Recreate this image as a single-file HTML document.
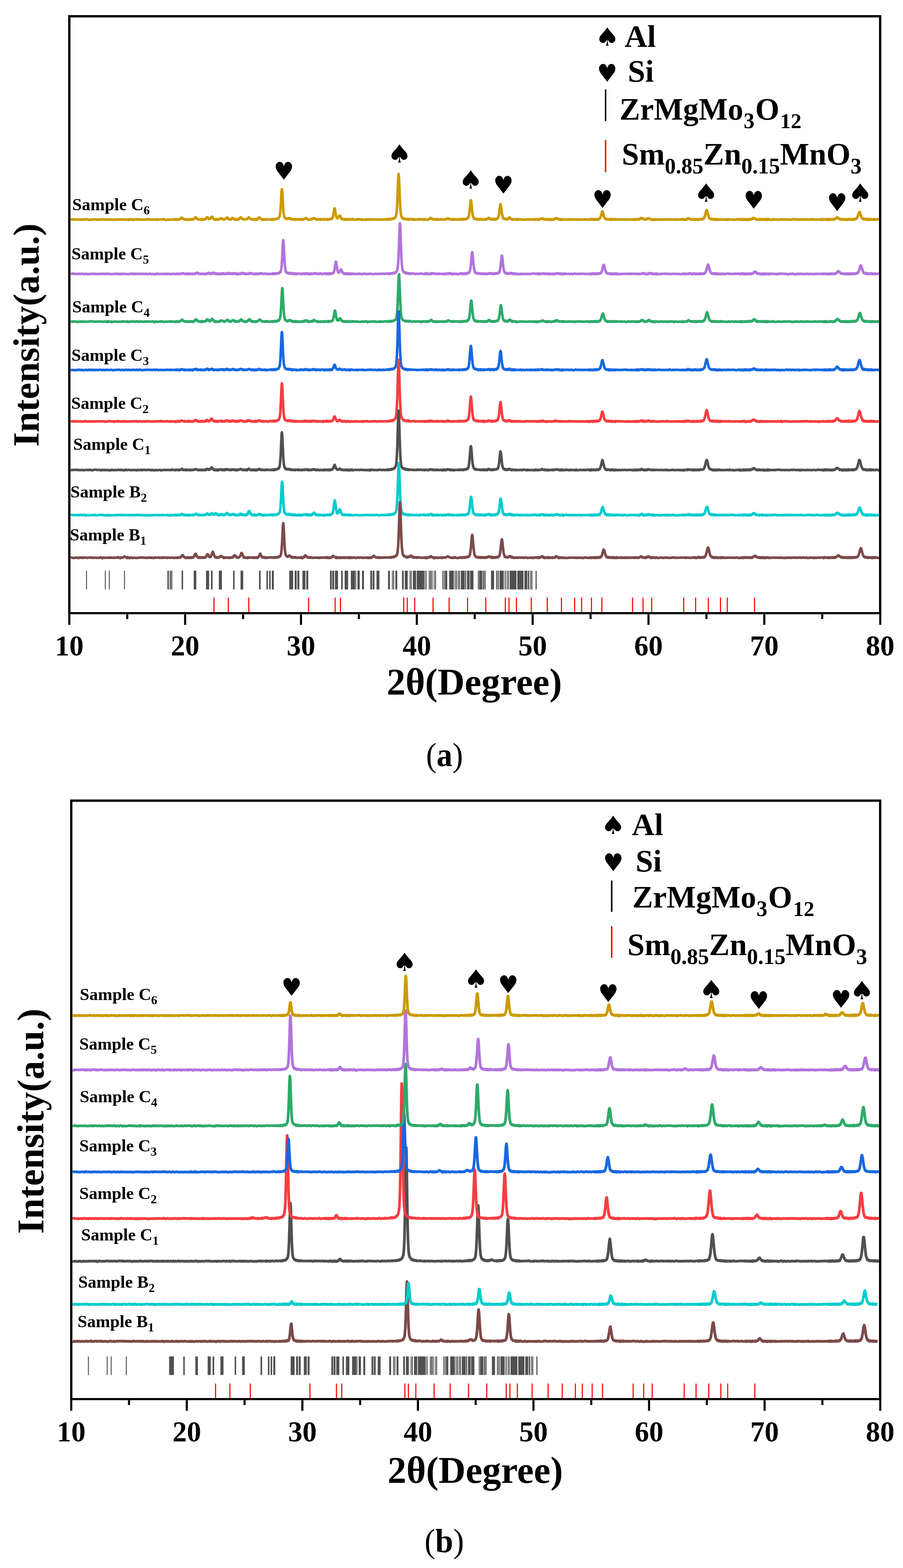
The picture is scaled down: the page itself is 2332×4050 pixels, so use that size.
<!DOCTYPE html>
<html><head><meta charset="utf-8"><title>XRD patterns</title>
<style>
html,body{margin:0;padding:0;background:#fff;}
svg{display:block;}
.t{font-family:"Liberation Serif","Times New Roman",serif;font-weight:bold;fill:#000;}
.n{font-family:"Liberation Serif","Times New Roman",serif;font-weight:normal;fill:#000;}
.sym{font-family:"DejaVu Sans",sans-serif;fill:#000;}
</style></head><body>
<svg width="2332" height="4050" viewBox="0 0 2332 4050">
<rect width="2332" height="4050" fill="#fff"/>
<g fill="none" stroke-width="6.6" stroke-linejoin="round" stroke-linecap="butt">
<path stroke="#CC9A04" d="M182.5 567.6l 2-.3 2-1 2 .7 2 .3 2-.6 2 .4 2-.1 2 0 2-.1 2 .3 2 .3 2-.9 2 .9 2-.4 2 .1 2-.7 2 .6 2 .6 2-1.2 2-.4 2 .1 2 .9 2 1 2-.6 2 .2 2-.7 2 .6 2-.7 2 .4 2-.4 2-.2 2 .4 2-.3 2 .8 2-.5 2 .1 2-.4 2 .8 2-.9 2 .6 2-.5 2-.2 2 .2 2-.2 2 .3 2-.1 2 .3 2 .1 2-.3 2 .1 2 .1 2-.3 2 .5 2 .1 2-.3 2 1 2-.7 2-.5 2-.1 2 .1 2-.1 2 .7 2-.8 2 .3 2-.2 2 .7 2-1.1 2 .4 2 .1 2 .2 2 .1 2-.3 2 .5 2-.3 2 1 2-1.8 2 1 2-.8 2 .1 2 1.3 2-.1 2-1.6 2 .7 2 .1 2-1 2 1 2 .2 2-.1 2-1 2 1.4 2-.4 2-.1 2-.3 2 .6 2 .1 2-.6 2 .2 2 .4 2-1.3 2 .9 2-.9 2 .5 2 .6 2-.3 2-.1 2 .1 2 .5 2-.1 2-.7 2 .5 2-.3 2 1.3 2-1.4 2 .1 2 0 2 0 2 .2 2 .1 2-.8 2 .4 2-.3 2 1.1 2 .6 2-.5 2-.5 2 .3 2-.4 2 .7 2-.4 2-.4 2-.4 2 .2 2 .4 2-.7 .7 .4 1 .7 .3-.5 .7 .8 1-.2 .3-.8 .7-.5 1 .6 .3-.2 .7 .4 1 .5 .3-1.2 .7 .3 1 .3 .3 .3 .7-.3 1-.1 .3 .4 .7-.5 1-.7 .3 0 .7-.8 1-.2 .3-.1 .7-2.4 1 1.1 .3-.8 .7 .1 1 .4 .3-1.1 .7 1.1 1 1.3 .3 .1 .7 1 1 .2 .3-.4 .7 1.2 1 .4 .3-.2 .7-.5 1 .2 .3 .4 .7 0 1 .2 .3-.6 .7-.5 1 .4 .3 .5 .7 .1 1 .7 .3-1 .7 .1 1-.2 .3-.1 .6 .5 .1-.1 .9-.3 .4-.4 .6 .4 1-.1 .4 .7 .6-.1 1-.9 .4 1 .6-.8 1 .3 .4 .5 .6-1 1 .4 .4-.6 .6-.4 1 1.2 .4-.5 .6-.5 1-.8 .4 .3 .6 .3 1-1.5 .4-.9 .6-.8 1-.7 .4-1.1 .6 1.2 1 0 .4 .8 .6-.2 1 1.9 .4 .4 .6-.4 1 1.5 .4 .3 .6-.2 1 .3 .4 .4 .6-.1 1-.4 .4 .7 .6-.1 1 0 .4-.1 .5 .2 .1-.3 .9-.3 .1 .1 .4 .8 .5-1.4 .1 1.2 .9-.9 .1-.1 .4 .3 .5 .3 .1 .4 .9-1.1 .1 1.6 .4-.3 .5-.6 .1 0 .9-.3 .5 .6 .5-.2 1 .6 .5-1 .5 .5 1-.4 .5-.4 .4 1.1 .1-.8 .9-.2 .1-.8 .5-.2 .4 0 .1-.3 .9-.5 .1-.1 .5-1.2 .4-.2 .1-.1 .9-1.1 .1-.5 .5-.2 .4 .3 .1 .4 .9-.5 .1 1 .5 .1 .4-.2 .1 .8 .9 1.4 .1-.2 .5 1.4 .4-.5 .1 .3 .9 .2 .1 .4 .5-1.4 .4 .7 .1 .3 .9 .1 .1-.2 .5 0 .4-.7 .1-.1 .9-1.4 .1 .1 .5-.5 .4-.7 .1 0 .9-1.8 .1-.2 .5-.4 .4 .3 .1 .6 .9-.1 .1 .2 .5-.3 .4 2.6 .1-1.6 .9 2.8 .1-1 .5 1.4 .4 .5 .1-.3 .9 .7 .1-.3 .5 .7 .4 .7 0-.3 .1-.5 .9 1.2 0-1.1 .6 .7 .4-.4 0 0 1 1 0-.7 .6-.5 .4 .5 0 .6 1-.7 0 .9 .6-.1 .4-.4 0 .5 1 .3 0-1.7 .6 1.4 .4-.3 0-.4 1 .5 0-.2 .6-.4 .4 .9 0-.6 1 .4 0-.6 .6-.7 .4 .8 0-.2 1-.7 .6-.4 .4 .9 .9-.2 .1 0 .6-.8 .3-.4 .1 0 .9-.6 .1 .4 .6-.8 .3-.4 .1 .5 .9 .4 .1-.2 .6 .4 .3 1.2 .1-.6 .9-.4 .1 .9 .6-.9 .3 1.4 .1 0 .9 .1 .1-.4 .6 .1 .3 .7 .1-.5 .9 .7 .1-.6 .6 .1 .3 .5 .1-.4 .9-.2 .1 .2 .6-.1 .3-.4 .1 .2 .9-.7 .1 .2 .6-.5 .3-.2 0 .1 .1-.8 .9-1 0 .4 .1 0 .6-.2 .3-1 0 .6 .1 .1 .9-1.3 0 1 .1 .4 .6-.4 .3-.3 0 .1 .1 .3 .9 .6 0-1.2 .1 2.1 .6-.3 .3 .4 0 .6 .1-.3 .9 .4 0 .2 .7 .7 .3 .1 0-.3 1 .7 0 0 .7-.4 .3-.2 0 .6 1 .1 0-.5 .7 0 .3 .4 0-.2 1 .3 0-.4 .7 .6 .3-1 0-.7 1-.3 0 0 .7-1.2 .3 .8 0-.3 1-.7 0-.2 .7-.5 .3 .4 0-.3 1 .7 0-.4 .7 .2 .3 .9 0 .1 .9 .8 .1-.2 0 .7 .7-.5 .2 .9 .1-.9 .9 .6 .1 .1 .7 .3 .2 .9 .1-1 .9-.1 .1 .9 .7-.3 .2-.7 .1 .8 .9 .3 .1-.6 .7 .9 .2 0 .1-1 .9 .7 .1-1.3 .7 1 .2-.5 .1 .8 .9-.9 .1 .9 .7-.9 .2 .1 .1-.1 .9 .2 .1-.7 .7 .6 .2-.7 .1 1.2 .9-1.8 .1-.3 .7-.1 .2-.9 .1 .6 .9-1.7 .8-.4 .2-.4 1-.3 .8-.2 .2 .2 1 2 .8 .9 .2 0 0-.6 1 1.9 0-.7 .8 .7 .2 .6 0-.5 1 .4 0-.1 .8 .1 .2 0 0 .1 1 .4 0-.2 .8-.4 .2 .5 0 0 1 .1 0 .2 .8-.1 .2-.5 0 0 1 .1 0-.1 .8-.4 .2 .5 0-.4 1-.1 0 0 .8 0 .2-.1 0 .1 1-.2 0 .5 .8-1.5 .2 .9 0-.3 1-1 0-.4 .8-.8 .2 0 1-1.1 .8-.9 .2 .5 1 .7 .8 .8 .2 .1 1 .6 .8 1.2 .2 .2 1 .5 .8 .6 .2 .1 1 .1 .8 .1 .2 0 .9 .1 .1-.2 .8 0 .1 .2 .1-.5 .9-.3 .1 .8 .8-.5 .1 1.3 .1-.4 .9 .2 .1-.2 .8-.5 .1 .4 .1 0 .9-.9 .1 1 .8-.7 .1-.2 .1 .9 .9-.6 .1-.2 .8 .9 .1-1.3 .1 .5 .9 .8 .9 .6 .1-1.2 1 .2 .9-1.2 .1 1.3 1-1.8 .9-1.8 .1 1.2 1-1.1 .9-1.3 .1 .4 1 .1 .9-.9 .1 .9 1 .3 .9 2.1 .1-.3 1 .4 .9 1 .1-.3 1 .8 .9-.1 .1 .6 1 .8 .9-1 .1 .2 1-.2 .9-.4 .1 .5 1 .2 .9-.1 .1-.3 1-.1 .9 .9 .1-.4 1 .2 .9-.9 .1 .9 1-1.3 .9 .9 2-.2 2 0 2-.3 2 .6 2-.2 2-.2 .5 .8 .5-.4 .5-.5 .5-.1 .5-.9 .5 .6 .5 .1 .5-.2 .5 .3 .5 .9 .5-.7 .5-.3 .5-.4 .5 .9 .5-.6 .5 .9 .5-.8 .5 .5 .5-.4 .5-.3 .5 0 .5 .2 .5-.4 .5-.7 .5-.2 .5 .4 .5-.1 .5 .3 .5-.2 .5 .1 .5-.4 .5 .2 .5-.3 .5 .2 .5-1.1 .5-.7 .5 .2 .5 .3 .5-1.1 .5-.5 .5-1.2 .5-.9 .5-1.1 .5-2.7 .5-2.1 .5-3.8 .5-5 .5-6.2 .5-7.9 .5-7.8 .5-9.6 .5-10.1 .5-7.9 .5-6.1 .5-1.3 .5 1.5 .5 5.4 .4 6.8 .1 2.3 .5 9 .4 6.8 .1 2.4 .5 8.9 .4 5.3 .1 3.1 .5 5.4 .4 4.8 .1 0 .5 3.9 .4 2.1 .1 1.2 .5 2.1 .4 .8 .1 .7 .5 1.1 .4 .5 .1-.4 .5 .2 .4 .2 .1 .1 .5 .9 .4-.2 .1 .6 .5 1 .4-.6 .1-.8 .5 1.5 .4-.4 .1-.1 .5 .2 .4-.4 .1 .7 .5 .4 .4-.8 .1 .7 .5 0 .4-.5 .1 .6 .5-1 .4 .6 .1-.3 .5-.2 .4 .1 .1-.2 .5-1.2 .4 .1 .1 0 .5 .2 .4 .3 .1 .1 .5-.3 .4-.3 .1-.5 .5 1.1 .4-.3 .1-.5 .5 .5 .4 1.1 .1 .2 .5-.7 .4 1.6 .1-.5 .5 .2 .4-.6 .1 1.5 .5-.7 .4-.2 .1 .2 .5 .2 .4-.3 .1 .8 .5-.3 .4-.7 .1 .4 .5 0 .4 .1 .1 .2 .9 .3 .1-.2 .9 .1 1-.2 .1 .6 .9-.4 1 1.1 .1-1.3 .9 .4 1 .6 .1-1.1 .9 .1 1-.1 .1 .5 .9-.1 1.1 .2 2 .5 2-1 .7 .3 1 .4 .3-1.3 .7 .9 1 0 .3-.1 .7 .4 1 .4 .3-.7 .7 1.2 1-1.3 .3 .3 .7 .1 1-.8 .3 .9 .7-.3 1 .1 .3 .3 .7-.5 1 .2 .3-1.1 .7 .2 1 .1 .3-.7 .7-1 1-.5 .3 .1 .7-.4 1 1 .3-1.4 .7 1.4 1 .3 0 0 .3 .6 .7 0 0 .8 1-.2 0 .1 .3 .7 .7-.1 0-.1 1 .1 0-.5 .3 .6 .7 .9 0-1.1 1-.3 0-.2 .3-.2 .7 .7 0-.1 1 .7 0-.5 .3 .3 .7 0 0 .3 1-.7 0 .5 .3-.2 .7-.7 0 0 1 .5 0-.4 .3-.9 .7 .9 0 0 1-.4 0 .5 .3-1 .7-1 0 1 1-1 .3 0 .7-.4 1-.6 .3-.2 .7 .4 1 .7 .3 .1 .7 .8 1 .5 .3 .3 .7-.2 1 .6 .3-.3 .7 .1 1 1.2 .3-1.1 .7 .7 1-1 .3 .7 .7 .6 1-.1 .3-.7 .7 .7 1-.5 .3-.3 .7-.1 1-.4 .3 1.1 .7 .2 1 .4 .3-.9 2 0 2-.1 2 .3 .5 0 .5-.8 .5 .9 .5 0 .5-.1 .5-.2 .5-.8 .5 .9 .5-.1 .5-.2 .5 .3 .5-.2 .5 .1 .5 0 .5-.2 .5-.3 .5-.1 .5 .7 .5-.2 .5 .2 .5 0 .5-.3 .5 .9 .5-1.1 .5 .3 .5-.3 .5 0 .5-.3 .5 .7 .5-.5 .5 .5 .5 .1 .5-.5 .5-.3 .5 .3 .5 .1 .5-.1 .5-.9 .5 1.2 .5-1.2 .5-.4 .5 .8 .5-.7 .5 0 .5-.3 .5 .2 .5-1.4 .5-.7 .5-1.5 .5-1.7 .5-1.2 .5-2.5 .5-2.3 .5-4.2 .5-2.8 .5-3 .5-3.9 .5-1.8 .5 .1 .5 .5 .5 1.6 .5 3.4 .5 2.4 .5 3 .5 3.8 .5 2.8 .5 2.6 .5 1.6 .5 1.7 .5 .3 .5 1.5 .5-.3 .5 1.1 .5-.5 .5 0 .5-.5 .5-.4 .5-.7 .5-1.4 .5-.6 .5-1 .5-.6 .5-.7 .5-1 .5 .1 .5 .3 .5 .4 .5 0 .5 2.2 .5 1.8 .5 .2 .5 1.5 .5 .1 .5 .7 .5 1.8 .5-.6 .5-.1 .5 1.2 .5-.2 .5 .2 .5-1 .5 .8 .5 .3 .5-.1 .5-.3 .5 .3 .5 .8 .5-.8 .5 .5 .5 .5 .5-.8 .5 0 .5 .7 .5 0 .5-.2 .5-.9 .5 .8 .5-.1 .5 0 .5 .7 .5-1.2 .5 1.3 .5-1.6 .5 .3 .5 .5 .5-.2 .5 .4 .5 .1 .5-.8 .5 .4 .5 .2 .5-.7 .5 .5 .5 .1 .5 .2 .5-.4 .5 .7 .5-.5 .5-.1 .5-.6 .5 .3 .5 .2 .5-.4 .5 .4 2-.1 2-1.1 2 1.9 2 .1 2-.3 2-.2 2 0 2-1.1 2 1.1 2-.7 2 .3 2-.2 2 .6 2 1.2 2-1.4 2 .8 2-.4 2 .5 2-.2 2-1.3 2 1.3 2-.3 2-.7 2 .7 2-.9 2 .8 2 .4 2-.4 2-.7 2 .4 2 .3 2 .2 2-.3 2-.2 2-.1 2 .4 2 .5 2-.4 2-.6 2 .8 2-.6 2 .7 2-.8 2 .5 2-.7 2 0 1.9 .7 .1-1.2 .4 .6 .5-.3 .5 .3 .5-.1 .1 1 .4-.9 .5-.7 .5 .3 .5 .5 .1-.5 .4 .5 .5 .2 .5-.2 .5-1 .1 .3 .4 .2 .5-.8 .5 1.1 .5-.5 .1 0 .4 .2 .5-.5 .5 .9 .5-.4 .1-.9 .4 .5 .5-.3 .5 .5 .5-.1 .1 .3 .4-.9 .5 0 .5 .1 .5-.1 .1-.5 .4 .6 .5-.5 .5-1.3 .5-.1 .1 .6 .4 .9 .5-.4 .5-.6 .5-.6 .1 .1 .4 .1 .5-.8 .5 .3 .5-.4 .1-.3 .4-1.3 .5-.6 .5-1 .5-1.2 .1-1.1 .4-.4 .5-3.5 .5-3.1 .5-4.8 .1-1.2 .4-4.5 .5-8.2 .5-9.4 .5-11.3 .1-3.1 .4-9.4 .5-13.5 .5-14.1 .5-11.1 .1-2 .4-5.7 .5-2.8 .5 3.7 .5 6.5 .1 2.3 .4 10.1 .5 13.1 .5 12.6 .5 13.4 .1 1.8 .4 9.4 .5 9.7 .5 8.3 .5 4.7 .1 1.4 .4 4.3 .5 2.8 .5 2.8 .5 2.6 .1-.5 .4 1.2 .5 1.3 .5 .1 .5 2.3 .1-1.4 .4 0 .5 1.3 .5 .2 .5 .9 .1 .1 .4-.9 .5 .5 .5 .2 .5 1.7 .1-1.1 .4 .9 .5-.5 .5 .1 .5-.5 .1 .7 .4 .5 .5-.3 .5 .3 .5 0 .1 1 .4-1.4 .5 .8 .5 0 .5 .1 .1 .5 .4-1 .5 0 .5 .4 .5 .3 .1-.9 .4 .6 .5-.2 .5 1 .5 .1 .1-.7 .4 .4 .5-1.3 .5 .7 .5-.3 .1 .5 .4 .5 .5-.6 .5 .2 .5 1 .1-.7 .4 1 .5-1.2 .5-.8 .5 1.1 .1-.4 2-.4 2 .3 2-.4 2 1.8 2-1.6 2 1.6 2-1 2 .2 2 .1 2 .3 2-1.2 2 .9 2-1 2 1.1 2-.4 2 .1 2 .7 1.8-1.4 .2 .8 .8 .3 1-.2 .2 .8 .8-.6 1-.8 .2 .3 .8 .1 1 .6 .2-.1 .8-.2 1 0 .2-.1 .8 .1 1-.1 .2 .7 .8-.5 1-.2 .2-.1 .8-.2 1-1.4 .2 .7 .8-1.1 1 .4 .2-.9 .8-.5 1 .3 .2-1.1 .8 .1 1 1.5 .2 .1 .8 .7 1 .3 .2 .4 .8-.1 1-.1 .2 1 .8-.2 1-.5 .2-.1 .8 .2 1 .7 .2-.6 .8 .6 1-.8 .2 .5 .8 .3 1-.5 .2 0 .8-.2 1 1 .2-.7 .8 .3 1-.8 .2 .5 2 .3 2 .3 2-.3 2-.8 .7 .8 1 0 .3 .2 .7 0 1-.6 .3 .3 .7 .3 1 .1 .3-.8 .7 .1 1 .5 .3-.3 .7 0 1 .5 .3-.3 .7 .1 1 0 .3-.8 .7 .7 1-.5 .3-.8 .7 .5 1-.5 .3-.1 .7-.9 1 .2 .3-.9 .7 0 1 .9 .3-.1 .7 .3 1 1.3 .3-.7 .7-.4 1 1.3 .3-.2 .7 .1 1-.1 .3 0 .7 .2 1 .5 .3-.7 .7 .7 1-.4 .3 .3 .7 .6 1-.9 .3 .3 .7-.1 1 .5 .3-1.2 .7 .9 1-.4 .3-.4 .7 .2 1.3 .2 2 .3 2 0 2 .2 2-.8 .5 .4 .5 .1 .5 .2 .5-.7 .5 .3 .5-.6 .5 .5 .5-.3 .5 .1 .5 .5 .5-.2 .5-.3 .5 .9 .5-.2 .5-.4 .5-.3 .5 .5 .5-.5 .5 .1 .5 .3 .5-.3 .5-1 .5 1.1 .5 .4 .5-.4 .5-.4 .5 .9 .5-1.3 .5 1.2 .5-.9 .5-.5 .5 .9 .5 0 .5-.3 .5 .1 .5 .1 .5-.4 .5 .3 .5-.4 .5 0 .5-.7 .5-.2 .5-.4 .5 .6 .5-.9 .5-.2 .5-.4 .5-.5 .5-1.7 .5-.4 .5-.6 .5-2.7 .5-.9 .5-3.2 .5-3.9 .5-3.9 .5-4.7 .5-4.8 .5-5.5 .5-4.7 .5-4.1 .5-3.2 .5-1.7 .5 1.4 .5 2.8 .5 4.6 .5 3.6 .5 5.8 .5 6.9 .5 3.8 .5 4.6 .5 3.3 .5 2.1 .5 2.2 .5 2.1 .5 1.2 .5 .5 .5 .4 .5 1.6 .5 .6 .5-.8 .5 .9 .5 1.2 .5-1.1 .5 .5 .5 .2 .5 .7 .5-.8 .5-.1 .5 1.3 .5-.5 .5-.7 .5 .4 .5-.1 .5 .8 .5-.9 .5 1 .5 .2 .5-.3 .5-.6 .5 .4 .5 .8 .5-1 .5 .4 .5 .6 .5-.9 .5 .7 .5 .7 .5-.6 .5-.4 .5 0 .5-.4 .5 .7 .5-.4 .5-.7 .5 1 .5-.7 .5 .7 .4 .8 .1-1.4 .5 .5 .4 .1 .1-.4 .5 .7 .4-.1 .1-.5 .5-.1 .4-.2 .1 1.1 .9-.7 .6 .4 .4-.5 1-.1 .6-.3 .4 .4 1 .6 .6-.6 .4 .4 1 .6 .6-.5 .4-.6 1 1.1 .6-1.5 .4-.3 1-.4 .6 .3 .4-1 1-.2 .6 .3 .4-1 .7-.7 .3 .1 .2-.5 .4 1.2 .1 .4 .3-.1 .2-.8 .5 .6 .3-.3 .2 1.1 .4-.5 .1 .7 .3 .1 .2 .3 .5-.1 .3 .4 .2-.1 .4-.4 .1 .3 .3 .5 .2 .8 .5 .5 .3-.7 .2 .2 .4-.5 .1-.3 .3 .7 .2-.6 .5 .3 .3 .6 .2-.3 .4-.1 .1 0 .3-.6 .2 .6 .5 .1 .3-.4 .2 .2 .4-.1 .1 .3 .3 .3 .2-.1 .5-.4 .3-1.4 .2 1.3 .4 .7 .1-.4 .3-.8 .2 .6 .5 .6 .3-1.2 .2 .2 .4 .8 .1-.7 .3 0 .2 .6 .5-.2 .3 .5 .2-.9 .4 .8 .1-.9 .3-.4 .2 0 .5-.4 .3 .2 .2-.1 .4 .7 .1-.4 .5 1 .5-1.5 .5 .2 .4 .5 .1-.3 .5 .2 .5-1 .5 .4 .4-1.1 .1 1 .5-1.5 .5-.9 .5 .2 .4-.9 .1-.8 .5-1 .5-2.2 .5-1 .4-2.4 .1-.8 .5-2.8 .5-4.5 .5-4.2 .4-3.5 .1-.4 .5-3.8 .5-4.3 .5-.8 .4-1.8 .1-.1 .5 1.3 .5 2.3 .5 4 .4 2.9 .1 1.1 .5 3.2 .5 4.9 .5 3.3 .4 2.6 .1 .7 .5 1.7 .5 3.2 .1-.3 .4 2.1 .4 1.2 .1 0 .1 .5 .4 .8 .5 1.3 .1-.8 .4 .1 .4 .6 .1-.2 .1 .1 .4 1.4 .5-.6 .1 .5 .4-.6 .4 .1 .1 .1 .1 .2 .4 .7 .5-.1 .1-.4 .4 .5 .4-.8 .1 .5 .1 .2 .4-.3 .5 .2 .1 .3 .4-.2 .4 .3 .1 .3 .1-.7 .4-.1 .5 .4 .1-.4 .4 0 .4 0 .1-.6 .1 1.4 .4-.6 .5 .9 .1-.1 .4-.8 .4 .9 .1-.5 .1-1.4 .4 .9 .5-.7 .1 .6 .4-.5 .4-.6 .1 .3 .1-.1 .4-.7 .5-1.4 .1 .8 .4-.6 .4 .6 .1-1.4 .1-.1 .4 .5 .5 .1 .1 .3 .4-.6 .4-.5 .1 1.4 .1-.6 .4 .5 .5 1.1 .1-.5 .4-.3 .4 1.6 .1-1.2 .1 .9 .4 .7 .5 .8 .1-.6 .4-.1 .4 .5 .1-.2 .1 .6 .4-.3 .5 .6 .1-.6 .4 .4 .4 .5 .1 0 .1 0 .4 .3 .5-1 .1 .5 .8 .5 .2-.5 1-.2 .8 .2 .2 .1 1-.3 .8-.1 .2 .2 1 .4 .8-.6 .2 .1 1 .4 .8-.4 .2-.1 1-.3 .8 .9 2 .8 2-1.7 2 .9 2-1 2 1.1 2 0 2-.1 2-.1 2 .7 2-.3 2 .2 2-.5 2-.2 2-.5 2 .5 2 .2 2 .4 2-.8 2 .6 2-.7 2 .1 2 .6 2-.6 1-.1 1 .8 0 .4 1-1.4 1 .6 0-.1 1 0 1-.6 0 .7 1-.5 1 1 0-1.3 1 .5 1-.1 0 .6 1 .8 1-1.3 0 .9 1-1.3 1 .1 0 .3 1-.7 1-1.3 0 .8 1 0 1-1.5 0 1.3 1-.9 1-.2 0 .3 1 .7 1-.1 0 .5 1 .6 1 .8 0-1.5 1 1 1 .1 0 .5 1 .2 1-.5 0 .3 1-.1 1-.2 0-.6 1 .5 1 .6 0-.1 1-.3 1-.9 0 1.6 1-.5 1-.5 0 .1 1 .1 1 .4 .4-.9 1 .9 .6-.1 .4 .1 1 .2 .6-1.2 .4 1.9 1-1.3 .6-.3 .4 1 1-.5 .6-.1 .4 .4 1 .4 .6-.9 .4-.7 1 1.2 .6-1.3 .4 .3 1 .3 .6-1.3 .4 .8 1-1.6 .6 .8 .4-1 1-.5 .6-.5 .4 .3 1 .2 .6 .3 .4-.3 1 1.6 .6-.6 .4 .8 1 .6 .6-.7 .4 1.5 1-.2 .6-.5 .4 1 1-.5 .6-.3 .4 .2 1 1 .6-.3 .4 .4 1-1.6 .6 0 .4 1 1 .2 .6-.3 .4 0 1 .3 .6-.4 .4-.6 1.6 .7 2-.2 2-.1 2 .9 2-.8 2 .3 2-.8 2 .9 2-.4 2-.7 2 1.4 2-.3 2-.7 2 .3 2-.3 2 .8 2-1 2 1.1 2-.1 2-.4 2 .9 2-1.2 2 .7 2-.6 2 .3 2 .1 2-.2 2-.1 2 .2 2-.5 2 .8 2-.1 2 .3 .2-.4 .5-.1 .5 .1 .5-.8 .3 .3 .2-.1 .5-.6 .5 .8 .5 .4 .3-.2 .2-.2 .5-.6 .5 .9 .5-.3 .3 .3 .2-1.1 .5 1.4 .5-.1 .5-.5 .3-.1 .2 .8 .5-.5 .5 0 .5-.6 .3 1.2 .2 .1 .5-.8 .5 .6 .5-1.1 .3 .5 .2 .3 .5-.6 .5 .2 .5 .3 .3-.2 .2 .2 .5-.3 .5-.3 .5-.7 .3 1.1 .2-.3 .5 .8 .5-.5 .5 .3 .3-.8 .2 .4 .5-.2 .5 .6 .5-.2 .3 .2 .2 0 .5-.5 .5-.3 .5-.3 .3 .2 .2 .2 .5-.2 .5 1.1 .5-1.1 .3-.1 .2 .1 .5-.1 .5 .2 .5 0 .3-.2 .2-.5 .5-.4 .5 0 .5 .1 .3-1.2 .2 .6 .5-1.1 .5-.4 .5-.9 .3-.6 .2-.1 .5-.9 .5-2.3 .5-1.5 .3-.6 .2-1.6 .5-1.4 .5-1.4 .5-2.6 .3-1.3 .2-.7 .5-.2 .5-1.3 .5 1.1 .3 .4 .2 1 .5 1.4 .5 .9 .5 2 .3 1.9 .2 .9 .5 2 .5 1.3 .5 1.6 .3 1.3 .2-.9 .5 2 .5 .5 .5 .5 .3 .4 .2 .9 .5-.8 .5 1.3 .5 .4 .3 .5 .2-.7 .5-.1 .5-.3 .5 .8 .3-.4 .2 .5 .5-.1 .5 .4 .5-.3 .3 .1 .2 .6 .5-.5 .5 .6 .5-.9 .3 .6 .2 0 .5-.4 .5-.2 .5 .1 .3 .6 .2 .3 .5-.4 .5 .6 .5-.5 .3-.2 .2 .1 .5 .4 .5 .2 .5-1.4 .3 1 .2-.1 .5 .4 .5-.3 .5-.4 .3-.5 .2 .2 .5-.4 .5 1.9 .5-.9 .3-.1 .2 0 .5 .2 .5 0 .5-.5 .3 .6 .2-.4 .5 .5 .5-.3 .5 .4 .3-.2 .2-.9 .5 .5 .5 .6 .5-.3 .3 .2 .2-.4 .5 .5 .5-.6 .5 .8 .3-.5 .2-.4 .5 .6 .5-.1 .5-.4 .3-.6 .2 1.2 1.8 0 2-.2 2-.6 2 .3 2 .5 2-.7 2 .1 2 0 2 .8 2-.8 2-.3 2 .7 2 .5 2-1.1 2 .8 2 .1 2-.6 2 .2 2 .1 2-.1 2-.4 2 1.1 2-1.5 2 .5 .3 .2 1 .7 .7-1 .3 .9 1-.7 .7-.2 .3-.3 1 1.1 .7-.9 .3 .5 1-.1 .7 .3 .3-.7 1 .8 .7-.3 .3 0 1-.8 .7 1 .3-.4 1-.4 .7-.2 .3-1.5 1 .5 .7 .1 .3-1.9 1 0 .7 .2 .2-.8 .1 0 .9 .5 .1-.3 .7 1.5 .2-.2 .1-.5 .9 1.4 .1-.8 .7 1 .2-.2 .1 .8 .9 .4 .1-.4 .7 .5 .2-.5 .1 .5 .9-.6 .1 .5 .7 .3 .2-.5 .1 .4 .9 .2 .1-.4 .7 1.2 .2-1.2 .1 .2 .9-.7 .1 1.6 .7-.4 .2-1.4 .1 1.1 .9-.5 .1 .4 .7-1.6 .2 .3 .1 .1 .9 .1 .1-.2 .7-1.2 .2-.1 .1 .2 .9-.4 .1 .7 .7-1 .2 0 .1 .1 .9 .1 .8 1.3 .2-.3 1 .4 .8 .7 .2 0 1 1.2 .8-1.4 .2 1.4 1-.1 .8-.3 .2-.2 1 .3 .8-.2 .2 .7 1-.7 .8 2 .2-1.7 1-.3 .8 .1 .2 .1 1 .5 .8 .1 .2-.2 1-.5 .8 .3 .2 .3 1.8 .5 2-1.1 2 .7 2-.3 2-.4 2 .1 2 1.1 2-.6 2-.6 2 .2 2 .2 2-.1 2-.4 2 0 2 .7 2-.4 2-.3 2 .9 2-1 2 .6 2-.2 2 .3 2 0 2-.9 2 1.2 2-.5 2 0 2 1.1 2-1.3 2 .2 2 .2 2-.1 2-.4 1.4 .6 .6-.2 .4-.9 1 1.2 .6-.6 .4 .6 1-.3 .6 .4 .4-1.4 1 .7 .6-.3 .4 .3 1 .8 .6-.8 .4 1.2 1-1.5 .6 .5 .4 .2 1-.8 .6 .3 .4 .3 1-.2 .6-.3 .4-.3 1-1.8 .6 .7 .4-.8 1-.4 .6 .1 .4 .2 1 .6 .6-.4 .4 1.5 1 .8 .6 .2 .4-.1 1 .2 .6-.2 .4 .7 1-.4 .6 .1 .4-.6 .6 .1 .4-.3 .1 .5 .5 .3 .4-.6 .1 1.1 .5-.6 .4-.7 .1 1 .5-.8 .4 .5 .1-.2 .5-.5 .4 .5 .1 0 .5-.1 .4 .7 .1-.5 .5 .8 .4-1.2 .1 .1 .5 .2 .4 .2 .1 0 .5 .5 .4-.2 .1-1.1 .5 .3 .5 .7 .5-.6 .5 .2 .5-.1 .5-.1 .5 0 .5 .3 .5-.1 .5-.6 .5 1.3 .5-.4 .5 .5 .5-1.3 .5 1 .5-1.2 .5 .4 .5 .1 .5-.5 .5 1.2 .5-.1 .5-.9 .5 .1 .5 .1 .5 .4 .5-.9 .5 .5 .5-.4 .5 .3 .5-.6 .5 .3 .5 .1 .5-.3 .5-.2 .5 .3 .5-.6 .5 .9 .5-1 .5-.4 .5 .4 .5-.1 .5-1.3 .5 .6 .5-1.4 .5-1.4 .5 0 .5-.5 .5-2.1 .5-1 .5-2.3 .5-1.9 .5-1.2 .5-3.3 .5-1.6 .5-2.1 .5-.6 .5-2.5 .5 1.6 .5-.4 .5 .7 .5 1.4 .5 2.3 .5 1.7 .5 1.9 .5 1.8 .5 1.8 .5 2.8 .5 .8 .5 1.5 .5 1 .5 1.7 .5 .6 .5 0 .5 .5 .5 .7 .5-.4 .5 .9 .5-.1 .5 .4 .5 0 .5-.3 .5 1.2 .5-.9 .5 .7 .5-.3 .5-.5 .5 1 .5-.1 .5-.4 .5 .4 .5 .4 .5-.5 .5 .7 .5-.2 .5-.4 .5-.8 .5-.2 .5 1 .5-.1 .5 .4 .5-.7 .5 1.8 .5-1.8 .5 .6 .5 0 .5-.2 .5 .4 .5-.6 .5 0 .5 .5 .5 .7 .5-.2 .5 0 .5 .4 .5-.9 .5-.9 .5 1.4 .5 0 .5-.2 .5-.1 .5-.1 .5 .2 .5-.6 .5 .3 .5-.1 .5 .6 .5 0 .5 .1 .5-.7 .5-.2 .5 .5 .5-.7 .5 .3 2 .2 2 .1 2-.1 2-.3 2 1.1 2-.8 2 .8 2-1.4 2 1.4 2-1.3 2 .5 2 .4 2-.3 2 0 2 .5 2-.5 2 .9 2-.5 2-.5 2-.5 2 .7 2-.3 2-.3 .5 .5 .5-1.2 .5 1.1 .5 0 .5-.5 .5-.2 .5 1 .5-.7 .5 .7 .5 .2 .5-1 .5-.1 .5 .4 .5-.1 .5 .1 .5 .7 .5 .5 .5-.4 .5-.6 .5-.2 .5 .3 .5-.7 .5 .6 .5-1.2 .5 .9 .5 .3 .5-.3 .5 .9 .5 .4 .5-.8 .5 .3 .5 .1 .5-.6 .5-.8 .5 1.5 .5-1 .5 .4 .5-.4 .5 .7 .5 .5 .5-.5 .5-.2 .5 .3 .5-1 .5 .7 .5-.9 .5 .5 .5 1.2 .5-1.9 .5 .7 .5 1 .5-.8 .5 .1 .5-.7 .5 .9 .5-.7 .5 .1 .5-.8 .5 .1 .5 .2 .5-.7 .5 1.5 .5-.2 .5-.4 .5-.4 .5 .6 .5-1.4 .5 .5 .5-.5 .5-.4 .5-1.6 .5 .5 .5-.2 .5 .7 .5-.2 .5-.6 .5-.4 .5 1.1 .5 0 .5 .3 .5-.1 .5 1.3 .5-.8 .5 .4 .5 .2 .5 .2 .5 .5 .5 .6 .5-.9 .5 .8 .5 .7 .5-1.2 .5 .2 .5-.2 .5 .4 .5 .6 .5 0 .5-.2 .5 .1 .5-.1 .5 .6 .5-.6 .5 .5 .5-.6 .5 .2 .5 .2 .5-1.4 .5 1.7 .5-.7 .5 .3 .5-.8 .5 .8 .5 .1 .5-.4 .5 .4 .5-1 .5 .7 .5 0 .5 .2 .5 .9 .5-1.1 .5 .8 .5-1.2 .5 .9 .5-.4 .5 0 .5 .4 .5-.3 .5-.4 .5-.7 .5 1.2 .5 .2 .5-.6 .5-.1 .5 1 .5-1.1 .5 .6 .5-.8 .5 .6 .5-.5 .5 .6 .5-.9 .5-.4 .5 1.5 .5 .2 .5-.3 .5-.4 .5 .5 .5-.3 .5 1.1 .5-1 .5-1.3 2 1.1 2 .2 2 .8 2-.7 2 .4 2-1.5 2 1.3 2-.5 2 .5 2-.8 2 .6 2 0 2 .6 2-.7 2 .2 2-1 2 .7 2 .2 2-.5 2 .4 2-.7 2 1.1 2-.7 2 .7 2-.1 2-.4 2 .3 2 .1 2-.1 2 .2 2-1.1 2-.5 2 .3 2 .8 2-.2 2 0 2 0 2 1 2-1 2 .4 2-.1 2 .3 2-.9 2 .2 2 .3 2-.1 2-.5 2 .9 2-.7 2-.1 2 1 2-.4 2-.4 2 0 2 1 2-1.2 2-.1 2 .3 2 .1 2 .4 2-.1 2 0 2-.3 2 .3 2-.2 2 .2 2 .1 2-.1 1.5-1.3 .5 1.8 .5 .5 .5-.8 .5-.5 .5 0 .5 .7 .5-.2 .5-.5 .5 .5 .5-.2 .5-.2 .5 0 .5-.5 .5 .2 .5 .4 .5-.1 .5 .1 .5 .3 .5 .2 .5-.2 .5-.2 .5-.8 .5 .9 .5 0 .5-.1 .5-.1 .5 .7 .5-.2 .5-1 .5 1 .5-1.4 .5 1.3 .5 .4 .5-1.5 .5 .3 .5 .4 .5-.1 .5 .3 .5 .5 .5 .3 .5-.9 .5-.2 .5 .4 .5-1.1 .5 .9 .5-.2 .5 .3 .5-.5 .5 .4 .5 .2 .5 .1 .5 .2 .5-.6 .5 .3 .5-1.4 .5 1.6 .5-.5 .5-.7 .5 .7 .5-.3 .5 .1 .5-.3 .5 .1 .5 0 .5-.8 .5 .3 .5 .7 .5-1.6 .5 .1 .5-.3 .5 .1 .5-.6 .5-.3 .5-.5 .5-.3 .5 0 .5-1.1 .5 .1 .5-.2 .5-.5 .5 .7 .5-.6 .5 .7 .5 .5 .5 .8 .5-.8 .5 1.4 .5-.2 .5 1.3 .5-.5 .5 .4 .5 .3 .5 .1 .5 .7 .5 .2 .5-.3 .5-.4 .5 .4 .5 .3 .5 .3 .5 .3 .5-.9 .5-.6 .5 1.1 .5 .2 .5-.3 .5-.3 .5 .6 .5-.7 .5 .4 .5 .3 .5 .1 .5-.4 .5-.2 .5 .6 .1-1.1 .4 1.4 .1-.1 .4-.4 .1-.4 .4 .7 .1-.1 .4 .1 .1 .5 .4-1.4 .1 .7 .4 0 .1-.6 .4 .8 .1 .1 .4-.1 .1-.5 .4 .7 .1-.6 .4 .4 .1-.2 .4-.3 .1 0 .4 .1 .1 0 .4 1.1 .1-1.1 .4-.2 .1 .5 .4 .1 .1-.8 .4-.2 .1 0 .4 .2 .1-.1 .4 .8 .1-.8 .4 1 .1-1.2 .4 .6 .1 .9 .4-.5 .1-.9 .4 .7 .1-.3 .4-.3 .1 .8 .4-.5 .1 .2 .4 .5 .1-.3 .4-.4 .1-.6 .4 0 .1 .4 .4 .5 .1-.2 .4-1.1 .1 1.2 .4-.1 .1-.2 .4 0 .1 .4 .4-.3 .1 .4 .4-.5 .1-.2 .4 .5 .1 .3 .4-.3 .1 .5 .4-.3 .1-1 .4 1.2 .1-.4 .4-.8 .1 .7 .4 .5 .1-1 .4 .9 .1-.1 .4-.6 .1 .2 .4 .1 .1 .4 .4-.3 .1-.7 .4 .1 .1 1.5 .4-.6 .1-.2 .4 .2 .1-.5 .5 .2 .5-.8 .5 .6 .4 .5 .1-1.6 .5 1.3 .5-.8 .5-.1 .4 .4 .1 0 .5-.1 .5 .4 .5-.8 .4 .1 .1-.2 .5 .8 .5-.5 .5-1.3 .4 1.2 .1-.8 .5 .2 .5 0 .5-1.3 .4-.3 .1 .3 .5-.8 .5-1.2 .5-.4 .4-.8 .1-1.3 .5-.6 .5-1.1 .5-2.1 .4-.7 .1-.2 .5-1.2 .5-2.8 .5-.9 .4-.9 .1 .8 .5-1.3 .5-.5 .5-.7 .4 1.6 .1 .2 .5 1.2 .5 1.5 .5 1.2 .4 .8 .1 .4 .5 .9 .5 1.9 .5 2.3 .4 1 .1-.3 .5 1 .5 1.1 .5 1.2 .4-.5 .1 .8 .5 0 .5 .8 .5 .9 .4 .4 .1-1.1 .5 1.5 .5 .1 .5-.6 .4-.2 .1 1.3 .5-1.2 .5 .5 .5-.5 .4 1 .1 .1 .5-.4 .5 0 .5 .7 .4-1.1 .1 .7 .5-.6 .5 .5 .5 .3 .4-.6 .1 1.2 .5-.6 .5-.9 .5 .7 .4-.4 .1 .5 .5 1.1 .5-1.6 .5-.3 .4 1.1 .1-.7 .5 .7 .5 .8 .5-1.3 .4 .1 .1 1.1 .5-.7 .5-1.1 .5 1.9 .4-1.3 .1-.2 .5 .3 .5-.1 .5 .7 .4 .4 .1-.6 .5 .3 .5 .2 .5-.5 .4-.9 .1 1 .5 .2 .5-.6 .5-1 .4 1.4 .1 .1 .5 0 .5-.1 .5 .1 .4-.2 .1 .1 .5 .4 .5-.7 .5-.2 .4 1.2 .1-.3 .5 .1 .5-1 .5 .5 .4-.6 .1 .3 .5 .5 .5-1.2 .5 1.7 .4-.8 .1-.9 .5 .7 .5 .6 .9-.7 2 .9 2-1 2 .1 2 .2 1.5-.1"/>
<path stroke="#B274DC" d="M182.5 708.3l 2-.9 2-.1 2-1 2 1.2 2-.1 2-.1 2 .3 2 .1 2-.7 2 .1 2 .2 2 .5 2-.1 2-.8 2 .1 2 .8 2 .4 2-.7 2-.3 2 .8 2-.6 2 .4 2 .4 2-.4 2-.3 2 .3 2-.6 2 .2 2-.2 2 .2 2-.1 2 .1 2-.1 2 .2 2 0 2 .1 2 .5 2-1.3 2 1.3 2-.7 2-.5 2 .5 2 .1 2 .5 2-1 2 .6 2-.1 2-.8 2 .3 2 .8 2 0 2 .2 2-.3 2 0 2-.1 2 .4 2-.9 2 .3 2 .3 2-.9 2 1.3 2-1 2 .4 2 1 2-1.4 2 .2 2 .9 2-1.2 2 .3 2 .4 2 0 2 .1 2-.1 2 .4 2-.1 2-.2 2-.6 2 0 2-.6 2 1.2 2-1.1 2 1.2 2 .4 2-1.3 2 .2 2 .1 2 .6 2-.8 2 .3 2-.1 2 .1 2 .7 2-1 2 .4 2 .1 2 .3 2-1 2 1.1 2-.3 2 .2 2-.4 2-.7 2 .4 2 .7 2-.4 2 0 2 .8 2 .2 2-1 2 .9 2-1.8 2 0 2 1.3 2-.5 2 .4 2-.1 2-.2 2 .3 2-.2 2-.8 2 .8 2 0 2 .7 2-1.3 2 .5 2-.2 2 .1 2 .8 2-.5 2-.4 2 .3 2 .2 2-.8 2 .4 2 .8 2-.3 .2-.4 1-.2 .8 .1 .2-.6 1 1.1 .8-.3 .2-.1 1-.6 .8 .2 .2 .6 1-.1 .8-.4 .2 .5 1 .2 .8-.8 .2 .1 1-.2 .8-.2 .2 .9 1-.3 .8-.2 .2-.7 1-.2 .8 .1 .2-.2 1 0 .8-.5 .2 .6 1 .6 .8 .1 .2 .1 1-.3 .8 .6 .2-.6 1 .8 .8-.5 .2 0 1 0 .8 .6 .2-.2 1 0 .8-.6 .2 .6 1-.7 .8 1.3 .2-.7 1 .1 .8-.1 .2-.7 1 .1 .8 .6 .2 .7 1-1.1 .8 .1 .1 .3 .1-.7 .9 0 .9 .6 .1 .1 1-.1 .9 .8 .1-.7 1 .2 .9 .6 .1 0 1-1.5 .9 .6 .1 .6 1-1.1 .9 .2 .1-.2 1-.1 .9 .1 .1 .5 1 .4 .9-.1 .1-.7 1-1.3 .9 .4 .1-.1 1-.1 .9-.4 .1-.7 1 1.1 .9-.7 .1 .6 1 .9 .9 .4 .1 .6 1-1.6 .9 1.4 .1 .2 1-.4 .9 .5 .1-.8 1 .8 .9 0 .1-.7 1 .1 .9 .2 0-.2 .1 .8 .9-.4 .1 .5 .9 0 0-.5 .1-.2 .9-.3 .1 .1 .9 0 0 .5 .1-.6 .9 .5 .1 0 .9-.3 0 .1 .1 .8 .9 0 1-1 0 .2 1-.1 1 0 0 .9 1-.5 .9 .2 .1 .2 0-1 .9 0 .1 .1 .9 .2 .1-.5 0 .3 .9-.1 .1 0 .9-.8 .1-.6 0-.3 .9 .8 .1-.3 .9-.8 .1 .2 0 0 .9-.4 .1 .9 .9-.1 .1 .2 0 .5 .9 0 .1 .3 .9 .3 .1-.1 0 0 .9 1 .1-.9 .9 .8 .1-1.1 0 .7 .9-.3 .1-.4 .9-1.2 .1 1.9 0-1.2 .9-.4 .1 .5 .9-.6 .1 .1 0-.2 .9-1 .1 1 .9-1 .1 .5 0 .2 .9 .5 .1-.6 .9 .4 .1 .1 0-.8 .9 1.1 .1-.1 .9 .3 .1 .7 0-.2 .9 1.1 .1 0 .9-1.4 0 .9 .1-.5 0 .7 .9 0 0 .3 1-.2 0 .2 .1-.5 .9-1 0 .6 1 .2 0 .2 .1-.3 .9 1.2 0-.8 1 .7 0-.8 .1 .9 .9-1.2 0 .8 1-.9 0 .8 .1 .5 .9-1.4 0 .3 1 .5 0-.2 .1-.5 .9 1.1 0-.5 1 .5 0-.4 .1-.7 .9 .2 1 .8 .1-1.3 .8 .2 .1 .5 .9 0 .1-.1 .1-1.1 .8 1.5 .1-1.1 .9 0 .1 0 .1-.1 .8-.2 .1 .3 .9 .9 .1-1.2 .1-.5 .8 1.6 .1-.1 .9 .3 .1 .5 .1-1.1 .8 .5 .1 .2 .9 .4 .1-.1 .1-.9 .8-.2 .1 .5 .9-.6 .1 1.2 .1-.7 .8 0 .1-.2 .9 .9 .1-.5 .1-.4 .8 .3 .1-.3 .9 .1 0 .3 .1-.7 .1 .3 .8-.3 0 .3 .1-.3 .9-.5 0-.3 .1 .4 .1-.6 .8 .6 0-.2 .1 .2 .9-.4 0-.1 .1 0 .1 .9 .8-.4 0 0 .1-.6 .9 1 0-1.5 .1 2.2 .1-.7 .8 .4 0-.7 1 .4 0 .7 .2-.3 .8 .4 0 .3 1-.2 0-1.1 .2 .4 .8-.1 0 .1 1-.6 0 .1 .2 .5 .8 0 0 .5 1-.5 0 .8 .2-1.5 .8 0 0 .7 1-.5 0-.3 .2 .7 .8 0 0 .1 1-.9 0 .2 .2 .1 .8 0 0 .5 1-.5 0 .4 .2-1.1 .7 1.5 .1 .4 0-.7 .9 .7 .1-1.2 .2 .6 .7-.4 .1 .8 .9 .2 .1-.8 .2 .2 .7 .2 .1 1.3 .9-1.1 .1 .1 .2 .1 .7 0 .1-.2 .9-.5 .1 .3 .2 1 .7-.6 .1-.3 .9-.4 .1 .5 .2 .1 .7-.3 .1 .6 .9-.7 .1 .2 .2 .5 .7-.4 .1 .4 .9-.7 .1-.1 .2 .3 .7-.3 .1 .4 .9-.7 .1-.2 .2 .1 .7-.2 1-1.2 .3 .4 .7-.2 1 .8 .3-.6 .7 1 1-.7 0 .6 .3 .6 .7-.3 0 .6 1-1.2 0 1 .3 .1 .7 0 0-.7 1 1.1 0-1.4 .3 1.5 .7-.2 0 .3 1-.6 0-.3 .3 .2 .7 0 0 .5 1-.4 0 .3 .3 .1 .7 .4 0-1.5 1 .7 0 .4 .3 0 .7-.6 0 .2 1 0 0 .1 .3-.4 .7-.1 0-.2 1 0 0 .8 .3-1.1 .7 .6 0 .4 1-1.2 .3 .8 .7-1.4 1 .7 .3-.8 .7-.3 1 1.1 .3 .8 .7-.8 1 .8 .3-.5 .7 .2 1 .7 .3-.2 .7 .4 1 .3 .3-1.1 .6 .3 .1 .3 .9 1 .1-1.2 .3 0 .6 .4 .1 .7 .9-1.2 .1 .2 .3 .1 .6 .3 .1 .7 .9-1.6 .1-.1 .3 .8 .6 .1 .1-1.2 .9 .7 .1 .7 .3-.6 .6 .4 .1-.1 .9 .2 .1-.1 .3-.1 .6 .4 1-.8 .4 .3 .6 .4 1-.9 .4 0 .6-.3 1-.5 .4 1.2 .6-.9 1 .3 .4-.6 .6-.4 1 0 .4 .4 .6 0 1 .9 .4-.7 .6 .7 1 .3 .4-.2 .6 0 1 .5 .4 0 .6-.3 1 0 .4-.2 .6 .5 1-.3 .4-.6 .6 .5 1 .4 .4-.1 .6-.5 1 .7 .4-.1 .6 0 1 .4 .4-.8 .6 .4 1.4-.4 2 .5 2 .1 2-.3 2 0 2-.7 1.5 .6 .5-.8 .5 1.5 .5-.5 .5-1.2 .5-.6 .5 1.8 .5-1 .5 .6 .5-.8 .5 .5 .5-.3 .5 .5 .5-.4 .5 .8 .5-1.1 .5 .9 .5-.6 .5 .2 .5-1 .5-.1 .5 1.2 .5-1.1 .5 .3 .5-.1 .5-.3 .5 .4 .5-.8 .5 0 .5 .8 .5-.9 .5 .6 .5-.2 .5 .2 .5-.7 .5-1.3 .5 .2 .5-.2 .5 .3 .5-.8 .5-1.1 .5-.4 .5-1.5 .5-1.3 .5-2.4 .5-2.7 .5-4.5 .5-5.2 .5-7.4 .5-8 .5-10 .5-10 .5-10.6 .5-9.3 .5-6.6 .5-2.3 .5 2.7 .5 5.2 .4 8.2 .1 .9 .5 11.4 .4 7.6 .1 3.2 .5 9.3 .4 6.2 .1 2.1 .5 7.3 .4 4.9 .1 .4 .5 3.1 .4 3.1 .1 1.1 .5 3.6 .4-.6 .1 .5 .5 1.6 .4 .6 .1-.6 .5 1.7 .4-.6 .1 .6 .5 1.1 .4-1 .1 .6 .5 1.1 .4-.7 .1-.2 .5 .4 .4 .7 .1-1 .5 .6 .4-.3 .1 .2 .5 1.2 .4-.6 .1-.1 .5 .5 .4-.5 .1-.2 .5 1.1 .4-.2 .1-.7 .5 .6 .4 .4 .1-.5 .5 0 .4-.9 .1 .5 .5-.8 .4 1.3 .1-.6 .5 .7 .4-.9 .1 .7 .5-1 .4 .6 .1 .4 .5 .1 .4-.1 .1-.7 .5 1.5 .4-.2 .1 .2 .5 .2 .4-.6 .1 .3 .5 1.1 .4-1.5 .1 .6 .5-.4 .4 1.1 .1-.7 .5-.5 .4 .2 .1-.3 .5-.4 .4-.2 .1 .9 .9-.1 .6 .6 .4-.5 1 .5 .6 .8 .4-1.4 1 0 .6 1 .4 .7 1-1.5 .6-.4 .4 .7 1-.1 .6 .6 .4-.8 1.6 .3 2 0 2-.5 .3 0 1 .9 .7 .1 .3-.7 1 1.1 .7-.3 .3-.2 1 .1 .7-.1 .3 .2 1 0 .7-.3 .3-1 1 .8 .7-.3 .3-.1 1 .8 .7-1.1 .3 1.1 1-.7 .7-.4 .3 .2 1 1.2 .7-.5 .3-.9 1 .4 .7 .3 .3-1.2 1 .3 .7 .7 .3-.2 .9-.1 .1 .9 .7-.3 .2 .1 .1 .8 .9-.8 .1 1 .7-1 .2-.2 .1 .1 .9 .4 .1-.1 .7-.1 .2-.9 .1 .2 .9 .4 .1 .5 .7 .3 .2-1.8 .1 1.1 .9-.2 .1 .2 .7 .1 .2-.5 .1-.2 .9 1.1 .1-.1 .7-.6 .2 .1 .1-.2 .9-.4 .1 .9 .7-.6 .2-.3 .1 .3 .9 .8 .1-.5 .7-.3 .2-.1 .1 .3 .9-.3 .8-1.1 .2 .4 1-.3 .8 .5 .2-.1 1-.6 .8 1.6 .2-.3 1-.7 .8 1.4 .2-.4 1 .3 .8-.2 .2 .1 1-.3 .8-.5 .2 .4 1 .4 .8-.1 .2 .3 1-.3 .8-1 .2 1.4 1-.8 .8-.2 .2 .5 1-.5 .8 .8 .2-.6 1 1.3 .8-1 2-.2 2 0 2-.7 .5 .6 .5 0 .5 .2 .5-.9 .5 1 .5 .6 .5-.8 .5 .2 .5 .2 .5-.6 .5 .2 .5 .6 .5-.3 .5-.7 .5-.3 .5 1.9 .5-.9 .5-.9 .5 .8 .5 .2 .5-.3 .5-.9 .5 1.7 .5-.6 .5-.4 .5 .4 .5-.5 .5-.1 .5 .6 .5-1.4 .5 1.3 .5-.3 .5 .1 .5 0 .5 .3 .5-.2 .5-.3 .5-.7 .5 .4 .5-.7 .5-.4 .5 .5 .5-.4 .5 .1 .5-2.1 .5 .6 .5-.9 .5-1.5 .5-1 .5-3.2 .5-2 .5-3.3 .5-3.2 .5-4 .5-3.1 .5-2.7 .5-2.3 .5-.7 .5 .2 .5 3.2 .5 1.9 .5 3.8 .5 3.8 .5 3 .5 3.3 .5 2.3 .5 2.7 .5 1 .5 1.1 .5 .3 .5 1.1 .5 .5 .5-.3 .5-.7 .5-.2 .5-.4 .5-.6 .5-1.6 .5 .5 .5-2.1 .5-1 .5-1.2 .5-.5 .5 .7 .5-1 .5 .9 .5 .9 .5 1.4 .5 2.2 .5 .2 .5 1.1 .5 .3 .5 1.4 .5 .9 .5 .1 .5 .4 .5 .7 .5 .1 .5-.1 .5-.2 .5-.3 .5 1.5 .5-1.4 .5 1.1 .5-.4 .5-.2 .5 .8 .5-.7 .5 .9 .5-1 .5 .7 .5 .4 .5-1 .5 1.4 .5-.6 .5-1.3 .5 1.6 .5 .3 .5-1 .5 0 .5 .3 .5-1 .5 .9 .5 .4 .5-.7 .5 .8 .5 .5 .5-1.9 .5 .1 .5 .5 .5 .6 .5-.1 .5-.6 .5-.1 .5 .2 .5 1.1 .5-1.2 .5 .2 .5 .7 .5-.6 .5-.3 .5 1.1 1-.5 2-.4 2 .1 2 .6 2-.6 2 .3 2 .3 2 .1 2-1.3 2 .6 2 .1 2 .2 2 .3 2 .1 2-.7 2-.3 2 .6 2-.4 2 1.1 2-.6 2-.2 2 .5 2-.8 2 .2 2 0 2 .4 2 .3 2-.3 2 0 2-.4 2 .2 2-.2 2 .6 2-.8 2 .2 2 .1 2 .3 2-.7 2 .2 2-.3 2-.3 2 1.1 2-.3 2-.9 2 .1 2 .7 2-.6 1.4-.3 .5 1.1 .1-.8 .4 0 .5 .4 .5-.6 .5 .3 .1 .1 .4 .2 .5-.7 .5 .8 .5-.4 .1 .7 .4-.7 .5-.4 .5-.1 .5-.3 .1 .5 .4 0 .5 .4 .5-.5 .5-.4 .1 .8 .4-.7 .5 .2 .5 .5 .5-.1 .1-1 .4 .3 .5 .5 .5-.2 .5-.3 .1 .1 .4-1.5 .5 .8 .5-.7 .5 .2 .1 .1 .4 .3 .5 .1 .5-.3 .5-.5 .1-.3 .4 .5 .5-.7 .5-1.2 .5 .4 .1 .2 .4-1 .5 0 .5 .1 .5-1.5 .1-.1 .4-.7 .5-1.6 .5-1.3 .5-2.3 .1-.2 .4-2.6 .5-3.1 .5-5.6 .5-6.4 .1-2.5 .4-6.5 .5-10.4 .5-12.4 .5-14.5 .1-2.7 .4-11.8 .5-14.7 .5-12.6 .5-8.3 .1-1.9 .4-2.3 .5 3.8 .5 9 .5 11.5 .1 4.4 .4 11.1 .5 15 .5 13.4 .5 12.8 .1 3.1 .4 8.3 .5 8.1 .5 6.4 .5 5.3 .1 1.5 .4 2.1 .5 2.7 .5 2.5 .5 2 .1-.7 .4 1.5 .5 .9 .5 .6 .5 .4 .1 .6 .4 .2 .5-.5 .5 1.8 .5-.3 .1 0 .4-.1 .5 .3 .5-.8 .5 1.2 .1 .5 .4 .1 .5-.4 .5-.7 .5 .7 .1 .4 .4 .8 .5-1.2 .5 .9 .5 .3 .1 .1 .4-.3 .5-1.1 .5 1.6 .5-.2 .1 .2 .4-.6 .5 .3 .5 .9 .5-.7 .1 .1 .4-.3 .5 1 .5-1.3 .5 .5 .1 .5 .4-.2 .5 .4 .5-.1 .5 .5 .1-.8 .4 .1 .5 .2 .5-.9 .5 1.4 .1-1 .4 .9 .5 .2 .5-.2 .6-.3 2-.3 2-.6 2 1.2 2-.3 2 .9 2-.9 2 .5 2-.5 2 .4 2-.3 2 .1 2-.8 2 .6 2 .2 2 .7 2-.5 2-.6 1.3 1.3 .7-.6 .3 .3 1-.9 .7-1.1 .3 1.2 1-.1 .7 .6 .3-.9 1 .3 .7-.2 .3 .7 1-.5 .7 1.1 .3-.3 1 0 .7-.5 .3 .2 1 .2 .7-.8 .3 .9 1-.7 .7 .4 .3 .4 1-.6 .7-1.4 .3 1 1-.8 .7 0 .3 .1 1-.1 .7 .8 .3-.4 1 1.1 .7-.2 .3-1.3 1 .8 .7 0 .3 .2 1 0 .7 .4 .3-.1 1-.4 .7 .7 .3 .2 1-.4 .7 .5 .3-.3 1-.5 .7 .1 .3 .2 1 .2 .7-.1 .3 .3 1 .1 .7-1 2 0 2 .4 2 .3 2 .2 .2-.1 1 0 .8-.7 .2 .6 1-.5 .8 .5 .2 .2 1-.7 .8 .2 .2 1.2 1-1.5 .8 .1 .2-.2 1-.2 .8 1.1 .2-.8 1 0 .8-.1 .2-.9 1 1.5 .8-.7 .2 .2 1 .5 .8-.9 .2 .1 1-.2 .8 .5 .2-1.2 1 .4 .8-.6 .2 1.1 1 .5 .8-.4 .2 1.2 1-.4 .8 .5 .2-.8 1 .8 .8-1 .2 .4 1-.1 .8-.3 .2 1 1-.2 .8-.9 .2 .7 1-.3 .8 0 .2 .2 1-.5 .8 .3 .2 .1 1-.4 .8 0 .2 .6 1.8-.4 2 1.1 2-.1 2-1.4 2 .5 .5-1.1 .5 .6 .5-.1 .5 0 .5-.6 .5 1.1 .5-.1 .5-.4 .5 .3 .5 .4 .5 .3 .5-1.3 .5 1.3 .5-1.5 .5 .3 .5 .2 .5 .9 .5-.5 .5 0 .5 .4 .5-.6 .5-.3 .5 .8 .5-.8 .5-.5 .5-.3 .5 .8 .5 .8 .5-.6 .5-.3 .5 .4 .5-1.3 .5 .8 .5-.5 .5 .8 .5-1.1 .5 .6 .5-.3 .5-.3 .5 .2 .5-.6 .5 .6 .5-1 .5-1.2 .5 1.3 .5-.6 .5-1 .5-.4 .5-1.4 .5-2.2 .5-2.5 .5-2.1 .5-2.9 .5-3.5 .5-5.6 .5-5.1 .5-4.7 .5-7 .5-5.8 .5-5 .5-2.2 .5-1.6 .5 1.2 .5 3.7 .5 4.6 .5 6 .5 5.6 .5 6 .5 5.2 .5 4.7 .5 3.1 .5 3.7 .5 2.5 .5 1.8 .5 1.7 .5 2 .5 .4 .5 .3 .5 .5 .5 .9 .5-.9 .5 1 .5 .7 .5 .3 .5-.3 .5 0 .5-1 .5 .6 .5 .4 .5 .3 .5 .1 .5-1.2 .5 .9 .5 .4 .5-.4 .5 .3 .5 .4 .5-.1 .5 0 .5 .3 .5 .2 .5-.6 .5-.3 .5 .1 .5 .2 .5 .2 .5-.7 .5 .4 .5 .2 .5 .8 .5-.4 .5-.3 .5 .5 .5-.3 .5 0 .5 .4 .5-.3 .4-.1 .1 .3 .5-.6 .4 .3 .1-1 .5 .8 .4 .9 .1-.9 .5 .2 .4-.2 .1-.2 .9 .6 1-.2 .1 .5 .9-.9 1 .5 .1-.2 .9-.1 1 .7 .1-.8 .9 0 1 1.4 .1-1.1 .9-.1 1 .2 .1-.7 .9 .4 1-.9 .1 .3 .9-.3 1 .6 .1-.3 .6 .5 .3-.1 .2-1.1 .5 .6 .3-.4 .1-.1 .1 .9 .5 .2 .3-.5 .2 .1 .5 .2 .3 0 .1 .1 .1-.6 .5 .8 .3-.5 .2-.2 .5 .6 .3 .2 .1 .3 .1-.2 .5 0 .3-.5 .2 .5 .5 0 .3 0 .1-.5 .1 1.1 .5-.4 .3 0 .2-.3 .5-.2 .3 .6 .1-1.1 .1 .4 .5 .1 .3 .4 .2-.4 .5 .7 .3-1.4 .1 1.5 .1-.6 .5 .3 .3-.7 .2 .7 .5-.7 .3 .3 .1-.8 .1 .9 .5-.2 .3-1 .2 .8 .5-.1 .3 .5 .1-.7 .1 .4 .5 .4 .3-1 .2 1.2 .5-.8 .3-.2 .1-.5 .1-.2 .5 1.1 .3-.7 .2-.1 .5 .7 .4-.3 .1-.3 .5-.8 .5-.4 .5 1.2 .4-.6 .1-.2 .5 .8 .5-1.4 .5 0 .4 .4 .1-.8 .5-1.2 .5-1.1 .5-.3 .4-2.4 .1 .6 .5-1.7 .5-3.5 .5-2.8 .4-3.4 .1-.2 .5-5 .5-5.2 .5-4.6 .4-3.9 .1-1.3 .5-3.9 .5-3.2 .5-.8 .4 1.3 .1-.8 .5 3.7 .5 4 .5 4.5 .4 4.9 .1 .7 .5 4.2 .5 4.8 .5 4.2 .4 1.6 .1 1.4 .5 2.4 .1 .9 .4 2.3 .5 .4 .1 .5 .3 .3 .1 .8 .5 1.1 .1-1.2 .4 2.3 .5 .6 .1-1.9 .3 .8 .1 .9 .5 .2 .1 .5 .4-.5 .5 1 .1-1.2 .3 .9 .1-.4 .5 .2 .1-.6 .4 .7 .5 .9 .1-.8 .3 .2 .1 .2 .5-.4 .1 .5 .4 .2 .5-.3 .1-.7 .3 1.6 .1-.7 .5 0 .1 0 .4-.2 .5-.4 .1 .7 .3 .1 .1 .4 .5 .3 .1-1.1 .4 1.1 .5-.7 .1 .2 .3-.8 .1 .6 .5-.6 .1 .7 .4-1 .5 .5 .1-.2 .3 .2 .1 0 .5-.2 .1-.4 .4 .5 .5-.2 .1-.6 .3 .6 .1-.6 .5 .3 .1-.1 .4 0 .5 .5 .1-1.1 .3 1.4 .1-1.3 .5 1.5 .1-.2 .4-.8 .5 1 .1-.3 .3-.3 .1 1.1 .5 .1 .1-.3 .4 .7 .5-.6 .1-.1 .3 .7 .1-.9 .5 .8 .1 .1 .4-.3 .5-.1 .1 .2 .3-.1 .1-.4 .5-1.3 .1 1.4 1-.4 .3 1.1 .7-.6 1 .3 .3 .3 .7 .1 1-.9 .3 1.4 .7-.5 1-.1 .3-.7 .7 1.3 1-.6 .3 .2 .7-.6 1.3 1 2-.2 2-.7 2 .9 2-1.3 2 .9 2-.1 2 0 2-.7 2 .2 2 .6 2 .1 2-.6 2 0 2-.2 2 .9 2-.7 2-.2 2-.6 2 .1 2 .3 2-.5 2 .8 2 0 .5-.3 1 .3 .5 .1 .5-.8 1 1.2 .5-1.6 .5 2.1 1-1.5 .5 .7 .5-.2 1 .3 .5-.5 .5 .6 1-1 .5 1.1 .5-.5 1 .3 .5 .2 .5-1 1 .2 .5-.1 .5 .2 1-.1 .5 .2 .5-.4 1-.3 .5 .2 .5 .2 1 .1 .5 .6 .5-1.2 1 .7 .5-.6 .5 .3 1 .8 .5 .3 .5-.8 1 .5 .5-.2 .5 .3 1-.2 .5-.3 .5-.8 1 .4 .5 .8 .5-.2 1 1 .5-.9 .5 .4 1-1 .5-.1 .5 .7 1 .7 .5-.6 .5-.3 1.4 .3 .1 .1 .9 0 1-.2 .1-.5 .9-.1 1 .3 .1 .2 .9-.5 1 1.3 .1-.5 .9-.5 1 .6 .1 .7 .9-1 1 0 .1 .4 .9-1.1 1 .3 .1-.1 .9 .6 1-1.3 .1 .9 .9-.6 1-.2 .1-.1 .9 .7 1-1.2 .1-.1 .9 .8 1-.2 .1 .5 .9 0 1 .3 .1 0 .9-.6 1-.1 .1 1.9 .9-1.4 1 .8 .1-.8 .9 .5 1-.1 .1 .8 .9-.8 1-.5 .1 0 .9 .8 1 .2 .1 .6 .9 0 1-1.6 .1 .6 .9-.5 1 .7 .1 .2 2-1.2 2 1.2 2 0 2-.5 2-.1 2 1 2-.8 2-.4 2 .5 2 .4 2-.1 2-1.2 2 .2 2 .5 2 .2 2 0 2-.6 2 1 2-.2 2-1 2 .3 2 .4 2-.6 2 .6 2 .1 2-.3 2 .5 2 .5 2-1.1 2 .5 2-.4 2 .9 1.7-.2 .3-.5 .2-.3 .5 .6 .5-.4 .5-.5 .3 .1 .2 .4 .5 1 .5-.4 .5 .1 .3-.2 .2 .2 .5 0 .5-1.2 .5 .8 .3 0 .2 0 .5-.1 .5-1.3 .5 1.2 .3-.7 .2 1 .5-.6 .5 .1 .5 .1 .3-.9 .2 .8 .5-.5 .5 1 .5-.7 .3-.3 .2 1.1 .5-.7 .5-.3 .5 .3 .3 0 .2 .2 .5-.6 .5 .9 .5-.3 .3 .6 .2-.5 .5-.7 .5 .9 .5-.7 .3 .2 .2-1.2 .5 .5 .5 1.2 .5-.2 .3-1.3 .2 .9 .5 0 .5 .4 .5-1.1 .3-.4 .2 .9 .5-.5 .5 0 .5-.2 .3 .9 .2-1 .5 .7 .5-.3 .5-.7 .3 .6 .2 0 .5-.7 .5-.7 .5 0 .3-1.1 .2 .3 .5-.3 .5-2.4 .5-1.4 .3 .3 .2-1.4 .5-1.5 .5-1.7 .5-2.5 .3-1 .2-1.4 .5-2.1 .5-1.8 .5-1.4 .3-1.2 .2-.1 .5-.2 .5 .3 .5 .9 .3 1.6 .2-.2 .5 2.9 .5 2.2 .5 2.2 .3 .6 .2 1.5 .5 1.8 .5 1 .5 1.9 .3 .3 .2 1.2 .5 1.5 .5 .6 .5-.2 .3 .3 .2 .6 .5 .4 .5 .7 .5-.3 .3 .8 .2-.7 .5 .9 .5-1 .5 .5 .3 .3 .2 .4 .5-.1 .5-.6 .5-.1 .3 .6 .2 0 .5-.1 .5 .2 .5-.5 .3 .8 .2 .2 .5-.8 .5 .1 .5 .9 .3 0 .2-.9 .5 .1 .5-.5 .5 1.1 .3-.1 .2-.1 .5 1 .5-1.1 .5 .1 .3 .1 .2-.2 .5 .6 .5-.5 .5 .1 .3 1 .2-1.3 .5-.3 .5 .7 .5-.4 .3 0 .2 .4 .5 .3 .5-1.1 .5 .6 .3-.8 .2 1.3 .5-.8 .5 .7 .5 .6 .3-.2 .2-.5 .5-1 .5 1.7 .5-1 .3 .5 .2-.6 .5 .2 .5 .8 .5-1.5 .3 .2 .2 .4 .5 .7 .5-1.6 .5 1.7 .3-.8 2 .5 2 .9 2-1 2 .3 2 .1 2-.7 2 .2 2-.1 2 .1 2-.2 2-.1 2 0 2 .6 2-.9 2 .6 2 .6 2-1.3 2-.1 2 1.1 2-.7 2 0 2 .6 2-.1 1.7-.4 .3 .1 .7-.5 1 .4 .3 .2 .7 .3 1 0 .3 .5 .7-.8 1 .5 .3-.3 .7-.6 1 .6 .3 0 .7 .1 1-.1 .3-.1 .7-.5 1 .2 .3 .2 .7 .1 1-.1 .3-.3 .7-.1 1 0 .3-.6 .7-.6 1-.5 0 .7 .3 .3 .7-.4 0 .9 1-.8 0 .2 .3 .2 .7-.3 0 1.1 1-.6 0-.1 .3-.3 .7 1.4 0 .2 1-1 0-.2 .3 .5 .7 .2 0-.2 1 .5 0-.7 .3 1.4 .7-.8 0 .3 1-.6 0 .6 .3 .3 .7-1.1 0 .4 1 .4 0-.3 .3-.6 .7 .1 0 .5 1-.3 0-.4 .3 .4 .7-1.4 0 1.1 1 .1 0 0 .3-.7 .7 .1 0 0 1-.2 0-.4 .3-.2 .7 .4 1 0 .3-.3 .7 1.6 1-.9 .3 .4 .7 .1 1-.4 .3 .9 .7-.9 1 1.6 .3-1.4 .7 .3 1 .2 .3 .1 .7 0 1 .5 .3 .2 .7 .4 1-1.5 .3 1 .7-.1 1-.5 .3-.4 .7 1.7 1-.6 .3-1.3 2 1.5 2-.5 2-.1 2 .3 2-.7 2 .2 2 .5 2-.9 2-.1 2-.2 2 1.1 2-.8 2 .3 2 0 2 .5 2-.1 2-.6 2 1 2-.4 2-.1 2-.3 2 0 2 .1 2 .1 2 .2 2 0 2-.3 2 0 2 .4 2 .2 2 0 2-.5 2-.6 .9 .6 1 0 .1 0 .9 .2 1-.5 .1 .3 .9-1.1 1 1.9 .1-.8 .9-.2 1 .4 .1-.4 .9-.2 1 .7 .1-.4 .9-.3 1 .6 .1-.1 .9-.1 1-.4 .1 .6 .9-1 1 .6 .1 .3 .9-1.3 1 .3 .1-.9 .9 .7 1-.7 .1 .2 .9 .9 1 .6 .1-.2 .9-.2 1-.1 .1 .3 .9 1.2 1-.4 .1-1.3 .9 .3 1-.3 .1 .9 .5-.4 .4-.5 .1 .6 .5-.2 .4-.2 .1 .3 .5 .5 .4-.8 .1 .3 .5-.5 .4 .5 .1 .8 .5-.4 .4-.6 .1 .1 .5 .8 .4-.6 .1-.2 .5 .8 .4-.7 .1-.2 .5 .5 .4-.8 .1 .4 .5-.1 .4 .4 .1-.1 .5 .9 .5-.6 .5-.3 .5 .3 .5-.4 .5 .2 .5 .2 .5-.1 .5 .4 .5-.4 .5-.6 .5 .5 .5-.7 .5 1.4 .5-1.7 .5 .7 .5 .3 .5-.7 .5 .2 .5 .7 .5-1.1 .5 1 .5-.6 .5 0 .5 1 .5-.6 .5-.2 .5-.3 .5 .1 .5-.2 .5 .9 .5-.8 .5-.5 .5 0 .5 .4 .5-.8 .5 0 .5-.5 .5-.5 .5 1.8 .5-1.4 .5 .5 .5-1 .5-.7 .5-1.4 .5-.4 .5-1 .5-1.9 .5-.8 .5-1.5 .5-2.2 .5-2.2 .5-3 .5 0 .5-2.8 .5-2.4 .5-.9 .5-.2 .5 .2 .5 1.5 .5 1.1 .5 2.3 .5 1.8 .5 2.2 .5 1.6 .5 2.6 .5 1.7 .5 1.1 .5 .9 .5 1.9 .5 .1 .5 1.2 .5 1.2 .5 .8 .5-.3 .5 .5 .5 .7 .5-.9 .5 .5 .5 .4 .5 .6 .5-1.1 .5 .1 .5 1 .5 .2 .5-.8 .5 .4 .5 .4 .5-.5 .5-.7 .5 1 .5 .3 .5-.9 .5 1.1 .5-.7 .5-.6 .5 .9 .5-.8 .5 1.4 .5-.4 .5 .6 .5-1.6 .5 .9 .5 .6 .5-.1 .5-.3 .5-.1 .5 .2 .5 .1 .5 .4 .5-1.6 .5 .3 .5 .2 .5 .4 .5 .1 .5-.3 .5 .1 .5 .4 .5 .2 .5-.9 .5 .2 .5 .2 .5 1.1 .5-1.4 .5 .4 .5-.1 .5-.2 .5 .6 .5-.5 .5-.1 .5 .2 .5 .1 .5-.4 .5-.1 2 .9 2-.8 2 .7 2-.5 2-.3 2-.1 2-.3 2 1.1 2 0 2-.5 2-.3 2 .3 2 .3 2 .5 2-.9 2-.5 2 .9 2-.3 2-.2 2-.4 2 1.1 2 .3 2-1.1 .5-.2 .5 .4 .5 .2 .5 .3 .5-.2 .5-.8 .5 .9 .5 0 .5-.4 .5 .4 .5-.7 .5 .4 .5-.5 .5 .7 .5 .3 .5-1.2 .5 .9 .5 .3 .5-.2 .5 .6 .5-.8 .5 1 .5-.9 .5-.6 .5 .5 .5-.2 .5 .8 .5 .2 .5 0 .5-.4 .5-.4 .5-.2 .5-.3 .5 .9 .5-.9 .5 .4 .5 .3 .5 0 .5-.8 .5 .1 .5 0 .5 .9 .5-.9 .5 .1 .5 .7 .5 .1 .5 .4 .5-.8 .5 .4 .5-1.3 .5 1.1 .5 .1 .5 .1 .5-.7 .5 .8 .5 .1 .5-.8 .5-.1 .5-.2 .5-.1 .5 0 .5-.7 .5-.3 .5 .3 .5-.4 .5 .3 .5-.9 .5-.8 .5-.8 .5 .2 .5-.8 .5-.7 .5 1.3 .5-1.9 .5 1.5 .5 .8 .5-1.2 .5 .1 .5 .9 .5-.2 .5 .9 .5 .7 .5-.5 .5 1.7 .5-.4 .5 .4 .5 .8 .5-1.1 .5 .2 .5 .9 .5 .1 .5-.2 .5 .1 .5 0 .5-.3 .5-.1 .5 .3 .5 .4 .5 .2 .5-.8 .5 1.4 .5 .3 .5-1 .5-.4 .5 .3 .5 .4 .5-.4 .5 .9 .5-1 .5 .6 .5-.2 .5 .8 .5-.8 .5 0 .5-.6 .5 .3 .5-.5 .5 2.1 .5-1.5 .5-.1 .5 .1 .5 .2 .5 .1 .5-1.1 .5 1.4 .5-.5 .5-.1 .5 .9 .5-.7 .5-.5 .5 0 .5 .7 .5-.3 .5 0 .5-.6 .5 .6 .5-.3 .5-.1 .5 .9 .5-.4 .5-.3 .5 .6 .5 .4 .5-1.5 .5 1.1 .5-.3 .5-.2 .5 .7 .5-.2 .5-.6 1 .7 2-.6 2 .1 2-.6 2 .6 2 .3 2-.5 2 .2 2 .6 2-.7 2-.2 2 1.1 2-1.1 2-.8 2 .5 2 .5 2-.5 2 .1 2 .3 2 .1 2 0 2 .1 2 .5 2 1 2-1 2-.2 2-.6 2 .3 2-.5 2 .5 2-.5 2 1 2 .5 2-.6 2 .8 2-1.7 2 .9 2-.5 2 .2 2-.6 2 .5 2-.1 2-.2 2 .8 2-.2 2 .2 2-.8 2 0 2-.2 2 .9 2 0 2-.4 2-.3 2 .3 2 .2 2 0 2-.3 2 .6 2 .1 2-1 2 .5 2-.1 2-.6 2 .3 2 .4 2 .4 2-.9 2 .2 2 .1 1-.1 .5-.5 .5 1 .5-.4 .5 .3 .5 .1 .5-.5 .5-.3 .5 .1 .5 .1 .5-.1 .5 .2 .5-.5 .5 .4 .5 0 .5 .4 .5 .1 .5 .6 .5-.3 .5-.2 .5-.4 .5 .1 .5 .1 .5-.3 .5 .2 .5-.4 .5 .5 .5-.6 .5 .2 .5 0 .5 1.4 .5-1.1 .5 .4 .5-1 .5 .8 .5-.4 .5 .5 .5-.6 .5-.3 .5 .8 .5-.3 .5-.6 .5 .5 .5-.4 .5 .8 .5-.3 .5 .1 .5-.6 .5 1 .5-.8 .5 .3 .5-.2 .5 .1 .5-.6 .5 .6 .5 .1 .5-.8 .5 1 .5-.9 .5 .1 .5 0 .5 .7 .5-.8 .5-.1 .5 .2 .5-.2 .5 .3 .5-1 .5-.3 .5-.4 .5-.4 .5 .3 .5-.6 .5-.9 .5-.4 .5-1.5 .5 .9 .5-.6 .5-1.6 .5 .5 .5 .1 .5 .8 .5-.3 .5 .8 .5 .6 .5 .2 .5-.3 .5 .4 .5 .9 .5 1 .5 .3 .5-.5 .5 1.3 .5-.5 .5 .5 .5 .8 .5-.3 .5-.1 .5-.1 .5 .5 .5 .1 .5-.1 .5-.2 .5 .5 .5 .2 .5-.8 .5 .8 .5-.6 .5 .2 .5 .6 .5-1 .5 .5 .5 .8 .5-.1 .5-.9 .5-.2 .1 1.1 .4-.5 .1 0 .4-.8 .1 .8 .4-.8 .1 .6 .4 .9 .1-.2 .4 .1 .1-.7 .4 .2 .1-.4 .4 1.1 .1-1.1 .4-.4 .1 .4 .4 .7 .1-.7 .4 .3 .1-.7 .4 .3 .1-.3 .4 .1 .1 .4 .4 .4 .1 .6 .4-.6 .1-.8 .4 0 .1-.2 .4 .6 .1-.3 .4 .3 .1-.4 .4 1.2 .1-.9 .4 .5 .1-.4 .4 1.1 .1-1.7 .4 .9 .1 .4 .4-.6 .1 .4 .4-.4 .1 .5 .4-.5 .1 .8 .4-1.5 .1 1.1 .4-.6 .1 0 .4 .5 .1-.6 .4 0 .1 .6 .4-.8 .1 .4 .4 .6 .1-.9 .4 .9 .1-1 .4 .6 .1-.1 .4-.7 .1 1 .4-1 .1 1.3 .4 0 .1-1 .4 .3 .1-.1 .4-.6 .1 .3 .4 .3 .1 .1 .4 .5 .1-.8 .4 0 .1 .5 .4 .1 .1-.5 .4 .2 .1-.4 .4 .2 .1-.9 .4 .1 .1 1.2 .4-.7 .1-.2 .5 .7 .4 .7 .1-.5 .5-.3 .5-.2 .5 .8 .4-.1 .1-.6 .5-.4 .5 .2 .5 .1 .4-.3 .1-.2 .5-.1 .5-.5 .5 .4 .4 .2 .1-.8 .5 0 .5 .7 .5-1.1 .4 .3 .1-.8 .5-.8 .5 .6 .5-.5 .4-.8 .1-.3 .5-.2 .5-1.9 .5-1.5 .4-.6 .1 0 .5-1.9 .5-1.3 .5-1.6 .4-2.5 .1 0 .5-1.8 .5-1.1 .5-2.3 .4 .5 .1-1.2 .5 .6 .5-.1 .5 .8 .4 1.4 .1-.6 .5 2.4 .5 1.3 .5 1.3 .4 2.5 .1-.7 .5 2.6 .5 1.1 .5 1.4 .4 1.8 .1-.3 .5 .9 .5 1.4 .5 .2 .4 1.4 .1-.9 .5 1 .5-.1 .5 .9 .4-.5 .1 .4 .5 .6 .5-.7 .5 .6 .4 .3 .1-.3 .5 .1 .5 .6 .5 .1 .4-1 .1 .3 .5-.8 .5 1.2 .5 .4 .4-.7 .1-.1 .5 .8 .5-.4 .5 1.2 .4-.3 .1-1.5 .5 1.2 .5 0 .5 .1 .4-.4 .1-.6 .5 .7 .5-.3 .5 1.1 .4-.5 .1 .3 .5-1 .5 .4 .5 0 .4-.3 .1 .2 .5-.5 .5 .7 .5-.4 .4 .4 .1 .2 .5-.3 .5-.2 .5 .7 .4 0 .1-.6 .5 .7 .5-1.7 .5 1.3 .4 .1 .1-.2 .5-.7 .5 .7 .5 .5 .4-.3 .1-.7 .5 .6 .5 .8 .5-.2 .4 .1 .1-.7 .5 .4 .5-.4 .5 0 .4-.4 .1 .4 .5 .5 .5-.4 .5-.9 .4 1.1 .1-.7 .5 .7 .5-.6 .5 1.1 .4-.8 .1 .5 .5-1.1 1.4 .6 2 .1 2-.6 1.5 .3"/>
<path stroke="#2EAA6A" d="M182.5 831.0l 2-.5 2 .4 2-.9 2 1.1 2-1 2 .7 2-.1 2-.3 2 1.7 2-1.6 2 .5 2 .3 2-1.1 2 1.2 2-.7 2 .6 2-.9 2-.1 2 1 2-.3 2-.1 2 .2 2-.1 2-.7 2-.5 2 .2 2 0 2-.2 2 .7 2 .1 2 .2 2 .1 2-.3 2 .1 2 .1 2-.5 2 .2 2 .3 2-.3 2 0 2 .2 2 .7 2-.5 2-.3 2-.1 2 .2 2 1.1 2-2.4 2 1.6 2-.1 2 .3 2-.9 2 1.4 2-.5 2-.4 2 .1 2-.4 2 .3 2-.1 2 .5 2-.2 2-.2 2 .3 2-.1 2-.1 2-.8 2 1.2 2-1 2 0 2 .4 2 .3 2 .4 2-1.4 2 1.5 2 0 2-.9 2 .1 2-.2 2 0 2-.3 2-.2 2 .7 2 .2 2 .7 2-1.3 2-.4 2 1 2-.3 2 .4 2-.4 2-.4 2 .3 2 .7 2-.3 2-.5 2 .8 2-1.1 2 .4 2 .4 2-.7 2 .1 2 .5 2 0 2-.1 2-.2 2-.2 2 .1 2 1.8 2-1.7 2 1 2-1 2 .9 2-.1 2-.3 2-.5 2-.3 2 1 2-1 2 0 2 1.3 2-.1 2-.6 2-.1 2-.2 2 .4 2-.3 2-.5 2 .3 2 .5 2-.8 2 .2 2 .5 2 .7 2-.7 1.7 0 .3 .8 .7-1.3 1 .1 .3 .7 .7 .1 1-.3 .3-1.4 .7 1.5 1 0 .3-.3 .7 .3 1 .3 .3-.6 .7-.5 1-.4 .3 .8 .7-.4 1-.1 .3-.4 .7 .4 1-.3 .3-.4 .7-1.2 1-.1 .3-.5 .7-1.8 1 1 .3-1.1 .7 .7 1 1.8 .3 .1 .7 .1 1 .7 .3 .7 .7-.6 1 1.3 .3-.2 .7 .5 1-.3 .3-.4 .7 .6 1-.2 .3-.5 .7 .1 1 .1 .3 .5 .7 .3 1-.3 .3-.6 .7 .4 1 .5 .3 .2 .7-.9 .9 .5 .1-.3 .3-.8 .6 .4 1 .3 .4 .1 .6 0 1-.1 .4 .4 .6-.6 1-.3 .4 1 .6-.5 1 .6 .4-.8 .6 1 1-1.2 .4-.1 .6 .8 1 .3 .4-1.3 .6 .7 1-.7 .4-.8 .6-1 1-2.2 .4-.2 .6-.3 1 .2 .4-.2 .6 .1 1 1.4 .4-.2 .6 1.6 1 .5 .4 1.3 .6-.1 1 0 .4 .2 .6-.3 1 .9 .4-.5 .6 .4 1 .6 .4-.4 .6 .1 .9 1 .1-.9 .4 .2 .5-.6 .1-.4 .9 .6 .1-.6 .4-.8 .5 1.6 .1-.1 .9-.7 .1 1.1 .4-.6 .5-.2 .1-.2 .9 .9 .1-.7 .4 0 .5 0 1-.2 .5-.4 .5 .4 1-.1 .5 .6 .5-1 .9 .7 .1-.5 .5-.4 .4 .1 .1 .1 .9-.7 .1 .2 .5-.7 .4-1.3 .1 .4 .9-.2 .1-.8 .5-1.7 .4 .7 .1 .7 .9-.7 .1-.5 .5 .1 .4 .5 .1-.3 .9 .9 .1 1 .5-.3 .4 1.1 .1-1.1 .9 1.3 .1-.1 .5 1.1 .4-.3 .1 0 .9 0 .1 .5 .5 .3 .4-.9 .1 .5 .9-1.1 .1-.3 .5-.2 .4-.1 .1-1.9 .9 .1 .1 .4 .5-1.6 .4-.2 .1 .1 .9-.7 .1-.1 .5 .6 .4 .3 .1-.3 .9 1.5 .1-.6 .5 1.1 .4 .8 .1 0 .9 1 .1 .9 .5 .1 .4 .5 .1-.8 .9 .8 0-.1 .1 .3 .5 1 .4 .5 0-1.1 1 .3 0-.3 .6-.1 .4 .7 0-.6 1-.3 0 .8 .6-.3 .4 .2 0 0 1 .3 0-.2 .6 .2 .4-.5 0 0 1 .2 0 0 .6 .1 .4-.1 0 .8 1-1 0 .3 .6-.2 .4 .5 0-1 1-.3 0 1.1 .6-.3 .4-.3 1-.8 .6 .6 .3-.6 .1-.5 .9-.5 .1-.1 .6 .5 .3-.9 .1-.4 .9 0 .1 .8 .6-.2 .3-.4 .1-.2 .9 .7 .1 .5 .6 0 .3 .2 .1 .3 .9 .2 .1-.2 .6 .1 .3 .3 .1 .1 .9 .6 .1-.1 .6-.3 .3 .9 .1-1.1 .9 1 .1-1 .6 .3 .3 .5 .1 0 .9-1.1 .1 .4 .6-.9 .3 .3 .1 .2 .9-1.2 0 .9 .1-.5 .6-.4 .3-.9 0 .2 .1 .1 .9-.5 0-.1 .1-.5 .6-.5 .3-.2 0 1.5 .1-.4 .9 .4 0-.7 .1 1 .6-.1 .3 .1 0-.3 .1-.4 .9 1.8 0-.2 .1 0 .6-.1 .3-.1 0 .4 1 1.5 0 .4 .7-.9 .3 .2 0-.5 1 .3 0 .7 .7-.5 .3 .4 0 .5 1-.8 0-.4 .7 1.1 .3-.6 0-.1 1-.4 0-.3 .7 0 .3-1.1 0 .6 1-1.3 0 .5 .7-.2 .3-.5 0 .8 1-1.1 0-.2 .7 .6 .3 .1 0 0 1 .6 0-.1 .7 1 .2-1 .1 1.2 0-.6 .9 .8 .1-.3 .7 1.3 .2-1.4 .1 .4 .9 .6 .1 .5 .7-.8 .2 .9 .1 .2 .9-.8 .1-.8 .7 1.5 .2-.4 .1 .1 .9 .5 .1-.1 .7-.6 .2 .3 .1-.5 .9 .6 .1-.3 .7 .3 .2-.6 .1 .4 .9 0 .1 .1 .7-.4 .2-1 .1 1.1 .9-1.2 .1 1 .7-1 .2-.2 .1-.3 .9 .1 .1-1.2 .7 .1 .2-.2 1-.4 .8-1.3 .2-.6 1 0 .8 .9 .2 0 1 2.4 0-.3 .8 .1 .2 1 0-.2 1 1.1 0-.3 .8-.3 .2 .7 0 .3 1-.1 0 0 .8-.5 .2 .2 0 .4 1 .3 0-.6 .8 .1 .2 1.2 0-1.4 1 .3 0-.3 .8 .4 .2 .3 0 0 1-.2 0 .4 .8-.7 .2 .3 0-.7 1 .7 0-.8 .8 .5 .2-1.1 0 .6 1-.7 0-.1 .8-1 .2 .6 0-.6 1-1.9 .8-.6 .2 .6 1-1.4 .8 1.5 .2-.8 1 .4 .8 2.3 .2-.6 1-.2 .8 2.3 .2-.5 1 1.1 .8 .4 .2 .1 1-.4 .8-.5 .1 1.3 .1-.6 .9 0 .1-.7 .8 .4 .1 .4 .1-.2 .9 .2 .1-.5 .8-.3 .1 .9 .1-.2 .9 .5 .1 .2 .8-.7 .1-.1 .1 .7 .9-.1 .1-.9 .8 1.3 .1-.7 .1-.2 .9-.6 .1 .4 .8 .4 .1-.1 1 .4 .9-.4 .1-.9 1 0 .9-.7 .1-.2 1-.9 .9-1.1 .1-.1 1-.6 .9-.2 .1 .4 1-.5 .9 1 .1-1.1 1 2.4 .9 1 .1-.2 1 .9 .9-.1 .1 .1 1-.1 .9 .2 .1-.3 1 1.4 .9-.1 .1-.4 1 0 .9 .7 .1-.4 1-.6 .9 .4 .1 .1 1 0 .9 0 .1-.9 1 .4 .9-.6 .1 1.1 1.9-.3 2-.5 2 1.6 2-.4 2-.9 2 .6 1-.7 .5 .7 .5-.1 .5-.6 .5 .5 .5 .5 .5-.4 .5-1 .5 .7 .5 .2 .5-.3 .5 .4 .5-.8 .5-.8 .5 1.7 .5-1.2 .5 .4 .5-.7 .5 1 .5-.9 .5 .5 .5-.1 .5 .6 .5 .2 .5-.6 .5 0 .5-.4 .5-.1 .5-.6 .5 .5 .5-1.3 .5 1.1 .5-.5 .5-.2 .5 .3 .5-1.6 .5 .1 .5 .4 .5-.8 .5-.1 .5-1 .5-1.3 .5-.4 .5-1.7 .5-2.1 .5-3.1 .5-3.5 .5-6.8 .5-6.7 .5-7.4 .5-10.6 .5-9.8 .5-9.8 .5-9.4 .5-6.4 .5-2.6 .5 1.6 .5 7.5 .4 6.6 .1 2.4 .5 9.8 .4 8 .1 2.8 .5 9.1 .4 6.2 .1 1.7 .5 7.6 .4 3.4 .1 1.6 .5 5 .4 .9 .1 1.2 .5 3 .4 .7 .1 1.1 .5 .1 .4 .7 .1 1.2 .5-.4 .4 .9 .1-.1 .5 1.2 .4-.9 .1 .6 .5 .7 .4 .3 .1-.4 .5 .5 .4-.6 .1 1.2 .5-.5 .4 .3 .1 .5 .5-.7 .4 0 .1 .3 .5 .3 .4-1.3 .1-.2 .5 1 .4-.5 .1 .1 .5 .7 .4-1.1 .1-.1 .5 .4 .4-1.1 .1 .3 .5-.4 .4 0 .1 0 .5-.7 .4 .3 .1 0 .5-.3 .4 1 .1-.4 .5 0 .4 .1 .1 .6 .5 0 .4 1 .1 .3 .5-.4 .4 .1 .1 .2 .5 .7 .4-.5 .1 .7 .5-.5 .4-.7 .1 1.9 .5-.3 .4-.4 .1 .1 .5 .1 .4 .7 .1-.9 .9 .3 1-.2 .1-.1 .9 .5 1 0 .1-.4 .9 1.3 1-2.3 .1 1.9 .9-1.1 1 .2 .1 .6 .9 .2 1 .2 .1-1.3 2 1.6 2-1.4 1.7 .7 .3 .4 .7-.6 1 0 .3 .4 .7-.4 1-.5 .3 1 .7 .1 1-.3 .3-.1 .7 .4 1-.1 .3 .1 .7-.4 1-1.1 .3 1.2 .7 0 1 0 .3 .2 .7-1.5 1-1.1 .3 1.7 .7-.5 1-1 .3-.7 .7 1 1-1.2 .3 1.1 .7-.6 1 .9 .3-1.5 .7 1.9 0-.6 1 .2 0 .5 .3 1.5 .7-1.3 0-.5 1 1.5 0-.9 .3 .4 .7 .9 0-.3 1-.1 0 .2 .3-.6 .7-.5 0 .5 1-.1 0 .2 .3-.1 .7 .3 0 .2 1-.7 0 .1 .3 .3 .7 .4 0-.7 1-.8 0 1.3 .3-1.1 .7 .3 0 0 1 .2 0-1.1 .3 1.3 .7-1.1 0 .7 1-1.3 0 1.4 .3-1.4 .7-.8 1-.8 .3-1 .7 1.8 1-1.1 .3 .9 .7 .8 1 .7 .3-.1 .7 .1 1 1.1 .3-.2 .7-.6 1 .5 .3 .7 .7 .2 1-1.5 .3 1.3 .7-.3 1 .6 .3-.4 .7-.2 1 .6 .3 .1 .7 0 1-.5 .3 .2 .7 .6 1-.9 .3-.3 .7 .6 1.3-.7 2 .9 2-.8 1.5 .2 .5 .7 .5-1 .5 .3 .5 .3 .5 0 .5-.8 .5 1.1 .5-.6 .5 .2 .5 .2 .5 .1 .5-.3 .5 .3 .5-.3 .5-.7 .5-.1 .5 .2 .5-.1 .5 .3 .5-.9 .5 1.1 .5 .2 .5 0 .5-.3 .5-.6 .5 1.5 .5-1.3 .5 0 .5 .3 .5-.8 .5 0 .5 .6 .5 .5 .5-.8 .5 .4 .5-.1 .5-.2 .5-.6 .5 .8 .5-.7 .5-.5 .5-.3 .5 .7 .5-.7 .5-.8 .5 .1 .5-.9 .5-1.5 .5-2.1 .5-1.4 .5-2.1 .5-3.3 .5-1.5 .5-4.5 .5-3.6 .5-3 .5-.7 .5-1.2 .5 .7 .5 1.5 .5 3.4 .5 3 .5 2.6 .5 3.3 .5 2.3 .5 3.1 .5 1.7 .5 1.8 .5 .9 .5 .9 .5-.7 .5 .8 .5-.1 .5-.2 .5 0 .5 .5 .5-.6 .5-.3 .5-1.2 .5-.9 .5-1.2 .5-.7 .5-.5 .5-.3 .5 0 .5 1.2 .5 1.4 .5-.2 .5 .8 .5 1.9 .5 .3 .5-.1 .5 1.3 .5-.6 .5 1.5 .5 0 .5-.2 .5 .8 .5-.2 .5 .9 .5-.9 .5 .6 .5-.6 .5 .7 .5 .1 .5 .1 .5 .1 .5-1 .5 1.5 .5-.1 .5-.8 .5 .2 .5 .3 .5-1.2 .5 .7 .5 .3 .5 .1 .5 0 .5-.8 .5 1 .5 0 .5-.2 .5-.5 .5-.2 .5 .4 .5 .3 .5-.7 .5 .3 .5 .4 .5 0 .5-.6 .5-.5 .5 .8 .5-.7 .5 .1 .5 1 .5-.2 .5-.6 .5 .4 .5 .1 .5 .2 .5 .3 1.5-.3 2-1.2 2 1.2 2-.3 2 .1 2 0 2 0 2-.1 2 .6 2 .1 2 .1 2-.2 2 0 2-.2 2-.8 2 1.1 2-.6 2 0 2-.6 2 .5 2 1.6 2-1.6 2 .6 2 .1 2-.3 2-.5 2 .2 2 .3 2-.4 2-.4 2 .1 2 1.2 2-.4 2 0 2 .1 2-.4 2-.5 2 1.4 2-1.2 2 .3 2-.1 2 .5 2-.7 2-.6 2-.1 2 .2 2 .8 .9 .2 .5-.7 .5-.2 .1 .5 .4-.2 .5-.4 .5-.2 .5 .5 .1 .4 .4 0 .5-.2 .5-.6 .5 .8 .1-1.5 .4 1 .5 .2 .5-.8 .5-.3 .1 1.4 .4-.9 .5 0 .5 .7 .5-.5 .1-.7 .4 .5 .5-.2 .5 .5 .5 .1 .1-1.4 .4 .3 .5 1 .5-.8 .5-.1 .1-.3 .4 .4 .5-.6 .5 .1 .5-.1 .1-.4 .4-.4 .5-.3 .5 .2 .5-.2 .1 .4 .4-.4 .5-.2 .5-.9 .5-.1 .1-.2 .4-.6 .5-.6 .5 .8 .5-1.6 .1 .2 .4-1.3 .5-1.9 .5-.9 .5-3.1 .1-.9 .4-3.5 .5-4.3 .5-6.1 .5-7.9 .1-2.3 .4-8.3 .5-11.8 .5-12.7 .5-14.5 .1-2.4 .4-11.8 .5-10.2 .5-8.5 .5-3.4 .1-.1 .4 3.4 .5 7.8 .5 11.7 .5 13.6 .1 2.9 .4 10.7 .5 14.1 .5 10.4 .5 10.8 .1 1.7 .4 5.6 .5 7.5 .5 3.7 .5 4.2 .1 .6 .4 2.3 .5 1.9 .5 2.1 .5 .6 .1 .1 .4 .7 .5 .8 .5 .1 .5 1 .1-.1 .4 .4 .5 .1 .5 .3 .5 .3 .1-.3 .4 .6 .5 .5 .5-.4 .5 .4 .1 .3 .4-.3 .5 .1 .5 .4 .5 .1 .1 .6 .4-.5 .5 .4 .5-.3 .5 .5 .1 .1 .4 .1 .5-1.1 .5 .6 .5-.4 .1 .6 .4 0 .5-.5 .5 0 .5 .3 .1 .3 .4 .2 .5 .5 .5 .2 .5-1.2 .1 .5 .4-.1 .5 0 .5-.5 .5 .9 .1-.1 .4-.5 .5 .4 .5-.4 .5-.8 .1 .8 .4 .3 .5-.4 1.1 .6 2 .9 2-.8 2-.1 2-.4 2 .6 2 0 2 .6 2-.8 2-.1 2 .1 2 1 2-.1 2-.8 2 1.7 2-1.9 2 .1 2 .7 .8-.5 1-.3 .2-.1 .8 .5 1 0 .2 0 .8-.5 1 1 .2-.9 .8 .7 1 .5 .2-1.4 .8 .4 1 .2 .2 .2 .8-.3 1-.6 .2 .7 .8-.4 1 .4 .2-.9 .8-.6 1-.6 .2 .1 .8-.3 1-.5 .2-1 .8 .6 1-.5 .2 2.1 .8-.7 1 .7 .2-.1 .8 1.1 1 .8 .2-.8 .8 .4 1 .2 .2 .2 .8-.5 1 .5 .2-.2 .8 .9 1-1.3 .2 .5 .8 .2 1 .3 .2-.2 .8-.4 1 .2 .2 .4 .8-1.1 1 1.1 .2-.7 .8 .7 1.2 .4 2-1.1 2 .1 2 .2 1.7-.1 .3 .6 .7 0 1-1 .3-.1 .7 .5 1-.2 .3 .6 .7 .2 1-.7 .3-.4 .7 .2 1 .4 .3-.1 .7-.1 1-.1 .3 .5 .7-.4 1 .1 .3 .3 .7-1.4 1 .4 .3-.4 .7-.5 1-.2 .3-.7 .7-.4 1 1.4 .3-.4 .7-.1 1-.4 .3 .4 .7 .2 1 .8 .3 .4 .7 .4 1-.7 .3 1.1 .7-.3 1 .5 .3-.5 .7 .4 1-1 .3 .9 .7-.6 1 0 .3 .4 .7-.2 1-1 .3 1.8 .7-.9 1 .2 .3 0 .7-.2 1 .1 .3 .2 2-.2 2-.5 2 .3 2 .8 1.5-.5 .5-.2 .5 .7 .5-.8 .5 1 .5-.6 .5-.3 .5-.3 .5 0 .5 0 .5 .9 .5 .3 .5-.4 .5-.6 .5 .2 .5-1 .5 .4 .5 .3 .5 1 .5-.7 .5 .3 .5-.2 .5-.7 .5 .3 .5-.4 .5-.3 .5 .7 .5 0 .5 0 .5 0 .5-.7 .5-.1 .5 .3 .5-.1 .5 .6 .5-.6 .5-.5 .5 .5 .5-.2 .5-.6 .5 .8 .5-1.6 .5 .6 .5 .2 .5-.8 .5-.2 .5-1.4 .5 .3 .5-.7 .5-1.6 .5-1 .5-2.1 .5-2.4 .5-2.9 .5-4.1 .5-4.2 .5-5.6 .5-4.8 .5-6.4 .5-6.3 .5-4.6 .5-2.6 .5-.8 .5 .2 .5 3.6 .5 4.4 .5 6.7 .5 5.3 .5 5.4 .5 5.9 .5 2.8 .5 5.1 .5 2.4 .5 3.2 .5 1.5 .5 1.2 .5 1.5 .5 .7 .5 1.8 .5-.7 .5 1.4 .5-.2 .5-.3 .5-.4 .5 1.2 .5 0 .5-.7 .5 1.8 .5-.8 .5-.1 .5 .7 .5 0 .5-.2 .5-.1 .5 .2 .5-1 .5 .7 .5 .1 .5 1.5 .5-1 .5-.3 .5 .2 .5-.3 .5 .5 .5-.4 .5 .4 .5 0 .5-.2 .5-.1 .5-.2 .5-.3 .5 .6 .5-.1 .5 .1 .5 .1 .5 .1 .5-.1 .5 0 .4 .6 .1 .2 .5-1.1 .4 .5 .1 0 .5-.6 .4 .7 .1-.4 .5 .9 .4-1.1 .1 .6 .5-.7 .4-.1 1 .9 .6-.3 .4 .5 1-.1 .6-1.2 .4 1.3 1-1.1 .6 .4 .4-.3 1 .5 .6-.1 .4-.2 1 .7 .6-1.5 .4-.1 1-1 .6 .8 .4-1.5 1-.3 .6-.4 .1 .1 .3 .1 .2-.7 .5 .6 .3 .6 .2-.8 .4 1.2 .1-.5 .3 .9 .2-.3 .5 .1 .3 .1 .2 1.5 .4-.2 .1-.7 .3 1.7 .2-1.4 .5 .1 .3 1.1 .2-.6 .4 .8 .1-.8 .3 .7 .2-.2 .5 0 .3 .3 .2-.7 .4 .1 .1 .2 .3-.1 .2 .2 .5 .3 .3-.5 .2-.1 .4 .7 .1 .9 .3-1 .2 0 .5-.5 .3-.2 .2 .7 .4 .4 .1-.8 .3 .4 .2-.5 .5-.4 .3 .2 .2-.3 .4 .6 .1-.3 .3 1 .2-.2 .5-.7 .3 .2 .2-.3 .4 .7 .1 .5 .3-1 .2-.5 .5-.1 .3 .2 .2 .2 .4-.2 .1-.1 .3 .1 .2 .1 .5-.3 .5-.6 .4 .3 .1-.5 .5 .4 .5-.2 .5 .3 .4-.5 .1-.5 .5-.2 .5 .7 .5-1.6 .4 .2 .1-.4 .5-.8 .5-.8 .5-2 .4-1.1 .1-.7 .5-2.1 .5-3.3 .5-3.8 .4-2.8 .1-.9 .5-4.5 .5-5.1 .5-3.4 .4-4 .1-.1 .5-2.7 .5-.3 .5 .8 .4 2.2 .1-.8 .5 4.5 .5 3.8 .5 5.4 .4 4.4 .1-.5 .5 4.7 .5 2.1 .5 3.9 .4 2.6 .1-.3 .1 .7 .4 1.4 .5 1.9 .1-.1 .4 .7 .4 .6 .1 .6 .1 .3 .4 0 .5 .9 .1-.1 .4 .6 .4 .7 .1-.6 .1 0 .4-.1 .5-.1 .1-.1 .4 .6 .4-.1 .1 .6 .1-.4 .4 .7 .5-.3 .1-.4 .4 .1 .4-.8 .1 1.7 .1-.7 .4-.6 .5 .9 .1-.6 .4 .1 .4 .3 .1-.3 .1 .7 .4-.5 .5-.2 .1 .6 .4-.6 .4 .1 .1 .7 .1 .5 .4-1.9 .5 .1 .1 .2 .4 .6 .4-.9 .1 .5 .1-.8 .4 .3 .5-.9 .1-.5 .4 .1 .4 .3 .1-.4 .1 .2 .4-.6 .5-1 .1 .5 .4 0 .4 .4 .1-.2 .1-.3 .4-.3 .5 .9 .1-1 .4 .5 .4 .2 .1 .6 .1 .6 .4-.5 .5 1.9 .1-1.2 .4 1.5 .4-.8 .1 .6 .1-.6 .4 .7 .5 0 .1 .9 .4-.9 .4 1 .1 .5 .1-.9 .4 0 .5 .5 .1-1.4 .4 1.2 .4 .2 .1-.2 .1-.5 1 .7 .8 .3 .2 0 1-.5 .8 .1 .2-.1 1-.4 .8 .3 .2-.1 1 .4 .8 .1 .2 1.1 1-.7 .8-.2 .2-.5 1.8 1.1 2-.1 2-.7 2-.2 2 .2 2 0 2-.6 2 .6 2-.1 2 .6 2-.3 2-.2 2 .6 2-.2 2-.3 2-.3 2-.1 2 .7 2-.1 2-.3 2 .3 2-.8 2 1.1 2-.3 0 .4 1-1 1 .5 0-.4 1 .8 1 .6 0-1.1 1 .2 1 .4 0-1.1 1 .5 1-.2 0 .2 1-.6 1-.1 0 0 1 .7 1-.2 0 .3 1-.3 1-.2 0-.3 1-.6 1-.4 0-.4 1-.3 1-.3 0 1.5 1-1.9 1 1.6 0-.1 1 .4 1 .4 0-.2 1-.1 1 .8 0 0 1-.3 1 .8 0-.9 1 1.1 1 .5 0-1.1 1 .2 1 .9 0-1.8 1 .6 1-.3 0 .3 1 .8 1 0 0-.7 1 .7 1-1.2 0 .4 1.4 .9 .6 .4 .4-.4 1-.2 .6-.4 .4 .6 1-.7 .6 .8 .4-.6 1 .2 .6-1 .4 .6 1 .3 .6-.9 .4 .8 1 0 .6-.4 .4-.2 1 0 .6-.9 .4 .4 1 .8 .6-1.8 .4 .2 1-1.4 .6 1.2 .4-1.4 1-.1 .6 .4 .4-.2 1 2.1 .6-.5 .4 0 1-.2 .6 1.3 .4-.3 1 1 .6-.4 .4-.3 1 .9 .6-.3 .4-.2 1-.1 .6 .1 .4-.2 1 .7 .6-1 .4 .7 1-.4 .6 .8 .4-.4 1 .5 .6-1 .4-.4 1 1.2 .6-.4 2-.6 2 .9 2 .3 2-.7 2 .2 2-.5 2 .2 2 .4 2-.1 2-.1 2-.2 2 .7 2-.2 2 .9 2-1.3 2-.1 2 .3 2-.4 2-.1 2 .1 2 .2 2 .1 2-.2 2 .6 2 .1 2-.1 2-.2 2-.4 2 .1 2-.5 2 1.1 2 .1 1.2 .1 .5-1.1 .3 1.3 .2-.7 .5 0 .5 .5 .5-.5 .3-.4 .2 .4 .5-.4 .5 .1 .5 .6 .3-1.1 .2-.1 .5 1 .5-.2 .5-.1 .3 .3 .2-.6 .5 .7 .5-.7 .5 0 .3 .8 .2-.5 .5 0 .5-.4 .5 .9 .3-.1 .2-.8 .5 .5 .5 0 .5-.2 .3-.7 .2 1.2 .5-.2 .5-1 .5 .3 .3 1.2 .2-.5 .5-1 .5 .4 .5 .2 .3-.2 .2 0 .5-.1 .5 .1 .5 .5 .3-.9 .2 1.1 .5-.4 .5-.3 .5 .7 .3-.2 .2-.3 .5 .1 .5-.4 .5 .2 .3 .3 .2-.1 .5-.9 .5 .1 .5 .2 .3-.4 .2-.1 .5 1 .5-1.3 .5 .2 .3-.6 .2 .4 .5-.1 .5-1 .5-.5 .3-.2 .2-.5 .5-1 .5-.8 .5-1.3 .3-1.3 .2 0 .5-2.7 .5-1.8 .5-1.1 .3-1 .2-1.5 .5-2.4 .5-1.1 .5-.5 .3-.1 .2-.2 .5 .4 .5 .1 .5 1.8 .3 1.1 .2 .9 .5 2.8 .5 1.6 .5 1.2 .3 1.3 .2-.3 .5 2.9 .5 .8 .5 1.5 .3 .5 .2-.5 .5 1.7 .5 .1 .5 .5 .3-.1 .2 .6 .5 .6 .5 .3 .5-.1 .3 0 .2 .6 .5-.6 .5 .3 .5 .9 .3-1.6 .2 .2 .5 .2 .5 .3 .5 0 .3 .3 .2 .7 .5-.2 .5-.8 .5 .7 .3-.2 .2-.3 .5 .6 .5 .3 .5-1.1 .3 .9 .2-.8 .5 .2 .5 .3 .5-.4 .3 .2 .2 .1 .5 .2 .5-.3 .5 0 .3-.2 .2 .5 .5 .1 .5-.7 .5 .6 .3 .5 .2-.4 .5 .2 .5-.2 .5-.3 .3-.2 .2 .1 .5 .1 .5-.6 .5 .2 .3 1 .2-1.2 .5 .1 .5-.1 .5 .7 .3-.2 .2 .3 .5-.7 .5 1.1 .5-.7 .3-.3 .2 .9 .5 0 .5 .1 .5-1.3 .3 .7 .2 .1 .5-.2 .5-.7 .8 1.1 2-.1 2-.1 2-.4 2 0 2 .7 2-.5 2 .2 2 .1 2-.1 2 .4 2-.4 2 .5 2 .4 2-.7 2-.7 2 .4 2 .5 2 .1 2-.8 2 .3 2 0 2-.4 2 .6 1.3-.2 .7 .7 .3-1 1 .7 .7-.3 .3 .2 1-.4 .7-.1 .3 .7 1 .1 .7-.7 .3 .5 1-.5 .7 .2 .3 .8 1-.5 .7-.3 .3 .1 1-.6 .7-.1 .3 .2 1-1.2 .7-.3 .3 .6 1-1.8 .7-.5 .3 .4 .9-.2 .1-.8 .7 .7 .2-.8 .1 0 .9 1.2 .1 .8 .7-.2 .2 .5 .1 .2 .9-.2 .1 .5 .7 1.1 .2 0 .1-.3 .9-.7 .1 1.1 .7 .4 .2-1 .1 .8 .9-.3 .1-.4 .7 1.1 .2 .3 .1-1 .9 .6 .1-.4 .7-.1 .2-.2 .1 .1 .9-.2 .1 .5 .7-.7 .2 .6 .1-.5 .9-.7 .1 .4 .7 .2 .2-.6 .1 .3 .9-2.2 .1 .4 .7-.6 .2 .3 .1 0 .9-1 .1 .5 .7 .5 .2 .4 1-.6 .8 2.3 .2-.8 1 1.2 .8-.5 .2 .7 1 .7 .8 .2 .2-.6 1-.6 .8 1.2 .2-.6 1 .2 .8 .6 .2-1.3 1 1.8 .8-1.7 .2 1.1 1 .4 .8-.8 .2 .8 1-1.3 .8 .9 .2-.3 1-.4 .8 .6 2-.8 2-.1 2 1.3 2-.2 2-.9 2-.3 2 .5 2-.1 2 .9 2-.8 2 .6 2-.6 2-.5 2 1.6 2-.8 2-.7 2 .6 2 .5 2-1 2-.1 2 .1 2 1 2 .6 2-1.5 2 .2 2 .1 2 .1 2 .7 2-.5 2-.3 2 .5 2-.3 2-.7 .4 .5 1 1.1 .6-.9 .4-.3 1 .4 .6-.5 .4 .2 1-.2 .6 .1 .4 .6 1-.5 .6 0 .4 .1 1-.2 .6 .2 .4 .2 1-.5 .6-.5 .4 .7 1-1.2 .6 .9 .4-.4 1-1.1 .6-.2 .4-.1 1-1.4 .6 1.2 .4 .2 1-.5 .6 .5 .4 0 1 .9 .6 .8 .4 0 1-.5 .6 .4 .4 .5 1-.5 .6 0 .4 .2 1 .4 .6 .1 .4-1.2 .1 .7 .5 .7 .4-.8 .1 .3 .5 .1 .4 0 .1 0 .5-.6 .4 1.1 .1-.3 .5-.3 .4 .5 .1-.6 .5-.2 .4 0 .1 .5 .5 .5 .4-.3 .1-.5 .5-.6 .4 .4 .1-.1 .5 .8 .4 .3 .1-2 .5 .9 .5 .5 .5 .7 .5-.7 .5 0 .5 .5 .5-.8 .5 0 .5-.4 .5 .6 .5-1.1 .5 .8 .5-.1 .5 .1 .5 .2 .5 .3 .5-.2 .5-.4 .5 .5 .5-.6 .5-.1 .5 .2 .5-.5 .5 1 .5-.3 .5-.2 .5 .5 .5 .2 .5-1.2 .5 .2 .5 .3 .5-.7 .5 .5 .5-.5 .5 .2 .5 .3 .5-.2 .5-1 .5 .5 .5 .6 .5-1.3 .5-.4 .5-.3 .5-.5 .5-1.6 .5 .2 .5-1.5 .5-1.4 .5-2.1 .5-1.4 .5-2.4 .5-1 .5-2.6 .5-3.2 .5-1.3 .5-1.3 .5-.8 .5-.8 .5 1 .5 .9 .5 1.7 .5 1.5 .5 2.9 .5 .9 .5 1.3 .5 3 .5 3 .5 1.6 .5-.1 .5 .9 .5 2 .5-.6 .5 2 .5-.3 .5 .5 .5 .2 .5 .4 .5 .4 .5 0 .5 .1 .5 .2 .5 0 .5 1.4 .5-.4 .5-1 .5 .5 .5 .7 .5-1.3 .5 .7 .5-.3 .5 0 .5 .8 .5-.2 .5-.9 .5 1 .5-1 .5 .8 .5 .5 .5-.7 .5 .9 .5-.9 .5-.3 .5 .4 .5 0 .5 .7 .5-.8 .5 .8 .5-.5 .5-.3 .5 .2 .5 .2 .5-.2 .5-.5 .5 .6 .5 .5 .5-.6 .5 .6 .5-1 .5 .6 .5 0 .5 .1 .5-.5 .5 .6 .5-.2 .5 0 .5-.3 .5-.5 .5 .5 .5-.9 .5 1.6 .5-.5 .5 .3 .5-.7 1 .8 2-.2 2 .2 2-.6 2 .8 2-.2 2 .6 2-.3 2-.9 2 .2 2 .9 2-.8 2-.4 2 .5 2 .1 2 .1 2 .1 2-.7 2 .2 2 .2 2 .5 2-.2 2-.5 1.5 .6 .5-1 .5 .4 .5-.1 .5 .7 .5-1.1 .5 1.7 .5-1.8 .5 1.3 .5-.7 .5-.1 .5 .4 .5-.3 .5 .5 .5 .3 .5-.2 .5-.9 .5 .6 .5 0 .5-.2 .5 .5 .5-.4 .5 .3 .5 .2 .5 0 .5-.9 .5 .1 .5 .8 .5-1.3 .5 0 .5-.1 .5 1.3 .5-.4 .5-.7 .5 .8 .5-.8 .5 .7 .5-.2 .5-.1 .5 .5 .5-.3 .5-.5 .5-.6 .5 .5 .5 .2 .5-.1 .5-.1 .5 .5 .5 0 .5-.6 .5 .6 .5-1.2 .5 .3 .5 .7 .5-.3 .5 0 .5 .1 .5-.2 .5 .1 .5 0 .5 .3 .5-.9 .5-.3 .5 .3 .5 .4 .5-.9 .5-1 .5 .9 .5-1.7 .5-.2 .5 .2 .5-1.2 .5-.2 .5-.4 .5-.6 .5 .4 .5 0 .5 0 .5-.5 .5 1.7 .5 .2 .5-.2 .5 .9 .5 .4 .5 1.4 .5-.3 .5 .5 .5 .7 .5 .7 .5-2 .5 1.5 .5 .8 .5-.5 .5-.4 .5 1 .5-.6 .5-.2 .5 .1 .5 .3 .5 .3 .5-.4 .5-.8 .5 .7 .5-.2 .5-.1 .5 .4 .5-.1 .5-.2 .5 .4 .5-.4 .5 .7 .5-.8 .5 .1 .5-.5 .5 .6 .5-.1 .5 .6 .5-.1 .5 .3 .5 0 .5-.7 .5-.1 .5 .2 .5 .7 .5-1.4 .5 1.2 .5-1.3 .5 1 .5-.7 .5 1 .5-.2 .5 .6 .5-.2 .5-.5 .5 .7 .5-1.5 .5 .4 .5-.2 .5 1.5 .5-1.2 .5-.2 .5-.4 .5 .8 .5 .5 .5 .4 .5-1.7 .5 .3 .5 1.2 .5-1 .5 .8 .5-.2 1.5-.3 2-.1 2 .1 2 .6 2-.1 2-1.6 2 1.7 2-.1 2 .3 2-.2 2-.3 2-.1 2-.4 2 .7 2-.8 2 .7 2 0 2-.2 2 .1 2-.9 2 .5 2-.1 2 .3 2-.1 2-.3 2 0 2 .3 2-.3 2 .6 2 .1 2 .6 2-.4 2-.1 2-.8 2 .4 2-.5 2 .8 2-.2 2 .3 2 .1 2-.7 2 .3 2-.7 2 .4 2 .7 2-.6 2 .6 2-.1 2-1.1 2 .9 2-.5 2 .3 2-.2 2 .2 2 .1 2 .5 2-.3 2-.4 2 .3 2-.7 2 .1 2 .7 2 .2 2-1 2 .9 2-.5 2-.2 2 .1 2 .2 .5 .2 .5 .3 .5-.6 .5 .4 .5-.6 .5 .4 .5 0 .5-.3 .5 .3 .5 .2 .5 .6 .5-.9 .5-.5 .5 .1 .5 .3 .5 .5 .5-.9 .5 1.7 .5-1.4 .5 .7 .5-1.5 .5 1.6 .5-.7 .5-.2 .5 .3 .5 .6 .5-.6 .5 .6 .5-.3 .5 .1 .5-.3 .5 .6 .5-.2 .5-.2 .5-.2 .5 .3 .5 0 .5-.6 .5 .7 .5-1.3 .5 .8 .5 .3 .5-.1 .5-.3 .5 0 .5 0 .5 .6 .5-.2 .5-.9 .5 1 .5-.2 .5-1 .5 .8 .5-.1 .5 .3 .5 .5 .5-.6 .5 .6 .5-1.2 .5 0 .5 .3 .5-.2 .5-.4 .5 .8 .5 .4 .5-1.7 .5 .3 .5 .1 .5-.6 .5-1 .5 .6 .5-1.1 .5-.4 .5-.3 .5 .1 .5-1.8 .5-.4 .5-.6 .5 .3 .5 .4 .5-.2 .5-.8 .5 .4 .5 .6 .5 .4 .5 .7 .5 .9 .5-.6 .5 .8 .5 .1 .5 1.4 .5 .1 .5 .1 .5 .8 .5-.4 .5 .6 .5-.2 .5 1.3 .5-.5 .5 .3 .5-.6 .5-.1 .5 .1 .5 .5 .5-.7 .5 .3 .5 .6 .5 .5 .5-.8 .5-.1 .5-.2 .5-.2 .5 .5 .5-.1 .5 0 .5-.5 .1 .8 .4 0 .1-.4 .4 .3 .1-.6 .4 1.2 .1-.6 .4-.4 .1-.2 .4 .8 .1-.7 .4 .8 .1-.6 .4-.3 .1 .2 .4 1.3 .1-.6 .4-.8 .1 .7 .4-.9 .1 .7 .4-.5 .1-.5 .4 .7 .1-.6 .4 .7 .1-.3 .4 .3 .1 0 .4 .9 .1-.9 .4 .9 .1-1 .4 0 .1 .2 .4 .5 .1-.4 .4 .3 .1-.2 .4-.7 .1 .8 .4-.9 .1 .8 .4-.5 .1 .8 .4-1 .1 .5 .4 .2 .1-.5 .4 1.2 .1-1.1 .4-.2 .1 .4 .4-.2 .1 .7 .4-1.2 .1 .6 .4-.2 .1-.1 .4 .5 .1-.6 .4-.3 .1 1.2 .4 0 .1-1 .4 .3 .1 .7 .4-1.6 .1 1.6 .4-.5 .1 .4 .4-.4 .1 .1 .4 .7 .1-.6 .4-.3 .1-.9 .4 .9 .1 .1 .4 .1 .1-.6 .4 .4 .1 0 .4-.3 .1 .2 .4-.2 .1 .3 .4-.4 .1-.2 .4 .4 .1 .4 .5 .2 .5-.9 .4 .8 .1 .2 .5-1.9 .5 .8 .5 .8 .4-1 .1 1 .5-.4 .5-.8 .5 .6 .4 .2 .1-.4 .5 0 .5 .3 .5-.8 .4 .4 .1-1.5 .5 0 .5 1.3 .5-1.2 .4-.7 .1 .8 .5-.7 .5-1 .5-.4 .4-.9 .1-1.2 .5-.1 .5-1.3 .5-1.5 .4-1.6 .1-.1 .5-1.6 .5-1.8 .5-3.2 .4-.2 .1-.8 .5-.5 .5-2.2 .5-.6 .4-.1 .1-.2 .5 .2 .5 .4 .5 2.1 .4 .7 .1 .7 .5 2.4 .5 1.6 .5 1.9 .4 .7 .1 .3 .5 2.2 .5 .7 .5 1.9 .4 .6 .1 .1 .5 1.1 .5 .5 .5 1.1 .4-.1 .1 .2 .5 .3 .5 1 .5-.6 .4 .7 .1 .3 .5-.2 .5 .5 .5 .2 .4-.6 .1 1 .5-.5 .5 .8 .5-.1 .4 0 .1-.4 .5-.5 .5 1.3 .5-.7 .4-1 .1 1.8 .5-.2 .5-.6 .5-.4 .4 .1 .1-.1 .5 .3 .5 .1 .5 .1 .4 0 .1 .2 .5-.4 .5 .1 .5 .6 .4-.2 .1-.4 .5 .1 .5-.3 .5 1.2 .4-.4 .1-.4 .5-.2 .5 .7 .5-.2 .4 0 .1 .3 .5-.5 .5-.1 .5-.3 .4 .3 .1-.6 .5 1.1 .5-.5 .5 .6 .4-1.2 .1 .7 .5 1.3 .5-1.3 .5 .2 .4 .3 .1 .5 .5-1.7 .5 .4 .5 .2 .4 0 .1 .1 .5 .7 .5-1.1 .5 .2 .4 .3 .1-.2 .5-.1 .5-.2 .5 .6 .4 .4 .1-.8 .5 .2 .5-.2 .5-.1 .4 .3 .1 .5 1.9-.7 2-.1 2 1.2 2-.9 1.5 .3"/>
<path stroke="#1868E0" d="M182.5 955.2l 2 .6 2-.3 2 .2 2 .4 2-.4 2 .4 2-.2 2 .3 2-1.2 2 .1 2-.2 2 .8 2-.3 2 .5 2-.3 2 0 2 .9 2-.7 2-.3 2-.4 2 .9 2-.1 2-.9 2 .4 2 .2 2-.8 2 .6 2 .7 2-1.3 2 .9 2 .6 2-1.1 2 .1 2 .3 2 .1 2 0 2-.9 2 .4 2 .3 2-.1 2 .6 2-.6 2-.1 2 1 2-.8 2-.4 2 .4 2-.1 2 .4 2-.1 2-.4 2 0 2 0 2 .8 2 .3 2-.9 2 .2 2 0 2-.4 2 0 2 0 2-.7 2 .6 2 .5 2 .2 2-.5 2-.1 2 .5 2 .6 2-1.3 2 0 2 .2 2 .4 2-.6 2 .6 2-.5 2 .5 2-.3 2-.1 2 .6 2-.9 2 .1 2 .7 2 0 2-.2 2-1.1 2 1.3 2-.1 2-.4 2-.7 2 1.3 2 .4 2-.6 2 .4 2-.9 2 .4 2-.4 2-.2 2 .3 2-.2 2 .1 2-.1 2 .2 2 .1 2 .1 2-.6 2 .7 2-.9 2 .8 2 0 2-1.1 2 .9 2 .7 2-.3 2-.4 2-.1 2 .4 2 0 2 .3 2-.3 2 .3 2-.2 2-.6 2-.1 2 .3 2 .4 2-.6 2 .8 2-1.1 2 .6 2-.3 2 .5 2-.1 2-.1 .7-.5 1 .2 .3 .1 .7 .7 1-.7 .3 .5 .7 .2 1-.8 .3 .1 .7-.7 1 .8 .3 .5 .7-.8 1 .6 .3 .2 .7-.2 1-.4 .3 .3 .7-.5 1 0 .3 1.2 .7-1.4 1-.4 .3 .3 .7-.2 1-.1 .3-.7 .7-.2 1 .2 .3 .8 .7 .4 1-.5 .3 .2 .7 .4 1-.2 .3 .2 .7 .7 1-.9 .3 .8 .7 .3 1-1 .3 1 .7-.5 1-.2 .3 .6 .7-.3 1-.2 .3-.1 .7-.1 1 .1 .3 .1 .7 .5 1-.5 .3 .3 .6-.3 .1 .4 .9-.3 .4 .6 .6-.4 1-.9 .4 .7 .6-.1 1 .6 .4-.4 .6 .3 1 0 .4-.7 .6 .2 1 .1 .4-.5 .6 2 1-1.3 .4-.9 .6-.1 1 .6 .4-.4 .6-.6 1-.5 .4 .6 .6-.5 1 0 .4-.3 .6 .5 1-1.2 .4 1.3 .6-.4 1 .3 .4 1.1 .6-1.1 1 1.1 .4-.1 .6 .8 1-1.1 .4 .8 .6 .1 1-.2 .4 .1 .6-.2 1-.5 .4 .4 .5-.6 .1 1.2 .9 .1 .1-1.1 .4 1.2 .5-.7 .1-.6 .9 .4 .1 .6 .4-.3 .5-.5 .1 .8 .9-.4 .1-.1 .4-.3 .5 .7 .1 .2 .9-.9 .5 .4 .5 0 1 .2 .5-.6 .5 1.4 1-.9 .5 .3 .4-.6 .1 1.1 .9-.9 .1-1 .5 1.1 .4-.6 .1-.5 .9 .1 .1-.4 .5 .5 .4-.2 .1-.9 .9 .5 .1 .2 .5-1.8 .4 1.7 .1-.3 .9 .2 .1 .3 .5-.5 .4-.1 .1 .5 .9 .2 .1 .3 .5-1.1 .4 1 .1 1.4 .9-.8 .1 .3 .5-.2 .4-.4 .1 .6 .9-.2 .1-.5 .5 0 .4 .2 .1-.7 .9-.4 .1 .9 .5-.3 .4-.9 .1 .8 .9-.8 .1-.2 .5-.6 .4 .6 .1-.6 .9 .4 .1-.2 .5 1 .4-.2 .1 0 .9 .8 .1 .8 .5-.4 .4-.9 .1 .7 .9 .3 .1-.2 .5-.1 .4 1.3 0-.5 .1 .1 .9-.1 0 .2 .6-.1 .4-.2 0-.1 1-.4 0 .2 .6 .3 .4-.4 0 .5 1-.5 0 .8 .6-1 .4 .7 0 .5 1-.2 0-.6 .6 .8 .4-.6 0 .2 1-.2 0-.8 .6 1.1 .4-.1 0 .1 1-.8 0 .8 .6-.6 .4-.3 0 .1 1 .5 .6-.4 .4 .8 .9-.5 .1 .2 .6-.8 .3-.5 .1-.2 .9 .4 .1 .7 .6-.1 .3-1.3 .1 .9 .9 .2 .1-.7 .6 .5 .3-.2 .1 .4 .9 .2 .1-.2 .6 .2 .3-.2 .1 .4 .9-1.4 .1 1.7 .6 .3 .3-1.1 .1 .5 .9 .4 .1-.6 .6 0 .3 .3 .1 .4 .9-1.1 .1 .8 .6 0 .3-.9 .1 .7 .9 .4 .1-.6 .6-.3 .3 .6 0-.9 .1 .2 .9 .4 0 .1 .1-1.2 .6 .2 .3 .2 0 .3 .1-.3 .9-.6 0 .6 .1-1.4 .6 1.2 .3 .3 0 .2 .1-.3 .9-.6 0 1.1 .1-.7 .6 .3 .3 .8 0-1.4 .1 1.9 .9-.3 0 0 .7-.4 .3 .5 0-.1 1 0 0-.8 .7 .9 .3-.1 0 .3 1-.2 0-.1 .7 0 .3-.8 0-.2 1 .7 0-.2 .7 .4 .3-.8 0 .3 1 .3 0-.3 .7-.6 .3 .6 0-.2 1-.8 0 .2 .7 .3 .3-.2 0 0 1-.1 0-.9 .7 1.6 .3 0 0-.2 .9-.5 .1 .6 0 .2 .7 .1 .2 .1 .1-1 .9 1.5 .1-.1 .7 .2 .2 .3 .1-.5 .9 .5 .1-1.1 .7 .8 .2-.4 .1 .8 .9-.9 .1 0 .7 0 .2 .5 .1-.6 .9 .7 .1 0 .7-.3 .2 0 .1-.3 .9 1.1 .1-.5 .7-.9 .2 .9 .1-.9 .9 .5 .1 .2 .7-.6 .2-.1 .1 .4 .9-.2 .1-.2 .7-.1 .2-.9 .1 .5 .9-.8 .8 .2 .2-.6 1-.1 .8 .1 .2 .2 1 .5 .8 .4 .2 .4 0-.7 1 1.5 0-.8 .8 0 .2 .5 0-.3 1 .1 0 .3 .8-.6 .2 1.1 0-1.1 1 .3 0 .8 .8 .1 .2-.4 0-.8 1 .5 0-.1 .8 0 .2 .1 0 .3 1 .2 0-.2 .8-.5 .2 .4 0 .1 1 .2 0-.7 .8 0 .2-.1 0-.2 1 .5 0-.4 .8 .5 .2-.1 0-.4 1-.2 0-.3 .8-.1 .2-.1 1 0 .8-.8 .2 .6 1 0 .8 .2 .2-.6 1 .5 .8 .8 .2 .1 1-.3 .8 1.4 .2-.7 1 0 .8 .3 .2-.5 .9-.6 .1 .9 .8-.3 .1 .3 .1 .1 .9-.8 .1 .4 .8 .7 .1 .3 .1-.7 .9 .1 .1 .1 .8 0 .1 1 .1-.4 .9-1 .1 .1 .8 .7 .1-.3 .1 .2 .9-.1 .1-.7 .8-.2 .1-.1 .1 .3 .9 .5 .9-.4 .1 1.1 1-1.7 .9 .5 .1 .6 1 .1 .9-1.6 .1 .6 1-.3 .9-1.5 .1 1.2 1-.4 .9-.1 .1 .6 1 0 .9-.1 .1 1 1-.6 .9 1.1 .1-1.6 1 1.6 .9-.5 .1 .3 1 0 .9 .4 .1-.9 1 .3 .9 0 .1 .3 1-.2 .9 .1 .1 .1 1-1 .9 .7 .1 .1 1 .1 .9 1 .1-.7 1 .2 .9-.8 2 .5 2 .4 2-1 2-.1 2-.5 2 .1 .5 1.3 .5-1.4 .5 .6 .5 .3 .5-.2 .5 0 .5-.2 .5 .5 .5-1.2 .5 .5 .5 .1 .5-.9 .5 .5 .5 .2 .5 .8 .5-1 .5 .7 .5-.9 .5 1 .5-1 .5 .6 .5 .8 .5-.9 .5 .1 .5-1.2 .5 .6 .5 0 .5-.5 .5 0 .5-.7 .5 .1 .5-.6 .5-.3 .5 .8 .5-1 .5 .2 .5 .3 .5-.8 .5-1.3 .5-.6 .5-1.1 .5-1 .5-1.1 .5-2.6 .5-4.5 .5-5.1 .5-5.1 .5-9.3 .5-8.1 .5-12.1 .5-10.5 .5-11.7 .5-10.6 .5-7.6 .5-1.9 .5 2.6 .5 7.1 .4 8.5 .1 1.7 .5 11.5 .4 9.6 .1 3.7 .5 9.2 .4 7.3 .1 2.1 .5 8.2 .4 4.9 .1 .8 .5 5 .4 2.3 .1 1.4 .5 2.3 .4 1.7 .1 .1 .5 1.5 .4 0 .1 .6 .5 .9 .4 .7 .1-.5 .5 .7 .4 1 .1-.2 .5-.1 .4 .4 .1 0 .5 .5 .4-.1 .1-.3 .5 .7 .4-.6 .1 1 .5 .2 .4 .1 .1-1 .5 .6 .4 .5 .1-.2 .5 0 .4 0 .1 .3 .5-.5 .4-.6 .1 .8 .5 .8 .4-.7 .1 0 .5 .5 .4-1.2 .1-.1 .5 .2 .4 .4 .1 .7 .5-.3 .4-.4 .1 .7 .5-.4 .4 .1 .1-.2 .5-.2 .4 .5 .1-.4 .5-.3 .4 .6 .1 1 .5-.6 .4-.5 .1 .8 .5 1 .4-1.1 .1 1.2 .5-.8 .4-1.2 .1 1.1 .5 .9 .4-.7 .1-.8 .9 .8 .1 .4 .9-1.3 1 .8 .1 .1 .9 .4 1-.7 .1-.2 .9 .7 1-.1 .1-.2 .9-.2 1 .6 .1-.6 .9 1.3 1.1-1.2 2 .8 2-.1 .7-.3 1-.2 .3 .5 .7-.4 1-.5 .3 .5 .7 .1 1-.9 .3 1.3 .7-1.4 1 1 .3-.2 .7-.7 1 .6 .3-.3 .7 .6 1-.5 .3 .4 .7 0 1 .3 .3-.9 .7 1 1-1.8 .3 .3 .7 .1 1-.7 .3-.1 .7 .9 1-.8 .3 .4 .7 .9 1 .4 0-.7 .3 .6 .7 .1 0-.1 1-.2 0-.3 .3-.2 .7 1.3 0-.4 1-.3 0 .1 .3 .4 .7 0 0-.4 1-.4 0 .8 .3-.5 .7-.5 0 1.3 1 .2 0-.7 .3-.2 .7 0 0-.1 1-.1 0-.1 .3-.1 .7 .1 0 .2 1 .1 0 .2 .3-.7 .7 .6 0-.7 1-.2 0 .7 .3-1.1 .7 .6 0-.9 1 .4 .3 .5 .7-.1 1-1 .3 .1 .7 1.2 1-.2 .3 .5 .7-1.1 1 1.6 .3-.5 .7-.6 1 .7 .3 .7 .7-.4 1-.8 .3-.2 .7 1.3 1-.7 .3-.2 .7 .1 1-.1 .3-.3 .7 .6 1 .2 .3-.8 .7 1.1 1-.8 .3 .5 .7 .2 1 .1 .3 .2 2-1.4 2-.1 2 .1 .5 .5 .5 .4 .5-.7 .5 .1 .5 .2 .5 0 .5 1.2 .5-1.4 .5 1.2 .5 .3 .5-1.1 .5-.1 .5 .1 .5-.3 .5 0 .5-.3 .5 .8 .5 .2 .5-.8 .5 .8 .5-.6 .5-.2 .5 .4 .5-.2 .5 .9 .5-.1 .5-.1 .5-.2 .5-1 .5 .3 .5 .2 .5 .9 .5-1.2 .5 .9 .5-1.5 .5 .7 .5 0 .5 .6 .5-.1 .5-.4 .5 .1 .5-.9 .5-.3 .5 1.2 .5 .6 .5-1 .5-1 .5 .1 .5-1.6 .5 0 .5-.9 .5-.3 .5-1.8 .5-1.1 .5-2.5 .5-1 .5-1.5 .5-.2 .5-.6 .5 .3 .5-.1 .5 3 .5 .5 .5 1.7 .5 2.5 .5 .8 .5 .5 .5 1.1 .5-.3 .5 .8 .5 1 .5-.3 .5 .3 .5-.5 .5 .4 .5 0 .5 0 .5 .9 .5-1 .5-.1 .5 .2 .5-.8 .5 .2 .5-1.2 .5 .6 .5 .5 .5-.4 .5 .8 .5-.2 .5 .7 .5 .5 .5-.4 .5-.2 .5 .2 .5 .6 .5 .1 .5-.7 .5 1.3 .5 .1 .5-.5 .5 .2 .5 0 .5-.6 .5 .5 .5 .1 .5-.2 .5-.5 .5-.1 .5 .4 .5 0 .5 0 .5-.7 .5 .9 .5-.1 .5 .1 .5-.5 .5 .9 .5-.3 .5 .4 .5-.7 .5 .7 .5-.2 .5-.4 .5 .3 .5-.4 .5 .3 .5 0 .5 0 .5 .2 .5 .2 .5-.8 .5 .6 .5-1.2 .5 .6 .5 1.4 .5-.6 .5-.3 .5 1.1 .5-1.6 .5 .4 .5-.5 .5 .7 .5-.5 .5-.5 2 .2 2 .3 2 .7 2-.1 2 .1 2-.2 2-.4 2 1.1 2-1.1 2 .5 2-.5 2 .1 2 0 2-.3 2 .8 2-.4 2 .5 2 .1 2-.2 2-.3 2 .2 2-.5 2 .4 2-1.1 2 .5 2 .8 2-1.1 2 .8 2 .2 2-.3 2-.4 2 .8 2 .5 2-.3 2-1.4 2 1.5 2-1.1 2 1 2-.7 2 .2 2 .4 2-1.2 2 1.1 2-.7 2 .3 2-.5 1.9-.1 .1-.5 .4 .4 .5 .5 .5-.8 .5 1 .1-.3 .4-1 .5 .6 .5 .2 .5-.3 .1 .2 .4 .3 .5-.7 .5 .3 .5-.3 .1-.4 .4 .7 .5-.5 .5 0 .5 .4 .1-1.3 .4 1.2 .5-.2 .5-.2 .5 .1 .1-.1 .4 0 .5-1 .5 .4 .5 .2 .1-.2 .4 .1 .5-.6 .5 1 .5-.9 .1 .3 .4-.1 .5-.8 .5-.2 .5-.4 .1 .6 .4 .2 .5-.6 .5-1.2 .5 .7 .1 0 .4-.7 .5-1.4 .5-.7 .5-.1 .1-.5 .4 .2 .5-.6 .5-1.3 .5-2 .1-.3 .4-2 .5-3.7 .5-5 .5-4.8 .1-1.5 .4-8.2 .5-8.6 .5-12.7 .5-14.9 .1-2.2 .4-14.2 .5-17 .5-16.7 .5-14.1 .1-3.3 .4-7.3 .5-4 .5 4 .5 10.7 .1 2.6 .4 11.4 .5 16.9 .5 16.6 .5 17.5 .1 2.5 .4 12 .5 11.9 .5 9.9 .5 7.9 .1 .6 .4 5.8 .5 4.5 .5 2.7 .5 2.9 .1 .3 .4 1 .5 1.3 .5 .7 .5 1 .1 1.1 .4 .4 .5 .2 .5 .9 .5 0 .1-.2 .4 .7 .5 0 .5 .2 .5 .6 .1-.6 .4 1.2 .5-.2 .5-.2 .5 .7 .1-.8 .4 0 .5 .6 .5 .4 .5-.3 .1-.2 .4 1.5 .5-.6 .5-.6 .5 .4 .1 .6 .4-.4 .5-.4 .5 1.7 .5-.3 .1-1.4 .4 1.1 .5 0 .5-.6 .5 .3 .1-.2 .4 .5 .5 .7 .5-.7 .5-.2 .1 .9 .4-.7 .5-.4 .5 .2 .5 .1 .1 .5 .4 .1 .5 .1 .5 0 .5-1.2 .1 1 2-.7 2 .7 2 .1 2-.4 2 .2 2 0 2 .4 2 0 2 .7 2-.7 2 .2 2-.1 2-.2 2 .5 2-.8 2 .5 2-.4 1.8 .2 .2-.7 .8 .2 1 1 .2-.3 .8 .2 1-.4 .2-.3 .8 .7 1 .2 .2-1 .8-.5 1 .7 .2 .2 .8-.7 1 .2 .2 .8 .8 .3 1 .1 .2-.9 .8 .3 1-.4 .2-.5 .8 0 1 .3 .2-.8 .8 0 1 .1 .2-.3 .8-.1 1 .6 .2 .8 .8-.2 1-.3 .2 .6 .8-.2 1 .5 .2-.2 .8-.5 1 .3 .2 .3 .8 .1 1-.3 .2 .3 .8-.6 1 .2 .2 .1 .8-.8 1 1.2 .2-.6 .8 .3 1-.4 .2 .8 .8-.4 1-.2 .2 .8 2-.8 2-.5 2 1.4 2-.8 .7-.3 1 .3 .3 .8 .7-.4 1-.6 .3 .4 .7 1.1 1-.7 .3 .1 .7-.7 1 .1 .3 1 .7-1.1 1 .4 .3 .2 .7-.1 1-.4 .3 .5 .7-.7 1-.4 .3 .7 .7-.3 1-.4 .3 .1 .7-.7 1 .5 .3 .3 .7-1.3 1 .4 .3 .2 .7-.1 1 .9 .3 .6 .7-.5 1 .7 .3-.5 .7 .2 1-.4 .3 .4 .7-.6 1 1 .3-1 .7 0 1 .5 .3-.4 .7 .6 1 0 .3-.2 .7-.9 1 .8 .3 .1 .7-.1 1-.1 .3-.2 .7 .1 1.3 .4 2-.1 2-.4 2 .5 2 .2 .5 0 .5-.6 .5 1.1 .5-1.7 .5 .9 .5-.2 .5-.1 .5 0 .5-.3 .5 .4 .5-.2 .5-.1 .5 0 .5-.1 .5 .5 .5 .3 .5-.7 .5 .2 .5 .5 .5-1.1 .5 .6 .5-.5 .5 .4 .5 .1 .5 .3 .5-1 .5 .6 .5-.5 .5 .6 .5-1.1 .5 1 .5 .2 .5 0 .5-.4 .5-.6 .5-.4 .5 .6 .5-.3 .5-1.1 .5 0 .5 .7 .5-.5 .5-.9 .5-.1 .5-.1 .5 .2 .5-.5 .5-.7 .5-1.2 .5-1.2 .5-1.7 .5-1.3 .5-4.2 .5-2.6 .5-4.3 .5-5.4 .5-7 .5-5.5 .5-6.7 .5-6.7 .5-5.3 .5-3.6 .5-.9 .5 .8 .5 4.2 .5 4.7 .5 7.7 .5 5.1 .5 7.1 .5 5.4 .5 5.1 .5 5 .5 4 .5 1.9 .5 2.6 .5 1.3 .5 1.8 .5-.6 .5 2.1 .5 .1 .5 .4 .5 .3 .5-.3 .5 1.3 .5 0 .5-.4 .5 .4 .5 .1 .5-.6 .5 1 .5 .4 .5-.2 .5 0 .5-.6 .5 .5 .5-.4 .5 .5 .5 .4 .5 1.3 .5-1.4 .5 .2 .5-.2 .5 .1 .5 .6 .5-.7 .5 .3 .5 .3 .5-.7 .5 1.5 .5-1.2 .5 .3 .5 .6 .5-.8 .5-1.1 .5 1.4 .5 .2 .5-.3 .5 .5 .4-.4 .1 .8 .5 0 .4-.7 .1 .5 .5-.8 .4 .5 .1 .1 .5-.9 .4 .7 .1-1.1 .9 .4 .6-.1 .4 1 1-.8 .6 1.1 .4-1.1 1 .2 .6-.4 .4 .7 1-.3 .6 .1 .4 .3 1-.3 .6-.4 .4-.2 1 .4 .6 .6 .4-.3 1-.8 .6-.5 .4 .6 .7-.4 .3-.4 .2 .1 .4-.1 .1-.1 .3 .4 .2-.1 .5 .4 .3-.2 .2-.4 .4 .9 .1 .7 .3-1.3 .2 .8 .5-.4 .3 .5 .2 1.1 .4-.6 .1-.7 .3-.1 .2 .1 .5 .6 .3-.4 .2-.3 .4 .6 .1-1.1 .3 .6 .2 1 .5-.8 .3 .1 .2-.4 .4 0 .1-.2 .3 .2 .2-.2 .5-.7 .3 1.2 .2-.4 .4 .9 .1-.2 .3 0 .2 .3 .5 0 .3-.8 .2 .8 .4 .3 .1-.7 .3-.8 .2 .4 .5 .1 .3-.3 .2-.2 .4 1.1 .1-.8 .3 0 .2 .4 .5-.8 .3 1.3 .2-.9 .4 .1 .1-.8 .3 .3 .2 .6 .5-.4 .3-.2 .2-.1 .4 .3 .1-1.1 .5 1.5 .5-.4 .5-.2 .4-1.4 .1 .9 .5 .4 .5-1.1 .5-.6 .4-.7 .1 .4 .5 0 .5-1.8 .5-.7 .4-.1 .1-1.1 .5-1.2 .5-2.2 .5-2.4 .4-3.4 .1-.4 .5-4.4 .5-3.6 .5-5.8 .4-3.2 .1-2.1 .5-4.7 .5-3.6 .5-3.4 .4-.8 .1-.5 .5 1.1 .5 2.7 .5 4.6 .4 4.3 .1 1.1 .5 5 .5 3.9 .5 5.9 .4 3.2 .1 .3 .5 3.4 .5 1.8 .1 1.2 .4 2.4 .4 1.7 .1-.4 .1 0 .4 1.2 .5 1.2 .1-.4 .4 1 .4 .6 .1 .4 .1-.6 .4 0 .5 .8 .1-.1 .4 .3 .4 0 .1 .3 .1-.3 .4 .7 .5-.2 .1-.2 .4 1.2 .4-.4 .1-.2 .1-.3 .4-.6 .5 1.3 .1 .1 .4-.6 .4 .5 .1-.4 .1 .4 .4 .1 .5-.4 .1 .1 .4 .5 .4-.5 .1-.4 .1-.2 .4 .8 .5 .9 .1-.7 .4 .2 .4 .1 .1-.4 .1 .6 .4-1.5 .5 .7 .1 .7 .4-.6 .4 .3 .1 0 .1-.5 .4-.9 .5 .2 .1 .5 .4 .7 .4-.9 .1-1.2 .1 .9 .4 0 .5 0 .1 .2 .4-1.7 .4 2.8 .1-.7 .1-.1 .4-.1 .5-.4 .1 .4 .4 1.1 .4-.4 .1 0 .1-.3 .4 .1 .5 .3 .1 .5 .4 .1 .4 0 .1-1 .1 .5 .4 .1 .5-.3 .1 .7 .4-.7 .4 1.6 .1-1 .1-.1 .4-.4 .5 .3 .1 .8 .8-1.4 .2 .5 1 .8 .8-1.8 .2 1.2 1-.4 .8 .9 .2-.9 1-.2 .8 .6 .2 .9 1-1 .8 .3 .2 0 1-.5 .8 .3 2 .1 2 .3 2-.2 2-.1 2-.7 2 1.7 2-1 2 0 2 .5 2 .4 2-.7 2 .1 2-.6 2 .5 2 .1 2-.4 2 .5 2-.8 2 1.3 2-1.4 2 1.1 2-.8 2 .6 1 .4 1-1.4 0 .7 1 .1 1-.6 0 .3 1 .8 1-1.1 0 .3 1-.4 1 .1 0 .7 1 .3 1-1.1 0 .9 1-.1 1-1.1 0 1.1 1-.8 1-.1 0 0 1 0 1 .2 0 .3 1 0 1-1.3 0 1.4 1-1.3 1-.3 0 1.1 1 .1 1 .5 0-.1 1 .3 1-.7 0 .2 1 0 1 .4 0-.4 1 .9 1-.4 0 .1 1-.5 1 0 0 .1 1 .1 1-1 0 .6 1 .7 1-.2 0 .2 1-.3 1-.3 0 .4 1-.3 1 .5 .4-.3 1 .1 .6 .2 .4-.6 1 0 .6 .1 .4 .1 1 .7 .6-.7 .4-.1 1 .6 .6 .2 .4-.4 1 .3 .6-.5 .4 .1 1-.1 .6 .3 .4-.3 1-.1 .6-.6 .4-.1 1 .2 .6-.3 .4 .5 1-.8 .6 .3 .4-.4 1-.3 .6 .1 .4 .5 1 .5 .6-.5 .4 1.1 1 0 .6 .2 .4-.3 1 .3 .6-.1 .4-1 1 .5 .6 1.1 .4-1.1 1 .6 .6 0 .4-.2 1 .2 .6 .8 .4-1.8 1 .2 .6 1.3 .4-.3 1-.7 .6 1 .4-1.1 1.6 0 2 .4 2-.3 2 .3 2-.4 2-.1 2 .3 2 .5 2-.8 2 0 2 .7 2-.4 2 1.1 2-.1 2-1.2 2-.6 2 .4 2 .7 2-.5 2 .8 2-1 2 .3 2 .3 2 .6 2-1.1 2 .6 2-.2 2 .1 2-.3 2 0 2 .2 2 0 2-.6 .2 .5 .5 .1 .5 .4 .5-.6 .3 .9 .2-1.6 .5 .1 .5 .4 .5 .3 .3 .6 .2-.4 .5 0 .5-.1 .5-.5 .3 1.2 .2-.4 .5-.7 .5 .3 .5 0 .3 .4 .2 0 .5 0 .5-.5 .5 .4 .3-.2 .2-.4 .5 .4 .5-.2 .5 0 .3 .3 .2-.6 .5 1.3 .5-.7 .5-.1 .3 .3 .2-.5 .5 .6 .5-1.8 .5 1.2 .3-.3 .2-.5 .5 1.2 .5 0 .5-.7 .3 .8 .2 .3 .5-1.2 .5 .4 .5-.1 .3-.6 .2 0 .5 .7 .5-1.2 .5 .5 .3 .3 .2 .1 .5-.6 .5 .3 .5 .3 .3-.2 .2 .2 .5-.2 .5-.2 .5-.9 .3 .2 .2 0 .5 .2 .5-.9 .5-.7 .3 .1 .2-.8 .5-.1 .5 .1 .5-2.7 .3 .7 .2-1.8 .5-1.3 .5-1.5 .5-2.1 .3-1.3 .2-.6 .5-2.1 .5-2.1 .5-3.1 .3-1.4 .2-1 .5-.4 .5-.8 .5 .8 .3-.3 .2 2 .5 1.8 .5 1.8 .5 2.5 .3 .5 .2 1.7 .5 2.2 .5 1.5 .5 2.8 .3 0 .2 .8 .5 1.9 .5 .5 .5 1.4 .3 0 .2-.2 .5 .8 .5 .1 .5 .6 .3 .3 .2 .4 .5 .4 .5-.9 .5 .6 .3 .2 .2 .5 .5-.1 .5-.1 .5-.4 .3 .4 .2-.5 .5 0 .5 .9 .5-.5 .3-.1 .2 .8 .5-.3 .5 1.2 .5-.4 .3-.3 .2-.5 .5-.2 .5 1.3 .5-1.1 .3-.8 .2 .9 .5 .1 .5 .2 .5-1.1 .3 1.9 .2-.9 .5 .2 .5 .1 .5-.2 .3 .4 .2-.4 .5 .6 .5-.9 .5-.2 .3 .1 .2 .7 .5 0 .5-.7 .5 0 .3 .3 .2 .1 .5-.2 .5 .9 .5-1 .3 .2 .2-.2 .5 .3 .5 .1 .5-.2 .3 .1 .2-.5 .5 .8 .5-.4 .5 0 .3-.1 .2 .6 .5 .1 .5-.3 .5-.5 .3 .6 .2-.6 1.8 .2 2-.3 2 .2 2 .8 2-.6 2-.2 2 .8 2-.6 2 .3 2-.9 2 0 2-.1 2 .8 2-.9 2 1.1 2 .3 2-.5 2-.1 2 .3 2-.6 2 1 2-.5 2 .2 2-.4 .3 .7 1-.1 .7-.6 .3 .5 1-.3 .7-.2 .3-.4 1 .4 .7-.6 .3 1.3 1-1 .7 1.3 .3-1.7 1-.1 .7 0 .3 1.3 1-1.1 .7 1 .3-.5 1-.4 .7 .2 .3 .2 1-.1 .7-.1 .3-1 1 .5 .7-.5 .2 .1 .1 .4 .9-.4 .1 .2 .7 .6 .2-1.3 .1 .4 .9 0 .1-.3 .7 1.1 .2 .6 .1-.3 .9-.2 .1 .8 .7 0 .2 .3 .1 .1 .9-.7 .1-.3 .7 .2 .2 .4 .1-1.4 .9 .8 .1 .6 .7-.6 .2 0 .1 .1 .9-.2 .1-.3 .7 .4 .2 .3 .1 .4 .9 .1 .1-.7 .7-.4 .2-.7 .1 1.5 .9-.8 .1 .2 .7-.1 .2-.3 .1-.2 .9-.2 .1 .4 .7-1.2 .2 .8 .1 .1 .9 .9 .8-1 .2 0 1 .6 .8 .5 .2-.8 1 1.1 .8-.1 .2-1 1 0 .8 1.4 .2-.5 1 .7 .8-.9 .2-.7 1 .7 .8-.2 .2 .6 1-.4 .8-.7 .2 .1 1 .7 .8 .8 .2-.7 1 .4 .8-1.4 .2 1.1 1.8-.1 2 .3 2-.4 2-1.1 2 .9 2 .2 2 .4 2-.3 2 .2 2-.5 2 .5 2-.1 2 0 2-.3 2 .2 2 .2 2-.1 2-1.6 2 1.4 2 .4 2 0 2-.7 2 .6 2-.5 2 .5 2-.6 2 .5 2-.6 2 .4 2 .1 2 .1 2 0 2 .6 1.4-.9 .6 .4 .4-.4 1 .5 .6-.1 .4-.6 1 .6 .6-.1 .4-.3 1 0 .6 .7 .4-.5 1-.1 .6 .3 .4-.1 1 .1 .6 0 .4-1 1 .7 .6 .4 .4-.3 1 0 .6-.1 .4 .3 1-1 .6-.1 .4-1.4 1 1.6 .6 .3 .4-.7 1 .2 .6 .7 .4-.9 1 .4 .6-.2 .4 1.4 1-.5 .6-.6 .4 .8 1-.3 .6 .1 .4 .8 .6-1.2 .4 1.2 .1-1.5 .5 .4 .4 .2 .1-.4 .5 .1 .4 .8 .1-.7 .5 .3 .4-.2 .1 .2 .5-.1 .4-.4 .1 .5 .5 .2 .4-.2 .1 .5 .5-.1 .4-1.3 .1 .1 .5-.6 .4 .6 .1 .6 .5-.6 .4-.2 .1 .4 .5 .8 .5-.8 .5 .3 .5 .5 .5-.8 .5-.1 .5-.1 .5 1 .5-.2 .5-.1 .5-.4 .5 .4 .5-.1 .5-.5 .5 1.6 .5-1.1 .5 0 .5 .2 .5-.2 .5 .3 .5-.8 .5 .5 .5-.9 .5 .6 .5 .8 .5-.5 .5 .5 .5-1.3 .5-.1 .5 .5 .5-.9 .5 .7 .5 .1 .5-.5 .5 .2 .5-.6 .5 .3 .5-.2 .5-.1 .5-1.1 .5-.5 .5-.3 .5 0 .5-.7 .5-.3 .5-1.6 .5-1.4 .5-.5 .5-3.1 .5-1.7 .5-1.9 .5-2.2 .5-2.3 .5-2.6 .5-2.4 .5-2 .5-.1 .5-1.2 .5 1 .5 .1 .5 1.9 .5 2.5 .5 3.4 .5 2 .5 2.2 .5 1 .5 3.3 .5 1.3 .5 1.7 .5 1.5 .5 .2 .5 1.3 .5 .5 .5 .3 .5 .8 .5 .5 .5-.4 .5 .5 .5 .8 .5-.3 .5 .5 .5 0 .5 0 .5 .1 .5 0 .5-.1 .5 .5 .5-.3 .5-.5 .5 .3 .5-.5 .5 .7 .5-.2 .5 .5 .5-.8 .5 1.2 .5-.6 .5-.7 .5 1.6 .5-.8 .5-.2 .5 .3 .5-1 .5 .8 .5-.1 .5 .1 .5 .9 .5 .1 .5 .4 .5-1.3 .5 .1 .5-.1 .5 .3 .5 .2 .5-.5 .5 1.3 .5-1 .5 .2 .5-.8 .5 .8 .5 0 .5-.5 .5 1 .5-.7 .5-.6 .5 0 .5 .7 .5 .1 .5-.2 .5 .6 .5-.1 .5 .3 .5-1.1 2 .2 2 1.2 2-.9 2-.5 2 .4 2 .6 2-.9 2 .6 2-1 2 .7 2-.3 2 .2 2-.1 2 .3 2-.6 2 .5 2-.1 2 .3 2 .4 2 .5 2-1.4 2 .2 2-.5 .5 .6 .5-.1 .5-.4 .5 .8 .5 0 .5-.8 .5 .8 .5 .5 .5-.8 .5-.6 .5 .1 .5 .8 .5 .2 .5-.3 .5 0 .5 0 .5 0 .5-.5 .5 1 .5 .7 .5-1 .5-.5 .5 .4 .5-.6 .5 .3 .5 .5 .5-.3 .5 .1 .5-1.2 .5 .3 .5 1.1 .5-.4 .5-1.3 .5 2 .5-.8 .5-.2 .5 .9 .5-.1 .5-1 .5-.2 .5 1.2 .5-.3 .5 .1 .5-.4 .5-.3 .5-.3 .5 .2 .5 .9 .5 .1 .5-.7 .5-.4 .5-.1 .5 1.6 .5-1 .5-.8 .5 .8 .5 .4 .5-.9 .5-.2 .5 .4 .5 .6 .5-.6 .5-.9 .5 .6 .5-.5 .5 .1 .5-.2 .5 .2 .5-.3 .5 .4 .5-1.4 .5-.3 .5-.2 .5-.4 .5 .9 .5-.5 .5-1 .5 .9 .5-.2 .5 1.1 .5-.2 .5-.6 .5 1.3 .5 1.2 .5-1 .5-.6 .5 1.8 .5-.9 .5 1 .5-.4 .5-.3 .5 .3 .5-.3 .5 .4 .5 .4 .5-.7 .5 1.1 .5 .2 .5-1.3 .5 1.1 .5-.6 .5-.5 .5 .5 .5 .2 .5-.5 .5 .2 .5 .1 .5 .6 .5-.6 .5 .2 .5 .2 .5 0 .5-.5 .5-.4 .5 .7 .5-.4 .5 .5 .5-.8 .5 .6 .5-.1 .5 .5 .5-.2 .5-.1 .5 .4 .5-.6 .5 0 .5 .2 .5 .4 .5 0 .5-.2 .5-.3 .5 .7 .5-1.2 .5 0 .5 .5 .5 .8 .5 0 .5-.7 .5-.9 .5 .7 .5 .4 .5-.9 .5 .3 .5 1.1 .5-1 .5 .7 .5-.9 .5 .1 .5 .2 .5 .5 .5-.4 .5 0 2-.3 2 .8 2-1 2 .7 2-.8 2 1.2 2-1.1 2 .4 2-.4 2 .8 2 .5 2-.9 2 .8 2-.8 2 1.4 2-1 2-.1 2-.1 2 .2 2 .5 2-.3 2-.7 2-.2 2-.4 2 1.2 2-.7 2-.5 2 .7 2 .8 2-1.1 2 .4 2-.5 2 1 2-.5 2 .3 2-.6 2 .1 2 .3 2-.8 2 1.8 2-.2 2-.6 2-.4 2 .5 2 .1 2-.8 2 0 2 .3 2 0 2-.3 2 .5 2 .3 2 .1 2-.3 2 .3 2-.8 2 0 2 .3 2-.5 2-.4 2 1.5 2-1.1 2-.6 2 .9 2 .1 2-.1 2-.2 2 .2 1.5 .1 .5 .2 .5-.1 .5-.2 .5 .2 .5-.3 .5-.2 .5 .6 .5-.7 .5 .4 .5-.4 .5 .4 .5 1 .5-1.1 .5 .3 .5 .4 .5-.7 .5 .7 .5-.7 .5 .3 .5-1.1 .5 1.1 .5-.1 .5 .3 .5-.7 .5-.1 .5 .7 .5 .6 .5-1.3 .5 .3 .5 .9 .5-.8 .5 .1 .5 .3 .5-.2 .5 0 .5-.8 .5 .8 .5-.1 .5-.6 .5-.7 .5 2.1 .5-.5 .5-1.2 .5 .7 .5 .1 .5-.4 .5 .1 .5 .7 .5-.5 .5-.5 .5 0 .5 .4 .5 .5 .5-.3 .5-.1 .5-.5 .5 .2 .5 .6 .5-.4 .5 .4 .5-.3 .5-.4 .5-.1 .5 .8 .5-1.6 .5 .9 .5-1.1 .5-.1 .5-.5 .5-.1 .5-.9 .5 .5 .5-1.7 .5-.7 .5-.6 .5-.8 .5-.4 .5-.1 .5-.4 .5-1 .5 .9 .5 .5 .5-.4 .5 1 .5 .5 .5 .1 .5 .6 .5 2 .5 .4 .5 .8 .5-.8 .5 1 .5 .2 .5-.1 .5 .3 .5 1.1 .5-.9 .5 .4 .5 .2 .5-.1 .5 .8 .5-.4 .5-1 .5 1.6 .5-.7 .5-.6 .5 .4 .5 1.8 .5-1.4 .5-.8 .5 2.5 .5-1.9 .5-.4 .5 .2 .5 .4 .1 .6 .4-.4 .1-.6 .4-.2 .1-.2 .4 .8 .1 .7 .4-.4 .1 .4 .4-.6 .1-.7 .4 .5 .1 .1 .4-.2 .1 .4 .4 0 .1-.1 .4-.4 .1 .4 .4 .8 .1-.9 .4-.1 .1 .8 .4-1 .1 .5 .4-.2 .1 .3 .4-.3 .1-.1 .4 .2 .1-.7 .4 1.3 .1-.6 .4 .6 .1-.8 .4 .1 .1 .6 .4-.1 .1-.1 .4 .6 .1-.9 .4 .3 .1-.3 .4-.4 .1 .9 .4-.6 .1 .4 .4-.3 .1 .3 .4-.3 .1 .2 .4-.2 .1 0 .4 .3 .1-.5 .4 .4 .1-.5 .4 .2 .1-.6 .4 .4 .1-.1 .4 .4 .1 .5 .4-.1 .1-.1 .4-.2 .1 .8 .4-1 .1-.2 .4 .4 .1-.4 .4 .5 .1-.7 .4-.3 .1 1.2 .4-1.1 .1 0 .4 1 .1-.5 .4 .9 .1-.8 .4-.3 .1 0 .4-.1 .1 1 .4-.6 .1-.1 .4 .1 .1-.6 .4 .3 .1 .5 .4 .2 .1-.4 .5 .1 .5 .3 .5-1 .4-.1 .1 0 .5 0 .5 1.2 .5-1 .4-.6 .1 .3 .5 .9 .5-1.2 .5 .3 .4-.2 .1-.2 .5 .3 .5-.1 .5-.4 .4-.4 .1-.7 .5 0 .5-.2 .5-.9 .4-.5 .1-.1 .5-1.2 .5-.4 .5-.8 .4-1.2 .1-.8 .5-1.5 .5-2.3 .5-2.8 .4-.5 .1-.3 .5-1.7 .5-2.8 .5-1.5 .4-1.1 .1-.5 .5-1.2 .5 .2 .5-.4 .4 1 .1 .3 .5 1.1 .5 1.5 .5 2.3 .4 1.5 .1 1.3 .5 2.2 .5 1.8 .5 1.6 .4 .6 .1 .4 .5 2.1 .5 1 .5 .2 .4 2 .1-.7 .5 .7 .5 .3 .5 2.8 .4-1.4 .1 .8 .5-.7 .5 2 .5-.6 .4 .2 .1-.1 .5-.1 .5-.1 .5-1.3 .4 1.8 .1 .7 .5-1 .5-.4 .5 .4 .4 .4 .1-.1 .5-.3 .5 .4 .5 .5 .4-1.1 .1 .7 .5-.4 .5 .4 .5 .4 .4 .2 .1-1.2 .5 1 .5-.4 .5 .3 .4 .7 .1-1.6 .5-.1 .5 1.2 .5-.5 .4 .2 .1 .4 .5-.4 .5-.2 .5 1.4 .4-1.3 .1 0 .5 .3 .5-.1 .5-.3 .4 .9 .1-.1 .5-.2 .5-.7 .5 .5 .4-.2 .1-.5 .5 .5 .5 .8 .5-.5 .4-.6 .1-.1 .5 1.1 .5-.9 .5 .5 .4-.2 .1 .7 .5-.1 .5-.2 .5 0 .4-.3 .1 .2 .5 .1 .5-.1 .5 .4 .4-.2 .1-.3 .5 .1 .5 .4 .5 .4 .4-.9 .1 .4 .5-.5 .5 0 .9 .2 2-.2 2-.2 2 .4 2 .2 1.5 0"/>
<path stroke="#F53E42" d="M182.5 1089.2l 2-.7 2 .1 2-.1 2-.9 2 1 2-.8 2 .8 2-.4 2 .8 2-.6 2 .1 2-.5 2 .8 2-.4 2 .4 2 .1 2-.1 2-.4 2-.8 2 .4 2 .9 2 .1 2 .1 2-.9 2-.1 2 .8 2 0 2-.4 2 0 2-.6 2 .5 2 .7 2-1 2 .2 2 .1 2-.1 2-.6 2 .6 2-.1 2 .2 2-.1 2 .2 2-.5 2 1.3 2-.9 2 .8 2 0 2-.6 2-.6 2-.5 2 .3 2 .6 2 .2 2-.5 2 .2 2 1.4 2-1.1 2-.7 2 .9 2-.7 2-.7 2 1.2 2-.5 2 .4 2 .8 2-.8 2-.4 2 1.1 2-1.7 2 .4 2 1.2 2 .1 2-.9 2-.2 2 .5 2 0 2-.1 2-.3 2-.3 2 .2 2 .2 2 0 2-.2 2 .3 2-.8 2 1.3 2 .2 2-.9 2-.4 2 .8 2 .1 2-.3 2 .5 2-.7 2-.2 2 1.2 2-.9 2 0 2-.9 2 .9 2-.1 2 .3 2 .3 2-.2 2-.6 2 1 2-.3 2 0 2-.2 2 0 2-.6 2-.1 2 .4 2 0 2 .4 2-1.6 2 1.2 2-.1 2 .9 2-.8 2 0 2 .3 2 .1 2-1 2 .3 2 .8 2-.1 2-.2 2 .7 2-1.4 2 .8 2-.3 2 .3 2-.4 .7 .4 1 1.1 .3-.9 .7-.2 1 .7 .3-.5 .7 .7 1-1.3 .3-.1 .7-.5 1 .5 .3-.4 .7 1.5 1-.6 .3 .2 .7-.2 1-.1 .3-.2 .7-.6 1 1.2 .3-.9 .7 .8 1-.8 .3-1.1 .7 .2 1-.4 .3-.1 .7-.1 1 .4 .3-.2 .7 .2 1 .8 .3 .1 .7-.1 1 .7 .3-.4 .7 .5 1-.1 .3 .5 .7-1.3 1 1.6 .3-.9 .7 .7 1-.8 .3 .2 .7 .3 1-.4 .3-.1 .7 .2 1 .7 .3-1.4 .7 .7 1 .7 .3-.8 .6 .9 .1-1.8 .9 .4 .4 .4 .6-.2 1 .1 .4 .6 .6-.8 1 .7 .4-.1 .6-.2 1 1.1 .4-1.2 .6 1.2 1-1.3 .4 .5 .6-.1 1-.5 .4 .6 .6 .2 1-.4 .4-.4 .6 .4 1-.8 .4-.4 .6-1.8 1 .8 .4 .3 .6-1 1-.6 .4 1.1 .6 .6 1-.1 .4 .7 .6 .6 1-.3 .4 .3 .6 1 1-.6 .4-.4 .6 .7 1 .1 .4-.2 .6-.1 1-.3 .4 1.7 .5-1.7 .1 .5 .9 .2 .1 .2 .4-.6 .5 .3 .1-.4 .9 .4 .1-1 .4 1.4 .5-.4 .1 .2 .9-.4 .1-.9 .4 .5 .5 .3 .1 .8 .9-.7 .5 .5 .5-.5 1-.4 .5 .2 .5 .4 1 0 0-.7 .5 .4 .4 0 .1 .3 0 .2 .9-1.4 .1 .2 0-.4 .5 1.5 .4-.9 .1-.8 0 1.7 .9-1.5 .1 .1 0 .1 .5-.1 .4-1.5 .1 .8 0 .4 .9-.6 .1-.2 0-.3 .5-.5 .4-.8 .1 .6 0 1 .9 .1 .1-.4 0 .4 .5 1 .4-.7 .1-.2 0 1.6 .9-.8 .1-.3 0 .9 .5-.8 .4 .5 .1 .1 0 .6 .9-.9 .1 .7 0-1.1 .5 .6 .4-.1 .1 .1 0 .8 .9-1.6 .1-.1 0-.1 .5-.5 .4-.1 .1-.2 0 .4 .9-2.1 .1 .5 0-.1 .5-.9 .4-.5 .1-.2 0-.2 .9-.8 .1-.7 0 .2 .5 .3 .4 .4 .1 .1 0-.4 .9 .8 .1 .5 0-.1 .5 .2 .4 1.5 .1 .2 0-.4 .9 .6 .1 .7 0 .1 .5 0 .4 1.2 .1-.1 0 .4 .9 0 .1 .2 0 .1 .5 .7 .4-.8 0 .5 .1 .8 0-.9 .9-.2 0 1 .1-.2 .5-1.1 .4 .9 0-.7 .1 .6 .9 .5 0-.1 .1-.9 .5 .2 .4 1.1 0-.5 .1-.3 .9 .2 0-.5 .1-.4 .5 .2 .4 .8 0-.6 .1 .8 .9 .1 0-.3 .1-.5 .5 .1 .4-.1 0 .5 .1 .4 .9-.4 0 .8 .1-.7 .5-.4 .4-.5 0 .3 .1-.2 .9 .8 0-.2 .1 .8 .5-.5 .4 0 0-.7 1 0 .6 .4 .4-.2 .9-.6 .1 .1 .6 .1 .3 .2 .1-.2 .9-.5 .1 0 .6 .3 .3-.2 .1-.7 .9 .3 .1 .7 .6 .5 .3-.2 .1-.7 .9 .1 .1 1.5 .6-.7 .3-.2 .1 .2 .9 .3 .1-.2 .6 .1 .3 .6 .1-.9 .9 .1 .1 .4 .6-.2 .3-.1 .1 .2 .9-.6 .1 .4 .6-.3 .3 .8 .1-.9 .9 .1 .1 .4 .6-.9 .3 .2 0-.5 .1 .1 .9-.4 0 0 .1 .2 .6-1.3 .3 1.1 0-.1 .1-.3 .9-.3 0 .4 .1-.1 .6 1.3 .3-.5 0-.5 .1-.2 .9 .7 0-.8 .1 .1 .6 1.1 .3-1 0 .7 .1-.2 .9 .7 0 .1 .7-.1 .3 .6 0-.4 1 .7 0-.4 .7 .7 .3 .1 0-.8 1-1.2 0 .8 .7 .2 .3-.6 0 .3 1 .8 0-.9 .7 .2 .3 .6 0-1.2 1-.2 0 .6 .7-.9 .3 .6 0 .2 1-.3 0-.5 .7-.2 .3 .4 0-.2 1 .3 0 .6 .7-1.3 .3 1.4 0-.8 .9 1 .1-.4 0 0 .7 .2 .2 .7 .1-.3 .9 .5 .1-1.1 .7 .3 .2 0 .1 .2 .9 .6 .1 0 .7-.6 .2-.7 .1 .7 .9-.4 .1 .3 .7 .5 .2 0 .1 .7 .9-1.3 .1-.3 .7-.2 .2 1.6 .1-1.3 .9 .6 .1 .6 .7-1.2 .2 .7 .1-.7 .9 .8 .1-1.1 .7 .3 .2 0 .1 .1 .9 .3 .1 0 .7-.2 .2-.1 .1-1.4 .9 .3 .8 .3 .2-.1 1-.4 .8-.5 .2 .6 1 0 .8 .1 .2 .9 0-.4 1 .4 0 .3 .8 .3 .2-.5 0-.3 1 .5 0-.1 .8 .4 .2 .3 0-.3 1 0 0-.5 .8 .8 .2-.3 0 .4 1 .3 0-.3 .8-.4 .2 .5 0 .5 1-1.4 0 .8 .8 0 .2-.1 0-.1 1-.6 0 .2 .8 .6 .2-.9 0 .2 1-.4 0 .8 .8 0 .2-1.1 0 .1 1-1.4 0 1.7 .8-.2 .2-.4 1-1.3 .8 .6 .2 .7 1-1.3 .8 .6 .2 1 1-.3 .8 1 .2-.6 1 .5 .8-.5 .2 .5 1 .5 .8 0 .2 .5 .9-.2 .1-.4 .8 .7 .1 0 .1-.6 .9 .2 .1 .2 .8-.3 .1-.3 .1 .4 .9 0 .1-.7 .8 .6 .1 .2 .1-.4 .9-.6 .1 1.8 .8-.3 .1 0 .1-.4 .9-.5 .1-1.2 .8 1.9 .1 .2 .1-1.3 .9 .6 .9-.2 .1 .7 1-1.4 .9 1.2 .1-.6 1-1.1 .9-.4 .1 .9 1-.1 .9-1.4 .1 .2 1-.2 .9 .7 .1-.4 1 .1 .9 .4 .1-.1 1 1.1 .9 .4 .1-.6 1 .4 .9-.7 .1 1 1-.3 .9 .7 .1-1.5 1 1.6 .9-.7 .1 .1 1 .1 .9-.5 .1 .6 1-.1 .9-.3 .1 .6 1-.4 .9-.4 .1 .2 1 0 .9 .4 2 .8 2-1.2 2 .7 2-1.5 2 .1 2 .1 .5 .4 .5-.1 .5 .7 .5-.7 .5 0 .5 .5 .5-1 .5 .5 .5 .5 .5-.7 .5 1.1 .5-.6 .5-.3 .5 0 .5 .2 .5-1.5 .5 1.3 .5-.7 .5 1.1 .5-1.5 .5 .7 .5 .5 .5 .4 .5-1 .5 0 .5-.1 .5-.6 .5-.2 .5-.3 .5 .4 .5 .1 .5-.8 .5 .2 .5-.4 .5-1 .5 .7 .5-1.1 .5 .3 .5-.6 .5-1 .5-.9 .5-1.6 .5-2.3 .5-1.5 .5-4.2 .5-3.8 .5-6.4 .5-9 .5-9.4 .5-9.9 .5-12 .5-11.9 .5-10.4 .5-7 .5-2.6 .5 2.2 .5 7.7 .4 7.2 .1 3.2 .5 11.3 .4 9.6 .1 2.5 .5 10.3 .4 7.1 .1 3.2 .5 8 .4 4.3 .1 .7 .5 5.2 .4 2.9 .1 .4 .5 3.1 .4 1.5 .1 .3 .5 1.7 .4 .2 .1 0 .5 .4 .4 1.3 .1-1 .5 2.1 .4-.1 .1-.1 .5-.3 .4 .5 .1-.4 .5 .4 .4 .6 .1-.4 .5 .1 .4 .5 .1-.2 .5 .3 .4 .2 .1-.4 .5 .5 .4 .6 .1 .2 .5-.7 .4 .3 .1-.5 .5 .4 .4-1.1 .1 .9 .5 .7 .4-1.3 .1 .6 .5-.5 .4 .8 .1-1 .5 1.2 .4-.7 .1-.7 .5 .7 .4-.4 .1 .2 .5 .2 .4 1 .1-.4 .5 .8 .4-.7 .1 .2 .5-1.4 .4 1.1 .1 .3 .5-.2 .4 .7 .1-1 .5 .7 .4 0 .1-.3 .5 .2 .4 .1 .1 .6 .5-.1 .4 .3 .1-.2 .9-.9 .1 .3 .9-.4 1 1 .1 .5 .9-.7 1 .2 .1 0 .9-.5 1 .8 .1-.7 .9 .4 1-.8 .1 1.5 .9-.4 1.1-.4 2 .1 2 .5 .7-1 1 .7 .3 .3 .7-.4 1 .4 .3-.4 .7-.1 1 .8 .3-.7 .7 .4 1-.3 .3-.2 .7 .3 1-.6 .3 .1 .7 .2 1 .3 .3 .1 .7 .4 1-1.4 .3 .3 .7 .8 1-1.2 .3 .8 .7-.7 1-.6 .3 .5 .7-.9 1 1.9 .3-.9 .7-.1 1-.2 0 .5 .3 .5 .7-.4 0 .8 1-.8 0 .1 .3-.3 .7-.2 0 1.5 1-.9 0-.3 .3 1.3 .7-1.4 0 .9 1 .1 0 .3 .3-.2 .7-.5 0 .9 1-1.2 0-.2 .3-.4 .7 1.3 0 0 1 .2 0-.9 .3-.5 .7 .5 0 .9 1 .1 0-1.8 .3 1.7 .7-.3 0-.4 1-.3 0-.2 .3-.1 .7-.2 0-.1 1 .5 .3-.3 .7-.6 1 .2 .3 .1 .7 .2 1-.3 .3 .5 .7 .1 1 0 .3 .7 .7-.8 1 1.1 .3-1.1 .7 1 1 .6 .3-.4 .7-.3 1-.2 .3 .5 .7-1.2 1 .6 .3 0 .7-.1 1 .1 .3 .2 .7 .2 1-.6 .3 .7 .7-.4 1 .5 .3-.3 2-.5 2-.1 2 1.8 .5-1.3 .5-.9 .5 0 .5 1 .5-.6 .5 .6 .5-.6 .5 .6 .5-.1 .5-.7 .5 .5 .5 0 .5 .6 .5-1.3 .5 .5 .5-.2 .5 .4 .5 .8 .5-.6 .5-1.4 .5 1.3 .5 .1 .5-.7 .5-.1 .5 .9 .5-.7 .5 .2 .5 .2 .5-.6 .5 1 .5-.6 .5 .3 .5-.5 .5 .7 .5-.1 .5-.1 .5 .1 .5-1 .5 .3 .5-.2 .5 .9 .5-.6 .5-.2 .5-.1 .5 .2 .5-.5 .5-.2 .5-.3 .5-1.3 .5-.4 .5-.5 .5-1.7 .5-.4 .5-.9 .5-2.5 .5-1.3 .5-1.5 .5-.5 .5-.2 .5 .3 .5 .8 .5 .9 .5 2 .5 1.4 .5 1.6 .5 1.2 .5 .3 .5 1.1 .5 .9 .5 1 .5-.5 .5 1.3 .5-.4 .5 .1 .5 .5 .5-.9 .5-.1 .5 0 .5-.5 .5-.5 .5-.2 .5-1 .5 1.5 .5-1.5 .5-.3 .5 .5 .5 .3 .5 0 .5 .4 .5-.1 .5 1.2 .5 .9 .5 .1 .5 .2 .5-.4 .5 .4 .5 .6 .5 .3 .5-.9 .5 .4 .5 .6 .5-.7 .5-.2 .5 .2 .5-.1 .5-.6 .5 .6 .5-.3 .5 .1 .5-.4 .5 .2 .5 .2 .5 .1 .5-.2 .5 1.1 .5-.2 .5 .7 .5-1 .5 .5 .5-.4 .5-.5 .5 0 .5 .4 .5-.6 .5 .6 .5-.8 .5 1.2 .5-1.1 .5 .9 .5 .1 .5-.3 .5 .2 .5 .8 .5-1.5 .5-.2 .5 1.2 .5-.3 .5-.2 .5 .4 .5-.4 .5 .5 .5-.7 .5-.3 .5-.2 2 1 2-.2 2 .3 2-.8 2 .7 2-1 2 .9 2 .2 2-.7 2 .8 2-.3 2-.1 2-.4 2-.2 2 1.5 2-1.1 2-.5 2 .7 2-.7 2-.5 2 .7 2 .4 2 0 2 0 2 0 2 .4 2-.2 2-.9 2 .9 2-.6 2-.5 2 .5 2 0 2 1 2-.6 2-.5 2 .6 2-.6 2 0 2 .4 2-.2 2 .3 2-.6 2 .4 2 .2 2-.6 1.9 .2 .1 .7 .4-.9 .5-.4 .5-.1 .5 .9 .1-.3 .4-.2 .5-.6 .5 1 .5-.6 .1 .6 .4-.7 .5-.5 .5 .9 .5-.7 .1-.1 .4-.1 .5-.4 .5 .1 .5-.4 .1 1.2 .4-.7 .5 .4 .5 0 .5 .2 .1-.7 .4 1 .5-1.9 .5 .6 .5 .2 .1-.7 .4 1.2 .5-.7 .5-1 .5 0 .1 .7 .4-.3 .5 .5 .5-1.2 .5-.9 .1 1.3 .4-.6 .5-.4 .5-.6 .5 .3 .1-1.4 .4 .5 .5-.3 .5-1.1 .5 0 .1-.1 .4-.8 .5-1.2 .5-1.5 .5-1.6 .1-.5 .4-1.9 .5-4.1 .5-4.1 .5-7.1 .1-1 .4-7.1 .5-10.7 .5-13.2 .5-15.2 .1-4 .4-13.7 .5-17.9 .5-17.4 .5-16.4 .1-2.6 .4-8.1 .5-2.1 .5 2.7 .5 11 .1 3.1 .4 12.8 .5 17.3 .5 18.7 .5 16.7 .1 3.1 .4 11.9 .5 13.2 .5 10.7 .5 8 .1 1.9 .4 4.8 .5 5.3 .5 3.1 .5 2 .1 1.2 .4 1 .5 1.8 .5 1 .5 .4 .1 .1 .4 1.1 .5 .8 .5-.9 .5 1.6 .1-.1 .4-.3 .5 .8 .5 1.1 .5-.2 .1 .3 .4 .4 .5-.6 .5 .4 .5 .1 .1-.6 .4 1.5 .5-1.1 .5 .5 .5 .5 .1-.2 .4 1.2 .5-1.4 .5 .3 .5 .3 .1-.7 .4 1.1 .5-.3 .5 0 .5-.2 .1 .7 .4 .3 .5-.9 .5-.2 .5 .2 .1 .5 .4-.3 .5-1.1 .5 .9 .5-.5 .1 1.2 .4 .1 .5-.3 .5-1 .5 .4 .1 1.6 .4 .5 .5-.8 .5-.1 .5-.5 .1 .2 2 .6 2-.5 2 .4 2-.6 2 .6 2-.6 2 1.4 2-1 2 0 2 .3 2 0 2 .5 2-1.1 2 1.4 2-.5 2-.2 2-.1 1.8 0 .2-.8 .8 .6 1 1 .2-.4 .8 .2 1-.9 .2 .4 .8-.1 1-.1 .2 0 .8 .5 1-1.1 .2 1.3 .8-.9 1 .6 .2-1.1 .8 1 1 .2 .2-.1 .8-.1 1 .5 .2-1.1 .8-.9 1 .5 .2-.6 .8 .7 1-.4 .2-.1 .8-.5 1 .8 .2 .4 .8-.8 1 1.1 .2 .5 .8-1.1 1 .7 .2 .5 .8-.1 1-.5 .2 .3 .8 .2 1-.1 .2-.1 .8-.3 1 .3 .2 0 .8-.3 1 .2 .2-.2 .8 .2 1 .6 .2-.3 .8-1 1-.2 .2 1.2 2 .2 2-.8 2 0 2-.1 .7 0 1 .7 .3-.6 .7 .7 1-.3 .3-.3 .7 .6 1-.3 .3 .6 .7-.7 1-.5 .3 1.4 .7-1 1 .3 .3 .5 .7-.3 1-.3 .3 .4 .7 .3 1-.4 .3-.7 .7 0 1-.4 .3-.6 .7-.2 1-.2 .3 .8 .7-.7 1 1.8 .3-1.3 .7 .7 1 0 .3 .3 .7-.6 1 .7 .3-.1 .7 .2 1 .3 .3 0 .7-.4 1 .4 .3 0 .7-.2 1-.3 .3 .4 .7-.1 1-.1 .3 0 .7 .2 1 .1 .3-.9 .7 0 1 .5 .3 0 .7-.5 1.3 .5 2 .4 2-1 2 .7 2-1.3 .5 .9 .5 .7 .5-1.1 .5-.3 .5 .7 .5-.9 .5 1.4 .5-.8 .5 .4 .5 .3 .5-.5 .5 .4 .5-.3 .5 .2 .5-.1 .5-.7 .5 1 .5-.5 .5-.1 .5 .5 .5-.2 .5 .1 .5-.2 .5-.2 .5-.1 .5-.4 .5 .1 .5 .5 .5-.5 .5 .3 .5 0 .5 .4 .5 .1 .5-.8 .5-.5 .5-.3 .5-.5 .5 .4 .5-.3 .5 .8 .5-.8 .5-.6 .5 .2 .5-.2 .5-.5 .5-.5 .5-.4 .5-.5 .5-.5 .5-2 .5-2 .5-1.5 .5-2.9 .5-4.4 .5-3.5 .5-5.2 .5-6.1 .5-6.8 .5-6.6 .5-7.2 .5-5 .5-3.3 .5-2.5 .5 2.6 .5 2.8 .5 5.8 .5 6.9 .5 6.2 .5 6.6 .5 5.4 .5 6.6 .5 4.1 .5 3.5 .5 2.6 .5 2.5 .5 2.5 .5 1.6 .5-.9 .5 1 .5 1 .5 1 .5 .2 .5-.9 .5 .3 .5 .3 .5 .6 .5-.2 .5 .4 .5 .4 .5-.7 .5 .6 .5 .8 .5-.9 .5 .1 .5 .5 .5 .4 .5-1.1 .5 1.1 .5-.6 .5 .7 .5-1.3 .5 1.6 .5-.5 .5-.5 .5 .9 .5-.9 .5 .3 .5 .2 .5 .1 .5 .1 .5-.5 .5 0 .5-.3 .5 .8 .5 .2 .5-.1 .5 .2 .5 .7 .4-.7 .1-.6 .5 .5 .4 .2 .1-.1 .5 .2 .4 .1 .1-1.3 .5-.3 .4 .9 .1-.5 .9 1.3 .6-1 .4 .7 1-.1 .6 1.5 .4-2.3 1 1.5 .6-1.4 .4-.3 1 .8 .6 .1 .4 .1 1 0 .6-.1 .4-.5 1-.2 .6 .4 .4-.5 1 0 .6 .3 .4-1.4 .7 .2 .3 .2 .2-.7 .4 .7 .1 .4 .3-.6 .2 1 .5-.6 .3 .1 .2-.1 .4 .5 .1 .2 .3-.2 .2 .2 .5 .2 .3-1.1 .2 .5 .4-.1 .1 .4 .3 .5 .2-.7 .5 .4 .3 .3 .2-.5 .4 0 .1 .3 .3 .9 .2-1.3 .5 1.8 .3-1.6 .2 0 .4-.7 .1 .4 .3 1.1 .2-.5 .5 .4 .3-.4 .2-.6 .4 .4 .1 .1 .3-.2 .2 .1 .5 .5 .3 .1 .2-.1 .4 .1 .1-.3 .3-.6 .2 .1 .5-.3 .3 .8 .2 .4 .4-.8 .1-.3 .3 .2 .2 .8 .5-.6 .3 .3 .2 .3 .4-.4 .1-.6 .3-.2 .2-.7 .5 1.5 .3-.9 .2 .8 .4 0 .1-.2 .5-.3 .5-1 .5 .8 .4-1.4 .1 1.1 .5-.9 .5-.4 .5 0 .4-.8 .1 1.3 .5-1.5 .5-.2 .5-1 .4-1.8 .1-.2 .5-1.7 .5-2.1 .5-2.6 .4-3 .1-.3 .5-3.8 .5-5.8 .5-4.7 .4-4 .1-.9 .5-5.2 .5-5.2 .5-2 .4-1.6 .1 .4 .5 1.1 .5 2.3 .5 5.2 .4 3.3 .1 1.9 .5 4.9 .5 5 .5 5.2 .4 2.9 .1 1.3 .5 2.6 .5 3.5 .1-.6 .4 2.9 .4 2 .1-.4 .1 .6 .4 .7 .5 .9 .1 0 .4 .3 .4 .3 .1 .2 .1 .7 .4 .4 .5-.1 .1 .7 .4-.8 .4 1.2 .1 .2 .1-.8 .4-.2 .5 .6 .1-.1 .4 .8 .4-.9 .1-.1 .1 .4 .4-.4 .5-.1 .1 .6 .4 .1 .4-.6 .1 1.6 .1-1.3 .4 .3 .5 .2 .1 .3 .4-.6 .4 .5 .1-.8 .1 .9 .4 .3 .5-.2 .1-.5 .4-.1 .4 .1 .1 0 .1-.1 .4 .6 .5-.9 .1 .7 .4 0 .4-.2 .1-.5 .1 .3 .4-.6 .5 .3 .1-.5 .4 .6 .4-1.1 .1 .2 .1 .8 .4-.3 .5-.4 .1-.4 .4 1.7 .4 .1 .1-.3 .1-.5 .4-1 .5 1 .1 .4 .4 .9 .4-1.4 .1 .1 .1 1 .4 .5 .5 .1 .1-.3 .4 .2 .4-.8 .1 .7 .1 .1 .4-1.1 .5 1.1 .1-.2 .4 .1 .4 0 .1 0 .1 1.1 .4-.7 .5 0 .1-.1 .8 .4 .2-.9 1 .3 .8-.4 .2-.3 1 .4 .8 1 .2-1.2 1 .6 .8 .2 .2-.5 1 .5 .8-.1 .2 .3 1 0 .8-1.2 2 .4 2 .6 2 .1 2-1 2 1.3 2-.1 2-.8 2 .8 2 0 2-.7 2 1 2-1.6 2 .5 2-.2 2 .3 2-.3 2 .7 2 .5 2-.8 2-.2 2 .6 2-.7 2 0 1 .4 1 .4 0 .1 1-.7 1 .1 0 .7 1-1 1 1.1 0-1 1 .6 1 .3 0-.1 1-.5 1 .3 0 .1 1 .2 1-1 0 .4 1 .1 1-.6 0 .4 1-.4 1 .2 0 1.1 1-1.3 1 0 0-.5 1-.1 1-.1 0 .1 1-.9 1 .7 0 .9 1 .1 1-.2 0 .8 1-.4 1 .5 0-.1 1-.2 1 .7 0-.6 1 1.1 1-1.3 0 0 1 .6 1-.5 0-.1 1 1.1 1-1.3 0 0 1 .2 1 .1 0 .2 1-.2 1 .2 .4-.3 1-.3 .6 .7 .4-.1 1-.6 .6 .8 .4-.4 1 .4 .6 .1 .4-.3 1 .1 .6 0 .4-.1 1-.4 .6 .1 .4 .2 1 .4 .6-.3 .4-.6 1-.2 .6 .3 .4-.2 1-1.3 .6 .9 .4 .6 1-1.4 .6 0 .4 .7 1-.2 .6 .3 .4 0 1 .2 .6 0 .4 .6 1-.2 .6-.2 .4 .5 1 .2 .6-.4 .4 .5 1-.7 .6 .2 .4 .7 1-.2 .6-.4 .4 .3 1-.6 .6-.2 .4 1.2 1 .2 .6-.9 .4 .1 1 0 .6-.2 .4 .2 1.6 0 2-.2 2 .4 2-.2 2 .7 2-1.1 2 .8 2-1.4 2 .9 2-.4 2 .6 2 0 2 .1 2-.3 2 .1 2-.5 2 .1 2 .6 2-.1 2 .3 2 .1 2-.7 2 .9 2-.9 2 .2 2 .1 2 .1 2 .1 2-.4 2 0 2 .9 2-1.5 2 1.9 .2-1.2 .5-.1 .5 .9 .5-.7 .3-.1 .2-.3 .5 .7 .5-.6 .5 .7 .3-.5 .2 .2 .5 .3 .5-.7 .5 .1 .3 .5 .2-.6 .5-.5 .5 1.2 .5-.3 .3 0 .2-.9 .5 .1 .5 .8 .5-.4 .3 .9 .2 .3 .5-1.3 .5 .1 .5 .5 .3-1.3 .2 .8 .5-.6 .5 .1 .5 .6 .3-.5 .2 0 .5 .7 .5-.4 .5 1 .3-1 .2-.2 .5 .2 .5-.8 .5 1.3 .3-.1 .2-.4 .5-.5 .5 .2 .5 .4 .3-.8 .2 1.1 .5-1.6 .5 .7 .5-.8 .3 1.4 .2-.4 .5-.5 .5 0 .5 .9 .3-1 .2 .3 .5-.2 .5 .4 .5-1.2 .3 .9 .2-.2 .5-.6 .5-.4 .5 .2 .3-1.1 .2 .2 .5-1.3 .5 0 .5-1.2 .3-1.2 .2-.5 .5-1.5 .5-1.8 .5-1.8 .3-.8 .2-1.3 .5-3 .5-2.3 .5-1.9 .3-1.9 .2-.7 .5-1 .5 .1 .5 0 .3 1.1 .2 .2 .5 1.7 .5 2.7 .5 2.2 .3 1.8 .2 1 .5 2.2 .5 1.4 .5 2.3 .3 1.2 .2 0 .5 1.7 .5 .8 .5 1 .3 .6 .2-.1 .5 .4 .5-.2 .5 1.4 .3 .3 .2-.7 .5 .8 .5 .2 .5 .8 .3-1 .2-.2 .5 1.3 .5-.4 .5 .3 .3-.8 .2 .5 .5-.6 .5 1 .5-1.2 .3-.2 .2 .8 .5 .2 .5-.3 .5 .9 .3-.7 .2 .1 .5 .4 .5-.5 .5 .3 .3-.7 .2 .9 .5-.7 .5 .6 .5-.3 .3 .7 .2-.6 .5 .7 .5 .2 .5-.6 .3 .4 .2-.5 .5-.1 .5 .1 .5-.6 .3 1.2 .2 .4 .5-1.2 .5 .9 .5 0 .3-.7 .2 0 .5-.2 .5 0 .5 .9 .3-.5 .2 .1 .5 .1 .5 .2 .5-.5 .3 .3 .2 .5 .5-.5 .5 .4 .5 .8 .3-2 .2 .8 .5 .2 .5-.2 .5-.3 .3 .3 .2-.9 1.8 .3 2-.3 2 .3 2-.1 2 1 2-.7 2 0 2 .6 2-.3 2-.3 2 .4 2 .6 2-.3 2-.3 2 0 2-.8 2 1.5 2-.8 2 .6 2-.3 2-.7 2 .6 2-.5 2 .1 .3 1.2 1-.7 .7-.7 .3 .7 1-.9 .7 1.5 .3-1.7 1 1.1 .7-.3 .3-.4 1 .4 .7 .6 .3-.8 1-.6 .7 1.1 .3 0 1-.6 .7-.2 .3-.1 1 .3 .7-.1 .3-.1 1-.8 .7 .3 .3-.9 1 .4 .7-.2 .2-.8 .1 .5 .9 0 .1 .6 .7-.2 .2 1.2 .1-.7 .9-.3 .1 .4 .7 .6 .2 .5 .1-.8 .9 1.5 .1-.9 .7-1.7 .2 1.3 .1-.1 .9-.3 .1 1 .7 .1 .2-.2 .1-.8 .9 .9 .1-1 .7 .6 .2 1 .1-.8 .9 .4 .1-.4 .7 .3 .2-.5 .1 .5 .9-.2 .1-.1 .7-.8 .2 .2 .1-.3 .9-.3 .1 .3 .7 0 .2-.7 .1 1.1 .9-1.6 .1 1.3 .7-.9 .2 .4 .1 .2 .9-.4 .8-.2 .2 .9 1 .9 .8-1.2 .2 .4 1 .6 .8 .1 .2 0 1-.2 .8 0 .2 .5 1-.2 .8-.5 .2-.3 1 1.2 .8-1.3 .2 .6 1-.4 .8 .2 .2 .2 1 .4 .8 0 .2-.1 1 .2 .8 .1 .2-.6 1.8 .7 2 0 2-.1 2-.3 2-.1 2 .1 2 .4 2-.9 2 .1 2 .5 2-.6 2 .4 2 .3 2-1 2 1 2-1.4 2 .9 2 .5 2-.3 2 .3 2-.4 2 .4 2-.3 2-.2 2 .2 2 .2 2 .2 2-.7 2-.2 2 1.2 2-1 2 .1 2 .7 1.4-.2 .6-.6 .4 .7 1-.1 .6 .5 .4-.6 1-.6 .6-.1 .4 .5 1-.4 .6 .5 .4-.4 1 1.3 .6-.7 .4 0 1-1.4 .6 1.1 .4-.2 1-.4 .6-.5 .4 1.3 1 0 .6-1.1 .4 .1 1-.5 .6-.4 .4 .1 1 .8 .6 0 .4-.4 1 0 .6 1.3 .4-1.1 1 .3 .6 .1 .4 1.2 1-.7 .6 .4 .4-.2 1-.1 .6 .1 .4 .5 .6 .3 .4-1 .1 .6 .5-1.4 .4 1.2 .1-.3 .5-.6 .4 .5 .1 .9 .5-1 .4 .4 .1-.1 .5 0 .4 .7 .1-.6 .5-.2 .4 .4 .1-.6 .5 .1 .4 .6 .1-.8 .5 0 .4-.2 .1 0 .5 .8 .4 0 .1 0 .5-.5 .5 .1 .5-.4 .5-.1 .5 1 .5-.3 .5 0 .5-.7 .5 .4 .5-.7 .5-.1 .5 .3 .5 .1 .5 1.3 .5-.8 .5 .1 .5-.4 .5 .4 .5 .2 .5-.3 .5-.2 .5 .7 .5-.9 .5 .1 .5-.1 .5-.2 .5-.5 .5 1.1 .5-.8 .5 .1 .5-.2 .5 .5 .5-1 .5 1.2 .5-1.4 .5 .3 .5-.2 .5 .2 .5 .1 .5-1.1 .5 .4 .5-1.1 .5 .4 .5-1.3 .5-.9 .5-2 .5-1.5 .5-.8 .5-1.9 .5-2.4 .5-2.4 .5-1.6 .5-3.3 .5-1.5 .5-3 .5-1.6 .5-2.3 .5 .6 .5 .3 .5 1.4 .5 1.4 .5 2.6 .5 2 .5 3.5 .5 1.4 .5 2.5 .5 3.6 .5 1.7 .5 .9 .5 .8 .5 1.3 .5 1 .5 .7 .5 .4 .5 .9 .5 .9 .5-.8 .5 .6 .5 .6 .5 .1 .5 0 .5-.5 .5-.2 .5 .7 .5-.3 .5 .7 .5-.8 .5 .1 .5 1.2 .5-1.8 .5 1.8 .5-.6 .5 .3 .5-.5 .5-.6 .5 1.1 .5-.6 .5 .5 .5 .7 .5-.6 .5-.4 .5 0 .5-.3 .5 .6 .5 .8 .5-.1 .5-1.6 .5 .5 .5 .5 .5 .3 .5-.8 .5 .6 .5-.1 .5-.6 .5 .6 .5-.8 .5 .6 .5 0 .5-.1 .5 .9 .5 .6 .5-1.3 .5-.3 .5-.5 .5 .9 .5 0 .5 1.2 .5-1.4 .5-.9 .5 1.6 .5-.3 .5-1.1 .5 1.6 2-.6 2 .4 2-.9 2 .2 2-.1 2 .7 2 0 2-.1 2-1.2 2 1.5 2-.8 2 .3 2-.2 2 .4 2 .1 2 .5 2-.1 2-.7 2-.3 2 .3 2 0 2 .7 2-.7 .5 0 .5-.1 .5 .1 .5 .4 .5-.3 .5 .5 .5-.5 .5 .1 .5 .2 .5 .1 .5 0 .5-.8 .5 .2 .5 .5 .5-.2 .5-.2 .5-.6 .5 .2 .5 .8 .5-.6 .5 .4 .5-.2 .5-.3 .5 0 .5-.5 .5 .5 .5 0 .5 .7 .5 .6 .5-1.4 .5 .4 .5 .3 .5 .7 .5-1.4 .5 1.3 .5-.9 .5 .8 .5-1 .5 .3 .5 .9 .5-.7 .5 .4 .5 0 .5-.7 .5 .6 .5-.8 .5 .2 .5 .5 .5-.8 .5 .8 .5-1 .5 .8 .5-.5 .5 .2 .5-.4 .5 .7 .5 .5 .5-1.5 .5 .3 .5-.5 .5 .3 .5-.4 .5 .8 .5-1 .5 .1 .5-.7 .5 0 .5-.1 .5-.2 .5-.6 .5-1.1 .5 .6 .5-.2 .5-.4 .5-.7 .5 .1 .5-.1 .5 .8 .5-.6 .5 .1 .5 .9 .5 .5 .5 1 .5 .3 .5 .6 .5-.6 .5-.1 .5 1.8 .5-.7 .5-.8 .5 .9 .5 .3 .5 .1 .5-.3 .5 .8 .5-.8 .5 .4 .5-.1 .5 .9 .5-.4 .5-.7 .5 .4 .5 0 .5 .6 .5-.5 .5-.2 .5-.2 .5 .9 .5-.9 .5-.1 .5 .2 .5 .5 .5-1.1 .5 .9 .5 .2 .5-.6 .5-.1 .5 .6 .5-.3 .5-.2 .5 .7 .5 .4 .5-.8 .5-.4 .5 .4 .5-.5 .5 .6 .5-.2 .5 .2 .5-.2 .5 .7 .5 .1 .5-.9 .5 .3 .5-.5 .5-.1 .5 1 .5 .3 .5-.6 .5 .1 .5-.4 .5 .1 .5 0 .5-.4 .5 .6 .5-.2 .5-.2 .5 .2 .5 .2 .5 .2 .5-.4 .5 .5 2-.6 2 .2 2-.4 2 .4 2-.4 2 .1 2 .1 2 .4 2-.6 2 .6 2 .4 2-1.8 2 1.2 2 .2 2 .4 2-2 2 1.8 2 .8 2-1.8 2-.1 2 .3 2-.6 2 .5 2 .3 2 .3 2-.4 2 .1 2 .4 2 .3 2-.1 2-.8 2 .6 2-.4 2 .3 2-.4 2 .1 2 0 2 .5 2-.4 2 .2 2-.4 2-.4 2 .7 2-.6 2 .5 2-.5 2 .1 2-.7 2 1 2-.4 2 .3 2 0 2 .4 2 .2 2-1 2 .8 2 .3 2-.1 2 .1 2-1 2 .6 2-.4 2 1.1 2-.4 2 .7 2-1.5 2 .8 2-.3 1.5-.3 .5 .7 .5-.8 .5-.1 .5-.1 .5 .7 .5 0 .5-.9 .5 .4 .5 .1 .5 .3 .5 .5 .5-.1 .5-.4 .5 0 .5 .4 .5-.8 .5-.1 .5 .7 .5 0 .5-.3 .5-.2 .5 .3 .5 .2 .5-.6 .5-.5 .5 .6 .5 .4 .5-1 .5 1.1 .5-.6 .5 .5 .5-.5 .5 .5 .5-.8 .5 0 .5 .6 .5-.3 .5-.7 .5 1.2 .5-.1 .5-.1 .5-.5 .5 .7 .5-.1 .5-.2 .5-.1 .5-.1 .5 .7 .5-1.1 .5 1.1 .5-.9 .5 .2 .5 .3 .5 .1 .5 0 .5-.5 .5-.5 .5-.3 .5 1.5 .5-1 .5-.7 .5 1.2 .5-.6 .5-.6 .5-.2 .5 .7 .5-.7 .5 .1 .5-1.6 .5 .6 .5-1.3 .5 0 .5-.8 .5-.5 .5-.8 .5-.7 .5-.9 .5 .4 .5-.9 .5 1.2 .5-.9 .5-.1 .5 1.4 .5 0 .5-.1 .5 2 .5-.4 .5 1.5 .5 .2 .5 .6 .5-.5 .5 .7 .5 .8 .5 .3 .5-.1 .5 .5 .5 .1 .5 .4 .5 .3 .5-1.1 .5 .7 .5 .2 .5-.2 .5-.3 .5 0 .5 .6 .5 .5 .5-.4 .5 .2 .5-.4 .5 .5 .5-1.1 .5 .3 .5 .4 .5 .8 .1-1.4 .4 .3 .1-.4 .4 .8 .1 .3 .4-.5 .1 0 .4 .2 .1-.5 .4 .4 .1-.3 .4 .5 .1 .3 .4-1.1 .1 .2 .4 .7 .1-.6 .4 .4 .1 .1 .4 .4 .1-.2 .4-1 .1 0 .4 .4 .1 .3 .4 .2 .1-.3 .4-.3 .1 .4 .4-1.2 .1 .6 .4 .5 .1 0 .4 .5 .1-.7 .4 .2 .1-.1 .4-.7 .1-.1 .4 1.4 .1-1 .4 .6 .1 .6 .4-1.9 .1 1.4 .4 .5 .1-1.2 .4 1.2 .1-.3 .4 0 .1-1.8 .4 1.1 .1-.2 .4 .3 .1-.2 .4 .8 .1-1.4 .4 .9 .1 .8 .4-.4 .1-.4 .4-.3 .1-.1 .4-.5 .1 .1 .4 .7 .1 .8 .4-.9 .1 .3 .4-.2 .1 0 .4-.9 .1 1.3 .4-.6 .1 .4 .4-.4 .1-.6 .4 .9 .1-1.1 .4 .9 .1 .3 .4 .2 .1 .2 .4-.2 .1-.5 .4 .1 .1-1 .4 1.6 .1 .1 .4-.3 .1-.9 .4 .5 .1-1.1 .5 1.3 .5 .2 .5-.8 .4 .2 .1 .1 .5-.1 .5 .1 .5-.5 .4-.1 .1-.3 .5 .7 .5-.4 .5 .4 .4-.7 .1-.1 .5-.1 .5-.6 .5-.2 .4-.3 .1 .4 .5-.3 .5-.7 .5-1.1 .4 .2 .1-.3 .5-.9 .5-.5 .5-2.7 .4 0 .1-1.4 .5-1.4 .5-2.4 .5-1.5 .4-1.8 .1 .1 .5-2.7 .5-2 .5-2.6 .4-.8 .1 .3 .5-2.5 .5 .8 .5 .6 .4-.1 .1 1.3 .5 1.5 .5 1.3 .5 3.5 .4 1.4 .1-.6 .5 2.7 .5 1.8 .5 1.6 .4 1.5 .1 .2 .5 1.4 .5 1.7 .5 1.2 .4 .1 .1 1.4 .5-1.3 .5 1.6 .5 1.3 .4 .3 .1-.1 .5-.3 .5 .3 .5-.4 .4 2.2 .1-1.2 .5 .2 .5 .7 .5-.7 .4 .9 .1-.8 .5 .3 .5 1.1 .5-1.2 .4 .9 .1-.2 .5-.2 .5-.1 .5 .7 .4-1.2 .1 .2 .5 .9 .5-.8 .5 1 .4 .1 .1-.5 .5-.2 .5-.6 .5 1.3 .4-.9 .1 .6 .5-.5 .5 .2 .5 0 .4-.1 .1 .5 .5 0 .5 .3 .5-1 .4 1 .1-1 .5 1.3 .5-.8 .5-.6 .4-.4 .1 1.2 .5 .5 .5-1.2 .5 .6 .4-1.3 .1 .5 .5 .9 .5-1.3 .5 1.2 .4 .4 .1-1 .5 .6 .5-.4 .5-.1 .4 0 .1 .3 .5 .1 .5-.3 .5-.2 .4 .5 .1-.4 .5 1.3 .5-.6 .5-.1 .4-1 .1 1.2 .5-.4 .5-.9 .5 .9 .4 .7 .1-.9 .5 .1 .5 .4 .9 .1 2 .3 2-.6 2-.2 2 .8 1.5-.7"/>
<path stroke="#505050" d="M182.5 1213.9l 2 .2 2-.2 2-.1 2 .3 2-.9 2 .3 2 0 2 .4 2-.1 2 .1 2 .3 2 .1 2-.1 2-.5 2 .6 2-.4 2 .8 2-.4 2-.3 2 0 2-.4 2 .5 2-.6 2 .7 2-1 2 .3 2 1.1 2 .1 2-.1 2-1.4 2 .1 2 0 2-.1 2 .9 2-.3 2 .2 2-.2 2-.2 2 1.3 2-.6 2-.8 2 1 2-.8 2 .2 2 .7 2-1 2 .3 2 0 2 .9 2 .1 2-.8 2 .7 2-1.4 2 .5 2 .7 2-.7 2 .2 2 0 2 .2 2-.2 2-.8 2 .5 2-.1 2 .6 2-1.1 2 .4 2 .9 2-.3 2 .9 2-1.1 2-1.2 2 1.6 2-.3 2-.3 2-.4 2 .5 2 .4 2-.2 2-.1 2 .3 2-.2 2-.6 2 .6 2 .1 2 .7 2-.9 2-.5 2 1 2-.2 2-.6 2-.3 2 1.3 2-1.5 2 .5 2 .4 2-.6 2 .4 2 .3 2-.4 2-.4 2 .3 2 .2 2 .6 2-1 2 1.2 2-1.1 2 1 2 .4 2-.4 2-.7 2 .8 2-.2 2-.3 2-.3 2-.1 2 .1 2 1.2 2-.9 2 0 2-.4 2 .3 2-.2 2-.2 2 .3 2-.2 2 .2 2-.1 2-.2 2 .5 2 0 2-1.5 2 1.2 2 0 2 0 .7 .6 1-.5 .3-.2 .7-.2 1 .6 .3-1 .7 .6 1-.1 .3 .1 .7 0 1-.4 .3 0 .7 .5 1-.4 .3 1.1 .7-.5 1-.7 .3 .7 .7-.4 1 .1 .3 .5 .7-.5 1-1.1 .3 .5 .7-.7 1 .3 .3-.6 .7-.7 1-.7 .3 1.3 .7 .2 1 .4 .3 1.5 .7-.7 1 .5 .3-.7 .7 .8 1-.5 .3-.4 .7 .6 1 .1 .3-.5 .7 1.2 1-.6 .3-.8 .7-.4 1 1.5 .3 0 .7-.1 1-.7 .3 0 .7 .7 1-.4 .3 .1 .6 .4 .1 .2 .9-.9 .4 .3 .6 .2 1-.4 .4 .7 .6-.9 1 .6 .4-.4 .6 .8 1-.5 .4-.4 .6 .2 1-.5 .4 .9 .6-.4 1-.1 .4 .3 .6 0 1-.6 .4-.5 .6 .8 1-.7 .4-.4 .6 0 1-.9 .4 .7 .6-.9 1 .2 .4 .3 .6 .1 1 .6 .4 .4 .6-.2 1 .8 .4 0 .6 .9 1-.9 .4-.2 .6 0 1 .6 .4-.1 .6-.5 1 .8 .4-1.1 .5 .3 .1 .2 .9 .2 .1-.4 .4 1 .5-.1 .1-.4 .9 0 .1-.1 .4 0 .5 .4 .1 0 .9-.2 .1-.3 .4-.6 .5-.1 .1 .9 .9-.7 .5 .3 .5 .8 1-.4 .5-.1 .5 0 1 .2 0 0 .5-.8 .4-.1 .1 .1 0 .3 .9 .9 .1-.9 0-.1 .5 .3 .4-.2 .1-.8 0-.6 .9 1.7 .1-1.4 0-.1 .5 .6 .4-1.3 .1 .3 0-.5 .9 .6 .1-.8 0 .4 .5 .2 .4-.6 .1 1.2 0-1.1 .9-.5 .1 1.1 0 0 .5 .2 .4-.5 .1 .1 0 .2 .9 .9 .1-.5 0 .7 .5 0 .4 0 .1-.6 0-.5 .9 1 .1 .6 0-.2 .5-.9 .4 .7 .1-.4 0 .2 .9-1.2 .1 0 0 .4 .5 .2 .4-1.1 .1 .1 0 .6 .9-2 .1 0 0-.2 .5 .2 .4-1.2 .1-.5 0 .3 .9-.4 .1 0 0 .2 .5 .2 .4-.4 .1-.3 0-.6 .9 1.7 .1 .3 0-.1 .5 .7 .4 0 .1 .6 0-1 .9 1.3 .1-.1 0 1.2 .5 .4 .4 .4 .1 .5 0-1.3 .9 1.3 .1-.3 0-.1 .5 .9 .4-.5 0-.3 .1 .9 0-.6 .9 .4 0 .4 .1-.5 .5 0 .4 .4 0 .5 .1-1.4 .9 1.5 0-.3 .1-.2 .5 .1 .4-.9 0 .8 .1 .3 .9-.4 0-.8 .1 .6 .5-.5 .4 .1 0 0 .1 .9 .9 .3 0-.7 .1 .5 .5-.7 .4 .1 0 .7 .1 .4 .9-.4 0-1.7 .1 1 .5 .2 .4 0 0-.5 .1 1.6 .9-2.1 0 .9 .1-.4 .5 .2 .4 .1 0-.3 1 .3 .6-.9 .4 .2 .9 .4 .1-.7 .6 .6 .3-.5 .1-.3 .9 .3 .1-.4 .6 1.1 .3-.8 .1 .7 .9-1 .1 .9 .6-.4 .3 .4 .1-.5 .9 1 .1 .4 .6-1.1 .3 0 .1 1.4 .9-1.4 .1 .5 .6-.2 .3-.4 .1 .5 .9 .2 .1-1 .6 1.6 .3-.5 .1-1.2 .9 1.1 .1 1 .6-1.5 .3 .4 .1 .7 .9-2 .1 1.6 .6 .1 .3-.3 0-1.3 .1 .9 .9-.8 0 .8 .1-.2 .6-.9 .3 0 0-.4 .1 .3 .9-.1 0 .1 .1-.1 .6-.2 .3 .5 0-.3 .1 .2 .9 0 0 1 .1 0 .6 .2 .3-.9 0 .6 .1-.2 .9 .4 0 .3 .7 .3 .3-.7 0 .9 1 .2 0-.1 .7-.7 .3 .4 0-.1 1-.4 0 0 .7 .3 .3-.4 0-.2 1 .4 0 .1 .7 .3 .3 .3 0-1.4 1 .5 0 .1 .7-.9 .3 .1 0 .2 1-.4 0 .5 .7 .3 .3 .1 0-1 1 .1 0 .6 .7-.4 .3 .2 0 .4 .9-.5 .1 1.1 0-.8 .7 .5 .2-.3 .1 .4 .9-.4 .1-.4 .7 .6 .2 .6 .1-1 .9 1.1 .1 .5 .7-.9 .2 .5 .1-.5 .9 .6 .1-.5 .7-.9 .2 .7 .1 .8 .9-.6 .1-.3 .7 .5 .2-.8 .1 1.4 .9-1.2 .1 .6 .7-.1 .2-.3 .1-.4 .9 .5 .1-.1 .7-.1 .2-.9 .1 .9 .9-.4 .1 0 .7-.3 .2-.4 .1-.3 .9 .2 .8-1 .2 0 1 .2 .8 .9 .2-.4 1 .7 .8-.2 .2 .1 0 .3 1 .4 0 0 .8 .3 .2-.3 0 .2 1 .2 0 .7 .8-.7 .2 .1 0 .3 1 .1 0 0 .8-1.2 .2 .8 0-.1 1 0 0 .3 .8 .2 .2-.2 0-.4 1 .1 0-.6 .8 .3 .2 1 0-.6 1-.7 0 .5 .8 .2 .2 0 0-.7 1 .2 0 .8 .8 .5 .2-1.4 0-.6 1-.2 0-.1 .8-.1 .2 .4 1-.1 .8-1.9 .2 .9 1 .4 .8 .1 .2 .1 1 .5 .8 1.2 .2-.4 1-.2 .8 1.3 .2-.4 1-.9 .8 .1 .2 .6 .9 .1 .1-.7 .8 1.1 .1-.3 .1 .2 .9-1.1 .1-.1 .8 .9 .1-.2 .1 .5 .9-.8 .1 .5 .8-1.4 .1 .8 .1 .7 .9-1 .1 .3 .8 .3 .1 .4 .1 .3 .9-1 .1 0 .8 1.2 .1 .4 .1-1.3 .9-.1 .9 .5 .1 .1 1-1.1 .9 1.1 .1-1.4 1 .3 .9-1.1 .1 1.4 1-.7 .9-.3 .1-.9 1 .5 .9-.7 .1 .8 1 1 .9 0 .1-.6 1 1.4 .9-.7 .1 .2 1 .7 .9-.9 .1 .7 1-.1 .9-.5 .1 .5 1 .1 .9 .1 .1-.1 1 .4 .9-.2 .1-.4 1 .1 .9 .3 .1-.8 1 .8 .9-.5 .1 .2 1-.8 .9 1.2 2-1.1 2 .6 2-.1 2 .6 2-.6 2 .4 .5-.5 .5-.2 .5 .6 .5-.8 .5-.5 .5-.2 .5 1.4 .5-.2 .5-.5 .5 .7 .5 .2 .5-.7 .5-.3 .5 1.5 .5-1.7 .5 .5 .5-.5 .5-.8 .5 .9 .5-.2 .5 .5 .5-.5 .5-.2 .5 .7 .5-.9 .5-.5 .5 .1 .5-.3 .5-.1 .5 .6 .5-.6 .5 .3 .5-.3 .5-1.1 .5 .3 .5-.6 .5-.3 .5 .6 .5-.5 .5-1.1 .5-2.3 .5 .1 .5-1.9 .5-2.3 .5-4.3 .5-5.2 .5-6 .5-6.7 .5-9.2 .5-10.9 .5-12.5 .5-11 .5-10.1 .5-7.9 .5-1.9 .5 2.1 .5 7.3 .4 7 .1 3.7 .5 10.7 .4 9.3 .1 2.4 .5 10.6 .4 7.4 .1 2.9 .5 7.3 .4 4.8 .1 1.6 .5 4.8 .4 2.5 .1 .8 .5 2.2 .4 2.3 .1-1 .5 1.4 .4 1.5 .1 .2 .5 .4 .4 1 .1-.7 .5 .5 .4 1.2 .1-1 .5 1.3 .4-.2 .1 .3 .5 0 .4 .4 .1 .2 .5-.8 .4 .1 .1 1.1 .5-.4 .4-.3 .1 1 .5-.8 .4 .6 .1-.4 .5 .4 .4-.9 .1 .1 .5 1.1 .4-1.1 .1 1.2 .5 .1 .4-1.1 .1 .3 .5 .1 .4-.5 .1 .6 .5-.8 .4 .1 .1 1 .5-.1 .4-.7 .1 0 .5 .6 .4 .3 .1 0 .5 .3 .4-.5 .1 .3 .5 .1 .4 .9 .1-.3 .5-.7 .4 .5 .1 .2 .5-.1 .4-.1 .1 .3 .5-.2 .4 0 .1 .7 .5-1 .4 .7 .1-.3 .9 0 .1-.1 .9 .4 1 .3 .1-.7 .9 .3 1 .2 .1-.4 .9-.2 1 .3 .1 .8 .9-1.4 1 .5 .1-.2 .9 .4 1.1-.6 2 .8 2-1 .7 1.5 1-.8 .3 .7 .7-.9 1 .1 .3 .3 .7 .1 1-.3 .3 .7 .7-.7 1 0 .3 0 .7-.2 1 1.2 .3-.8 .7 .2 1-.7 .3 0 .7 .2 1-.3 .3 .6 .7-.1 1-.1 .3-1 .7 1.3 1-.9 .3-.1 .7 .1 1-.1 .3-.1 .7 .1 1 .8 0-1 .3-.7 .7 .8 0 .2 1 .4 0 .6 .3-.5 .7-.2 0 1.3 1-.4 0-.1 .3-.5 .7 .5 0 .2 1-1.1 0 .2 .3-.2 .7 .9 0-.6 1 0 0-.3 .3 .8 .7-.2 0 .3 1 .4 0-.4 .3 0 .7-.5 0-.1 1 0 0 0 .3 .6 .7-.4 0-.3 1-.7 0 1 .3-1 .7 .7 0 0 1-1.1 .3-.1 .7 .2 1 .4 .3-.8 .7 .2 1 .3 .3 .7 .7 .5 1 .3 .3 .2 .7-1.2 1 .3 .3 .8 .7 .2 1-.3 .3-.7 .7 0 1-.3 .3 1.2 .7-.3 1 .1 .3-.1 .7-.2 1 .2 .3 .7 .7 0 1-.6 .3 .1 .7-.2 1 .2 .3-.5 2 .8 2-.4 2 .2 .5-1 .5 .3 .5 .5 .5 .8 .5-1.7 .5 .5 .5 .2 .5-.4 .5 .6 .5-.3 .5 .2 .5 0 .5-.7 .5 .8 .5-.8 .5 1.1 .5-.7 .5 .5 .5 .2 .5 0 .5-.9 .5-.1 .5 .5 .5-.2 .5 .3 .5 0 .5-.2 .5 .9 .5-2 .5 .7 .5 .8 .5-.8 .5 .8 .5-1 .5 .9 .5 .4 .5-1 .5 .7 .5-1.2 .5 .6 .5-.4 .5 .8 .5-.6 .5-.1 .5-1.1 .5 1 .5-.2 .5-.3 .5-.8 .5-.6 .5-1 .5-.3 .5-2.1 .5-1.1 .5-1.9 .5-.3 .5-1.8 .5-1.1 .5-1 .5 .1 .5 1.8 .5 1 .5 2.2 .5 .3 .5 1.4 .5 1.8 .5 .7 .5 .9 .5 .1 .5 .6 .5 1.3 .5 .1 .5 .3 .5-.9 .5 .3 .5 .3 .5-.3 .5-.5 .5 .2 .5-.2 .5-.5 .5 .4 .5-.2 .5-.3 .5-.3 .5-.4 .5-.6 .5 2.4 .5-.7 .5 .8 .5 .2 .5 .6 .5-.2 .5-.1 .5 0 .5-.4 .5 .4 .5 .4 .5-.6 .5 1 .5-.2 .5 .1 .5-.5 .5 .3 .5 .3 .5-.2 .5 .6 .5-.9 .5 0 .5 .7 .5 .1 .5-.1 .5-.3 .5 .2 .5 .3 .5-.1 .5-1 .5 .6 .5 .4 .5-.7 .5 .2 .5 .1 .5 .4 .5-.6 .5 .6 .5-.4 .5-.8 .5 .3 .5-.3 .5 1.1 .5-.9 .5 1.5 .5-.6 .5-.5 .5 .2 .5 .4 .5 .3 .5-1.2 .5 .4 .5 .3 .5 .1 .5-.4 .5-.2 .5 .8 2-1.8 2 2.3 2-.6 2 0 2-.8 2-.2 2 .6 2-.1 2-.4 2 .3 2 .5 2-.8 2 .2 2 .3 2-.3 2 .2 2 .5 2-.6 2 .5 2 .4 2-.7 2 0 2 .2 2 1.3 2-2.4 2 1.2 2-1 2 .5 2-.1 2 .7 2-.3 2 .3 2-.4 2 .6 2-.2 2-1.2 2 .1 2 .3 2 .5 2 .3 2-1 2 .6 2 0 2 .4 2-1.1 2 .9 1.9-.8 .1 0 .4-.2 .5 .1 .5-.1 .5 1.1 .1-2.1 .4 .6 .5 .1 .5 .8 .5-1 .1 1.4 .4-.8 .5 .5 .5-.2 .5-.7 .1 0 .4 0 .5 0 .5 .5 .5-.3 .1-.5 .4-.6 .5 .8 .5 .8 .5-1.3 .1 .3 .4-.8 .5-.4 .5 1.1 .5-1 .1 1.1 .4-.5 .5-.6 .5 .4 .5-.1 .1 .1 .4-1 .5 .5 .5-.6 .5 .2 .1 .4 .4-1.6 .5 .5 .5-.9 .5-.1 .1 .8 .4-1.1 .5-.5 .5-.1 .5-1.2 .1-.1 .4-.9 .5-1.2 .5-.8 .5-2.1 .1-.6 .4-1.5 .5-3.7 .5-3.2 .5-7.9 .1-.7 .4-6.4 .5-10.5 .5-12.1 .5-15.3 .1-3.4 .4-14.1 .5-15.9 .5-17.5 .5-14.9 .1-2.7 .4-7.2 .5-4 .5 4.1 .5 9.8 .1 3.4 .4 11.4 .5 17.9 .5 17.6 .5 15.4 .1 3.2 .4 11.8 .5 12.8 .5 10.4 .5 7.6 .1 1.3 .4 5.1 .5 3.7 .5 3.7 .5 2.6 .1 .6 .4 1.8 .5 .9 .5 1 .5 1.1 .1-.4 .4 1.3 .5-.2 .5 .8 .5 1 .1-.8 .4 1.2 .5-.3 .5 0 .5 .5 .1-.1 .4 .6 .5-.1 .5 .3 .5 .2 .1-.1 .4-.6 .5 1.1 .5-1.5 .5 2 .1 0 .4-.1 .5 .1 .5-.1 .5 .5 .1-.7 .4-.3 .5 .7 .5 0 .5 .3 .1-.5 .4 .8 .5 .4 .5-1.1 .5 .8 .1 .3 .4-1.3 .5 .1 .5 1 .5-.3 .1-.3 .4-.1 .5 1 .5-.8 .5 .3 .1-.6 .4 .3 .5 1.1 .5-.6 .5-.2 .1-.1 2 .1 2 .3 2 .1 2-.2 2 .5 2-.3 2 .5 2-.8 2 .8 2-1.2 2 .2 2 .9 2-.7 2-.3 2 .5 2 .4 2-.3 1.8-.2 .2 .8 .8 .3 1-1 .2 .2 .8 0 1 .6 .2-1 .8 .6 1-.4 .2 .4 .8-.2 1-.4 .2-.1 .8 .4 1 .3 .2 .4 .8-.4 1-.2 .2 .8 .8-.7 1 .3 .2-.7 .8-.1 1-1.1 .2 .4 .8 0 1-.2 .2 .8 .8 0 1-.4 .2-.1 .8-.3 1 1.5 .2-.6 .8 .4 1-.4 .2 .5 .8 .2 1 0 .2-.1 .8-.9 1 .9 .2-.1 .8 .5 1-.3 .2 .1 .8 0 1 .1 .2-.2 .8-.5 1-.5 .2 .8 .8 .4 1-.2 .2-.2 2-.2 2 .7 2-.3 2-.7 .7 .6 1 .2 .3 .1 .7 .5 1-.8 .3 .9 .7-.9 1-1.1 .3 .6 .7 .1 1-.7 .3 1.6 .7-.4 1 .1 .3-.4 .7 .9 1-.2 .3-.7 .7 .2 1-1.2 .3 1.1 .7 .3 1-.7 .3-.1 .7-.4 1-.1 .3-.8 .7 .5 1 .1 .3 .1 .7 .4 1-.1 .3 .1 .7 1.1 1-1.4 .3 1.5 .7-.5 1-.2 .3-.2 .7 .3 1 .7 .3-1 .7 .6 1-.2 .3-.3 .7 .4 1 .4 .3 .1 .7 .5 1-1.1 .3 .7 .7-.4 1 .3 .3-.3 .7-.3 1.3 0 2 .2 2-.8 2 .8 2-.8 .5 .4 .5-.1 .5-.1 .5-.8 .5 1.7 .5-1.5 .5 .7 .5-.2 .5 .6 .5 0 .5-.7 .5 0 .5-.3 .5 .2 .5 .6 .5-.6 .5 .6 .5-.5 .5-.7 .5 .8 .5 .5 .5-.4 .5-.5 .5 .7 .5 .5 .5-.6 .5-.5 .5 .6 .5-.7 .5-.3 .5 .3 .5-.8 .5-.3 .5 .3 .5 .3 .5-.6 .5 .3 .5 .5 .5-.5 .5 .3 .5-1.2 .5 .3 .5 .2 .5-1.5 .5 .9 .5-.1 .5-1.8 .5 .1 .5-.3 .5-1.6 .5-1.9 .5-2.5 .5-1.7 .5-4.3 .5-4.6 .5-5.7 .5-4.2 .5-6.7 .5-7.1 .5-6 .5-5.7 .5-3.9 .5 0 .5-.4 .5 4 .5 5.6 .5 6 .5 6.7 .5 6.7 .5 5.8 .5 5.3 .5 4.4 .5 3 .5 2.9 .5 1.9 .5 1.2 .5 1.7 .5 .7 .5 1.5 .5 .4 .5 .5 .5 .6 .5-.8 .5 1.2 .5-.4 .5 1.2 .5-.9 .5 .4 .5 .1 .5-.6 .5 1.1 .5 .4 .5 .2 .5-.4 .5-.1 .5 .1 .5-.1 .5-.6 .5 .5 .5-.2 .5 .2 .5 .4 .5-.1 .5 .1 .5 .1 .5 0 .5-.2 .5 .7 .5-.2 .5 0 .5 .2 .5-.5 .5 .2 .5 .5 .5-.2 .5 .1 .5-.5 .5-.2 .4 .6 .1-1 .5 0 .4 .4 .1 .4 .5-.5 .4 .4 .1-.5 .5 .4 .4 .5 .1-.9 .9 0 .6 .6 .4-.8 1 1.4 .6-1.8 .4 .8 1 .8 .6-.3 .4-.9 1 .9 .6-.4 .4 0 1 .1 .6 .6 .4-1.1 1 1.4 .6-2 .4 .5 1 .4 .6-1 .4 .4 .7-1 .3-.1 .2 .4 .4-.1 .1 .6 .3-.9 .2 1.2 .5-.5 .3-.5 .2-.4 .4 1.8 .1-.8 .3 .8 .2 .1 .5-.6 .3 .6 .2-.6 .4 1 .1-.8 .3 1 .2-.4 .5-.1 .3 .3 .2-.2 .4-.6 .1 .3 .3 .4 .2-.5 .5 .1 .3 .7 .2-.7 .4 .8 .1-1.2 .3 .8 .2-1.1 .5 1.8 .3-1.5 .2 1 .4-.5 .1-.1 .3-.3 .2 .4 .5-.6 .3 1 .2-.5 .4-1 .1 1.2 .3 0 .2-.4 .5 .3 .3-.2 .2-.9 .4 1.3 .1-.1 .3-.3 .2-.4 .5 .2 .3 0 .2 .2 .4-.2 .1-.3 .3-.2 .2 0 .5 .2 .3 .1 .2-.4 .4-.2 .1 .5 .5-.5 .5 .2 .5-.3 .4 .3 .1 0 .5-1 .5 .3 .5 .1 .4-.8 .1-.3 .5-.9 .5-.8 .5 1.2 .4-2.6 .1-.3 .5-1.1 .5-3 .5-2.6 .4-2.5 .1-.1 .5-3.8 .5-5.6 .5-4.2 .4-4.1 .1-1.1 .5-4.6 .5-4.3 .5-2.6 .4-1.9 .1 .6 .5 1.6 .5 2.5 .5 4 .4 3.3 .1 1.5 .5 4.5 .5 4.9 .5 5.8 .4 2.5 .1 1.6 .5 3.6 .5 2.1 .1-.8 .4 1.8 .4 2.1 .1 .1 .1 0 .4 1.3 .5 .7 .1 .1 .4 1.4 .4-.8 .1 .7 .1 .2 .4 .2 .5 .5 .1 .5 .4-.7 .4 .3 .1 .6 .1-1 .4 .8 .5 .1 .1 .2 .4 .8 .4-.9 .1 .3 .1-1.4 .4 .9 .5 .3 .1 .2 .4 .9 .4-.9 .1 .1 .1-.1 .4-.3 .5 .8 .1-.2 .4-.1 .4 .3 .1 .7 .1-1.1 .4-.6 .5 1.2 .1-.5 .4-.5 .4 .5 .1-.3 .1 1.1 .4-.8 .5-.4 .1 0 .4 .4 .4 .2 .1-.5 .1-1 .4 .5 .5 .3 .1 .5 .4-.7 .4-.4 .1-.4 .1 .4 .4-.1 .5 .7 .1-.9 .4 .2 .4 .3 .1-.4 .1 .6 .4-.7 .5 .7 .1-.7 .4 1.3 .4-.4 .1 .5 .1-.3 .4 .6 .5 .1 .1-.4 .4 .2 .4 .8 .1-.9 .1 .2 .4 1.3 .5-.8 .1-.3 .4-.1 .4 .1 .1-.3 .1 .2 .4 .7 .5-.2 .1-.8 .8 0 .2 .8 1-.5 .8 0 .2 .7 1 .2 .8-.4 .2-.2 1 .4 .8-.1 .2-.4 1 .9 .8 .1 .2-1 1-.1 .8 .5 2 .3 2-.1 2-.4 2 .7 2-.9 2 .1 2 1.1 2-1.5 2 .4 2-.2 2 .1 2 .7 2 .7 2-1.9 2 1 2 .4 2-.7 2 .7 2-.6 2 .7 2-.7 2 .2 2 1 1-.7 1-1.1 0 .6 1-.1 1-.2 0-.5 1 .9 1 0 0 .5 1 .4 1-.8 0 .1 1-.2 1 0 0 .2 1 .1 1-.3 0 0 1 .3 1-.3 0-.3 1 .1 1-.1 0 .1 1 .1 1-.7 0-.6 1-1.1 1 1 0 .4 1 .4 1 .3 0 0 1-.7 1 1 0 0 1 0 1-.3 0 1 1-1.5 1 0 0 1.3 1-.4 1 0 0 .6 1-.7 1 .3 0 .2 1 .5 1-1.5 0 .8 1-.2 1-.1 0 .5 1-.7 1 .4 .4 .6 1-.5 .6 .1 .4-.2 1-.2 .6 0 .4-.1 1 .4 .6-.8 .4 .6 1-.4 .6 .1 .4 .8 1 .1 .6-1.2 .4 .5 1-.1 .6-.5 .4 1 1-.7 .6 .1 .4-.2 1 0 .6-.3 .4 0 1-.9 .6 .2 .4 .2 1 .1 .6 .4 .4-1.1 1 .8 .6 .8 .4-.4 1 .2 .6 .3 .4-.2 1 .3 .6 .2 .4-.2 1-.4 .6 1.6 .4-2 1 1 .6-.5 .4 .7 1-1.2 .6 .9 .4-.4 1 1.3 .6-.2 .4-1.3 1 1.1 .6 0 .4-.3 1.6 0 2-.1 2 .3 2-1.6 2 .9 2 .6 2-.3 2 .7 2-1.4 2 1 2-.7 2 .8 2 0 2-.6 2 .1 2 1 2-1.8 2 1.4 2 .1 2-.2 2-.8 2 .6 2-.2 2 .1 2 .2 2-.7 2 .7 2-.5 2 .6 2-.9 2 .4 2-.6 2 .2 .2-.3 .5 1.1 .5 .2 .5-.6 .3 .4 .2-.3 .5 .2 .5 0 .5-.2 .3 .1 .2 .9 .5-.5 .5-.5 .5-1.1 .3 1.2 .2 .3 .5-.1 .5 .4 .5-1.7 .3 1.2 .2-.3 .5-.4 .5 .6 .5 0 .3-.6 .2-.5 .5 1.1 .5-.9 .5-.2 .3 .3 .2 1 .5-.3 .5-.2 .5-.3 .3 .5 .2 .1 .5 .1 .5-.5 .5 .2 .3 .4 .2-.1 .5 .2 .5-.6 .5 .4 .3-1.2 .2 .9 .5-1 .5 .9 .5-.5 .3 .8 .2-1.4 .5 .1 .5 .5 .5 0 .3-.2 .2-.3 .5 .7 .5-.1 .5 .5 .3-.8 .2-.4 .5 .3 .5 .5 .5-1 .3 .3 .2-.2 .5-1 .5 .8 .5-.2 .3-1 .2 .8 .5-2 .5-.3 .5-1.5 .3-.3 .2-.6 .5-1.9 .5-2.4 .5-1.3 .3-1.4 .2-1.6 .5-1.3 .5-2.5 .5-1.4 .3-1.4 .2-1.2 .5-.6 .5-2 .5 1.5 .3 .9 .2 .3 .5 2.2 .5 1.6 .5 1.8 .3 1.4 .2 2.3 .5 2.1 .5 .8 .5 3.1 .3 0 .2 .6 .5 1.9 .5 0 .5 1.3 .3 .3 .2 1 .5 1 .5-.9 .5 1.2 .3-.1 .2-.7 .5 1.2 .5-.6 .5 0 .3 1 .2 .7 .5-.6 .5-.1 .5 .1 .3-1 .2 .4 .5-.4 .5 .9 .5-.3 .3 0 .2 .1 .5-.1 .5 .3 .5 .2 .3 .2 .2-.2 .5-.8 .5 1.2 .5-.7 .3 .9 .2-.6 .5 .1 .5 .2 .5 .5 .3 0 .2-1.2 .5 .8 .5-.4 .5 .1 .3 1 .2-1.1 .5-.7 .5-.3 .5 1.3 .3-.3 .2 .2 .5-.6 .5 .5 .5-.2 .3 .4 .2-1 .5 1.3 .5-.4 .5 .8 .3-.6 .2-.9 .5 1.6 .5-.3 .5-1 .3-.2 .2 1.5 .5-1.4 .5 1.2 .5-.3 .3 .3 .2-.2 .5-.4 .5-.1 .5-.5 .3 .4 .2-.2 1.8 .5 2 .6 2-.3 2-.7 2 .6 2-.2 2 .2 2-.1 2-.4 2 .4 2-.4 2-.3 2 .4 2 .6 2-.6 2 0 2-.2 2 .3 2 0 2 .1 2-.5 2 1.5 2-.9 2-.7 .3-.5 1 .7 .7 1.4 .3-.1 1-1.6 .7 .2 .3 .5 1-.8 .7 1 .3-.3 1-.8 .7-.1 .3 1.1 1 .5 .7-1.2 .3 .1 1 0 .7 .2 .3-.7 1-.2 .7 .1 .3 1.2 1-.7 .7-.4 .3 .6 1-1.7 .7-.2 .2 .9 .1-1.2 .9 1.2 .1-.3 .7 .3 .2 1.1 .1-1.3 .9 .7 .1-.7 .7 .9 .2 0 .1 .5 .9 0 .1 .2 .7-.6 .2 .5 .1-.9 .9 1.3 .1 .2 .7-.6 .2 .1 .1-.1 .9-.7 .1 .8 .7 .5 .2-1 .1 .9 .9-.4 .1 .3 .7-.6 .2-.1 .1 .2 .9 .2 .1-.4 .7 .1 .2-.4 .1 .8 .9-.7 .1-1 .7 .6 .2 .7 .1-1.1 .9-.3 .1 0 .7 .6 .2-1 .1 .6 .9 .2 .8 .2 .2-.2 1 .6 .8 .5 .2-.4 1 0 .8 .4 .2 .1 1-.6 .8 .7 .2-.2 1-.6 .8 .9 .2-.4 1 .4 .8-.1 .2 .2 1-.1 .8-.6 .2 .6 1 .3 .8-.8 .2 .4 1 0 .8 0 .2-.1 1.8-.4 2 .2 2 .4 2-.1 2-.3 2 .3 2 .2 2-.6 2 .4 2 .3 2-.6 2 .7 2-1.1 2 .8 2-.4 2 1 2-.4 2 0 2-.1 2-.1 2-.2 2-.6 2 .4 2 .7 2-.2 2-.3 2 .3 2-.2 2-.6 2 .4 2 .7 2-1 2 1.1 1.4-.7 .6 .4 .4 .4 1-.2 .6-.5 .4 .4 1-.5 .6 .5 .4-.4 1-.1 .6 1.1 .4-1.4 1 .3 .6 .3 .4-.4 1 .1 .6 .1 .4-.8 1 .2 .6 .3 .4 0 1-.8 .6 1.3 .4-1.7 1 .4 .6 .3 .4-.4 1-.4 .6 .8 .4-.7 1 1.1 .6-.7 .4 .4 1 .4 .6-.4 .4 .1 1 .2 .6 .2 .4-.2 1 .3 .6 .2 .4-.9 .6-.2 .4 1.5 .1-.7 .5-.2 .4 .9 .1-.5 .5-.2 .4 .2 .1 .5 .5-.6 .4-.4 .1 .1 .5 .4 .4-.9 .1 1.3 .5-1.3 .4 .8 .1 .3 .5 0 .4-.5 .1-.2 .5 .2 .4 .6 .1-.9 .5 1 .4-1 .1 .2 .5 .1 .5-.3 .5 .5 .5-.5 .5 1.2 .5-.5 .5-.7 .5 .5 .5-.3 .5 .2 .5 .3 .5-.2 .5-.5 .5 0 .5 .5 .5-.1 .5 .1 .5 .5 .5-1.1 .5 .4 .5-.2 .5-.6 .5 .8 .5-.6 .5-.5 .5 1.3 .5-.7 .5-.1 .5-.1 .5 .3 .5 .1 .5 0 .5-.4 .5-.2 .5 .3 .5-.1 .5-.6 .5 0 .5-.1 .5 .1 .5 .1 .5-.9 .5-.7 .5-.8 .5-1.2 .5-.5 .5-1.8 .5-.8 .5-2.5 .5-1.4 .5-2.3 .5-1.4 .5-3.4 .5-1.8 .5-1.5 .5-2.7 .5-.1 .5-.1 .5-.4 .5 1.4 .5 1.1 .5 2.4 .5 1.8 .5 3.1 .5 2.2 .5 2.3 .5 1.7 .5 1.8 .5 .9 .5 2.1 .5-.2 .5 1.5 .5 .2 .5 .6 .5 .6 .5-.5 .5 .9 .5-.2 .5 .9 .5-.3 .5 .5 .5 .2 .5 .3 .5-.3 .5-.7 .5 .6 .5 .7 .5-.7 .5 .9 .5 .3 .5-.8 .5-.2 .5 1.2 .5-1.1 .5 .9 .5-.7 .5-.1 .5 1.2 .5-.7 .5-.3 .5-.3 .5 .9 .5-.7 .5 0 .5 .2 .5 .6 .5-.4 .5 .5 .5-.7 .5 .5 .5-.6 .5 0 .5 .8 .5 0 .5-1 .5 .7 .5 .1 .5-1.2 .5 .7 .5 0 .5 .2 .5-.5 .5-.5 .5 .7 .5-.6 .5 .1 .5 .8 .5 .5 .5-.7 .5 .5 .5-.3 .5-.2 .5 .3 2-.4 2 .4 2 .5 2-.3 2-.1 2-.6 2 .8 2-1 2 .8 2 .3 2-1.6 2 1.3 2 0 2 .1 2-.7 2 1.2 2-.3 2 .1 2-.6 2 .1 2-.4 2-.4 2 .3 .5 1.1 .5-.4 .5-.5 .5-.5 .5 .9 .5 .6 .5-1 .5 .4 .5-.1 .5 .9 .5-1.1 .5 .3 .5-.3 .5 .1 .5 .2 .5 .5 .5-.6 .5 .4 .5-1 .5 .7 .5 .4 .5-1.8 .5 .4 .5 .8 .5-.4 .5 1 .5-.6 .5 .6 .5 0 .5-.1 .5 0 .5 .1 .5-1.8 .5 1.5 .5-.9 .5 .8 .5-1 .5 .7 .5 .7 .5-.1 .5-.9 .5 .3 .5-.1 .5-.7 .5 1.4 .5-1.1 .5-.4 .5 .7 .5-.2 .5 .1 .5 .2 .5-.7 .5 .6 .5 .1 .5 .6 .5-.5 .5-.5 .5 .5 .5 0 .5-.4 .5-1.5 .5 1.1 .5-.7 .5 .9 .5-1.3 .5 .4 .5 0 .5-.6 .5-.1 .5-.2 .5 .3 .5-1.3 .5-.9 .5 1.1 .5-1.2 .5-.2 .5 .8 .5-.1 .5 .3 .5-.5 .5 1 .5 .9 .5 .2 .5-.2 .5 .2 .5 .6 .5 .7 .5 0 .5 .5 .5-.1 .5 .3 .5-.4 .5 .3 .5 .7 .5-1.4 .5 .5 .5 .1 .5-.3 .5 .1 .5-.2 .5 .7 .5 .2 .5-.6 .5-.5 .5 .9 .5-.4 .5 .2 .5-.4 .5 .8 .5-.3 .5-.1 .5 .5 .5-.4 .5-.4 .5-.2 .5 .4 .5 .3 .5-.3 .5 0 .5-.3 .5 .6 .5 .5 .5-.7 .5 .7 .5-.5 .5-.1 .5 .5 .5-.4 .5-.9 .5 2 .5-1.5 .5 .5 .5-.1 .5 .5 .5-.4 .5-.4 .5 .1 .5 0 .5 .1 .5 1 .5-.5 .5-.8 .5 .2 .5 .9 .5-.8 .5-.1 .5-.6 .5 1.8 .5-.7 .5-.9 .5-.4 .5 1.5 2 .1 2-1.1 2 .5 2 .2 2-.4 2-.1 2 .6 2-.8 2 .9 2-.7 2 0 2-.4 2-.2 2 .9 2-.7 2 .7 2 0 2 .4 2-.6 2 0 2 .4 2 0 2 0 2-.6 2 .6 2 0 2-.3 2 .4 2-.8 2 .1 2 .4 2-.6 2 0 2 .6 2 0 2 0 2 .2 2-.2 2-.5 2 1.4 2-1.3 2 1.2 2-1.3 2 .5 2 .1 2 .1 2 0 2 .1 2 .1 2-.9 2 .4 2 0 2 0 2 .3 2 0 2 .2 2-.4 2-.3 2-.2 2 .8 2 .3 2-.8 2-.2 2-.2 2-.1 2 .5 2-.1 2 .2 1.5-.1 .5-.3 .5 .5 .5-.1 .5-.3 .5 .1 .5 1.2 .5-1.3 .5 .6 .5 .4 .5-1.1 .5 .2 .5 .3 .5-.5 .5 .7 .5-.6 .5-.5 .5 .6 .5 0 .5 .8 .5-1.8 .5 1.4 .5-.7 .5 .2 .5-.1 .5-.5 .5 .5 .5 .6 .5-.2 .5-.5 .5 .2 .5 .7 .5-.5 .5-.3 .5-.2 .5 .7 .5-.6 .5-.2 .5 .7 .5 .3 .5-1 .5 1 .5-.6 .5-.2 .5 .1 .5 .2 .5 .7 .5-.7 .5 .8 .5 .1 .5-.3 .5 .1 .5-.8 .5 .2 .5-.5 .5 .4 .5 .1 .5 .7 .5-.7 .5-.6 .5 .9 .5-.1 .5-.1 .5-.5 .5 .2 .5-.5 .5 .6 .5-.7 .5 .3 .5-.7 .5-.5 .5 .1 .5-1.4 .5-.1 .5-.6 .5-.3 .5 .7 .5-.5 .5-1.3 .5 .3 .5 0 .5 .7 .5 0 .5 .1 .5-.1 .5 .5 .5-.2 .5 1.3 .5 0 .5 .2 .5 .7 .5-.1 .5 1 .5 .8 .5-.9 .5 1 .5-.3 .5-.1 .5 .1 .5 .1 .5-.8 .5 .6 .5 .3 .5-.8 .5 .3 .5 .3 .5 1.3 .5-.6 .5 .2 .5 .1 .5-1.3 .5-.3 .5 1.4 .5-.5 .5-1.4 .5 1.6 .1 .1 .4 .2 .1-1 .4-.2 .1 .8 .4-.2 .1 .5 .4 .1 .1-.9 .4 .1 .1 .6 .4-1.2 .1 .9 .4 .3 .1 .1 .4-.8 .1-.3 .4 .9 .1-.7 .4 .1 .1 1.2 .4-.7 .1-.2 .4-.9 .1 .6 .4 .2 .1-.6 .4 1.3 .1-.5 .4-.7 .1 .5 .4 .5 .1-.4 .4 .1 .1-.7 .4-.2 .1 1.3 .4-.3 .1-.1 .4-.3 .1-.1 .4 .4 .1 .6 .4-1.8 .1 .6 .4 .4 .1-.6 .4 1.2 .1-.7 .4 .1 .1-.9 .4 1 .1 .2 .4-.3 .1 .3 .4 0 .1 0 .4-1 .1 .4 .4-.1 .1-.4 .4 .4 .1 .6 .4 0 .1-.6 .4 .3 .1 .1 .4 .1 .1 .1 .4-.6 .1-.4 .4 1.1 .1-.8 .4 .2 .1-.2 .4 .1 .1 .4 .4-.3 .1-.7 .4 0 .1 .6 .4 .5 .1 .3 .4-.8 .1 .6 .4 .1 .1-.7 .4-.6 .1 .7 .4-.2 .1 .3 .4-.9 .1 .9 .5-.3 .5 1.1 .5-.5 .4-.1 .1-.9 .5 .1 .5 1.1 .5-.5 .4-1.3 .1 .7 .5 0 .5-.2 .5-.1 .4 0 .1-.3 .5-.8 .5 1.3 .5-1.2 .4 .8 .1-1.4 .5 .7 .5-1.4 .5 .1 .4-.1 .1-1.2 .5-.9 .5-.7 .5-1.4 .4-1.2 .1 .5 .5-2.3 .5-2.4 .5-1.7 .4-1.7 .1-.2 .5-2.4 .5-2.4 .5-1.2 .4-2.1 .1-.8 .5 0 .5 0 .5 .8 .4-.4 .1 .7 .5 .6 .5 2.8 .5 2.2 .4 1.3 .1 .9 .5 1.8 .5 1.7 .5 2.9 .4 .2 .1 .6 .5 .6 .5 2.6 .5 .6 .4 .7 .1 .8 .5 .1 .5 1 .5 .5 .4 .6 .1-.8 .5 .3 .5 .4 .5 .6 .4-.4 .1 1.2 .5 .2 .5 .4 .5-1.6 .4 .1 .1 .8 .5-.6 .5 .5 .5 .2 .4 .2 .1-.1 .5 0 .5 0 .5-.5 .4 1.2 .1-1 .5 .8 .5 .1 .5 .4 .4-.6 .1-.2 .5 0 .5 .2 .5 .8 .4-1 .1 .7 .5-1 .5 .7 .5-.4 .4-.3 .1 .6 .5 .3 .5-.7 .5 0 .4 1 .1-1.3 .5 .7 .5 .5 .5-.1 .4-.8 .1 .1 .5-1.3 .5 1.8 .5-.2 .4 .1 .1 .4 .5-.5 .5 .9 .5-1.2 .4 0 .1 .5 .5-.7 .5 .7 .5-.2 .4-.1 .1 0 .5 .4 .5 .1 .5-.5 .4-.3 .1 .7 .5 .2 .5-.8 .5 .5 .4-.7 .1 .2 .5 0 .5 .5 .5 .1 .4 .1 .1 0 .5-.1 .5-.4 .9 .1 2 .1 2-.8 2 .7 2 .9 1.5-.2"/>
<path stroke="#02CCCC" d="M182.5 1330.6l 2-.8 2 .4 2 .3 2-.6 2 .3 2-.1 2 .6 2-.6 2 .4 2-.3 2 .5 2-.6 2-.1 2 .3 2 1 2-.9 2-.6 2 .2 2 1.7 2-1.3 2 .1 2 .1 2 .6 2-.4 2 0 2-.2 2-.4 2 .4 2-.3 2-.4 2-.5 2 1.7 2-.1 2-.2 2-.1 2-.1 2-.6 2 0 2 .2 2 0 2-.1 2-.2 2 .9 2-.1 2 .5 2 0 2-1 2 .5 2-.2 2 .1 2 .8 2-.2 2-.5 2 .3 2-.2 2-.4 2 0 2-.2 2 1 2-1.1 2 .2 2 .1 2-.3 2 1.1 2-.5 2-1.2 2 .5 2 .9 2-.6 2 .3 2 0 2 0 2-.4 2 .3 2 0 2-.4 2 .5 2-.1 2 .1 2 .2 2-.4 2-.4 2 .9 2-.2 2-.7 2 0 2 .7 2 .1 2-1 2 .5 2-.1 2 .2 2 .3 2 .6 2-1.2 2 1.1 2-.2 2 .5 2-1 2 .1 2 .4 2-.3 2 .6 2-.6 2 .3 2-.2 2-.6 2 .7 2-.6 2 .2 2 0 2 .3 2-.9 2 1.2 2-.2 2-.3 2-.5 2-.1 2 .4 2-.2 2 .3 2 .2 2 .1 2-.3 2-.5 2 1.3 2 0 2-1.2 2 .2 2 1.2 2-.4 2-.5 2 .2 2-.9 1.2 .6 .8 .5 .2-1.4 1 1.1 .8-.7 .2 1.3 1-1.4 .8 0 .2 .3 1-.1 .8 .4 .2 .5 1-1.2 .8 .4 .2 .4 1-.7 .8 .7 .2-.1 1-.1 .8-.3 .2 .3 1-.1 .8-1 .2 .5 1-1 .8-1.2 .2 1.3 1-.7 .8 .6 .2-.7 1 .7 .8 .2 .2-.3 1 1.2 .8 .8 .2-.5 1-.1 .8 0 .2-.3 1 .7 .8 .2 .2-.4 1 0 .8-.1 .2-.2 1 1.1 .8-.3 .2-.3 1-.6 .8 .3 .2 .7 1 0 .8 .7 .2-.8 .9-.3 .1-.1 .8-.8 .1 1.2 1-1.1 .9 .7 .1-.1 1 .4 .9 0 .1 .1 1-.1 .9-.2 .1 .2 1-.1 .9-.6 .1 .7 1-.5 .9 .3 .1 .1 1-.6 .9-.5 .1 .8 1-1 .9-.4 .1 .4 1-1.4 .9-.3 .1 .1 1-.9 .9 .3 .1 .4 1 1.1 .9-.6 .1 1.1 1 .7 .9-.2 .1 .2 1-.4 .9 1.1 .1-.6 1 .5 .9-.7 .1 1 1-.7 .9 .3 .1 .4 .9-.3 .1-.4 .9 .4 0 .2 .1-.3 .9 .1 .1-.2 .9 0 0 .1 .1-.4 .9 .6 .1 .1 .9-.5 0 0 .1 0 .9 0 .1 .3 .9 .2 0 0 1 .1 1-.8 0 .8 1-.6 1 .1 0-.3 .9-.2 .1 .2 .9-.5 .1 0 0-.3 .9 .7 .1 .2 .9-1.2 .1-.7 0 .7 .9 0 .1-1.2 .9 .5 .1-.5 0-1.2 .9 1 .1-.1 .9-.1 .1-.5 0 .5 .9 1.5 .1-.9 .9 .2 .1 .9 0-.2 .9 .2 0 .6 .1-.6 .9 .5 0-.2 .1 .8 0-.4 .9-.4 0 1.1 .1-.5 .9-.4 0 .4 .1-.7 0 .2 .9-.4 0 .5 .1-.5 .9-.4 0-.1 .1-.1 0-.3 .9-.3 0-1.2 .1 .5 .9-1.1 0 1 .1 .1 0-.9 .9 .3 0-.5 .1 .8 .9-.4 0 1.2 .1-.4 0 0 .9 0 0-.6 .1 .6 .9 .9 0 0 .1-.1 0 0 .9 .5 0 1.3 .1-1.2 .9 .2 0-1 .1 1.6 0-.4 .9-.4 0-.1 0 0 .1 .9 .9-1.3 0 1 0-.3 .1-.7 .9-1.1 0 .9 0-.5 1-.8 0 .4 0 .4 .1-1.7 .9 .1 0 .2 0 1 1-.4 0 .6 0 .3 .1-.9 .9 .9 0 .1 0 .2 1 .6 0 .2 0-1 .1 .6 .9 .4 0 1 0-.6 1 .3 0 .3 0 .5 .1 .3 .9-.9 0 .4 0 .6 1-.6 0 .8 0-.6 .1 .7 .9-.2 0-.3 0-.3 1-.5 0 .5 .1 .9 .9-1.6 0 .7 .6-.3 .3 .1 .1-.3 0 .2 .1-.3 .5 .5 .3-.9 .1-.1 0 1.1 .6-1.1 .3 .2 .1-.6 0 .1 .1 .4 .5-.6 .3 .2 .1-.2 0 .3 .6-.3 .3 .6 .1-1 0 1.1 .1 0 .5-.1 .3 1.1 .1-.7 0 .4 .6 .1 .3-.3 .1-.3 0 .1 .1 .2 .5-.2 .3 .5 .1 0 0-.4 .6 .6 .3-.3 .1 1 .1-1.1 .5 .6 .3-.3 .1-1.1 .6 .7 .3 .4 .1-.2 .1 1 .5-.9 .3 .4 .1-.2 .6-.2 .3 0 .1 .2 .1-.1 .5-.8 .3 .3 .1-.3 .6-.1 .3-.5 .1 .4 .1-.9 .5-.3 .3 .6 0-.5 .1 .5 .6-1 .3-.7 0 .5 .1-.5 .1-.3 .5 .3 .3-1.1 0 .7 .1-.3 .6-1 .3 .6 0-.5 .1 .2 .1 .4 .5 .7 .3-1.1 0 1.2 .1-.2 .6 .7 .3 .3 0 .5 .1-.2 .1-.2 .5-.5 .3 1.1 0 .2 .1 0 .6 .2 .3 1.1 0-.5 .2-.3 .5 .9 .3-.6 0 .7 .7 .2 .3 0 0 .3 .2-.5 .5 .1 .3 0 0 .3 .7-.7 .3 .6 0 .7 .2 .1 .5-.7 .3 .5 0-.5 .7-.1 .3 .1 0-.1 .2-.7 .5 .4 .3-.1 0 .1 .7-.4 .3 .3 0-.4 .2 .2 .5-.6 .3-.1 0-.1 .7-.5 .3 .1 0 .6 .2 0 .5-.7 .3 .8 0-.4 .7 0 .3-.5 0 .1 .2 .2 .5 .8 .3-.4 0 .4 .7 .1 .2 .5 .1 .2 0-.5 .2-.5 .7 .9 .1-.2 .9 .6 .1-.1 .2-.5 .7 .5 .1 .3 .9 .3 .1-.3 .2-.2 .7 .1 .1 .7 .9-1 .1 .7 .2-.5 .7 .4 .1-.2 .9 .4 .1-1 .2 .3 .7 .8 .1-.4 .9-.6 .1 .7 .2-.4 .7 .6 .1-.9 .9 .5 .1-.2 .2-.4 .7-.5 .1 1 .9-.2 .1-.6 .2-1.1 .7 .7 .1 1.1 .9-2.7 .3-.3 .7 .4 1-.2 .3-.2 .7 .5 1 1.1 .3-1.1 .7 1.9 0-.1 .3 .5 .7-.7 0 .3 .3-.5 .7 .7 0 0 .3-.7 .7 .5 0 .7 .3-.5 .7 .6 0 .3 .3-.4 .7-.5 0 0 .3 .3 .7 .3 0 .4 .3-.5 .7-.1 0 0 .3 1.1 .7-.5 0-.5 .3-1.4 .7 2 0-.3 .3-.4 .7-.6 0 .9 .3 .5 .7-1.8 0 1.1 .3-.5 .7 .1 0-1 .3 .8 .7-1 0-.2 .3 .9 .7-2.1 0 .4 .3 .5 .7-2.1 0-.5 .3-1 .7-1.9 .3 0 .7-1.9 .3 .2 .7-.4 .3 0 .7-.5 .3 1.1 .7 1.4 .3 1.2 .7 .9 .3 .8 .7 .8 .3 1.4 .7 .7 .3 .1 .7 .8 .3 0 .7 1 .3 0 .7-.5 .3 .2 .6 0 .1 1.2 .3-.8 .6-.2 .1 0 .3-.6 .6 .6 .1 0 .3-.2 .6 .3 .1 .2 .3-.6 .6 .5 .1-.6 .3 1.2 .6-.5 .1-1.1 .3 .9 .6-.2 .1 1.3 .3-1 .6 .5 .1-.3 .3 .6 .6-.6 .1-.6 .3 .4 .6-.3 .1 .1 .3-.1 .6 .2 .4 .8 .6-.5 1-.5 .4-.2 .6 .3 1-.4 .4 0 .6-.6 1-1 .4 .5 .6-.8 1 .5 .4-.4 .6 1.2 1-.7 .4-.2 .6 .8 1 .6 .4 .1 .6-.6 1 1 .4 .2 .6 .8 1-1 .4 0 .6 .7 1 .2 .4-.2 .6-.2 1 .1 .4-.5 .6-.3 1 .2 .4 1.4 .6-.8 1-.9 .4 .8 .6-.6 1 .7 .4 0 2-.6 2-.5 2 1 2-.3 2-.5 2-.6 .5 1 .5-.4 .5 .6 .5-.4 .5 0 .5-.4 .5 .1 .5 .6 .5 .4 .5-.2 .5-1.4 .5 .5 .5 0 .5 0 .5-.6 .5 .5 .5-.5 .5 1.2 .5-.7 .5 .9 .5-.8 .5-.3 .5 .3 .5-.2 .5 .8 .5-.6 .5-1 .5 .6 .5 .2 .5-.6 .5 .3 .5-.7 .5-.5 .5 0 .5 .2 .5-.2 .5-.5 .5-1.2 .5 1.1 .5-1.3 .5-.6 .5-1.1 .5-.4 .5-2.1 .5-1.7 .5-3.4 .5-4.2 .5-5.6 .5-7.2 .5-7.2 .5-10 .5-9.7 .5-9.9 .5-10.4 .5-5.7 .5-2.7 .5 2.1 .5 6.4 .4 7.1 .1 3 .5 9.2 .4 7.9 .1 2.6 .5 9.1 .4 7.1 .1 1.7 .5 6.6 .4 4 .1 1.4 .5 4.3 .4 1.4 .1 2.1 .5 1.6 .4 1.4 .1 .3 .5 .7 .4 1.6 .1-.5 .5 .8 .4 .5 .1-1.1 .5 2.4 .4-.2 .1-1.5 .5 1.6 .4-.5 .1 1 .5-.9 .4 .8 .1-.2 .5 .6 .4-.1 .1-.1 .5 .3 .4 .3 .1-.1 .5 .9 .4-1.5 .1 .1 .5 .9 .4-1 .1 .6 .5 .5 .4-1.5 .1 1.1 .5 .4 .4-1.1 .1-.9 .5 .1 .4 .3 .1 1.3 .5-.8 .4-.3 .1 .4 .5-.1 .4 0 .1-.5 .5 1.6 .4-.5 .1-.4 .5 .5 .4 .2 .1 1 .5-.9 .4 .1 .1 0 .5 .6 .4 0 .1-.7 .5 1 .4-1.1 .1 1 .5 .3 .4-1.1 .1 .6 .5-.7 .4 1.1 .1-.4 .5 .4 .4-.4 1-.2 .6-.3 .4 1 1-.4 .6-.2 .4-.7 1 1.2 .6 .2 .4-.4 1-.2 .6 .2 .4 1 1-.9 .6-.4 2 1.1 2-.9 1.3-.7 .7 1 .3 .5 1-.9 .7 .1 .3 1.2 1-1.3 .7 .5 .3-.2 1 .6 .7-.5 .3-.3 1 1 .7-.8 .3 .1 1 .2 .7-.9 .3 .5 1 .2 .7-.1 .3-.6 1-.1 .7-.1 .3-.1 1 .1 .7-.2 .3-.3 1-.4 .7 .4 .3-.3 1-.2 .7 1.8 .2-1.2 .1 .1 .1 .6 .8-.8 .1-.3 .1 .6 .6 .3 .2 1.5 .1-1.2 .1 .8 .8-.3 .1-.2 .1 .5 .6-1.1 .2 .3 .1 0 .1 .7 .8-.7 .1 .4 .1-.7 .6 .2 .2 .1 .1 .7 .1-.6 .8 .9 .1-.4 .1-.4 .6 .6 .2 0 .1-1.3 .1 1.1 .8 .5 .1-.1 .1-.9 .6-.7 .2-.1 .1 .1 .1 .8 .8 .2 .1-.8 .1 1.5 .6-1 .2 .5 .1-.8 .1 1.1 .8-1 .1-.1 .1-.7 .6-.4 .2 1.3 .1-1.5 .1 .3 .8-.6 .1-.7 .1 .1 .6-.6 .2-.1 .2 .1 .8-2 .2 .4 .6-.2 .2-.8 .2-.3 .8 1 .2 1 .6 .1 .2-.8 .2 .7 .8 1.3 .2-.1 .6 1.5 .2 .6 .2-.2 .8 .8 .2 .4 .6 0 .2-.4 .2-.3 .8 .1 .2 1.1 .6-1.1 .2 .3 .2-.3 .8 .4 .2 .5 .6-.9 .2 .6 .2-.7 .8 .4 .2-.1 .6 .7 .2 .3 .2-.8 .8 .3 .2-.7 .6 .1 .2 .6 .2 .1 .8-.1 .2 .2 .6-.6 .2 0 .2 .6 .8-.7 .2 .1 .6 .1 .2 .4 .2-.6 1.6 1.1 2-.2 2-.6 1-.5 .5 2 .5-1.5 .5 .8 .5-.6 .5 0 .5 .2 .5-.3 .5 .4 .5-.1 .5-.6 .5 .1 .5 .2 .5 .6 .5-.4 .5 .1 .5-.6 .5 .2 .5 .1 .5-.9 .5 .7 .5-.6 .5 .2 .5-.2 .5 1 .5-.7 .5-.4 .5 .3 .5 .2 .5 0 .5-.4 .5-.1 .5 0 .5 .4 .5 0 .5 1 .5-1.4 .5 .2 .5-.6 .5 .1 .5-.3 .5 0 .5-.9 .5-.2 .5-1 .5-.5 .5-.1 .5-.6 .5-2.1 .5-2.3 .5-3 .5-2.7 .5-3.4 .5-4.4 .5-3.8 .5-4.5 .5-3.1 .5-3 .5-.6 .5 .3 .5 1.9 .5 4 .5 4 .5 5.9 .5 2.9 .5 3.6 .5 3 .5 3 .5 1.1 .5 2.3 .5 1 .5 .5 .5-.1 .5 .2 .5-.2 .5-.8 .5-.5 .5-1.3 .5-.8 .5-1.9 .5-.9 .5-1.5 .5-1.1 .5-1.6 .5 0 .5 .6 .5 1 .5 .7 .5 1.2 .5 3.1 .5 .3 .5 2.6 .5 .3 .5 .6 .5 1.1 .5 .6 .5 1.8 .5-.9 .5 .6 .5-.3 .5 .1 .5 .6 .5-.2 .5 .2 .5 .8 .5-.3 .5-.1 .5 .6 .5-.4 .5-.3 .5-.6 .5 1.2 .5-.8 .5 .7 .5-.1 .5 .1 .5-.3 .5-.4 .5 .6 .5 .2 .5-.8 .5 .2 .5 .6 .5 0 .5-.2 .5 .2 .5-.5 .5-.3 .5 .2 .5 .4 .5-.7 .5 0 .5 .7 .5 0 .5 .9 .5-1.2 .5 .5 .5-.5 .5 .3 .5-.6 .5 .7 .5 .2 .5-.9 2 1.3 2-.2 2 .3 2-.3 2-.5 2 .1 2 .2 2-.3 2 .4 2 .5 2-.1 2-.3 2 .1 2-.4 2 .5 2-.1 2-.3 2-.4 2 .7 2-.8 2 .5 2-.8 2 .9 2 .3 2-.9 2 .5 2-.3 2-.3 2 .7 2-.3 2 .1 2-.7 2 .3 2 .2 2 .5 2 .6 2-.8 2 .1 2-.6 2 .2 2 .5 2-.6 2 .4 2 0 2-1 2 .4 2 0 .4 .4 .5-.1 .5-.2 .5-.1 .1 .3 .4-1.5 .5 2 .5-.6 .5-.4 .1-.6 .4 .9 .5-.7 .5 .7 .5-.3 .1-1.1 .4 1 .5-.5 .5-.4 .5 .4 .1 .6 .4-.2 .5-.4 .5-.2 .5 .5 .1-.1 .4-.1 .5-.7 .5 .8 .5-.1 .1 0 .4-.1 .5-.5 .5-.4 .5-.3 .1 .2 .4 .5 .5-.8 .5 .2 .5 .6 .1-1.4 .4 .5 .5 .1 .5-1.3 .5-.7 .1 1.5 .4-.7 .5-.4 .5 0 .5-1.2 .1 .2 .4-.6 .5-.8 .5-.4 .5-1.8 .1 .2 .4-1.4 .5-3 .5-2 .5-4 .1-1.2 .4-4.9 .5-6.9 .5-9.3 .5-10.6 .1-1.2 .4-10.4 .5-13.6 .5-16.6 .5-14.5 .1-3.7 .4-9.8 .5-8.1 .5-4.2 .5 2.7 .1 2.5 .4 6.9 .5 13.5 .5 15.3 .5 15.3 .1 2.7 .4 10.3 .5 14.2 .5 10.2 .5 9.2 .1 2.2 .4 4.1 .5 6 .5 4.2 .5 2.4 .1 .2 .4 2.7 .5 1.3 .5 .8 .5 1.4 .1 .4 .4 .8 .5-.6 .5 1.4 .5-.1 .1-.5 .4 1.2 .5-.4 .5-.1 .5 .3 .1 1.1 .4-.5 .5 1 .5 0 .5 .1 .1-.9 .4 1.3 .5-.9 .5-.2 .5 .9 .1-.6 .4 .9 .5-.8 .5 .2 .5 .5 .1 .4 .4 .3 .5-.2 .5-.5 .5 .5 .1 .1 .4-.2 .5-.2 .5 .8 .5-1.4 .1 .2 .4 1.6 .5-.5 .5-1.2 .5 .9 .1 0 .4 0 .5 1.6 .5-1.6 .5-.3 .1-.2 .4 1 .5-.3 .5 .5 .5-.7 .1 .4 .4-.3 1.6 .2 2 .6 2 .2 2-1.2 2 .9 2 .2 2-.2 2-.2 2-.5 2 1.4 2-.6 2 .2 2 .4 2-1.7 2 .5 2 .4 2-.2 2-.2 .3-1 1 1.5 .7-.4 .3-.1 1 .5 .7-.3 .3-.5 1 .9 .7-.5 .3 .4 1-.3 .7-.1 .3 .5 1-.4 .7-.6 .3 .9 1-1.1 .7 1.6 .3-.6 1-.6 .7 0 .3 .1 1-.3 .7-1.1 .3 .5 1-1.1 .7-.1 .3-.4 1 1.8 .7 0 .3-.1 1-.1 .7 1 .3 1.7 1-1.6 .7-.8 .3 .5 1 1.2 .7-.9 .3 .5 1-.1 .7-.1 .3 .8 1-.7 .7-.3 .3 .2 1 .2 .7 0 .3-.6 1 .3 .7 .3 .3-.3 1-.1 .7-.6 .3 1.5 1.7-.7 2 .7 2-1.3 2 .6 1.2 .5 .8-.4 .2-.3 1 .6 .8 .5 .2-.6 1-.2 .8 .3 .2 .2 1-.7 .8-.7 .2 .2 1 .7 .8 .3 .2-.7 1 .2 .8-.2 .2 .4 1 .7 .8-1 .2 .5 1-1 .8 .3 .2-.2 1-.1 .8-.9 .2 .1 1 .3 .8 .5 .2-1 1 1 .8 .9 .2-.8 1 .4 .8 .4 .2-.3 1-.1 .8-.2 .2 .5 1-.3 .8 .5 .2-.7 1 .3 .8 .1 .2 1 1-1.2 .8 .2 .2 .2 1-.4 .8 .3 .2 .1 1-.2 .8 .3 .2 .2 1-.1 .8-.1 2 .1 2-.8 2 1.3 2-.6 1 .1 .5-1.2 .5 .8 .5 .2 .5-.2 .5 .6 .5-.4 .5 0 .5-.4 .5 .1 .5-.1 .5 .6 .5-.7 .5 .1 .5-.6 .5 .3 .5-.6 .5 .7 .5 .3 .5 .3 .5-.7 .5 .1 .5 .7 .5-.3 .5 0 .5-.3 .5-.9 .5-.2 .5 .2 .5 0 .5 .9 .5 .8 .5-.8 .5 0 .5-.8 .5 .2 .5-.1 .5-.2 .5-.4 .5 .5 .5 .1 .5-1 .5 .9 .5-.5 .5-.1 .5-.9 .5 .5 .5-1.5 .5-.4 .5-.8 .5-1.8 .5-1.2 .5-1.9 .5-3.3 .5-2.8 .5-4.3 .5-4.7 .5-4 .5-5.5 .5-4.2 .5-4.2 .5-3.3 .5-.9 .5 .6 .5 3.3 .5 4.3 .5 4.3 .5 5.3 .5 5.4 .5 4.7 .5 2.8 .5 4 .5 2.4 .5 2.1 .5 1.7 .5 1 .5 .9 .5 .9 .5 .5 .5 .7 .5 .3 .5-.2 .5 0 .5-.1 .5 1.2 .5-.9 .5 0 .5 .9 .5 0 .5 .9 .5-.9 .5 0 .5-.2 .5-.3 .5 1.5 .5-1.2 .5-.6 .5 .6 .5 1.1 .5-1.4 .5 .4 .5 .2 .5 .6 .5-1.1 .5 .6 .5 .2 .5 .5 .5-.8 .5 .2 .5-.2 .5 .5 .5-.3 .5 1 .5-.8 .5-.3 .5 .7 .5-.4 .5-.1 .4 .2 .1-.1 .5 0 .4 .1 .1 .2 .5 .1 .4-.3 .1 .3 .5 .4 .4-.3 .1-.5 .9 .6 .1-1.1 .9 .8 1 .1 .1-.1 .9 .8 1-1.2 .1 .6 .9 0 1 .1 .1-1.3 .9 .4 1-.2 .1 0 .9 .2 1-.5 .1-.8 .9 .8 1-.7 .1 .1 .9-.3 .7-.3 .3 .3 .1 .3 .1-.8 .5 .6 .3 .6 .2-1.4 .5 .9 .3 .4 .1 .4 .1-.6 .5 1.6 .3-.8 .2-.3 .5 .2 .3 .4 .1-.3 .1 .1 .5 .6 .3-.4 .2 1.3 .5-.1 .3-1.1 .1-.5 .1 .4 .5 .7 .3 0 .2-.7 .5 .2 .3 .7 .1-.6 .1 .3 .5-.1 .3 .1 .2-.6 .5 .6 .3-.3 .1-.6 .1 .8 .5-.4 .3-.5 .2-.2 .5 1.1 .3 .5 .1-1.2 .1 0 .5 .5 .3-.6 .2 .8 .5-1.1 .3 .8 .1 .4 .1-.4 .5 .2 .3-.1 .2-.6 .5-.1 .3 .4 .1-.7 .1 .3 .5 .2 .3-.5 .2 0 .5 1.3 .3-1.1 .1-.4 .1 .1 .5 .6 .5-.1 .5-.3 .4 .2 .1-1 .5 .3 .5-1 .5 1.2 .4-.8 .1 .1 .5-.4 .5-.4 .5-.6 .4-1.4 .1 .2 .5-1.2 .5-1.1 .5-2 .4-1.9 .1-.5 .5-3.2 .5-4.1 .5-3.4 .4-3.3 .1-.8 .5-4.4 .5-4.3 .5-3.9 .4-1.5 .1-2 .5-.1 .5 1.5 .5 2.5 .4 3.1 .1 .2 .5 4.6 .5 4.7 .5 4.1 .4 2.6 .1 2.1 .5 2 .5 3.5 .5 3.4 .1 .5 .3 .8 .1 0 .5 1.4 .1 .9 .4-.1 .5 1.4 .1-.1 .3 .3 .1-.3 .5 1.6 .1-1.6 .4 2 .5-.1 .1-.4 .3 .3 .1 .1 .5 .1 .1-1.1 .4 .8 .5-.2 .1 .5 .3 .1 .1 .2 .5 .2 .1 .2 .4-.6 .5 .3 .1 .1 .3 0 .1 .2 .5 .4 .1-.6 .4-.8 .5 .3 .1 1.2 .3 .3 .1-.9 .5 .6 .1-.2 .4-.5 .5 0 .1-.7 .3 1 .1-.9 .5-.1 .1 1 .4-.5 .5-.4 .1 .8 .3-.8 .1-.6 .5 1.5 .1-.8 .4 0 .5-.1 .1 .3 .3-1.1 .1-.2 .5-.1 .1 .2 .4 .8 .5-1.7 .1 .4 .3 .4 .1-.4 .5 .1 .1-.1 .4 .7 .5-.2 .1 .4 .3-.3 .1 .3 .5 .3 .1 .8 .4-.4 .5 .4 .1 .2 .3 .3 .1 .5 .5-1.1 .1 .3 .4-.1 .5 1.6 .1-1.6 .3 .4 .1 .4 .5-.6 .1-.3 .4-.5 .5 2.1 .1-1 .3 .8 .7-1.3 1 1 .3-.6 .7-.3 1 0 .3 1.1 .7-.2 1-.5 .3 .2 .7-.1 1 0 .3-.3 .7 .2 1 .2 .3-.6 2 .8 2-1 2 .4 2 1.5 2-.5 2-1.3 2 .6 2 1.1 2-.2 2-.3 2-.5 2-.2 2 .8 2-.9 2 .6 2-.1 2 1.1 2-1.6 2 .7 2-.8 2 .2 2-.9 2 1.5 1.5-.8 .5-.4 .5 .6 1 .4 .5-.3 .5 .3 1-.8 .5 .5 .5 1 1-.9 .5 0 .5 .4 1-.1 .5-.2 .5-.1 1 .1 .5-.4 .5 .9 1-1.6 .5 1.2 .5-.2 1 .6 .5-1.6 .5-.2 1 .7 .5-.6 .5-.3 1-.1 .5 .3 .5 0 1-.6 .5 .5 .5 .8 1-.5 .5 .6 .5 1.4 1-1.3 .5 .3 .5-.5 1 .5 .5-.5 .5 1.1 1-.1 .5-.2 .5-.7 1 .8 .5-.4 .5-.6 1 .3 .5 .4 .5 .4 1 .3 .5 .3 .5-.8 1 .1 .5-.2 .9 .5 1-.3 .1-.6 .9 .1 1 .1 .1 .2 .9-1 1 1 .1-.3 .9 .5 1-.4 .1 .9 .9-1.6 1 .6 .1 1.2 .9-.5 1-1.2 .1 .9 .9-.4 1 0 .1-.4 .9-.3 1-.2 .1 .1 .9 .2 1-.9 .1-.4 .9-.1 1 .6 .1-.4 .9 .1 1 .8 .1-.2 .9 .7 1 .4 .1-.6 .9 .2 1 .4 .1 .1 .9 0 1 .4 .1 .6 .9-.8 1-.2 .1 0 .9-.3 1-.2 .1 .1 .9 .9 1 .2 .1-.2 .9-1.5 1 .6 .1 2.2 .9-.5 1.1-1 2-.6 2-.1 2-.5 2 1.4 2-.8 2 .5 2-.4 2 1.1 2-.7 2-.1 2-.1 2-.1 2 .7 2-.7 2 .8 2-.6 2 .4 2-.3 2-.7 2 .6 2 1 2-.8 2 .2 2-.5 2 .1 2 .1 2-.1 2 .3 2 0 2-.7 2 .5 2-.1 .7 .1 .5-.3 .5 .2 .3 .4 .2 0 .5-.2 .5 .2 .5 .3 .3-.7 .2 1 .5-1.5 .5 .9 .5-.8 .3 1.1 .2-1.6 .5 1.5 .5 .5 .5-1.2 .3 .3 .2-.3 .5 .4 .5 .5 .5-.5 .3-.4 .2 .4 .5 .2 .5 .2 .5-1.2 .3 .3 .2 0 .5-.6 .5 .7 .5 .8 .3-1.4 .2-.1 .5 .1 .5 .4 .5 .3 .3-.3 .2-.2 .5 .4 .5-1.1 .5 1.6 .3-1.3 .2 .9 .5-.6 .5 .1 .5-.6 .3 .7 .2 0 .5 .4 .5-.5 .5 1 .3-1.3 .2 .3 .5 .6 .5-1.2 .5 1 .3-.8 .2-.4 .5 1 .5-.3 .5 .2 .3-.8 .2-.6 .5 .4 .5 .4 .5-1.2 .3 1.7 .2-1.8 .5 .1 .5-.8 .5-.6 .3-.5 .2-.5 .5-1.2 .5-.9 .5-2.3 .3-.3 .2-1.6 .5-.9 .5-2.3 .5-2.5 .3-.6 .2-.6 .5-1.5 .5-.3 .5-.5 .3-.9 .2 .6 .5 1.7 .5 .9 .5 2.4 .3 .4 .2 .7 .5 2.6 .5 1.2 .5 1.6 .3 .9 .2 .4 .5 2.1 .5 .1 .5 1 .3 .6 .2 .2 .5 .4 .5 1.6 .5 .5 .3 .5 .2-.9 .5 .1 .5 .4 .5 .8 .3-.7 .2 .7 .5-1.5 .5 1.6 .5-.3 .3 .4 .2-.3 .5-.4 .5 .4 .5 .6 .3-.6 .2 .6 .5-.3 .5-1.4 .5 .9 .3-1 .2 1.3 .5-1.2 .5 1.1 .5 .9 .3-.4 .2 .2 .5-.6 .5-.7 .5 1.1 .3 .1 .2-.7 .5-.2 .5 .4 .5-.5 .3-.1 .2 .5 .5-.1 .5 .4 .5 .1 .3 .3 .2-.7 .5-.2 .5 .9 .5-.5 .3 .2 .2 .3 .5-.2 .5 0 .5 0 .3-.1 .2-.1 .5-.3 .5 .9 .5-1 .3-.3 .2 .1 .5 .4 .5 .5 .5-.8 .3 .8 .2 .2 .5-.7 .5 .3 .5-.4 .3 .3 .2-.5 .5 0 1.3-.5 2 1.4 2-1.3 2 1 2-.4 2 .1 2 .7 2-1 2 1.6 2-1 2-.4 2-.1 2 .3 2 1.3 2-.3 2-.3 2-1.2 2 1.2 2-1 2 .2 2-.1 2 .4 2-.6 2 .4 .7-.1 1-.3 .3 .4 .7 .5 1-.5 .3-.1 .7 .4 1 .5 .3-.3 .7 .1 1-.1 .3-.5 .7 0 1 0 .3-.2 .7 .4 1-.4 .3 1.7 .7-1.2 1-.8 .3 0 .7-.2 1 .1 .3-.4 .7-1.2 1 .6 .3-.7 .7-.6 0 .6 1 .7 0 .3 .3-1.1 .7 1.1 0-.3 1 .9 0 .1 .3 .6 .7-.4 0 1.5 1-1.9 0 .2 .3 1 .7-.3 0 .1 1-.2 0 .8 .3-1.3 .7 .5 0 .1 1-.7 0-.1 .3 1 .7-.5 0 .6 1-.7 0-.3 .3 .4 .7-.3 0 .6 1 .2 0-.4 .3-.4 .7 .3 0-.6 1-.6 0 .4 .3 .5 .7-.2 0-1.2 1-.1 0 .1 .3 .3 .7-.4 0 .9 1-.1 .3-.2 .7 .6 1-.3 .3 .6 .7-.1 1 .4 .3 0 .7 .3 1-1 .3 1.2 .7-.8 1 .8 .3-.1 .7-1.2 1 .9 .3 .9 .7-.6 1 .7 .3-.5 .7 .8 1-.8 .3-.5 .7 .6 1-.2 .3-.1 .7-.1 1.3-.3 2 .5 2-.2 2 .9 2-.6 2 .6 2-.6 2 .3 2-.8 2 .6 2-.3 2 0 2-.5 2 1.2 2-1.4 2 1.6 2-.4 2-.6 2 0 2 .4 2 0 2-1.2 2 .8 2 .6 2-.6 2 0 2 .5 2 .6 2-.4 2-.7 2-.2 2 .2 2 .1 1.9-.3 .1 .5 .9-.2 1-.3 .1-.4 .9-.4 1 1.2 .1-.1 .9-.8 1 .7 .1-.7 .9 .4 1-.2 .1 .9 .9 .4 1-.4 .1 0 .9-.4 1-.1 .1-.1 .9-.1 1-.3 .1 .5 .9-.8 1-.6 .1 .3 .9-.4 1 .9 .1-1.6 .9 1 1-.2 .1 1.5 .9-.5 1 0 .1 .5 .9-.1 1-.5 .1 1.3 .9-.8 1 0 .1-.5 .9 .9 .6-.2 .4-.6 .1 .4 .5-.1 .4-.7 .1 .9 .5 .2 .4-.6 .1 .4 .5 .4 .4-.1 .1-.4 .5 .1 .4 0 .1-.5 .5 .4 .4 .4 .1-.3 .5-.2 .4 .3 .1-.1 .5 .4 .4-.7 .1 .1 .5 .1 .4-.7 .1 .4 .5-.6 .5 .5 .5 1.2 .5-.9 .5 .2 .5-1.4 .5 .2 .5 .7 .5 .4 .5 .2 .5 .5 .5-.7 .5 .5 .5-.8 .5 .2 .5 0 .5-.6 .5-.2 .5 .9 .5 .2 .5-.5 .5 1.2 .5-1.7 .5 1.1 .5-1.1 .5 .5 .5-.4 .5 0 .5 .6 .5-.1 .5 .5 .5-2 .5 .7 .5 .8 .5-.5 .5-.2 .5 0 .5 .3 .5-.7 .5-.6 .5-.3 .5 .4 .5-.5 .5-.3 .5-.8 .5-1.9 .5-.7 .5-.5 .5-1.9 .5-2.3 .5-.7 .5-1.8 .5-1.9 .5-2.1 .5-1.4 .5-1.4 .5-.6 .5-.3 .5 0 .5 .5 .5 1.5 .5 1.5 .5 2.2 .5 2.9 .5 .7 .5 2 .5 1.4 .5 1.5 .5 1.4 .5 .8 .5 .4 .5 1.6 .5-.1 .5 .9 .5-.5 .5 .3 .5 .3 .5 .6 .5 .4 .5-.2 .5-.5 .5-.6 .5 2.2 .5-.6 .5-1.1 .5 1 .5-.3 .5 .1 .5-.2 .5 .3 .5 .1 .5 .7 .5-.9 .5-.6 .5 .7 .5-.6 .5 1.3 .5-1 .5 .8 .5-.3 .5-.8 .5 1.6 .5-.6 .5 .2 .5 .1 .5-.5 .5 .2 .5 .4 .5-.3 .5 .5 .5-.8 .5 .1 .5 .4 .5 .3 .5-.2 .5-.5 .5-.2 .5 .4 .5-.1 .5-.1 .5 0 .5 .2 .5-.3 .5 .9 .5-.8 .5 .1 .5-.4 .5 .3 .5 .8 .5-.1 .5 0 .5-.9 .5 .1 1.5 .6 2-1 2 1 2-.7 2 1 2-.9 2 .8 2-.3 2 .3 2-1 2 .5 2 0 2-.4 2 .3 2-.7 2 .8 2 .1 2 .1 2 .4 2 0 2-.4 2-.3 2 .3 1-.5 .5 1.2 .5-.4 .5-.4 .5 .2 .5-.4 .5 .3 .5 .1 .5-.2 .5 .1 .5 .1 .5 .1 .5-.3 .5 0 .5 .2 .5-.1 .5-.6 .5 .3 .5 .2 .5-1 .5 1.6 .5-1 .5-.3 .5 .5 .5 .4 .5-.8 .5-.1 .5 1 .5-.1 .5 .1 .5 0 .5-.7 .5-.6 .5 .7 .5 .7 .5-1.1 .5 1.7 .5-1.5 .5-.2 .5 1.2 .5-.9 .5 .1 .5 .5 .5 .1 .5 .1 .5-.3 .5-.3 .5 .3 .5-.4 .5 1.2 .5-1.4 .5 .4 .5-.2 .5-.7 .5 1.2 .5 .8 .5-.9 .5-.5 .5 0 .5-.1 .5-.4 .5 .9 .5-1 .5 .3 .5-.2 .5-.6 .5 0 .5-.6 .5 0 .5 .1 .5-2.3 .5 .5 .5-.3 .5 .2 .5-1 .5-.2 .5 .5 .5 0 .5 .8 .5 1 .5-.2 .5 .1 .5 .6 .5 .4 .5 .7 .5 .5 .5 .4 .5-1.3 .5 .7 .5 0 .5 .4 .5-.1 .5 .2 .5 .2 .5-.3 .5-.2 .5 .1 .5 .3 .5-.1 .5 .7 .5-.6 .5 .2 .5 .2 .5-.7 .5 1.1 .5-.6 .5 .5 .5-.6 .5 .1 .5-.1 .5 0 .5 .1 .5 0 .5-.2 .5 .5 .5-1.2 .5 .9 .5-.4 .5 .9 .5-.6 .5 .1 .5-.5 .5 1 .5 .1 .5-.6 .5 .3 .5 0 .5-.2 .5 .1 .5-.1 .5-.4 .5 .4 .5-.1 .5 .7 .5-.2 .5-.8 .5 .8 .5-.7 .5 .8 .5-.4 .5-.6 .5 1.2 .5 0 .5-.3 .5 .4 .5-.8 .5 1 .5-1.3 .5 .2 .5 .1 .5-.4 2 .9 2-.2 2-.8 2 1 2-1.1 2 .9 2-.4 2-1 2 .5 2 .7 2 .6 2-.2 2-.7 2 .7 2 .4 2-.6 2-.1 2-.3 2-.1 2 1.2 2-1.5 2 .2 2 1.1 2-1.1 2-.4 2 1.3 2-.7 2 .2 2-.8 2 1.3 2-.7 2 .1 2 .4 2-.5 2 .5 2-.5 2-.2 2 .6 2-.1 2-.3 2 .5 2-1.1 2 .6 2 1.2 2-.9 2 .3 2-.1 2-.2 2-.5 2 0 2 .4 2-.7 2-.2 2 .1 2 1.2 2 0 2-.5 2-.4 2 1.3 2-.4 2-.3 2-.2 2-.7 2 .7 2-.2 2 .5 2 .4 2-.4 2-.2 .5-.2 .5 .4 .5-.2 .5 .4 .5-.1 .5-.6 .5 .1 .5-.4 .5 .7 .5 .1 .5-.2 .5 .4 .5-.1 .5 0 .5-.7 .5 .9 .5 .1 .5-1.1 .5 1 .5-.1 .5-.1 .5-.3 .5 1.1 .5-.7 .5-1.1 .5 .6 .5-.1 .5 .5 .5-.2 .5 0 .5 .1 .5 .3 .5-.1 .5 .3 .5-1.2 .5 .6 .5-.6 .5 1 .5-.7 .5-.5 .5 .3 .5 .9 .5-1 .5 1.1 .5-.9 .5 1 .5-1.3 .5 0 .5 1.1 .5-1 .5 .5 .5-.3 .5-.2 .5 .6 .5-.9 .5-.5 .5 .9 .5-.5 .5 1 .5 0 .5-.6 .5 .5 .5-.4 .5-.1 .5-.8 .5-.1 .5 .2 .5-.6 .5 .9 .5-.7 .5 .1 .5-.8 .5-.7 .5-1.1 .5-.7 .5 .8 .5-.6 .5 0 .5-.6 .5-.6 .5-.3 .5 1.1 .5-.6 .5 .2 .5 1.5 .5 0 .5 1 .5 0 .5 .3 .5 0 .5 1.1 .5 0 .5 .1 .5-.2 .5 .4 .5 1 .5 .1 .5-.9 .5 1.2 .5 .2 .5-.8 .5-.3 .5 .4 .5-.8 .5 .6 .5 .5 .5-.3 .5-.2 .5-.6 .5 1.8 .5-1.3 .5 1.2 .5-.9 .5 .4 .5 .2 .1 0 .4 0 .1-.7 .4 .3 .1-.6 .4 .1 .1 0 .4 1.9 .1-1.8 .4 .1 .1 .1 .4 .3 .1 .3 .4-.3 .1-.7 .4 .4 .1-.3 .4 .5 .1 .1 .4-.7 .1 .1 .4 .8 .1-.6 .4 .1 .1 .3 .4-.1 .1-.6 .4 .5 .1-.3 .4 .3 .1 .6 .4-.8 .1 .5 .4-.4 .1-.1 .4 .5 .1-.6 .4 .4 .1 .2 .4-.1 .1-.5 .4 .2 .1-1.2 .4 1.6 .1-.6 .4-.3 .1 1.4 .4-1.1 .1 .1 .4 .2 .1 .8 .4-1.2 .1-.9 .4 1.6 .1-.8 .4 .5 .1 .2 .4-1.5 .1 .1 .4 .4 .1 .9 .4-1 .1 1.4 .4-.5 .1-.2 .4-.8 .1 1.1 .4-.2 .1 .1 .4-.8 .1 .1 .4 .2 .1 .5 .4-.6 .1 .5 .4 .1 .1 .3 .4-.5 .1 .4 .4 .5 .1-.5 .4-.2 .1 .1 .4-.3 .1 .6 .4-.7 .1 0 .4 0 .1-.7 .4 .4 .1 1.1 .5-.7 .5 .1 .5 0 .4 0 .1-.1 .5-.5 .5-.2 .5 .2 .4 .5 .1-.2 .5 .2 .5-1 .5 .7 .4-.3 .1 .3 .5-.1 .5-.5 .5-.9 .4 1.1 .1-.2 .5 0 .5-.5 .5-.2 .4-.9 .1-1.2 .5 .9 .5-.8 .5-1.4 .4-.1 .1 .3 .5-1.6 .5-1.4 .5-1.8 .4-1.1 .1-.3 .5-.9 .5-1.5 .5-2.1 .4-1.3 .1-.1 .5-.8 .5-.4 .5-1 .4 .4 .1 .2 .5 1.3 .5 1.1 .5-.2 .4 1.5 .1 1.2 .5 1.6 .5 1 .5 1.9 .4 1.1 .1 .3 .5 .6 .5 2.2 .5 .6 .4 .3 .1-.1 .5 .8 .5 2.1 .5-.7 .4 0 .1-.4 .5 1.4 .5-.2 .5-.8 .4 .8 .1 .6 .5-1.1 .5 2 .5-.9 .4 .2 .1-.8 .5 .8 .5 0 .5 .2 .4 .2 .1-.2 .5 .1 .5-.4 .5 1.7 .4-1.7 .1 .6 .5-.2 .5 .3 .5-.7 .4 1.1 .1-.3 .5-.8 .5 .9 .5-.1 .4 .2 .1 .8 .5-1.2 .5-1 .5 .4 .4 .8 .1-.6 .5 .7 .5-.7 .5 .5 .4-.5 .1 .4 .5-.5 .5 .8 .5-.3 .4 .5 .1-.1 .5 .1 .5-1.1 .5 .1 .4 1 .1-.9 .5 1.1 .5-.9 .5-1.1 .4 1.2 .1 .3 .5 .4 .5 .3 .5 0 .4-.8 .1 .7 .5-.1 .5-.4 .5-.4 .4 .7 .1-.8 .5 0 .5 0 .5-.3 .4 1 .1-.3 .5-.5 .5 .8 .5-.4 .4-.2 .1 .4 .5-.5 .5 .6 .5-.8 .4 1.4 2-.4 2 0 2-.2 2-.4 1.5-.2"/>
<path stroke="#7C4A4A" d="M182.5 1440.6l 2-.9 2 1.1 2 .2 2 0 2 .3 2-.9 2-.1 2 .3 2-.3 2 1.2 2-.5 2-1.3 2 .7 2 .3 2-1 2 1.4 2-.8 2-.3 2 .4 2-.3 2 .9 2-.3 2-.4 2-.2 2 .5 2-.7 2 .7 2-.4 2 .5 2 .2 2-.5 2 .1 2 .1 2 .3 2 0 2-.2 2 0 2-.7 2-.4 2 .4 2 2 2-1.5 2-.3 2 .5 2-.2 2 .3 2 0 2-.7 2 0 2 .9 2-1 2 .6 2-.4 2 .5 2 .1 2-.6 2 .8 2-.8 2-.1 2 .3 1 .1 1-.4 1-1 1 1 1 .5 1 .1 1-.2 1 1.2 1-1 1-.7 1 .4 1 .1 1 0 1-.2 1-.5 1-1.1 1 .3 1-.7 1-.8 1 0 1 1.2 1 .3 1 .1 1 1.3 1-.3 1 1.2 1-2.5 1 2.2 1-.8 1-.2 1 .6 1 1.1 1-1.8 1 1 1 .1 1-.3 1-.5 1 .2 2 1.1 2-1.1 2 .2 2 .1 2 .2 2 .3 2 .1 2-.9 2-.4 2 .7 2-.8 2 .1 2 .3 2-.3 2 .2 2 .6 2 0 2-.1 2-.5 2 .9 2-.2 2-1.4 2 .9 2 .5 2-.6 2 .7 2-.5 2 1.1 2-1.2 2-.3 2 .4 2-.3 2 .1 2-.1 2-.2 2 1 2-.5 2 .1 2-.9 2 1.4 2-1.5 2 .8 2 .1 2-.8 2 1.5 2-1 2 0 2 .3 2 .3 2-.1 2-.6 2 .4 2-.1 2 .5 2 .1 2-.6 .8 .2 1 .2 .2-.4 .8 .1 1 .5 .2-.5 .8 0 1-.4 .2 .1 .8 .2 1 .4 .2-1.1 .8 .5 1 .3 .2 .1 .8-.3 1-.5 .2 .6 .8-.5 1-.3 .2-.7 .8-.2 1-1.3 .2-.4 .8-1.4 1-1.2 .2-.4 .8 1 1-.3 .2 1.3 .8-.7 1 2 .2 1 .8-.3 1 .8 .2 .8 .8 .4 1 .1 .2-.4 .8 .4 1 1.1 .2-.4 .8-.5 1-.4 .2 .2 .8 .9 1-.2 .2-1.2 .8 .4 1 .6 .2 .5 .5-1.5 .3 .8 .7 .5 .3-.1 .2-1.1 .5 .3 .3 .5 .7-.4 .5 .5 .5-.3 1 .5 .5-1.3 .5 .6 1 .8 .5-1.2 .5 .8 1-.7 .5 .1 .5 .7 1-.4 .5-.1 .5-1.3 1 0 .5-.6 .5-.4 1-1.8 .5-2.7 .5-.2 1-1.8 .5-.4 .5-.7 1 .8 .5 1.1 .5 1.3 1 2.9 .5-.1 .5 1.3 1 .8 .5 1.6 .5-.9 1 .9 .5 .6 .5-1 1 0 .5 .9 .5-.5 1 1 .5-1 .5-.2 1 .1 .5 .5 .5-1 1 1 .5 .1 .5-1 1 .6 .5 0 .5 .8 1-.6 .5 0 .5-.3 1 .7 .5-.1 .5-1.1 1 .9 .5 .1 .5-.5 1 0 .5-.3 .5-1.4 .5-.1 .5-.2 .5-.9 .5-1.1 .5-1.1 .5-.9 .5-1.2 .5 .2 .5-.6 .5-.7 .5 1 .5-.2 .5 .4 .5 1 .5 1 .5 1.4 .5 .3 .5 1.2 .5 .3 .5 1.1 .5-.4 .5-.2 .5-.9 .5 1.1 .5 .2 .5-.9 .5-.6 .5-.7 .5-1.2 .5-1 .5-2.1 .5-1.4 .5-1.8 .5-.9 .5-1.1 .5-.8 .5-1.3 .5 .5 .5 1.2 .5 1 .5 1.2 .5 2.3 .5 1.4 .5 1.2 .5 1.9 .5 .8 .5 .4 .5 1.2 .5 1.1 .5 .3 .5 .1 .5-.1 .5 .3 .5-.2 .5 .2 .5-.4 .5 .9 .5-.7 .5 .9 .5-1.5 .5 .7 .5 .2 .5 .4 .5 0 .5-.6 .5 .5 .5 0 .5-.6 .5 .3 .5-1.1 .5 .2 .5 .3 .5-.8 .5-.1 .5-1 .5-.1 1-1.2 .5-.4 .5 0 1 1.4 .5-.4 .5 .9 1 0 .5 .8 .5 1 1 .2 .5 .2 .5-1 1 2.4 .5-1 .5-.8 1 .6 .5-.3 .5 .6 1-.6 .5 .6 .5 0 1-.4 .5 .6 .5-.3 1-.3 .5 .3 .5 0 1 0 .5 0 .5-.1 1 .6 .5-.4 .5 .4 1 .1 .5-.6 .5 .4 1-.4 .5-.2 .5 .7 1-.3 .5-.2 .5-.4 1 .4 .5 0 .5-.4 1-.1 .5-.1 .5-1.1 1 .7 .5-1 .5-1.8 1 .1 .5-.9 .5-1.2 1-.6 .5 .6 .5 0 1 1.6 .5 1.2 .5-.7 1 1.8 .5 1.2 .5 .5 1-.3 .5-.3 .5 .6 1-.6 .5 0 .5 1 1-.6 .5 0 .5-.8 1-.2 .5-.4 .5-.7 1-1 .5-1.2 .5-1.6 1-1.8 .5-2 .5-1.4 1-.7 .5 .6 .5 .7 1 2.2 .5 1.8 .5 1.2 1 1.3 .5 1.1 .5 2.7 1 .3 .5-1.2 .5 1.9 1-1.1 .5 .2 .5 .1 1 .3 .5 .7 .5 0 1 0 .5-.4 .5-.1 1-.2 .5-.3 .5 1.4 1-1.2 .5-.5 .5 1.3 1-.9 .5 .5 2 0 2-.8 2 .6 2 .3 2-.8 1.5 .8 .5-.3 .5 0 1 .5 .5-.3 .5-.6 1 0 .5 .8 .5-.6 1 .1 .5-.2 .5 .5 1-.4 .5-.3 .5 .4 1 0 .5 .9 .5-1.8 1 .7 .5-1.1 .5-.1 1-.9 .5-1 .5-.4 1-2.4 .5-1.3 .5-.7 1-2.2 .5 1.3 .5 1.1 1 2 .5 .9 .5 .9 1 1.3 .5 1.8 .5-1.6 1 2 .5-.6 .5 .9 1 .5 .5-.7 .5-.2 1 .1 .5 .3 .5-.6 1 1.6 .5-.8 .5 .8 1-.9 .5 .5 .5-.2 1 0 .5-.3 .5 1 1-.9 .5 .3 2 0 2-.3 2-.2 2-.6 2 .8 2-.5 1.5 .3 .5 .5 .5 .1 .5-.4 .5-.1 .5 .3 .5-.1 .5 .4 .5-1.1 .5 .8 .5-.7 .5 .8 .5-.9 .5-.2 .5 .8 .5 .1 .5-.1 .5-.7 .5 .5 .5 .3 .5-.4 .5-.3 .5 .1 .5 0 .5 .2 .5-.1 .5-.9 .5-.7 .5 1.2 .5-1.2 .5 .4 .5-.7 .5 1.1 .5-1.3 .5 0 .5 .4 .5-.3 .5-1.4 .5-.4 .5 .5 .5-.3 .5-1.2 .5-1.3 .5-2.3 .5-1.1 .5-4.6 .5-3.2 .5-6.4 .5-7.1 .5-8.3 .5-10.1 .5-10.3 .3-5.9 .2-4.4 .5-9.5 .3-4.6 .2-2 .5-1.7 .3-.8 .2 2.6 .5 6.3 .3 5.9 .2 2.3 .5 11.8 .3 6.4 .2 3.5 .5 10.6 .3 5.1 .2 3.4 .5 7.2 .3 2.9 .2 2.3 .5 4.7 .3 3 .2 .5 .5 1.4 .3 2.2 .2-.1 .5 1 .3 .7 .2 .5 .5 .7 .3-.7 .2 1.1 .5 .7 .3-.5 .2 .8 .5-.2 .3-.4 .2 1.1 .5-.9 .3 .2 .2 .4 .5-.2 .3-.1 .2 .5 .5-1 .3-.7 .2 .3 .5-.4 .3-.4 .2 0 .5-.1 .3 .6 .2-1.5 .5 .1 .3 1 .2 .5 .5 0 .3 .1 .2 .1 .5 .4 .3-.3 .2 .3 .5-.1 .3 .5 .2 .5 .5 .3 .3 .2 .2-.4 .5 1.6 .3-.9 .2 1.2 .5-.8 .3 1.1 .2-.4 .5-1.5 .3 1.1 .2-.1 .5 1 .3-.4 .2-.1 .5 .1 .3-.3 .2 .4 .5-.6 .3 .2 .2 .9 .5-.8 .3-.6 .2 1.2 .8-.2 .7-.8 .3 .6 1 .2 .7-.9 .3 1.1 1-1.1 .7 1 .3 0 1 .4 .7-.2 2 .4 2-.4 .5 .1 1-.1 .5 .1 .5 .3 1-.3 .5-.2 .5-.1 1-.6 .5 .8 .5 .5 1-1.6 .5 1.4 .5-.5 1-.2 .5 .4 .5 1.4 1-1 .5-.9 .5-.1 1-1.7 .5 1.1 .5 .3 1-2.5 .5 .6 .5-.5 1-.8 .5-1.8 .5 1.7 1-.4 .5 .5 .5 .2 1 1.3 .5 1.2 .5-.3 1-.1 .5 .9 .5-.5 1 1.2 .5 .2 .5-.9 1 .3 .5 .5 .5 .2 1 0 .5-.9 .5-.1 1 .8 .5 .3 .5-1 1 .4 .5-.1 .5 .4 1-.1 .5 .4 .5 0 1.5 .4 2-.5 2-.1 2 .3 2-.4 2 .1 2 .3 2-.9 2 1.3 2-.1 2-1.2 2 .9 2-.4 2-.1 2 0 2-.6 .5 1.2 .5 .2 .5-.6 .5-.4 .5-.1 .5 .5 .5 .2 .5-.7 .5 .6 .5-.7 .5 .4 .5-.4 .5-.5 .5 .7 .5 1 .5-.4 .5 .4 .5-.4 .5 .1 .5-.8 .5 1.1 .5-1.1 .5 1 .5 .4 .5-.5 .5-.9 .5 .9 .5-.8 .5 1 .5-.5 .5-.3 .5-.1 .5-.2 .5 0 .5-.3 .5-.8 .5-.8 .5 1.5 .5-.6 .5-.8 .5-.4 .5-1.9 .5 .4 .5 .5 .5-.7 .5 .3 .5 1.1 .5-.1 .5 .1 .5 .6 .5 .1 .5 .4 .5 .3 .5 .1 .5 .4 .5 .9 .5-.4 .5 .5 .5 .5 .5-.4 .5-1.4 .5 .9 .5 .5 .5 .4 .5-1.1 .5 1.8 .5-1.6 .5 .9 .5-.5 .5 .1 .5-.2 .5-.2 .5 0 .5 .6 .5-.6 .5 .5 .5-.4 .5 .9 .5-.8 .5 1.2 .5-.8 .5-1.1 .5 .9 .5 .1 .5 .1 .5-.2 .5 .6 .5-.5 .5 .3 .5-.5 .5-.1 .5 .1 .5-.1 .5 .1 .5 .2 .5-.4 .5 .7 .5 .4 .5-.1 .5-.7 .5-.8 .5 1.1 .5 0 .5 .1 .5-.6 .5 .1 .5 .4 .5-.9 .5 .2 .5 .1 .5 .2 .5 .1 .5 .3 .5-.5 .5-.1 .5 .3 .5 0 .5-.2 .5 .4 .5-.7 .5 .7 .5 .1 .5-.2 .5 .2 .5 0 .5 .7 .5-.7 .5-1 .5 .5 .5-.1 .5 .7 .5-.6 .5-.5 .5 .9 .5-.8 .5 .3 .5 .2 .5 .4 .5-.3 .5-.2 .5 .6 .5-.4 1 0 2-.5 2-.2 2 .6 2 .9 2-.1 2-.9 2-.5 2 .9 2-.2 2-.5 2 .5 2 0 2 .5 2-.3 2 .4 2-.7 2 .5 2-.9 .5 .2 1 .7 .5 .2 .5-.8 1-.4 .5 1.1 .5-.8 1 .1 .5 .2 .5 .8 1-.8 .5 .4 .5-.4 1-.5 .5 .8 .5-.2 1-.2 .5-.3 .5 1 1-1.1 .5-.1 .5-.6 1-.8 .5-.9 .5 .3 1-.7 .5-.7 .5 .4 1-1.2 .5 2 .5-.3 1 .8 .5 .4 .5 .1 1 .9 .5 .5 .5-.4 1 .6 .5-.1 .5-.5 1 .5 .5 .4 .5 0 1-1 .5 .9 .5-.4 1-.1 .5 0 .5 .7 1-.9 .5 0 .5 1.3 1-1.2 .5 .4 .5 .3 1.5-.4 2 .5 2-.5 2 .4 2-.2 2 0 2-.3 2-.2 2 .3 2-.2 1.4 .1 .5 .1 .1-.5 .4-.1 .5 .3 .5 .2 .5-.3 .1 .2 .4 .2 .5 .1 .5-.2 .5 .3 .1-.2 .4-1.3 .5 .5 .5 .3 .5 .5 .1-.8 .4-.6 .5 .5 .5 .2 .5-.3 .1 .4 .4-.5 .5 .2 .5-.6 .5 .1 .1 .8 .4-.5 .5-.8 .5-.4 .5 1.1 .1-.7 .4 .3 .5-.6 .5 .6 .5-.4 .1-.6 .4 .2 .5-.4 .5 0 .5-.2 .1 .1 .4-.3 .5 .7 .5-1.6 .5-.3 .1-.8 .4 .4 .5 0 .5-1.2 .5-.2 .1 .2 .4-1.1 .5-1.3 .5-1.6 .5-1.9 .1-1 .4-2.3 .5-4.5 .5-5.8 .5-8.1 .1-1.7 .4-7.6 .5-10.6 .5-14.6 .5-15.1 .1-2.9 .4-13.6 .5-16.2 .5-12.9 .5-9 .1-2 .4-2.7 .5 4.2 .5 8.5 .5 14.9 .1 2.5 .4 13.1 .5 16.9 .5 14.6 .5 13.6 .1 2.7 .4 9.6 .5 8.4 .5 8 .5 5.4 .1 .5 .4 3.6 .5 2.7 .5 2.4 .5 1.9 .1 1.1 .4 .1 .5 1.6 .5 .8 .5 .4 .1-.1 .4 .2 .1 .7 .4 .4 .5-.1 .1-.5 .4 1 .1 .2 .4-.1 .1-.1 .4 .6 .5-.1 .1-.1 .4 .5 .1 .1 .4 .1 .1 .4 .4-.6 .5 0 .1 .5 .4 1.3 .1-1.6 .4 1 .1-.1 .4-1 .5 1.3 .1-.4 .4 .5 .1-.8 .4 .9 .1-.3 .4 .3 .5 .6 .1-.7 .4 0 .1 .8 .4-1.7 .1 1.3 .4-1 .5 1.1 .1-1.3 .4-.4 .1 1.3 .4-.8 .1 .5 .4-.4 .5-.3 .1 .5 .4-.2 .1-.7 .4 .7 .1 0 .4-.2 .5-.6 .1 .4 .4-.3 .1 0 .4-.4 .1-.2 .4-.8 .5 .6 .1-.8 .4-.6 .1-.5 .4 .5 .1 .6 .4-.2 .5-.6 .1 .6 .5 1.1 .5 .4 1 .2 .5 .5 .5 1.2 1 .3 .5-.7 .5-1.1 1 1.4 .5 .8 .5-.6 1 .6 .5-.2 .5 0 1-.1 .5 .2 .5 .1 1-.3 .5-.3 .5-.1 1 1 .5-.9 .5 .1 1 1.1 .5-.3 .5-1.2 1.5 .3 2 .1 2 .4 2 .9 2-.3 2-.1 2 0 2-.1 .5 .4 1-.8 .5 .9 .5-.1 1-.4 .5-.9 .5 1.2 1 .3 .5-.5 .5 .3 1 .8 .5-1 .5-.6 1 .7 .5-1 .5 .4 1-.5 .5 .4 .5-.1 1 .2 .5-.6 .5-.9 1-.4 .5 1.3 .5-.8 1-.7 .5-.2 .5-1.4 1 1.2 .5 .2 .5 .1 1 1.4 .5-.1 .5 .9 1-.2 .5-.3 .5 .5 1-.5 .5 2.3 .5-2.3 1 .3 .5 0 .5 1.3 1-1 .5 .2 .5-.4 1 .7 .5-.8 .5 .2 1 .6 .5-.3 .5 .7 1-.6 .5 .2 .5 0 1.5-.3 2 .1 2-.7 2 .9 1-.1 1 .7 1-.9 1-.4 1 .1 1 .6 1-.5 1 .1 1-.7 1 .3 1 0 1-.3 1 .1 1-.3 1-.3 1-1.5 1-.4 1 .1 1 .3 1 .3 1 1 1 .5 1 .5 1 .1 1 .2 1 .3 1 .3 1-.3 1 .3 1-.5 1 .8 1-1.4 1 .6 1 .4 1-1 1-.5 2 1.5 2 .1 2 .3 2 .3 2-.6 2-.8 2 .2 .5 .4 .5-.8 .5 .1 .5 0 .5 .2 .5-.4 .5 .2 .5 .8 .5 0 .5-.4 .5 .3 .5-.1 .5 .3 .5-.5 .5-.9 .5 1 .5-.7 .5 .2 .5-.3 .5-.2 .5 .8 .5-.7 .5 1.1 .5 .1 .5-1.2 .5 .3 .5 0 .5-1.1 .5 1.1 .5 .2 .5-.1 .5-.6 .5-.3 .5-.1 .5 0 .5 .1 .5-.7 .5 .3 .5-.3 .5-.6 .5 .6 .5 .3 .5-.7 .5-.3 .5-.5 .5-.4 .5-1.1 .5-.1 .5-1.4 .5-.9 .5-4 .5-2.1 .5-3.3 .5-4.1 .5-4.1 .5-5.6 .5-6.4 .5-6.6 .5-6 .5-5.2 .5-3.7 .5-.6 .5 1.9 .5 3.1 .5 5.4 .5 5.3 .5 5.8 .5 6.5 .5 5.6 .5 4.6 .5 4.9 .5 3 .5 2.4 .5 2.6 .5 .9 .5 1.8 .5 1 .5 .7 .5 .7 .5 .6 .5-.5 .5 .4 .5-.1 .5 .4 .5 .3 .5 .6 .5 .1 .5-.7 .5-.1 .5 .9 .5-.9 .5 .5 .5 1.1 .5-.6 .5-.5 .5 .4 .5-.1 .5 .5 .5-.8 .5 0 .5 .8 .5-.8 .5 .3 .5 1.3 .5-1.1 .5-.1 .5-.2 .5 .3 .5-.1 .5 .1 .5 .6 .5-.5 .5-.4 .5 .2 .5 .5 .5 .4 .5-.9 .5 .7 .5 .1 .5 .2 .5-.7 .5 0 .5 .4 .5-.8 .5 .7 1 .3 .5-.8 .5 1 1-1.3 .5 1.2 .5-.8 1-.5 .5 .2 .5-.1 1 .6 .5-1 .5 .4 1-1.2 .5 .4 .5-.5 1 .1 .5-.9 .5 .5 1 .1 .5 .5 .5-.2 .1-.4 .5 .3 .4 .2 .1 .8 .4-.6 .1-.3 .4 .8 .1 .1 .5-.1 .4 1.2 .1-1.3 .4 .2 .1-.4 .4 1.5 .1 .5 .5-1.4 .4 .4 .1 .7 .4-.2 .1-.5 .4 .1 .1-1.4 .5 2.7 .4-1 .1 .2 .4-.2 .1 .6 .4-1.2 .1 .5 .5-.1 .4-.2 .1 1.2 .4-1.2 .1 .5 .4 .4 .1-.4 .5-.1 .4-.6 .1 .8 .4-.3 .1 .1 .4-.3 .1-.2 .5 .7 .4-.4 .1 .5 .4-.4 .1-.3 .4 .4 .1-.7 .5 1 .4-.6 .1-.2 .4 .2 .1 .5 .4-1 .1 1.1 .5-1.2 .5-.2 .4 .4 .1-.5 .5 .4 .5 .1 .5 0 .4-.9 .1 1.2 .5-.6 .5-.2 .5-.4 .4 .5 .1-.7 .5-.4 .5-.5 .5-.5 .4 .3 .1-.6 .5 .3 .5-1.4 .5-1.8 .4-1.2 .1 .2 .5-2.1 .5-3 .5-3 .4-3.9 .1-.4 .5-5 .5-3.8 .5-5.7 .4-3.1 .1-1.8 .5-4.4 .5-2.1 .5-1.3 .4 1.2 .1 .5 .5 2.1 .5 4.9 .5 5 .4 3 .1 1.1 .4 3.7 .1 .8 .5 4.7 .4 3.6 .1 .6 .4 3.3 .1 0 .4 2.5 .1 0 .5 2.4 .4 .9 .1 .2 .4 .4 .1 1 .4 .4 .1 1.6 .5 0 .4-.1 .1 1 .4 .8 .1-1 .4 0 .1 .7 .5 .7 .4-.5 .1-.1 .4 0 .1 .4 .4 .1 .1-.2 .5-.1 .4 .8 .1-.8 .4 .4 .1 .4 .4-.7 .1 .8 .5 .1 .4-.3 .1 0 .4-.5 .1 .4 .4-.7 .1 .5 .5 .1 .4-.2 .1 .7 .4-.2 .1-.4 .4 .4 .1-1.4 .5 .2 .4 .2 .1-.1 .4-1 .1 1.2 .4-.9 .1-.2 .5-.1 .4 .5 .1-.8 .4-.6 .1 .1 .4 .9 .1-.5 .5 .5 .4-.7 .1 .1 .4 .6 .1-.5 .4-.1 .1 1.5 .5 .3 .4-.1 .1-.1 .4 .9 .1 .2 .4 0 .1 .3 .5-.6 .4 .5 .1-.6 .4-.4 .1 .7 .4 .5 .1 .2 .5-.1 .4 0 .1-.5 .4-.7 .1 .7 .4 1 .1 0 .5-.9 .4 1 .1-.7 .4 .6 .1-.6 .4 .8 .1-.3 .9 0 .5 .3 .5-.6 1 .3 .5 .2 .5-.6 1 .6 .5-.2 .5 0 1-.3 .5 .4 .5 0 1.5-.5 2 .7 2-.9 2 .1 2 .6 2-.6 2 .2 2-.1 2 1 2-1 2-.1 2 0 2 1.2 2-.5 2-.1 2 .6 2-.7 2-.8 2 .8 2-.1 2 1.1 2-.9 2-.3 1.5-.1 .5 .1 .5-.7 1 .6 .5 0 .5-.6 1 .8 .5 .1 .5-.4 1 .5 .5-.1 .5-.3 1 .5 .5-1.4 .5 1.9 1-.8 .5 .5 .5 0 1-1.8 .5 1.3 .5-.4 1-.7 .5 0 .5-.4 1-1.1 .5 .7 .5-.8 1 .7 .5-.8 .5-.8 1 2.6 .5-1.1 .5 .2 1 1 .5-.6 .5 2.2 1-.4 .5-.6 .5 1.1 1-1.3 .5 .5 .5-.1 1 .2 .5-.4 .5 .7 1-.8 .5 .8 .5 .1 1-.7 .5-.2 .5 .9 1-1.9 .5 1.4 .5-.3 1 .9 .5-.8 .5 0 1-.4 .5-.1 .5 1.2 1-.7 .5 .4 .5-.1 1 .4 .5-.7 .5 .1 1 .6 .5-1.1 .5 1 1 .2 .5-.3 .5-.3 1 .2 .5-.1 .5 .1 1-.4 .5 .2 .5-1.1 1-.6 .5-.5 .5 .7 1-.9 .5-1.3 .5 .8 1-.1 .5 .4 .5 1.1 1 .5 .5-.1 .5-.2 1 1 .5 .7 .5-.8 1 1.4 .5-1.8 .5 1.4 1-1.1 .5 .3 .5-.3 1 1.1 .5 0 .5-1.1 1 .5 .5 0 .5 .1 1 .3 .5 .2 .5-.6 1-.4 .5 1.1 .5-.2 1.5-.5 2 .8 2-.3 2-.2 2 .3 2 .1 2-.7 2-.3 2 .6 2 .1 2-.3 2-.3 2-.2 2 .5 2 .4 2-.6 2 .7 2-.1 2-.7 2 .3 2 .1 2 0 2 .1 2 0 2 .9 2-.8 2-.4 2-.5 2 .7 2-.6 2 .7 2 .4 2-.5 2 .2 1.7-.9 .3 .7 .2-.9 .5 .9 .5-.4 .5 1 .3-.9 .2-.3 .5 .3 .5 .1 .5-.1 .3 .6 .2-.9 .5 .4 .5-.6 .5 .3 .3 .2 .2-.5 .5 .8 .5-.4 .5 .1 .3-.2 .2 .4 .5 0 .5-.2 .5-.3 .3-.2 .2 .6 .5-.1 .5-.8 .5 1 .3 .4 .2-.3 .5-.4 .5-.4 .5 .4 .3-.4 .2 1.4 .5-1.5 .5 .5 .5 0 .3 .3 .2-.1 .5-.7 .5 .7 .5-.8 .3 .2 .2 1.1 .5-.5 .5-.3 .5-.3 .3-.2 .2 .3 .5 .2 .5-.7 .5 .4 .3 .7 .2-.6 .5 0 .5 .2 .5-.8 .3-.1 .2 1.3 .5-2 .5 1.4 .5-.7 .3 0 .2 .3 .5-.7 .5-.5 .5-.2 .3-.5 .2 .2 .5-.5 .5-1.7 .5-1.5 .3-.6 .2 .5 .5-2.3 .5-1.8 .5-1.9 .3-.8 .2-.5 .5-2.5 .5-1.4 .5-2.3 .3-.3 .2-.8 .5 .1 .5 .8 .5 1.2 .3 .1 .2 .8 .5 2 .5 1.4 .5 2.6 .3 1.2 .2 .5 .5 1.9 .5 1.9 .5 .1 .3 .7 .2 1.3 .5-.1 .5 .9 .5 1.7 .3 .5 .2-.9 .5-.2 .5 .9 .5-.1 .3 .9 .2 .1 .5 .3 .5-.4 .5 .7 .3-.3 .2-.2 .5-.1 .5 0 .5-.5 .3 .5 .2 .7 .5-.7 .5 .6 .5 0 .3 .2 .2-.3 .5 .2 .5-1.2 .5 1.3 .3-.4 .2 .3 .5-.1 .5 .2 .5 0 .3-.2 .2 .2 .5 .2 .5-.4 .5 .5 .3-.5 .2-.2 .5 0 .5 .3 .5 0 .3 0 .2-1.2 .5 1.1 .5-.4 .5 1.1 .3-.9 .2 .8 .5-.3 .5 .1 .5 .3 .3-.5 .2-.5 .5 .4 .5 .6 .5-1.2 .3 .3 .2 .4 .5-.6 .5 .3 .5 .4 .3-.4 .2 .9 .5-1 .5 0 .5 .3 .3-.9 .2 1.7 .5-1.3 .5 .2 .5 .3 .3-.6 2 .9 2 0 2-.1 2-1.1 2 1.5 2-.6 2 .2 2-.1 2 .7 2-1.5 2 1.5 2-.6 2-.8 2 1.3 2-1.1 2 .5 2-.2 2 .7 2-1.3 2 .8 2 .4 1.1-.7 .9-.5 .1 .8 1-.4 .9 .9 .1-.8 1 .4 .9-.5 .1 0 1-.5 .9 .7 .1 .3 1 .2 .9-.7 .1 .6 1 .4 .9-1.1 .1 .2 1 0 .9 0 .1-.4 1-.1 .9-.2 .1-.8 1-.3 .9-1 .1 .3 1-.5 .4 .1 .5 1.4 .1-.3 .4 .2 .6 .4 .4 .3 .5-.4 .1 0 .4-.1 .6 .7 .4-.1 .5-.2 .1 1.5 .4-.6 .6-.4 .4 .2 .5 .1 .1-.7 .4 .5 .6 .1 .4 .1 .5 .1 .1 .5 .4-.3 .6 0 .4-.1 .5 .1 .1 1 .4-.5 .6-.2 .4-.6 .5 0 .1-.7 .4 .9 .6-1.7 .4 1.7 .5-.9 .1-.6 .4 .8 .6-.9 .4-.7 .5 .1 .1-.5 .4 0 .6 .3 .4 .2 .5-1.2 .5 1 1 .9 .5 .6 .5 .1 1 .3 .5-.2 .5-.7 1 1.8 .5-.2 .5-.2 1 1 .5-.9 .5-.4 1 .9 .5-.9 .5 .8 1-.7 .5 .4 .5-.1 1-.1 .5-.2 .5-.4 1 1 .5-.4 .5 .7 1 .5 .5-.9 2-1.1 2 1 2 .7 2 0 2-.3 2-.3 2-.4 2 .4 2 .1 2 .3 2 .2 2-.8 2 0 2-.4 2 1 2-.3 2-.1 2 .5 2 0 2-.2 2-.2 2-1.3 2 1 2-.2 2 .1 2 .9 2-.9 2 .5 2 .3 2 0 2-.8 2 0 2-.1 2 .4 2-.3 2 .1 2 0 2-.3 2 .9 2-.9 2 .5 2-.1 2 .1 2 .4 2-.3 2 .4 2-.8 2 .2 2 .3 .5-.8 .5-.5 .5-.1 .5 1 .5-.1 .5 .5 .5 0 .5-1.5 .5 1 .5-.2 .5 .7 .5-.5 .5 0 .5 .2 .5 0 .5 .9 .5-.7 .5-.1 .5-.2 .5-.4 .5-.2 .5 .2 .5 .2 .5-.2 .5 0 .5 .4 .5-1.7 .5 1.2 .5 .4 .5-.8 .5 1.1 .5-.5 .5-.5 .5 .9 .5-.2 .5-.6 .5 1.1 .5-.6 .5-.6 .5 1 .5-.4 .5 .1 .5-.2 .5 .3 .5-.3 .5-.7 .5 .8 .5-.4 .5-.7 .5 1.2 .5-.3 .5-.3 .5-.2 .5-.8 .5 .2 .5 .8 .5-.8 .5 .3 .5-.3 .5-1 .5-.2 .5-1.5 .5 0 .5-1.9 .5-.5 .5-1.9 .5-2.5 .5-.7 .5-2.5 .5-1.9 .5-2.1 .5-2.7 .5-2 .5-2 .5-.3 .5-.5 .5-.3 .5 1.3 .5 1.2 .5 2.7 .5 1.8 .5 2 .5 2.8 .5 1.7 .5 2.5 .5 1.8 .5 2.5 .5-.2 .5 1.1 .5 .6 .5 1.1 .5-.3 .5 .9 .5 .7 .5 .5 .5-.5 .5 .5 .5-.8 .5 .8 .5 .6 .5-.3 .5 .9 .5-.4 .5-.4 .5 .2 .5 0 .5 0 .5 1 .5-.6 .5 1.2 .5-1.4 .5 .8 .5-1 .5-.1 .5 .6 .5-.5 .5 .4 .5-.7 .5 1.4 .5-.6 .5 1.1 .5-1.3 .5 .4 .5-.3 .5 .2 .5-.2 .5-.2 .5 .9 .5-.3 .5-.1 .5 .8 .5-.1 .5-.3 .5 0 .5-.4 .5-.2 .5 .5 .5-.5 .5 .5 .5 .1 .5-.6 .5 1.1 .5-.5 .5-.2 .5 .3 .5-1.6 .5 1.1 .5 0 .5 .3 .5-.4 .5 0 .5 .6 2-.9 2 1 2-.6 2 .7 2-.3 2-.5 2 .1 2 .1 2-.2 2 .3 2-.1 2 0 2 .3 2-.2 2 .1 2-.2 2-.1 2-.2 2-.1 2 1.1 2 .2 2-.3 2-.1 .5-.6 .5 .5 .5-.4 .5 .2 .5-.4 .5 .7 .5-.5 .5 .3 .5 .1 .5-1.2 .5 .5 .5 0 .5 .9 .5-1 .5-.3 .5-.1 .5 1.4 .5-.4 .5-.3 .5 .1 .5 .1 .5 .1 .5-1.2 .5 1 .5 .1 .5-.1 .5-.7 .5 1 .5-.1 .5-.6 .5 .6 .5-.3 .5-.5 .5 .8 .5-.9 .5 .7 .5 0 .5-.5 .5 .6 .5 .5 .5-.7 .5 .1 .5-.4 .5 .3 .5 .2 .5-.7 .5 .8 .5-.2 .5 0 .5-.8 .5 .8 .5-.6 .5 .5 .5-.2 .5 .3 .5 0 .5 .5 .5-1.1 .5 1 .5-.7 .5-.4 .5 .1 .5-1 .5 1 .5-1.2 .5-.2 .5-.7 .5 .6 .5-1.1 .5-.1 .5-.9 .5 .7 .5-.3 .5-.4 .5-.5 .5-.1 .5 .5 .5 .1 .5 .7 .5 0 .5 .1 .5 1 .5 1.4 .5-.3 .5-.6 .5 .8 .5-.1 .5 .3 .5 0 .5 .1 .5-.1 .5 .1 .5 .3 .5 .3 .5-.6 .5 1.3 .5-.9 .5 0 .5 .5 .5 .1 .5-.6 .5-.1 .5 1.2 .5-.7 .5-.5 .5 .8 .5-.7 .5 .7 .5-.2 .5 .1 .5-.5 .5-.5 .5 1.2 .5-.1 .5-.4 .5-.1 .5 1.1 .5-1.5 .5 .5 .5 0 .5 0 .5 .6 .5-1.3 .5 .6 .5 .5 .5-.1 .5-.2 .5 1 .5-.7 .5-.4 .5-.2 .5 .4 .5 .2 .5-.2 .5 .2 .5-.2 .5-.2 .5-.5 .5 .7 .5 0 .5-.5 .5 .7 .5-.5 .5 .3 .5 0 .5 .4 .5-.5 .5 .2 .5 .4 .5-.2 1-.2 2 .6 2-.8 2-.1 2-.1 2 .4 2-.4 2 .2 2-.4 2 .8 2 0 2-.6 2 .7 2-.5 2 .2 2-.3 2 .5 2 .3 2-.6 2 .8 2-.7 2 .7 2-.9 2-.3 2 .7 2-.3 2 .4 2-.5 2 .2 2-.1 2-.2 2-.1 2-.2 2 .4 2 .4 2-.4 2 .1 2-.1 2-.1 2-.7 2 1.2 2-.1 2-.5 2 0 2-.3 2 .9 2-.1 2-.5 2 .4 2 .7 2-.4 2 .1 2-1.1 2 .4 2 .7 2-.6 2 0 2 1.2 2-1.1 2 0 2 .5 2-.6 2 .1 2-.2 2-.5 2 1 2-.8 2-.2 2 .6 1 .3 .5 .2 .5 .5 .5-.7 .5-.8 .5 1.3 .5-.4 .5-.6 .5-.9 .5 1.2 .5-.6 .5 .6 .5-.1 .5-.2 .5 .1 .5 .1 .5-.3 .5 .3 .5-.2 .5-.2 .5 .2 .5 .6 .5-.2 .5 .1 .5 .3 .5-1 .5 0 .5-.2 .5 .5 .5-.5 .5 .2 .5 .4 .5 .1 .5 .7 .5-1 .5-.1 .5 0 .5 .7 .5 0 .5-1 .5 .2 .5-.2 .5 .6 .5-.1 .5-.7 .5 .5 .5 .8 .5-.8 .5 .3 .5-.4 .5 .6 .5-.6 .5 .6 .5-.7 .5 .4 .5 .6 .5-.6 .5-.3 .5 .1 .5-.8 .5 .8 .5 .3 .5 .3 .5-1.9 .5 1.1 .5-.6 .5 0 .5-.1 .5 0 .5-.6 .5-.2 .5-.7 .5 .4 .5-1.1 .5-.6 .5 .1 .5-1.3 .5-.6 .5 .6 .5-.8 .5 .2 .5-.1 .5 .6 .5 0 .5 .7 .5 1.1 .5-.1 .5 .3 .5 .8 .5 0 .5 .3 .5 .4 .5-.6 .5 .5 .5 1.5 .5-.9 .5 .3 .5 .1 .5-.1 .5-.3 .5 .5 .5 .6 .5-.2 .5 .8 .5-1.7 .5 1.7 .5-.6 .5-1 .5 .7 .5 .5 .5-.1 .5 0 .5 .2 .5-.7 .5 .7 .5-.5 .1-.2 .4 .3 .1 .7 .4-.1 .1 0 .4-.3 .1-.5 .4-.9 .1 1.1 .4 .5 .1-1.3 .4 .8 .1 .6 .4-.4 .1 .2 .4 .5 .1-.3 .4-.2 .1-.8 .4 1.5 .1-.8 .4-.4 .1 .8 .4 .1 .1-.9 .4 .5 .1-.4 .4-.4 .1 .2 .4-.4 .1 .5 .4 .4 .1-.8 .4 1.2 .1-.1 .4-.9 .1-.3 .4 .4 .1-.5 .4 .1 .1 1 .4 .7 .1-1.3 .4 .2 .1 .5 .4-.8 .1 .5 .4 .3 .1-.7 .4 .5 .1 0 .4 .6 .1-1 .4-.1 .1 .6 .4-1.2 .1 .1 .4 .7 .1 .5 .4-.6 .1 .7 .4 .3 .1-.5 .4-.9 .1 1.1 .4-.5 .1-.1 .4-.3 .1 .4 .4-1 .1 1.5 .4-.8 .1 .2 .4 .3 .1-.1 .4 .2 .1-.2 .4-.3 .1 1 .4-.9 .1 .6 .4-.4 .1-.3 .4 .3 .1-.6 .4 .7 .1-.2 .4-.1 .1-.6 .4 1 .1-.5 .5 .2 .4-.3 .1-.1 .5 0 .5-1 .5 1 .4 0 .1-.1 .5 .6 .5-1.1 .5 .6 .4-.4 .1 .3 .5 .1 .5-.4 .5-.4 .4 0 .1 .1 .5 .1 .5-.1 .5-1.1 .4 .3 .1-.6 .5-.6 .5-.1 .5-1.7 .4 0 .1 0 .5-1.5 .5 .1 .5-1.9 .4-1.5 .1-.8 .5-1.1 .5-2.4 .5-1.6 .4-2 .1-.5 .5-1.4 .5-1.8 .5-1.5 .4-.6 .1-.7 .5-.1 .5 .4 .5 1.1 .4 1.3 .1-.3 .5 2.5 .5 1.8 .5 1.7 .4 1.5 .1 1 .5 1.6 .5 1.4 .5 2.1 .4 1.1 .1 0 .5 1.4 .5 .9 .5 .6 .4 .3 .1 1.3 .5 .1 .5 .1 .5 .7 .4-.1 .1 .1 .5-.7 .5 1.3 .5 .7 .4-.5 .1-1.1 .5 1.1 .5 .1 .5 .1 .4 .2 .1-.2 .5-.2 .5 .1 .5 .3 .4-.2 .1-.3 .5 .3 .5 .1 .5 1 .4-1.7 .1 .7 .5-.2 .5 .3 .5-.3 .4 1.3 .1-.6 .5-.4 .5 .4 .5 .3 .4-.3 .1-.2 .5 0 .5 .1 .5-.2 .4-.3 .1 .2 .5 .3 .5 .2 .5-.2 .4 .5 .1 0 .5-.2 .5-.4 .5 .3 .4-.2 .1 .9 .5-.8 .5-.3 .5 1.6 .4-1.1 .1-.2 .5-.1 .5 .2 .5 .7 .4-.4 .1 .1 .5-.9 .5 .9 .5-.2 .4-1 .1 .6 .5 0 .5-.6 .5 .3 .4 .5 .1 .6 .5 .1 .5-1.8 .5 .8 .4 .9 .1-.6 .5 .4 .5-1 .5 .9 .4-.2 .1 .1 .5-.1 1.4-.1 2 .3 2 .6 1.5-.6"/>
</g>
<g fill="none" stroke-width="7.0" stroke-linejoin="round" stroke-linecap="butt">
<path stroke="#7C4A4A" d="M187.5 3463.9l 2 1.3 2-1.1 2 .6 2-.2 2 .1 2-.9 2 1.5 2-.6 2-.6 2 1.2 2-.7 2-.3 2-.1 2 1 2-.3 2-.4 2 .3 2-1.1 2 1.3 2-.4 2-.2 2 0 2 .7 2-1.8 2 2 2-.1 2-.9 2 .7 2-1.2 2 .3 2-.1 2 1 2-.9 2 .2 2-.1 2 .9 2-1.4 2 .6 2 .7 2 .1 2-.7 2 .2 2 .6 2-.8 2 .7 2 .4 2-1.1 2 0 2-.7 2 1.1 2 .2 2-.1 2-1.1 2 1.4 2 .2 2-.7 2-.5 2-.1 2 .5 2-.7 2 .1 2 .4 2-.3 2 0 2-.1 2 1 2-1 2 .6 2-.2 2 .3 2-.3 2 .1 2 0 2 0 2 .4 2 .1 2-.7 2 .5 2-1.4 2 1.2 2 0 2-.1 2-.3 2 .7 2-.5 2-.3 2 .9 2 0 2-1.1 2 .6 2-.4 2 1.3 2-.4 2 0 2-.9 2 1.1 2-.7 2 .2 2 .1 2 0 2-.4 2 .5 2-.4 2 .5 2-1 2 .3 2 .6 2-.7 2 .8 2 .1 2-.2 2-.5 2 .5 2-.1 2 0 2-.9 2 .4 2 1.7 2-1.6 2-.1 2-.1 2 .7 2-.5 2 .4 2 0 2 .1 2-.1 2-1.1 2 1.1 2 0 2 .2 2-.1 2-.6 2 .4 2-.7 2 1.4 2-.6 2-.1 2 0 2-.4 2-.1 2 .6 2 0 2-.6 2-.1 2 .3 2 .1 2 .8 2-.1 2-.8 2 .1 2 .2 2 .8 2-1.3 2 .6 2 .1 2 .6 2-.9 2 .2 2-.5 2 .5 2-.4 2 .1 2-.3 2 .3 2 1.1 2-1.6 2 .4 2 .7 2-.9 2-.3 2 .7 2 .9 2-.7 2 .1 2-.6 2 .3 2-.8 2 1.5 2-.8 2 .1 2-.3 2 .5 2 .7 2-1.2 2 1.3 2-1.3 2-.3 2 .6 2-.4 2 1.3 2-1.3 2 .3 2-.5 2-.1 2 1.4 2-.4 2-.6 2 .5 2 .3 2-.3 2-.5 2 .5 2 0 2-1.1 2 1 2-.4 2 .5 2-.6 2 .2 2 .2 2 .1 2-.1 2 .4 2-.8 2-.1 2 1.1 2-.4 2-.4 2-.3 2 .7 2-.1 2 .1 2-.7 2 .5 2 0 2-.2 2-.2 2 .1 2-.5 2 .8 2-.2 2 0 2-.4 2 .7 2 .3 2-.9 2 .7 2-.6 2 .5 2-.8 2 .8 2 .1 2 .5 2-.8 2-.5 2 .6 2-.1 2 .1 2 .5 2-1.4 2 1.4 2-.6 2-.4 2-.2 2 .4 2 .8 2-.2 2-.7 2 .5 2 1.1 2-1.6 2 .4 2-.1 2 .3 2 .2 2-1 2 .7 1 .5 .5-.6 .5 .1 .5-.2 .5-.4 .5 .6 .5-.9 .5 0 .5 .2 .5-.1 .5 .1 .5-.2 .5 .5 .5 .3 .5-.6 .5 .4 .5 .1 .5-.5 .5 .1 .5 .1 .5 .7 .5-1.3 .5 1.4 .5-1.1 .5 .1 .5 0 .5-.9 .5 1 .5 .3 .5-.7 .5 .3 .5-.5 .5-.2 .5-.7 .5 .6 .5-.4 .5 0 .5-.1 .5 .7 .5-1.6 .5-.1 .5-1.2 .5 2 .5-2.7 .5-.2 .5-2.5 .5-1.1 .5-3.9 .5-4.2 .5-3.8 .5-5.9 .5-4.4 .5-6.2 .5-3.4 .5-4.3 .5-.8 .5 .7 .5 3.1 .5 6 .5 4.8 .5 5.5 .5 5.4 .5 3.9 .5 3.4 .5 3.2 .5 2.1 .5 1.6 .5 1.1 .5 1.2 .5 .2 .5 .3 .5 .7 .5-.1 .5-.5 .5 1.1 .5 .4 .5 .1 .5-.7 .5 .6 .5-.3 .5 1 .5-.3 .5-.7 .5 .3 .5 .1 .5 .3 .5 1.3 .5-1.1 .5 0 .5 .5 .5-1.1 .5 .8 .5 .3 .5 .8 .5-.9 .5 .5 .5-.9 .5 0 .5 .3 .5-.5 .5 .9 .5-.4 .5 0 .5 .5 .5-1.2 .5 .9 .5-.3 .5-.4 .5 1.8 .5-1.3 .5-.1 2 .8 2-1 2 1.2 2-.5 2-.5 2 .7 2-.6 2 .1 2 0 2 .4 2-.1 2 .1 2-.4 2-.3 2 .1 2 .5 2 0 2 .1 2-.5 2 0 2 .3 2-.1 2-.4 2 .7 2-.6 2 0 2 1.1 2-.3 2-1 2 .6 2 .2 2-.1 2 .6 2-.3 2-.6 2-.6 2 .8 2 1.1 2 0 2-1.5 2 .6 2-.6 2 1.3 2-.7 2 0 2 .4 2-1.2 2 .5 2 .8 2-1 2 .3 2 .5 2 .3 2-1.2 2 .3 2 .7 2-.4 2-.5 2-.4 2 0 2 1.8 2-.7 2-.8 2 1 2-1.3 2 .5 2 .8 2 0 2-.9 2 .7 2-.4 2-.1 2 0 2-.2 2-.1 2 .5 2-.5 2 .9 2-.3 2 .7 2-.8 2 .3 2-.3 2 1 2-.9 2-.4 2 .5 2 .4 2-.2 2-.4 2 .4 2-.5 2 .5 2 0 2 0 2 .2 2-.5 2-.2 2-.4 2 .2 2 .5 2 .4 2-.5 2-.4 2 .2 2 .8 2-.3 2-.1 2 .2 2-.4 2-.2 2 0 2-.2 2-.3 2 .2 2 0 2 .9 2-1.3 2 .5 2-.2 2 .1 2-.2 .5-.6 .5 .3 .5 .2 .5 1.2 .5-1.2 .5 .2 .5-.2 .5-.1 .5-.7 .5 .2 .5 0 .5 .2 .5 .5 .5-.6 .5 .3 .5-.1 .5-.2 .5-.6 .5-.1 .5 .8 .5-.6 .5-.5 .5 .2 .5-.2 .5-.1 .5 .2 .5-.5 .5 0 .5 .3 .5 0 .5-1.5 .5 .7 .5-.3 .5-1.4 .5 .5 .5-1.3 .5-.3 .5-.9 .5-.9 .5-.5 .5-1.8 .5-1.7 .5-3.4 .5-3.5 .5-6.4 .5-6.5 .5-10.3 .5-12.7 .5-14.9 .5-17 .5-17.7 .5-17.8 .5-16.8 .5-11.8 .5-3.7 .5 3.6 .5 12 .5 16.1 .5 18.1 .5 18.7 .5 16.9 .5 15.1 .5 12.1 .5 10.2 .5 6.5 .5 5.6 .5 4.3 .5 2.4 .5 1.6 .5 2.3 .5 1.2 .5 1 .5 .5 .5 .8 .5 .7 .5-.3 .5 .7 .5-.1 .5 1.2 .5-.2 .5-.1 .5 1.1 .5-.7 .5 .3 .5-.1 .5-.5 .5 1.4 .5 .2 .5-.6 .5 .4 .5 .8 .5-.3 .5 0 .5 .1 .5 .4 .5-.1 .5-.1 .5-.9 .5 1.4 .5 .3 .5-.8 .5 .7 .5 0 .5-.7 .5 .8 .5-.7 .5 .6 .5-.7 .5 .1 .5-.4 1 .7 2 .3 2-1.2 2 .4 2 .9 2 .5 2-.1 2-.7 2 .3 2 .3 2 .1 2-1.2 2 1.1 2-.7 2 .4 2 .3 2 .4 2-.2 2-.8 2-.4 .5 1.4 1-.1 .5-.5 .5-.2 1-.4 .5 .5 .5 .1 1-.1 .5 .8 .5-.5 1 .3 .5-.9 .5 1.1 1-.6 .5 .2 .5-.7 1 .5 .5 .3 .5-.7 1 .2 .5-.3 .5 .5 1-.5 .5-.3 .5 .4 1-.5 .5-.3 .5-.4 1-.7 .5 0 .5-.4 1-.9 .5-.5 .5 1.2 1 .9 .5-.4 .5 1.1 1 .7 .5-1.4 .5 .6 1 .8 .5 .4 .5-.3 1 .6 .5-.2 .5 .3 1-.6 .5 .5 .5-.5 1 .2 .5 .6 .5-.2 1-.5 .5 .7 .5-.7 1 .7 .5 .2 .5-1.4 1 1.5 .5-1.5 .5 1 1-.1 .5 0 .5-.1 1.5 .2 2 .7 2-1.4 2 .2 2 0 2 .9 2-.6 2 .2 2 .3 2-.9 2 .4 2 .3 2-.6 2 0 2 .1 2-.4 2 .7 .5-.3 1-.1 .5 .5 .5-.6 1 .6 .5-.5 .5 .3 1-.5 .5 .3 .5 .3 1-1 .5 .4 .5 .1 1 .7 .5-.8 .5 .4 1-.3 .5-.9 .5 .9 .5-.4 .5 .2 .5-1 .5-.2 .5 .5 .5 .3 .5 .2 .5-.4 .5-1.4 .5 .2 .5-.1 .5 0 .5-.9 .5-.2 .5-.4 .5-.5 .5 .2 .5 0 .5 .2 .5-.1 .5 .2 .5 0 .5-.7 .5 1.2 .5 .4 .5 .2 .5 .8 .5-.6 .5 .7 .5 .3 .5 .4 .5-1.1 .5 .1 .5 .3 .5-.7 .5 .2 .5 .2 .5-.4 .5-.4 .5-.3 .5 .3 .5-.4 .5-1 .5-.8 .5-.9 .5-1.4 .5-1.9 .5-1.2 .5-3.3 .5-3.8 .5-4.9 .5-4.7 .5-7.3 .5-7.9 .5-8.2 .5-9.1 .5-8.2 .5-7.1 .5-4.8 .5-2 .5 2 .5 4.7 .5 6.5 .5 8.5 .5 8.9 .5 8.7 .5 7.7 .5 6.8 .5 5.8 .5 4.9 .5 3.4 .5 3.6 .5 1.3 .5 2.3 .5 .8 .5 .7 .5 .7 .5 1 .5 .1 .5 1.2 .5 .5 .5-1.6 .5 1.2 .5 0 .5 .1 .5-.5 .5 1.3 .5-1.1 .5 0 .5 .6 .5 .1 .5 .5 .5 .1 .5 0 .5 .6 .5 .1 .5 .5 .5-1.1 .5 .1 .5 .7 .5-.4 .5 .1 .5-.5 .5 .1 .5 .8 .5-.4 .5 .3 .5-.5 .5-.3 .5 .2 .5 .6 .5-.1 .5 .2 .5-.3 .5-.3 .5 .1 .5-.2 .5 .2 .5 .3 .5 1 .5-1.6 .5 .1 .5-.1 2 .2 2 .2 2-.1 2 .5 2-.6 2 .9 2-.6 1.5 .2 .5-.4 .5-.7 .5 .6 .5 .6 .5-.2 .5-.7 .5 1.3 .5-.5 .5-.5 .5 1.5 .5-1 .5-.3 .5 0 .5-.2 .5 1 .5-.7 .5-.3 .5 .4 .5-1.2 .5 1 .5-.3 .5 .6 .5-.5 .5 .1 .5-.3 .5 .5 .5-.7 .5 .8 .5-.7 .5 .8 .5-1.4 .5 .6 .5-.2 .5-.8 .5 .4 .5-.2 .5 .2 .5-.2 .5 0 .5-.2 .5-.6 .5-.1 .5-.1 .5 .4 .5-1.2 .5-1.2 .5-.4 .5-.5 .5-1.2 .5-2.2 .5-2.1 .5-3.2 .5-4.5 .5-4.8 .5-5.4 .5-7.3 .5-6.9 .5-7.2 .5-7 .5-6.1 .5-5.3 .5-1 .5 2 .5 4 .5 5.9 .5 7.1 .5 7.8 .5 6.7 .5 7.1 .5 6.7 .5 4.7 .5 3.1 .5 3.4 .5 2.4 .5 .9 .5 2.1 .5 .4 .5 1.2 .5 .1 .5 .8 .5 .2 .5-.2 .5 1.6 .5-.3 .5 .7 .5-.5 .5 .3 .5 .2 .5-.2 .5 0 .5-.1 .5 .9 .5-.3 .5 .9 .5-.5 .5 .1 .5-.2 .5-.4 .5 .8 .5 1.3 .5-1.1 .5 0 .5-.2 .5-.4 .5-.1 .5 1 .5 .3 .5-.5 .5 0 .5 .4 .5-.9 .5-.3 .5 1.1 .5 .1 .5-.7 .5 .9 .5-.5 .5 0 .5-.3 .5-.5 .5 1.1 .5 0 .5-1.2 .5 .1 .5 .4 2 .7 2 .6 2-.2 2-.2 2-1.4 2 1.6 2 .1 2-.3 2-.2 2 .1 2-.2 2-.2 2 .4 2 .3 2-.5 2 .1 2 .1 2 .5 2-1.1 2 1.2 2-1.1 2 .1 2 .4 2-.6 2 1.1 2-.2 2-.1 2-.4 2 .4 2-1.5 2 .5 2-.1 2 .5 2 .2 2 .6 2-.6 2-.3 2 0 2 .3 2-.1 2-.4 2 .6 2-.7 2-.2 2 1.1 2-.3 2 .2 2-.2 2 .4 2-1.2 2 1 2-.3 2 .1 2 .8 2 .4 2-1.4 2 .5 2 0 2-.2 2 .3 2 .5 2-1.1 2 1 2-.5 2-1 2 1.1 2 0 2-1 2 .6 2 .1 2 .6 2-.7 2-.2 2 .3 2 0 2-.8 2 .5 2-.5 2 1.6 2-.5 2-.2 2-.8 2-.4 2 .4 2 1.2 2-.3 2-.2 2-.3 2 .4 2-.3 2-.1 2 .9 2-.4 2-.7 2 .4 2-.2 2 0 1.5-.6 .5 .4 .5 .1 .5-.3 .5 .1 .5 .4 .5 .5 .5-.5 .5 .3 .5-.1 .5-.9 .5 .5 .5 .2 .5-.4 .5 .8 .5-.2 .5-.4 .5-.7 .5 .6 .5 .2 .5-.4 .5-.8 .5 .5 .5 1.1 .5-.8 .5 .7 .5-.4 .5-.2 .5 .4 .5-.9 .5 .8 .5-.2 .5-.6 .5 1.1 .5-.9 .5 .2 .5-.2 .5 .7 .5 .5 .5-.8 .5-.8 .5 .4 .5-.7 .5 .4 .5-1 .5 .8 .5 0 .5 .5 .5-.8 .5-.1 .5 .1 .5-.7 .5-.4 .5 .6 .5-1.3 .5-.1 .5-.5 .5-1.4 .5-.7 .5-2.6 .5-1.6 .5-3.3 .5-2.5 .5-2.5 .5-3 .5-3.5 .5-3.4 .5-3.4 .5-2.4 .5-2.1 .5-1 .5-.3 .5 3.4 .5 3.3 .5 2 .5 3.9 .5 3.8 .5 3.2 .5 3 .5 2.6 .5 2.5 .5 2.4 .5 .8 .5 1.5 .5 .5 .5 1.3 .5 .5 .5 .7 .5 0 .5 .2 .5-.1 .5 .4 .5 .3 .5-.7 .5 .4 .5 .7 .5-.1 .5-.2 .5 .9 .5-.7 .5 .6 .5-.7 .5 .9 .5 .3 .5-.3 .5-.3 .5-.6 .5 .4 .5-.1 .5 .1 .5 .2 .5 .3 .5-.4 .5 .8 .5-.5 .5 .3 .5-.3 .5 .5 .5 1 .5-1.8 .5 .9 .5 0 .5-1 .5 1.1 .5 .2 .5-.7 .5 .3 .5-.1 .5 .9 .5-1.3 .5 .3 .5-.1 .5 .3 .5-.1 .5-.8 .5 .8 .5 .1 .5 .4 .5-1.2 .5-.4 .5 1.6 .5-.2 2-.1 2-.1 2-.6 2 .4 2 1 2-1.3 2 .3 2 .1 2 .4 2-.6 2-.5 2 .5 2-.1 2-.4 2 1.2 2-.3 2-.4 2-.4 2 1.2 2 .1 2-.4 2-.8 2 .9 2 .2 2 .8 2-.9 2 .2 2-.1 2-1.1 2 1.1 2-.2 2 .1 2 .2 2 .3 2-1 2 .5 2-1 2 .7 2-.1 2-.2 2 .5 2-.1 2-.4 2 .1 2 .8 2 .2 2-1.1 2 .4 2 0 2-.4 2-.1 2-.6 2 .2 2 1.1 2-.3 2-.2 2-.1 2 .1 2-.2 2 1.4 2-1.5 2 .2 2 .5 2 .2 2-.1 2-.9 2 .6 2 .2 2 0 2 .2 2-.6 2 .2 2-.2 2 .4 2-.2 2-.2 2-.4 2 .8 2 .1 2-.8 2 .9 2-.7 2 0 2 .9 2-1.4 2 .9 2-.2 2 0 2 .3 2-.5 2 .7 2-.1 2 0 2-.9 2 .9 1.2-.6 .5-.5 .3 1.1 .2-.1 .5-.8 .5 .4 .5 .8 .3-.4 .2-.4 .5 0 .5 .1 .5 .3 .3-.3 .2 .4 .5-.7 .5 .1 .5-.1 .3-.6 .2 .3 .5 .4 .5-.2 .5-.6 .3 .8 .2 .3 .5-.4 .5 .1 .5 .3 .3 .2 .2-.7 .5 .2 .5 0 .5 .2 .3-.4 .2 .1 .5 .3 .5-.5 .5-.8 .3 1.1 .2-.3 .5-.2 .5 .2 .5 0 .3 .4 .2-1 .5 .8 .5-.5 .5 .9 .3-1.3 .2 1 .5-.9 .5-.2 .5 .7 .3-.2 .2-.2 .5-.1 .5 0 .5-.3 .3 .3 .2 .2 .5 0 .5-.5 .5-.1 .3 .1 .2 .2 .5 .6 .5-1.4 .5 .4 .3 .9 .2-.6 .5 0 .5-1.3 .5-.6 .3-.2 .2 .1 .5-.6 .5-.3 .5-.3 .3-.5 .2-.9 .5-.6 .5-1.4 .5-1.9 .3-.7 .2-1.4 .5-1.8 .5-3.9 .5-1.8 .3-2.1 .2-1.7 .5-5.2 .5-2.9 .5-4.8 .3-2.6 .2-.9 .5-3.2 .5-3.6 .5-1.1 .3-.2 .2-.8 .5 0 .5 1.9 .5 3.9 .3 1.7 .2 .5 .5 4.8 .5 4.5 .5 3.8 .3 2.5 .2 1.7 .5 3.5 .5 2.3 .5 3.7 .3 .2 .2 2.6 .5 1.5 .5 2.2 .5 .3 .3 1.2 .2 .1 .5 .7 .5 1 .5 .5 .3-.6 .2 1 .5-.3 .5 .8 .5 0 .3 .7 .2-1.3 .5 1 .5 1.2 .5-1 .3-.3 .2 1 .5 .2 .5 .8 .5-1.6 .3 .6 .2-.5 .5 1.2 .5-1.3 .5 .5 .3 .6 .2-.6 .5-.2 .5 .3 .5 .7 .3-.7 .2 .2 .5 .3 .5 0 .5-.1 .3 1.4 .2-1.4 .5-.1 .5 0 .5 .1 .3 .1 .2 0 .5 .7 .5 0 .5-.8 .3 .7 .2-.4 .5 .9 .5-.5 .5-.4 .3-.3 .2 .6 .5 .9 .5-1.2 .5 .4 .3-.1 .2 .2 .5-.7 .5 .4 .5-1 .3 1.5 .2-.2 .5 0 .5-.1 .5 .1 .3-.5 .2 .6 .5-.3 .5 .4 .5 .2 .3-.7 .2 .3 .5-.2 .5 .3 .5-.8 .3 .5 .2-.4 .5 1.6 .5-1.4 .8 0 2 .2 2-.1 2 .3 2 .2 2-.6 2-.6 2 .2 2 1 2-.7 2-.1 2 .5 2-.7 2 1.4 2-.5 2-.2 2-.1 2-.5 2 .7 2 .5 2-.1 1.5-.5 .5 0 .5 .4 .5-.1 .5-.7 .5 .3 .5 .9 .5-.9 .5-.6 .5 .2 .5 .5 .5-.5 .5 .3 .5 .9 .5-.6 .5 0 .5 .2 .5 .1 .5-.1 .5-.1 .5-.6 .5 .8 .5-.5 .5 .4 .5-.8 .5 .5 .5-.4 .5 .8 .5-.1 .5-.3 .5 .4 .5-.6 .5 1.3 .5-1.4 .5 .6 .5-.8 .5 .4 .5 .8 .5-1.2 .5 0 .5 .7 .5-.7 .5 .6 .5 .2 .5-.2 .5-.2 .5 .4 .5-.2 .5-.4 .5 .1 .5-.4 .5 1.3 .5-.3 .5-.6 .5-.5 .5 .6 .5 0 .5 .7 .5-.9 .5-.3 .5 .1 .5-.1 .5-.1 .5 0 .5-.2 .5 0 .5-.2 .5-.9 .5-.2 .5-.3 .5-1.9 .5 .6 .5-.1 .5-1.1 .5-.1 .5-.9 .5-.6 .5-.7 .5 .7 .5-.4 .5 .7 .5 .2 .5 .4 .5 1.2 .5 .4 .5 .8 .5 0 .5 1.1 .5-.4 .5 1.6 .5-.9 .5 .4 .5 .9 .5 .5 .5-.3 .5-.1 .5-.2 .5 .2 .5 1.4 .5-1.3 .5 .8 .5-.5 .5 .2 .5-.6 .5-.1 .5 .8 .5 0 .5-.3 .5-.4 .5 .6 .5 .5 .5-1.1 .5 .6 .5 .1 .5 0 .5-.2 .5-.4 .5 .7 .5 .9 .5-1 .5-.2 .5 .4 .5-.8 .5 .4 .5 .8 .5-.5 .5-.2 .5-.2 .5 .3 .5-.9 .5 .5 .5 .8 .5-.2 .5-.3 .5-.2 .5 0 .5 .5 .5 .5 .5-.7 .5-.2 .5-.4 .5 .2 .5 .3 .5 .2 .5-.3 .5 .5 .5-.2 .5-.4 .5 .2 .5 .2 .5-.6 .5 .7 .5 .1 .5-.9 .5 .4 .5 .3 .5 .1 .5-.8 2 1.5 2-.8 2-.1 2-.1 2 .5 2-.3 2 .2 2-.9 2 .9 2-.5 2 .2 2-.2 2-.5 2 .6 2-.3 2 .2 2 .4 2-.8 2 .1 2-.1 2 .7 2-.3 2-.4 2 .9 2 .4 2-.7 2 .2 2-.1 2 .5 2-1.6 2 .7 2 .1 2 .2 2 .4 2-.7 2 .1 2 1 2-.7 2-.4 2 .2 2-.5 2 1.1 2-1.4 2 1.1 2 .2 2-.2 2-.2 2 0 2 .6 2-.8 2 .7 2-.3 2-.8 2 .3 2 .5 2-.5 2-.1 2 .9 2-.5 2-.3 2 .3 2 .2 2-.2 2 .2 2-.5 2 .3 2-.3 2 .7 .9-.3 .5 .1 .5-.9 .1-.3 .4 1 .5-.1 .5-.2 .5-.5 .1 .6 .4 .7 .5-.1 .5-.4 .5 .5 .1-.4 .4-.7 .5 .6 .5-.9 .5 .2 .1 .8 .4-.2 .5 .6 .5-1.6 .5 1 .1 .4 .4-.4 .5-.7 .5 .6 .5 .5 .1-.3 .4-.1 .5 0 .5 .3 .5-.3 .1-.4 .4 .1 .5 .2 .5-.1 .5 .2 .1-.1 .4-.2 .5-.3 .5 0 .5-.4 .1 .6 .4-.1 .5-.2 .5 0 .5 .1 .1 .5 .4-.3 .5 .9 .5-.9 .5-.9 .1 .9 .4-.4 .5 .8 .5-.1 .5-.8 .1 .4 .4-.6 .5 .6 .5-.3 .5 0 .1-.1 .4 .8 .5-.5 .5 0 .5-.1 .1-.3 .4 .5 .5-.4 .5-.1 .5-.5 .1-.6 .4 .2 .5 .3 .5 .2 .5-1.2 .1 .1 .4-.1 .5-.9 .5-1.3 .5-.4 .1 .6 .4-.9 .5-1.1 .5-1.8 .5-.8 .1-1.1 .4-1.2 .5-1.3 .5-1.7 .5-1.3 .1-1.3 .4-.8 .5-.1 .5-.9 .5-.5 .1-.1 .4-.6 .5 2.1 .5 .9 .5 .8 .1 0 .4 1.7 .5 2.3 .5 1.2 .5 1.2 .1 .2 .4 2 .5 1 .5 1 .5 .1 .1 1.2 .4 1.1 .5 .1 .5 .4 .5 .4 .1-.1 .4 .2 .5 .4 .5 .3 .5-.3 .1 .9 .4 0 .5 .1 .5-.2 .5 .2 .1 .7 .4-.1 .5-.7 .5 .5 .5-.5 .1 .8 .4-1 .5 .7 .3 .1 .2-.1 .3-.8 .2 1.4 .1-.3 .2-1.1 .2 .9 .3 .4 .2-.7 .3 1 .2-.4 .3 0 .2-.7 .1 .5 .2-.2 .2 0 .3 .2 .2 .1 .3-.4 .2-.3 .3-.2 .2 1.1 .1-1.3 .2 1.4 .2-.3 .3 .1 .2-.5 .3-.5 .2-.1 .3 .7 .2-.8 .1 .6 .2 .8 .2-1.1 .3-.2 .2 1.3 .3-1.1 .2 0 .3 .1 .2 0 .1 .3 .2 .2 .2 .2 .3 .1 .2-.5 .3 .7 .2-.8 .3 .4 .2 0 .1 .3 .2-.3 .2 0 .3 .3 .2-.1 .3-.8 .2 1.3 .3-.4 .2 0 .1-.8 .2 .7 .2 .3 .3-.5 .2-.3 .3 .6 .2-.6 .3-.2 .2-1 .1 2 .2-.7 .2-.7 .3 .5 .2-.4 .3-.3 .2 1.1 .3-.5 .2 .4 .1-.3 .2 0 .2 .9 .3-.1 .2-.3 .3-.3 .2-1 .3 1.2 .2-.9 .1 0 .2 1 .2-.2 .3 .3 .2-.3 .3-1 .2 1 .3 .2 .2-.9 .1 .7 .2-.7 .2 .6 .3 .1 .2-.7 .3 .3 .2-.5 .3 0 .2-.7 .1 1.1 .2-.3 .2 .7 .3-.5 .2-.7 .3 .2 .5 .9 .3-.9 .2 .4 .5 .2 .5-.9 .5 .4 .3 .1 .2-.5 .5-.3 .5 .3 .5-.5 .3-.7 .2-.9 .5 1 .5-.5 .5-1.1 .3-.8 .2 .8 .5-1 .5-1.2 .5-1.7 .3-.7 .2-.6 .5-2 .5-2.9 .5-2.4 .3-1.6 .2-.8 .5-4.4 .5-3.4 .5-2.3 .3-2.2 .2-3 .5-2.7 .5-1.7 .5-1.5 .3-1.1 .2 .1 .5 1 .5 1.4 .5 1.9 .3 2.3 .2 1.8 .5 2.6 .5 3.4 .5 3.3 .3 3.9 .2 .2 .5 3.1 .5 2.2 .5 2.8 .3 .3 .2 1.6 .5 1.5 .5 1.4 .5 .6 .3 1.3 .2 1.3 .5 .2 .5-1.2 .5 1.5 .3 .9 .2-.8 .5 1.9 .5-.9 .5 .7 .3-.5 .2-.3 .5 1.6 .5-.9 .5 .3 .3 0 .2-.6 .5 .6 .5 1.1 .5-1.1 .3 0 .2 0 .5-.6 .5 1.1 .5 .6 .3-.9 .2 .3 .5 0 .5-.1 .5 .6 .3-.4 .2 .2 .5 0 .5-.4 .5-.4 .3 1.3 .2-1.1 .5 0 .5 1.2 .5-.6 .3 .5 .2-.2 .5 .4 .5-.9 .5 1.4 .3-.4 .2-.7 .5-.8 .5 1.2 .5-.8 .3 .5 .2 .7 .5-1.2 .5 .3 .5 .6 .3-.2 .2-.2 .5 0 .5 .4 .5-.7 .3 1.1 .2-.3 .5-.8 .5 .5 .3 .4"/>
<path stroke="#02CCCC" d="M187.5 3368.8l 2 0 2 .2 2-.4 2 .3 2-.2 2-.1 2 1.2 2-1.1 2 .3 2 .1 2-.2 2-.3 2 0 2 .9 2-.7 2-.6 2 .8 2-.3 2 0 2-.1 2 1.1 2 .2 2-1.1 2 .1 2 0 2-.2 2 .3 2 .3 2-.4 2 .3 2 .1 2 .2 2-.5 2-.2 2 .1 2 .1 2-.5 2 0 2 0 2 .5 2 0 2-.3 2 1 2-.9 2 0 2-.1 2 .9 2 0 2-.9 2 .5 2 .1 2-.9 2-.2 2 .1 2 1.8 2-1 2 0 2-.2 2-.1 2 1 2-1.2 2 .5 2 .9 2-1.2 2 .1 2-.1 2-.3 2 .4 2 .7 2-.7 2 .1 2-.6 2-.5 2 1.6 2-1.2 2 .4 2 .1 2 .9 2-1.3 2 .9 2-1.2 2 1.2 2 .2 2-.4 2 0 2-.1 2 .4 2-.7 2 1.5 2-1.5 2 .2 2 0 2 0 2-.3 2 .2 2-.7 2-.2 2 .4 2 .7 2 .6 2-1.4 2 .7 2-.7 2 1.1 2-.5 2 1.5 2-1.7 2 .9 2-.7 2 0 2 .4 2-.7 2 .8 2-.6 2 .6 2 0 2-1.3 2 .7 2 .3 2-.3 2 .5 2-.1 2-.3 2 .5 2-.3 2-.3 2 .7 2-.5 2 .4 2-.6 2 0 2 .1 2 .2 2-.9 2 1 2-.3 2 0 2-.5 2 .7 2 0 2 .3 2-.4 2 .3 2 0 2-.4 2 .2 2-.8 2 .2 2 .7 2 0 2-.3 2 .2 2 .5 2-1.1 2 .7 2-1 2 .5 2 .6 2-.3 2-.4 2 1.3 2-1.4 2-.1 2 .7 2-.4 2 .7 2-.4 2 .2 2 .1 2 .3 2-.5 2-.2 2-.1 2 .2 2 .3 2 0 2-.7 2 .6 2-.5 2 .2 2 1.2 2-1.3 2 .9 2-.9 2 .8 2-.5 2 .1 2 .7 2-.6 2-.4 2-.1 2 0 2 1 2-.3 2-.6 2 .2 2 .8 2-.7 2-.3 2 1.1 2-.8 2 0 2 .5 2 .1 2-.2 2-.8 2 0 2 .1 2 .4 2-.6 2 .7 2-.8 2 .4 2 .1 2 .3 2-.8 2 .5 2 .6 2-.3 2-1 2 1.1 2 .2 2-1 2-.3 2 .4 2 .5 2-1.1 2 .9 2 .8 2-1.1 2 .5 2 .1 2-.5 2-.7 2 1.1 2-.2 2 .5 2-1 2 .9 2-.1 2-.4 2 .4 2-.6 2 .8 2-.1 2 0 2-.3 2-.2 2-.4 2 .7 2 .1 2-.1 2-.3 2 .8 2-1.2 2 .9 2-.4 2-.3 2-.5 2 .3 2 .3 2 0 2 .7 2 .4 2-1.1 2 .8 2-1.1 2 .4 2 .3 .5 .1 .5-.6 .5-.4 .5-.3 .5 .2 .5 .5 .5 .5 .5 .3 .5-.5 .5 .8 .5-1.3 .5 .2 .5 .7 .5-.4 .5-.6 .5-.6 .5 1.2 .5-.2 .5 .1 .5-.7 .5 1.2 .5-.2 .5-.3 .5-.8 .5 .7 .5 .7 .5-.3 .5-.8 .5 .7 .5 .4 .5-.3 .5-.5 .5-.4 .5 .6 .5-.2 .5 .6 .5-1.4 .5 .1 .5 2.1 .5-1.1 .5 .2 .5 0 .5-1.3 .5-.2 .5 1.1 .5-1.5 .5 .7 .5-1 .5-.8 .5-1.1 .5 .4 .5-.9 .5-1 .5-.9 .5-1.1 .5 .9 .5-.7 .5 1.6 .5-.3 .5 1.2 .5 .9 .5 1.2 .5 .7 .5 .2 .5 0 .5 1 .5-.7 .5 1.2 .5 .2 .5-.9 .5 1 .5-.8 .5-.2 .5 1 .5 .1 .5-.7 .5-.5 .5-.3 .5 2 .5-1 .5 .4 .5 .5 .5-1.1 .5-.4 .5 .7 .5 .1 .5 .1 .5-.4 .5 .3 .5-1.1 .5 1 .5-.1 .5 0 .5 .4 .5-.6 .5-.2 .5 .1 .5 .6 .5-.1 .5-.1 .5-.2 .5 .8 .5 .3 .5-1.7 .5 .7 .5 .2 .5-.2 .5-.4 .5 .5 .5-.3 .5 0 .5 .6 2 .4 2-.4 2 .3 2-.8 2 .7 2-.3 2 0 2 0 2 .4 2-1 2 .5 2 1 2-1 2-.2 2 1 2-1.3 2 0 2 1.4 2-.8 2 .2 2 .5 2-.4 2-.3 2 0 2 .4 2-1.2 2 .9 2-.7 2 .5 2-.5 2 1.4 2-1 2 .7 2-.5 2-.1 2 0 2-.7 2 1.4 2 0 2-.4 2 0 2-.1 2 .3 2-.3 2 .2 2-.8 2 .5 2-.3 2 .5 2 0 2-.4 2 .9 2-.8 2-.1 2 .1 2 .6 2-.5 2 .1 2 .4 2-1 2-.5 2 .6 2 .2 2 .6 2 0 2-.7 2 0 2 .4 2-1 2 1.6 2-1.1 2 .3 2-.4 2 .3 2 .2 2 0 2 .7 2-.1 2 0 2-.6 2 .2 2-.5 2 .3 2-.8 2 1.8 2-1.3 2 .2 2 .1 2 0 2-.7 2 .9 2-.2 2 .6 2-1.2 2 .7 2 .1 2-.1 2 .3 2-.9 2 1.2 2-.5 2-.5 2 .3 2 .4 2-.9 2 1 2 .5 2-.9 2-.6 2-.3 2 1.2 2 0 2-1 2 .6 2 .1 2 0 2-.7 2 .4 2-.1 2 .3 2 .6 2-1 2 .6 .5-.4 .5 .1 .5-.6 .5 .7 .5 .2 .5-.9 .5 1.1 .5-1 .5 1.1 .5-1.5 .5 .9 .5 .3 .5-.4 .5 .3 .5-.4 .5-.9 .5 1.1 .5-.4 .5 .4 .5-1 .5-.2 .5 .8 .5-.6 .5 .8 .5-.5 .5 .4 .5-.9 .5 0 .5 1 .5-1.8 .5 .8 .5 .3 .5-.5 .5-.6 .5 1.1 .5-.8 .5-.1 .5-.5 .5 .1 .5-1.7 .5-.2 .5 .4 .5-1.9 .5-.5 .5-2.8 .5-3.1 .5-3 .5-4.1 .5-5 .5-6.2 .5-6.5 .5-6.3 .5-5.3 .5-4.9 .5-1.6 .5 2.4 .5 3.5 .5 5.9 .5 6 .5 6.4 .5 6.5 .5 6.5 .5 3.6 .5 3 .5 2.7 .5 1.8 .5 1.2 .5 .5 .5 1.3 .5 .7 .5 .4 .5 .4 .5 .2 .5-.2 .5 .9 .5 .4 .5-.5 .5-.4 .5 .4 .5 .6 .5-.4 .5-.4 .5 1.4 .5-.3 .5 0 .5-.7 .5 .6 .5 .1 .5 .2 .5-.4 .5 0 .5 .8 .5 .3 .5-.9 .5 .8 .5-.9 .5 .1 .5 .4 .5-.1 .5-.8 .5 .7 .5 .1 .5 .5 .5-1.1 .5 .2 .5 .8 .5-.2 .5-.4 .5-.1 .5 .3 1-.1 2 .1 2-.3 2-.2 2 .2 2 .5 2-.8 2 .7 2-.6 2 .2 2 .9 2-1.3 2 1.3 2-.2 2-.1 2 .3 2-.1 2-.8 2 .5 2-.1 2-.4 2-.1 2 .3 2-.2 2-.3 2 1.2 2-.6 2 .8 2-1.1 2-.2 2 0 2 .7 2-.4 2 .9 2-.5 2 .5 2-.2 2 0 2-.5 2-.9 2 1.6 2-.1 2-.4 2-.1 2-.8 2 1.1 2-.7 2 1.6 2-1 2 .1 2-.1 2-.5 2 0 2 .3 2-.5 2-.1 2 .8 2-.8 2 1.3 2-.6 2 0 2-.4 1.3 .4 .5-.4 .2-.1 .3-.2 .5 .3 .5-.3 .5 .6 .2 .3 .3-1.1 .5 0 .5 .4 .5 .1 .2 .9 .3-.9 .5 .1 .5 0 .5 .2 .2 .6 .3-1.4 .5 .8 .5-.4 .5 .4 .2-.5 .3 0 .5-.1 .5 .7 .5-.2 .2-.2 .3 0 .5-.1 .5 .4 .5 .3 .2-.5 .3-.3 .5 1.1 .5-1.2 .5-.5 .2 .1 .3-.5 .5 .2 .5 .8 .5-.4 .2 .3 .3 .3 .5-1.3 .5 1.4 .5-.3 .2 0 .3-1.7 .5 1 .5 .1 .5-.9 .2 .3 .3 0 .5 .3 .5 .4 .5-1.3 .2 .5 .3-.8 .5 .1 .5-1.8 .5-.7 .2 .2 .3-1.7 .5 .2 .5-2.2 .5-3.1 .2-.4 .3-.9 .5-4.1 .5-3.3 .5-4.1 .2-2.3 .3-1.4 .5-4.4 .5-3.9 .5-2.9 .2 .3 .3 0 .5 .8 .5 2.2 .5 3.3 .2 2.5 .3 1.4 .5 3.9 .5 4 .5 3.1 .2 2.2 .3 2.2 .5 2.5 .5 2.7 .5 2.3 .2-.3 .3 1 .5 .7 .5 1.7 .5-.5 .2 .5 .3 .6 .5-.3 .5 .6 .5 .6 .2 .1 .3 .2 .5 .2 .5 .6 .5-.9 .2-.2 .3 0 .5 .3 .5 .1 .5 .9 .2-.6 .3-.9 .5 .7 .5 .3 .5-.7 .2 1.5 .3-1.4 .5 .6 .5 .1 .5 .1 .2-.8 .3 1.3 .5-.8 .5-.3 .5 .7 .2 .3 .3-.9 .5 1.5 .5-1.3 .5 1.1 .2-.7 .3 .5 .5 0 .5-.6 .5 .5 .2-1.2 .3 .7 .5-.7 .5 1.6 .5-.8 .2-.8 .3 .1 .5 1 .5-.1 .5-.2 .2-.5 .3 .3 .5 .8 .5 0 .5-1.1 .2 .1 .3 .3 .5 .7 .5-.2 .7-.5 2 .7 2-.8 2 1 2-.5 2-.1 2-.4 2 .8 .5-.8 .5 .5 .5-.8 .5 .4 .5 .3 .5 .5 .5-.8 .5 .3 .5 .1 .5-.1 .5 .5 .5-.5 .5-.1 .5-.3 .5 0 .5 .2 .5-.3 .5-.5 .5 .3 .5 .1 .5 1.4 .5-1.2 .5 .1 .5 .1 .5-.6 .5 .2 .5 .2 .5 .1 .5 .8 .5-1.1 .5-.1 .5 .4 .5 .5 .5-1.7 .5 1.1 .5-.7 .5 .7 .5-.7 .5 .7 .5-1.1 .5 .9 .5 .1 .5-.8 .5-.4 .5 1.1 .5-1 .5-.6 .5 .4 .5-.8 .5-.9 .5-.4 .5-1.6 .5-1 .5-1.7 .5-1.7 .5-3.5 .5-1.9 .5-3.5 .5-2.9 .5-3.9 .5-3 .5-1.6 .5-.1 .5 .7 .5 1.4 .5 2 .5 4.2 .5 2.9 .5 3.2 .5 2.7 .5 3.5 .5 .8 .5 1.9 .5 1.1 .5 1.5 .5 1.5 .5 .6 .5-.1 .5 1 .5-.4 .5 .7 .5-1.1 .5 1.4 .5-.2 .5-.5 .5 1 .5-1.1 .5 1.3 .5-.9 .5 .4 .5 .2 .5-.4 .5 .4 .5-.2 .5 0 .5 .1 .5 0 .5 .4 .5 .5 .5 .4 .5-.7 .5 .3 .5 .8 .5-1.5 .5 .2 .5-.1 .5 .5 .5 .2 .5-.5 .5-.2 .5 .4 .5-.5 .5 .4 .5-.2 .5 .6 .5-.7 .5 .1 .5 .6 .5-.8 .5 .4 .5-.1 .5-.1 .5 .6 .5 .1 .5 .3 1.5-1.1 2 .7 2 0 2-.2 2-.5 2 .4 2 .6 2-.9 2 .2 2 .1 2 .1 2 .1 2-.8 2-.1 2 1 2-.2 2 .7 2-.4 2 0 2-1 2-.4 2 1.2 2-.8 2 .5 2 .2 2-.4 2 1.1 2-.9 2 .1 2 .3 2 .1 2-.4 2 0 2 .8 2-1.2 2 .7 2-.5 2 .3 2-.6 2 .6 2 0 2 .7 2-.6 2 .5 2-1 2 .4 2 .2 2-.2 2-.5 2 .5 2-.1 2 .5 2 .2 2-.8 2 .8 2-.7 2-.8 2 1.5 2 0 2-.5 2 .9 2-.7 2-.6 2-.1 2-.4 2 1.4 2 .3 2-.9 2 .4 2-.4 2 .5 2-1 2 1 2-.9 2 .2 2 .9 2-.8 2 0 2-.5 2 1.9 2-1.8 2 .3 2-.3 2 1.6 2-1.2 2 .1 2 .3 2-.6 2 .8 2-1 2 .1 2 .4 2 .7 2-.7 2-.5 2 .5 2 .4 2-.4 .9 .6 .5-.2 .5-.5 .1 1 .4-1.4 .5 0 .5 .6 .5-.2 .1 .1 .4-.2 .5 .2 .5 .6 .5 0 .1-.5 .4 .8 .5-1.5 .5 .5 .5 .5 .1-.8 .4-.6 .5 .9 .5-.6 .5 .9 .1-.6 .4 .8 .5-.1 .5-.6 .5-.3 .1 .4 .4 0 .5 .6 .5-.6 .5 0 .1-1.1 .4 .5 .5 1.5 .5-1.6 .5 1.1 .1-.4 .4-.4 .5 .1 .5 .7 .5-.3 .1-.6 .4 .5 .5-.2 .5 .3 .5-.5 .1 .6 .4-.8 .5 .3 .5 .1 .5 0 .1 .1 .4-.2 .5 0 .5 0 .5 .2 .1-1.1 .4 .8 .5-.2 .5 .8 .5-1 .1 1.1 .4-.6 .5-1.3 .5 .6 .5 .2 .1-1.1 .4-.8 .5 .2 .5-.6 .5-.5 .1-.8 .4-.3 .5-.2 .5-2.1 .5-1.8 .1-.8 .4-1.5 .5-1.9 .5-2 .5-2.1 .1-.1 .4-1 .5-1.8 .5-2 .5 .1 .1 .3 .4 .1 .5 .8 .5 2.6 .5 .5 .1 1.3 .4 1.4 .5 2.1 .5 2.5 .5 .7 .1 1 .4 1.4 .5 1 .5 1.7 .5 .6 .1 0 .4 .7 .5 1 .5 .3 .5-.4 .1 .8 .4-.5 .5 1 .5-.3 .5-.3 .1 .9 .4-.3 .5 .3 .5-.3 .5 1 .1-.5 .4 .4 .5-.6 .5 .5 .5-.3 .1 0 .4 0 .5 .4 .5 .4 .5-.7 .1 .2 .4-.1 .5 .6 .5-1.1 .5-.3 .1 .8 .4 1.1 .5-.5 .5-.7 .5 .9 .1-.3 .4-.6 .5 .8 .5-.5 .5-.4 .1 .8 .4-.6 .5 0 .5 .6 .5 0 .1-.1 .4-.2 .5 .6 .5-.8 .5-.1 .1 1 .4-.2 .5-1.2 .5 1.2 .5 0 .1-.3 .4 .5 .5-.3 .5-1.3 .5 1 .1-.2 .4 .1 .5 .9 .5-.9 .5 .3 .1-.2 .4-.1 .5-.2 .5 .6 .5 .8 .1-1 .4 .6 .5-.3 1.1-.3 2-.5 2 1.5 2-.5 2-.5 2 .5 2-.6 2 .4 2-.9 2 .9 2-.3 2 0 2 .1 2 .2 2-.6 2 0 2 .5 2-.4 2 .1 2 .3 2-.2 2-.4 2 .7 2-.4 2-.1 2 .6 2 0 2 .2 2-.9 2 .9 2-.9 2 0 2 .9 2-.7 2-.3 2 .6 2 .2 2-.8 2 .4 2 .4 2-1.3 2 .4 2 .2 2 .2 2 .4 2-.2 2 .5 2 0 2-.6 2 .2 2-.4 2 .7 2 0 2-.1 2-.2 2-.1 2-.2 2 .1 2-.6 2 .9 2-.2 2-.5 2 .7 2-1 2 1.1 2-.2 2-.7 2 1.3 2-1 2-.4 2 .3 2 .6 2-.3 2-1 2 .9 2 0 2 0 2 .2 2 .1 2 .2 2-.7 2-.3 2 .9 2-.5 2-.4 2 1.1 2-.4 2-.1 2-.4 2 1.1 2-1 2 0 2 .1 2 .4 2-.8 2 .1 1.8 1.3 .2-1.6 .3 .3 .5 .4 .5-.2 .5 .5 .2-1.1 .3 .4 .5-.1 .5-.1 .5 1 .2-1.5 .3 .5 .5 .3 .5-.3 .5 .7 .2-.8 .3 1.4 .5-.4 .5 0 .5-.1 .2-.6 .3-.3 .5 .1 .5 .4 .5-.5 .2 .6 .3 .7 .5-1.3 .5-.5 .5 1.4 .2-.4 .3-.4 .5 .1 .5 .6 .5-.2 .2-.5 .3-.2 .5 1.4 .5-.5 .5 .1 .2-.7 .3-.2 .5 .7 .5-.2 .5-.7 .2 .8 .3-.1 .5-.6 .5-.7 .5 .6 .2 1.3 .3-1 .5 .1 .5-.1 .5-.3 .2 .1 .3 0 .5-.5 .5 .7 .5 0 .2-.3 .3-.4 .5-.4 .5 1.6 .5-1 .2-.1 .3 .6 .5-.4 .5-.3 .5 .5 .2-.1 .3-1 .5-.1 .5 0 .5-.4 .2-.3 .3-.5 .5-.8 .5 0 .5-1.2 .2-.8 .3 0 .5-1.5 .5-2.1 .5-1.8 .2-.7 .3-1.4 .5-2.7 .5-2.6 .5-2.3 .2-.6 .3-3.2 .5-1 .5-3.5 .5-1.8 .2-1.2 .3-.9 .5 .3 .5 .8 .5 .2 .2 .4 .3 1.8 .5 2.8 .5 2.3 .5 3.4 .2 .5 .3 3.2 .5 2 .5 2.3 .5 1.8 .2 1.2 .3 .3 .5 2 .5 1.9 .5 .4 .2 1.1 .3 .5 .5 .8 .5 .5 .5-.5 .2 .8 .3 .3 .5-.3 .5 1 .5-.6 .2 1 .3-.4 .5 .3 .5-.5 .5 .2 .2 .3 .3 .2 .5 1.1 .5-1.1 .5 .2 .2 .6 .3-.3 .5-.3 .5 1 .5-.2 .2-.8 .3 .3 .5-.7 .5 .1 .5 .8 .2-.1 .3-.4 .5 .4 .5-.6 .5 .1 .2 .3 .3 .3 .5-.4 .5 .1 .5-.1 .2-.2 .3 .6 .5-.4 .5 .1 .5 .1 .2 .6 .3-1.1 .5 .9 .5 .5 .5-.5 .2-.5 .3 1.6 .5-1.2 .5-.3 .5 1.1 .2-.9 .3 .5 .5 0 .5-.4 .5-.4 .2 .5 .3-.8 .5 .9 .5-.3 .5 .2 .2 .1 .3 .6 .5-.8 .5 .2 .5 .2 .2-1.1 .3 .9 .5-.1 .5-.1 .5 .3 .2-.7 .3-.4 .5 1 .5-.6 .5 .6 .2-.1 2 .1 2-.5 2 .3 2 .2 2 .5 2-1.4 2 .8 2 .5 2-.2 2 0 2 0 2-.1 2 .4 2-.8 2-.1 2-.2 2 1.2 2-.2 2-1.8 2 .6 2 .5 .5 .9 .5 0 .5-1 .5 .9 .5 .2 .5-.5 .5-.5 .5 1 .5-.8 .5 .7 .5-.2 .5-.5 .5 .1 .5 .4 .5 0 .5-.3 .5 .6 .5 .3 .5-1.6 .5 .5 .5 .3 .5 0 .5-.4 .5 .9 .5-.8 .5 .5 .5 .4 .5-.9 .5 .6 .5-.2 .5-.3 .5 .2 .5-.4 .5 .4 .5-.2 .5-.4 .5 .1 .5 .9 .5-.6 .5 .3 .5-.3 .5 .4 .5 .3 .5-.7 .5-.3 .5 .6 .5-.6 .5 .4 .5 0 .5-.4 .5 .5 .5-.5 .5 0 .5 .3 .5-.1 .5 .5 .5-.6 .5 .2 .5 .6 .5-.7 .5 .5 .5-1 .5 .3 .5-.2 .5 .5 .5-.8 .5 .2 .5-.3 .5-.1 .5-.8 .5 0 .5-.5 .5 .6 .5-1.2 .5 .4 .5-.3 .5-.5 .5-.9 .5 .4 .5 .8 .5-.5 .5 .6 .5-.7 .5 1.3 .5-.2 .5 .6 .5 .7 .5-.3 .5 0 .5 .4 .5 .7 .5 .4 .5-.4 .5 .8 .5-.6 .5-.2 .5 0 .5-.4 .5 1 .5-.8 .5 .6 .5 .1 .5-.2 .5 .2 .5 .4 .5-.1 .5-.8 .5 0 .5 .6 .5-.5 .5 .3 .5-.1 .5 .2 .5-.6 .5 .5 .5-.1 .5-.2 .5 .2 .5 0 .5 .5 .5-.6 .5 .4 .5 .6 .5-.5 .5-.2 .5-.2 .5-.1 .5-.2 .5-.7 .5 .9 .5 .1 .5 .3 .5 .1 .5-.1 .5 .1 .5 .5 .5-.4 .5-.9 .5-.1 .5 1 .5-.7 .5 .1 .5 .8 .5-1 .5-.1 .5-.3 .5 1.4 .5-1.2 .5 0 .5 .8 .5-.1 .5-.4 .5 .6 .5 .5 .5-1.3 .5 .8 .5-1.3 1.5 2.1 2-1.3 2-.4 2 .5 2 0 2 .3 2-.3 2 .2 2 .5 2-.3 2-.6 2 .2 2 1.2 2 0 2-1.4 2 .2 2 .6 2-.2 2-.1 2-.7 2-.2 2 .6 2 .9 2-1.5 2 1.7 2-1 2-.2 2 .6 2 .5 2-.2 2 .1 2-.6 2 .3 2-.5 2 0 2 .8 2-.5 2 .4 2 .2 2-.7 2-.1 2 .1 2-.7 2 .1 2 .6 2 .5 2-1.3 2 .2 2 .2 2 .5 2-.1 2 .3 2 0 2-.1 2-.4 2-.2 2 .3 2 .1 2 .3 2-.3 2-.2 2-.3 2 .2 2 0 2-.2 2 .2 2 .4 2-.4 1.9-.6 .1 .8 .4-.6 .5 .5 .5 .3 .5-.8 .1 .9 .4-1.1 .5 1.3 .5-.3 .5-.9 .1 1.1 .4-.4 .5 .3 .5-1.1 .5 1.3 .1-.8 .4 .9 .5-.4 .5-.2 .5 .3 .1-.5 .4 .5 .5-1.3 .5 .9 .5-.1 .1 0 .4-.1 .5 .2 .5-.2 .5-.7 .1 .7 .4 .4 .5-.4 .5-.1 .5 0 .1 .4 .4 .1 .5-.7 .5-.7 .5 .8 .1 1 .4-1.2 .5 .2 .5 .1 .5-.2 .1 .1 .4 0 .5-.1 .5 .3 .5-.2 .1 .4 .4 0 .5-.8 .5 .4 .5 .5 .1-.6 .4 .1 .5 0 .5 .4 .5-.6 .1 1 .4-1.2 .5 .8 .5-1.1 .5 1 .1-.4 .4 .8 .5-.7 .5 .1 .5 .1 .1-.6 .4 .4 .5 .5 .5-1 .5-.4 .1 1.3 .4-1.3 .5 .2 .5 .6 .5-1.5 .1 .3 .4 .1 .5-.8 .5 .2 .5-1.7 .1 .1 .4 .3 .5-.4 .5-.4 .5-1.8 .1 .3 .4-.7 .5-.8 .5 .3 .5-1.1 .1-.7 .4-1 .5 .6 .5 .2 .5 .9 .1 .1 .4 .4 .5 1 .5 .3 .5 0 .1 1.1 .4-.2 .5 1.3 .5 .4 .5 .7 .1-.3 .4 .3 .5 1.1 .5-.3 .5 .6 .1 .2 .4 .7 .5-.8 .5 1.3 .5 0 .1-.2 .4-1 .5 .4 .5 1 .5-.9 .1 1 .4-1.5 .5 1.1 .5 .2 .5-.2 .1-.1 .4 .2 .5-.4 .1 .5 .4-.3 .1 .1 .4-.2 .1 .1 .4 .2 .1-.2 .4-.4 .1 0 .4 .4 .1 .3 .4-.1 .1-1.1 .4 .9 .1-.9 .4 .6 .1 .9 .4-.7 .1 .4 .4-.1 .1-.1 .4 0 .1-.5 .4-.3 .1 .8 .4 0 .1 .2 .4 .3 .1 .1 .4-.5 .1-.4 .4 .1 .1 1.1 .4-.5 .1-.6 .4 .4 .1-.9 .4 .2 .1 .7 .4-.3 .1 1.2 .4-1.2 .1 .8 .4-.7 .1-.3 .4-.3 .1 .4 .4-.1 .1-.2 .4 .2 .1-.4 .4 1 .1 .2 .4-.3 .1-.3 .4 1.1 .1-1 .4 .3 .1-.6 .4 0 .1 .7 .4-.8 .1 .5 .4 0 .1-.9 .4 1 .1-.5 .4 1.2 .1-1 .4-.2 .1-.4 .4 .2 .1 .9 .4-.5 .1-.1 .4 .3 .1-.6 .4 .7 .1-.6 .4 .6 .1-.5 .4 0 .1-.1 .4-.5 .1 .7 .4 .5 .1-.9 .4-.2 .1 .8 .4-.3 .1-.6 .4 .2 .1 .6 .4 .3 .1-.4 .4-.8 .1 .3 .4 .3 .1-.2 .4-.6 .1 .3 .5 .7 .5-1.2 .5 .3 .5 .3 .5-1.9 .5 .7 .5 .1 .5 .3 .5-2.1 .5 1.5 .5-.7 .5-.5 .5-1.1 .5-.9 .5-1 .5-1.1 .5-2.4 .5-2.5 .5-.8 .5-3.7 .5-2.3 .5-3.2 .5-2.4 .5-2.3 .5-3.6 .5-1.4 .5-2.4 .5-.5 .5 1.2 .5 .9 .5 1.1 .5 3.5 .5 3.1 .5 3 .5 3.6 .5 1.4 .5 3 .5 3.1 .5 1.1 .5 1.6 .5 1.2 .5 1.6 .5 .5 .5 1.4 .5-.3 .5 1.7 .5-.1 .5 .7 .5 .7 .5-.2 .5 .6 .5-1.3 .5 .4 .5 0 .5 .7 .5-.4 .5 .5 .5-.3 .5 .4 .5-.4 .5 .7 .5-.1 .5-.6 .5 1.2 .5-1.4 .5 .8 .5 .3 .5 .7 .5-.1 .5-1.3 .5 .7 .5 .6 .5-.1 .5-.5 .5 0 .5 1 .5-1.5 .5 .1 .5 1 .5-.4 .5-.4 .5 .4 .5 .5 .5-.5 .5-.5 .5 1 .5-.9 .5 .2 .5-.4 .5 .6 .5-.3"/>
<path stroke="#505050" d="M187.5 3257.3l 2 .6 2-.1 2-.3 2 .3 2 0 2 .4 2 0 2-.8 2-.2 2 0 2 1.2 2-.1 2-.6 2-.5 2 .3 2 .7 2-.5 2-.2 2 .4 2-.2 2-.6 2 .6 2-.4 2 .2 2-.2 2 0 2-.2 2 .9 2-.2 2-.8 2 1 2 1 2-1.9 2 .2 2-.6 2 .8 2 .2 2 .5 2-1 2 .7 2-.7 2 .2 2 .1 2-.8 2 .4 2-.3 2 1.1 2-.4 2 .1 2-.1 2-.5 2 .6 2-.2 2-.5 2 .4 2 .9 2-.1 2-.9 2 .1 2-.9 2 .8 2-.5 2 .2 2 .8 2-1 2 1.4 2-.8 2 .6 2-.1 2-.7 2 .1 2-.2 2 .5 2-.2 2-.1 2 1 2-.1 2 .2 2-.7 2-.3 2 .7 2-.4 2 0 2 .7 2-.4 2-.8 2-.3 2 .6 2-.1 2 .4 2 .5 2-.5 2-.2 2-.6 2 .4 2 .8 2-.6 2-.6 2 .8 2-.9 2 .3 2-.1 2 .9 2-.8 2 .8 2 .4 2-.8 2-.1 2-.4 2 1.4 2-.9 2 .3 2-.3 2-.1 2 .3 2-.8 2 1.4 2-1.1 2 .3 2 0 2-.1 2 .7 2-1.4 2 1 2 .4 2-.8 2 0 2 .8 2-.7 2-.6 2 1.5 2-.2 2-1.1 2 1.1 2-.4 2-.4 2-.9 2 1.2 2 .6 2-1 2 0 2 .2 2-.1 2 .5 2 .5 2-1.2 2 .6 2 .3 2-.5 2 .5 2-.4 2 .2 2-.5 2-.2 2 1 2-.1 2-.6 2 .3 2-1 2 .6 2 0 2 1.4 2-1.3 2 .4 2 .4 2-.7 2 0 2 .1 2 .3 2-.2 2-.4 2-.2 2-.1 2 .3 2 0 2-.5 2 .9 2-.1 2-.2 2 .6 2-.1 2-.1 2-.3 2 0 2 .1 2 1 2-1.3 2 .3 2-.1 2 .1 2 .4 2-.4 2 0 2-.5 2 0 2 .5 2 0 2 .4 2-1.2 2 1 2 0 2-.8 2 .5 2 1.1 2-1.3 2-.6 2 .8 2-.8 2 .7 2 .1 2 .1 2 .3 2-.2 2-.1 2-.2 2-.3 2 .8 2-.6 2-.3 2 1.2 2-.8 2-.5 2 1 2-.5 2-.2 2 1 2-.2 2-.4 2 .1 2-.5 2 0 2 .9 2-.2 2 .2 2-.6 2 .5 2-.3 2 .3 2-.8 2 .4 2-.7 2 .5 2-.8 2 1.3 2-.7 2-.3 2 .4 2 .2 2 .3 2-1.4 2 1.8 2-1.3 2 .4 2-.5 2 1.8 2-1.4 2-.4 2 0 2-.1 2 .9 2-.1 2-.8 2-.6 2 .9 2-.2 2 .5 2-.7 1 .2 .5 0 .5-.3 .5 .7 .5-.1 .5-.3 .5-.2 .5 .4 .5-.5 .5 .2 .5 .5 .5-.8 .5-.5 .5 .3 .5 .1 .5-.9 .5 .1 .5 .3 .5 .3 .5-.6 .5 .7 .5-.2 .5-.9 .5 .1 .5 .1 .5 .1 .5-.2 .5 0 .5 .1 .5-.7 .5 .3 .5-.7 .5-1 .5 .1 .5-.2 .5-.4 .5-1.5 .5 .2 .5-.4 .5-1 .5-1.3 .5-1.6 .5-.7 .5-4 .5-3.8 .5-5.2 .5-7.1 .5-9.2 .5-11.6 .5-14.9 .5-15.7 .5-18.8 .5-18.1 .5-14.7 .5-11.8 .5-3.9 .5 3.7 .5 11.4 .5 16.1 .5 18 .5 16.2 .5 17.5 .5 14.5 .5 11 .5 10 .5 7 .5 6.6 .5 3.1 .5 2.3 .5 2.8 .5 1.6 .5 .6 .5 .6 .5 .4 .5 1.3 .5 .6 .5 .5 .5 .7 .5-1.1 .5 1 .5 .6 .5 .7 .5-.3 .5 .1 .5-.4 .5 .6 .5-.1 .5-.5 .5 .1 .5 1.8 .5-.7 .5-.6 .5-.1 .5 .1 .5 1.1 .5-1 .5 .8 .5 .8 .5-.5 .5 .9 .5-1.2 .5 .5 .5 0 .5 0 .5 0 .5 .3 .5-.1 .5-1.2 .5 1.2 .5-.1 .5-.8 2 1 2-.2 2 .2 2 .1 2 0 2 .3 2-.5 2-.4 2 .6 2 .4 2-.9 2 .2 2 .4 2-.4 2 1.3 2-.9 2-.9 2 1.3 2-.6 2-.5 2 .8 2-.1 2-.3 2-.1 2 .8 2-.6 2-.1 2 .2 2-.3 2 1.2 2-.7 2-.4 2 .8 2-.2 2 .4 2-.2 1-.9 .5 .9 .5-.7 .5 .3 .5 .3 .5 .2 .5-.5 .5-.8 .5 .9 .5-.1 .5 .5 .5 .2 .5-.4 .5-.5 .5-.1 .5 1 .5-.5 .5-.3 .5 1.4 .5-.8 .5-.4 .5-.5 .5-.3 .5 .5 .5 .5 .5 .4 .5-.3 .5-.7 .5 .6 .5 .6 .5-1.2 .5 .7 .5-.8 .5 .4 .5 .4 .5 .5 .5-.4 .5-1 .5 0 .5 .4 .5 .5 .5-.5 .5 .2 .5-.8 .5 .8 .5-.9 .5 .1 .5-1.2 .5 .4 .5-.2 .5-1.1 .5-.7 .5-1 .5-.6 .5-.5 .5 0 .5 1.2 .5 .5 .5-.3 .5 1.3 .5-.3 .5 1.4 .5 .5 .5-.2 .5 .9 .5-.6 .5-.1 .5 .6 .5 .2 .5 .7 .5 0 .5 0 .5 .2 .5 0 .5 .1 .5-.6 .5 .4 .5-.8 .5 .4 .5 0 .5 .5 .5-.2 .5 .2 .5-1.1 .5 1 .5 .1 .5-.2 .5-.7 .5 1.4 .5-.7 .5 .2 .5-.8 .5 .4 .5 .1 .5 .5 .5-1 .5 .5 .5 0 .5 .3 .5-1.3 .5 1.5 .5-.7 .5 .2 .5 0 .5 .7 .5-.5 .5-.4 .5 0 .5-.2 .5-.5 .5-.2 2 1.3 2 .3 2-.6 2 .7 2-.4 2 .1 2-.2 2-.6 2 .1 2 1.2 2-.9 2-.3 2 .3 2 .2 2-1.4 2 1.1 2 .1 2 .4 2 .4 2-.1 2-1.2 2 1.2 2-.9 2-.5 2 .3 2 .3 2 0 2 .3 2-.2 2 .3 2-.4 2 .4 2 0 2-.4 2-.3 2 .2 2 .5 2 .5 2-.8 2 .5 2-1.2 2 .4 2 .3 2-.3 2 0 2 .5 2 0 2-1 2 .2 2-.3 2 .6 2 .4 2-1.3 2 .8 2-.8 2 .5 2-1 2 1.1 .5-1 .5 .2 .5-.3 .5 .1 .5 .2 .5 .6 .5-.1 .5-.5 .5-.1 .5-.9 .5 .4 .5-.2 .5 .5 .5-.1 .5 .1 .5-.6 .5 .2 .5-.9 .5-.9 .5 1.1 .5-.8 .5 .4 .5-.2 .5-.1 .5-1.2 .5 .9 .5-.7 .5-.4 .5-.5 .5-1.1 .5 .7 .5-.1 .5-2.2 .5 .2 .5-1.3 .5-.2 .5-1.2 .5-2 .5-1.2 .5-1.9 .5-3.8 .5-3.7 .5-5.5 .5-7.4 .5-11.4 .5-13.2 .5-18.6 .5-23.3 .5-28.3 .5-32.5 .5-34.5 .5-34.3 .5-31.7 .5-20.3 .5-9.4 .5 8.5 .5 21.6 .5 31.7 .5 34 .5 35 .5 31.6 .5 29.3 .5 22.3 .5 19.1 .5 14.2 .5 10.1 .5 8.4 .5 4 .5 4.7 .5 3.5 .5 1.1 .5 1.7 .5 2.5 .5 .4 .5 0 .5 1.4 .5 1.2 .5 0 .5 1.2 .5 0 .5 .9 .5 .4 .5-.1 .5 1.6 .5-1.2 .5 .4 .5 .7 .5 .5 .5-.2 .5-.1 .5 .4 .5-.2 .5 1.3 .5-1.1 .5 .3 .5 .7 .5-.1 .5-.4 .5 .1 .5 .7 .5-.2 .5 .6 .5-.2 .5-.4 .5 .2 .5-.5 .5 .8 .5 .4 .5-.3 .5 .3 1 .5 2 .1 2-.8 2-.5 2 1.1 2-.4 2 .6 2-.2 2 .2 2 .9 2-1.2 2 .4 2 .2 2-.3 2-.6 2 .8 2 .2 2-.2 2-.4 2 .2 2 .3 2 .1 2 .4 2-.3 2-.3 2 .3 2-.2 2-.5 2 .4 2 .1 2-.3 2 1 2-1.4 2 .9 2-.3 2-.3 2 .1 2-.4 2 .5 2 .2 2-.2 2-.7 2 .9 2-.5 2 .8 2-.8 2 .8 2-1 2 1.2 2-.5 2-.5 2 0 2-.5 2 1.3 2-.1 2-1 2 .1 2 1.2 2-.7 2 .2 2-.7 2 .7 2-.7 2-.8 .3 .3 .5 .5 .5 .1 .5 0 .2-.2 .3 .2 .5 0 .5-.8 .5 .7 .2 .1 .3 0 .5-.1 .5-.1 .5-.4 .2 .8 .3-.9 .5 .4 .5-.1 .5-.1 .2-1.4 .3 1.7 .5-.8 .5 1 .5-.6 .2-.5 .3 .2 .5 .1 .5-.5 .5 .4 .2-.1 .3 .2 .5 .2 .5-1.1 .5 1.2 .2-.8 .3 .6 .5-1.2 .5 .8 .5-.4 .2 .2 .3-1.2 .5-.1 .5 .4 .5-.3 .2-.4 .3-.2 .5-.1 .5-.3 .5-.3 .2-.3 .3-.3 .5 .1 .5-.3 .5-.8 .2-.6 .3-.9 .5-.1 .5-.9 .5-2.3 .2-.6 .3-1.3 .5-1.8 .5-5 .5-4.6 .2-3.5 .3-3 .5-9.3 .5-9.3 .5-11.7 .2-5.8 .3-7.3 .5-15.8 .5-14 .5-15.2 .2-5.4 .3-7.1 .5-7.8 .5-4.7 .5 4.1 .2 2.5 .3 5.9 .5 11.8 .5 15.7 .5 14.8 .2 5.5 .3 8.8 .5 14 .5 10.7 .5 11.9 .2 2.1 .3 5.5 .5 6.2 .5 5.2 .5 3.6 .2 .8 .3 2.1 .5 1.5 .5 2.3 .5 .8 .2 .2 .3 .6 .5 1.3 .5 .8 .5 .4 .2-1.4 .3 1.7 .5-.1 .5 1 .5 .1 .2-.6 .3 .7 .5 .1 .3 .8 .2-1.1 .5 .3 .2-.4 .1 1.7 .2-.8 .5 .3 .3-.3 .2 .4 .5 0 .2 .8 .1-.6 .2 0 .5 .1 .3-.1 .2-.1 .5 .7 .2-.2 .1 .5 .2 .6 .5-1.1 .3 .3 .2-.3 .5-.2 .2 .7 .1-.6 .2 1 .5-.7 .3 .5 .2-.7 .5 .4 .2 .7 .1-1.2 .2-.1 .5 .7 .3 .4 .2-.1 .5 .3 .2 .1 .1-.3 .2-.2 .5 .2 .3-.1 .2-.2 .5-.3 .2 .7 .1-.1 .2-1 .5 1 .3-.4 .2-.6 .5 .5 .2 .6 .1-.2 .2-.2 .5 0 .3-.3 .2-.4 .5 .4 .2-.9 .1-.1 .2 0 .8-.2 .9-.4 .1 .4 1-.6 .9-.6 .1 .6 1-.3 .9 .7 .1 .2 1-.2 .9 .9 .1-.1 1 .8 .9 .1 .1 .2 1 .1 .9 0 .1 .3 1-.1 .9-.2 .1 .4 1 .4 .1-.8 .5 .1 .3 .7 .1-1.2 .1 .9 .5-.7 .4 .5 .1-.1 .5 .6 .3-.4 .1 .6 .1-.2 .5 0 .4-.5 .1-.6 .5 .9 .3-.8 .1 .7 .1-.6 .5 .5 .4-.5 .1 .4 .5 .2 .3-.7 .1 .3 .1-.6 .5 .7 .4-.4 .1-.2 .5 .9 .3-.4 .1 .1 .1-.3 .5-.9 .4 1.4 .1-.3 .5-.4 .3 .2 .2-.6 .5 .8 .5-.8 .5-.1 .3 .1 .2 .6 .5-.3 .5 .1 .5-.8 .3 .1 .2 .2 .5-.5 .5 0 .5 1 .3-1 .2-.1 .5-.6 .5-.2 .5 .6 .3-.4 .2-.3 .5 .9 .5-.2 .5-1.4 .3-.4 .2 0 .5-.2 .5-1.6 .5 .2 .3-.3 .2-.6 .5-.8 .5-1.6 .5-2.2 .3-2.3 .2-.6 .5-4.8 .5-4.4 .5-5.7 .3-5 .2-3.4 .5-8.2 .5-11.1 .5-10.9 .3-6.7 .2-4.4 .5-11.8 .5-9 .5-6.1 .3-2.3 .2-.3 .5 2.4 .5 6.8 .5 8.7 .3 7.3 .2 3.5 .5 12.5 .5 10.5 .5 10.4 .3 5.4 .2 4 .5 8.1 .5 6 .5 4.4 .3 2 .2 1.5 .5 3.4 .5 2.1 .5 1.1 .3 1.4 .2-.7 .5 1.3 .5 .6 .5 1.2 .3 0 .2 .6 .5 .3 .5 0 .5 .9 .3-1 .2 .6 .5 .7 .5-.4 .5-.1 .3 .7 .2 .5 .5-.4 .5-.4 .5 1.1 .3-.4 .2 .2 .5 .4 .5-.2 .5 0 .3-.4 .2 .3 .5 .4 .5-.6 .5-.2 .3 1.5 .2-.1 .5-.5 .5-.7 .5 1 .3 .7 .2-1.1 .5-.2 .5 1.3 .5-.6 .3 .5 .2-.9 .5 .3 .5 .6 .5-.3 .3-.5 .2 .1 .5 .1 .5 .5 .5 .8 .3-1.2 .2-.2 .5 .1 .5 .5 .5-.7 .3-.2 .2 .6 .5 .2 .5 .4 .8-.3 2 .5 2-.3 2-.1 2-.1 2 .2 2 0 2-.5 2-.2 2 .7 2-.6 2-.5 2 .9 2 .7 2-.3 2 .2 2-.4 2 1.1 2-1.6 2 .1 2 0 2 .7 2-.3 2 .1 2-.1 2 .1 2-.3 2 .1 2-.1 2-1 2 1.4 2 .3 2-.7 2 .1 2 .4 2-.6 2-.3 2 1.6 2-.9 2-.2 2 .9 2-1.3 2 .6 2-.4 2 1.4 2-1.5 2 .5 2-.5 2 1.3 2-1 2 .2 2 .6 2-.3 2-.1 2-.4 2 .3 2-.5 2 .4 2 .2 2-.5 2-.1 2 .4 2 .9 2-1.6 2 .7 2 .4 2-1.1 2-.1 2 .8 2-.2 2 .6 2-.6 2 1.1 2-.4 2-.2 2-.1 2 .1 2-.1 2-.1 2 .1 2 .1 2-.5 2-.2 2-.3 2 .6 2 .2 2 .2 2-.4 2 0 2-1 2 1.4 2 .1 2 .2 2-.4 2 0 2-.2 2 .1 2-.1 2-.1 .3 .1 .5 .4 .5-1.1 .5 .6 .2-.5 .3 .8 .5-.9 .5 .5 .5 .6 .2-.1 .3-.7 .5 .5 .5 .8 .5-1.3 .2 0 .3 .5 .5-.7 .5 .7 .5-.6 .2 .2 .3-.7 .5 .5 .5 0 .5 .2 .2-.4 .3-.1 .5 .8 .5-.6 .5 0 .2-.4 .3 .6 .5 .1 .5-.3 .5-.3 .2 .4 .3 .4 .5-.9 .5 .5 .5-1.4 .2 1.8 .3-.3 .5-.7 .5 .1 .5 1 .2-.7 .3-1 .5 .8 .5-.4 .5 .7 .2-.4 .3-1.2 .5 .8 .5 .5 .5-.7 .2 .1 .3-.6 .5 .4 .5-.2 .5 0 .2 .1 .3-.3 .5-1 .5 0 .5 .3 .2-.5 .3-.1 .5-.9 .5 .1 .5-1.3 .2-1.1 .3-.2 .5-2.7 .5-.7 .5-4.1 .2 .1 .3-1.2 .5-4.1 .5-4.1 .5-4.9 .2-1.2 .3-3.1 .5-5.6 .5-5.2 .5-5 .2-1.9 .3-2.1 .5-2.6 .5-2.3 .5 2.1 .2 1.3 .3 1.9 .5 3.9 .5 4.2 .5 5.2 .2 2.9 .3 2.9 .5 4.7 .5 5 .5 4.2 .2 1 .3 2.5 .5 3.5 .5 1.6 .5 2.7 .2 .4 .3 1.2 .5 .6 .5 .7 .5 .3 .2 .7 .3 .6 .5 .4 .5 0 .5 .6 .2-.2 .3 .2 .5 .3 .5 1.1 .5-1.3 .2 .6 .3 0 .5-.4 .5 .6 .5 .3 .2 .1 .3 .1 .5-.9 .5 1.4 .5-.1 .2-1.2 .3 .1 .5 1 .5-.3 .5-.2 .2 1.1 .3-1.4 .5 .8 .5 .4 .5-.5 .2-.3 .3 .2 .5-.3 .5 .5 .5 .2 .2 .9 .3-1.3 .5 .5 .5 0 .5 .2 .2-.9 .3 .8 .5 .2 .5 .4 .5-1.3 .2 .6 .3-.4 .5 .3 .5 .9 .5-.4 .2-.4 .3 .3 .5-1 .5 .5 .5 .3 .2-.1 .3-.1 .5 0 .5 .2 .5 .3 .2-.4 .3-.5 .5 .9 .5 .1 .5-.6 .2 .6 .3-.3 1.7 1.3 2-1.7 2 .9 2-.1 2-.7 2 .2 2-.5 2 1.3 2-.2 2 .4 2-1.1 2-.2 2 .8 2 .2 2-.7 2 .3 2-.4 2 .3 .5 .7 1-.9 .5-.3 .5-.2 1 1.7 .5-1.3 .5 .1 1 .1 .5 .3 .5 .1 1-.2 .5 0 .5 0 1-.1 .5 .4 .5-.8 1 .9 .5-.6 .5-.7 1 .9 .5-.9 .5 .5 1 1.1 .5-2.2 .5 .9 1-1 .5 .4 .5-1.3 1 .1 .5 .1 .5-.9 1 0 .5 1.5 .5-.9 1 0 .5 1.2 .5-1.3 1 1.8 .5 .2 .5 0 1-.1 .5 .4 .5 .3 1 0 .5-.3 .5 0 1 .9 .5 .2 .5-1 1 .3 .5-.2 .5 1.5 1-2.2 .5 1.5 .5-.8 1-.7 .5 .4 .5 .1 1-.2 .5-.1 .5 1 1-.4 .5 .4 .5-.5 1.5 .6 2-.8 2 .2 2-.6 2 1.1 2-.1 2-.4 2 .2 2-.4 2 .4 2-.9 2 1.1 2-.6 2 .2 2 .2 2 0 2 .2 2-1 2 1 2-.2 2-.6 2 1.1 2-.8 2 .6 2-.5 2 .4 2 .3 2-.4 2-1.2 2 .1 2 1 2 0 2 .6 2-.5 2 .3 2 0 2-.7 2 .9 2-.8 2 .2 2-.3 2 .6 2-.9 2 .5 2 .2 2-.3 2-.3 2 .4 2-.4 2 .4 2-.1 2 .5 2 .2 2-.8 2-.1 2-.3 1.5-.1 .5 .2 .5 .4 .5 .3 .5-.4 .5-.5 .5 0 .5 1.6 .5-1.7 .5-.6 .5 1.6 .5-1.1 .5 .2 .5-.2 .5-.5 .5 1 .5-.1 .5-.3 .5 .4 .5 .1 .5-.5 .5 .4 .5 .1 .5 .1 .5 0 .5 .2 .5-1 .5 .4 .5 0 .5 .1 .5-.4 .5-.2 .5 0 .5 .7 .5-.2 .5-.6 .5 0 .5 .7 .5-.3 .5 .1 .5-1.4 .5 1 .5-.2 .5-.8 .5 .4 .5 .7 .5-.6 .5-.6 .5 .7 .5-.6 .5-.3 .5 .3 .5-.9 .5 .6 .5-.5 .5-.3 .5 .2 .5-1.2 .5-.1 .5 0 .5-.1 .5-1.7 .5-2.2 .5-.7 .5-2.5 .5-2.2 .5-1.8 .5-4.1 .5-3.9 .5-5.6 .5-4.8 .5-4.9 .5-5.8 .5-5.8 .5-6.1 .5-4.6 .5-4.4 .5-2.9 .5-.8 .5 1.1 .5 2.4 .5 4.4 .5 5.4 .5 5.7 .5 5.5 .5 5.9 .5 5.7 .5 4.3 .5 5.6 .5 2.5 .5 4 .5 2.9 .5 1.9 .5 2.8 .5 .9 .5 1.4 .5 2 .5 .2 .5 .6 .5 .6 .5 .1 .5 .6 .5-.1 .5 .8 .5-.2 .5-.5 .5 .9 .5-.2 .5 .3 .5-.2 .5 .2 .5 0 .5 .2 .5 .4 .5-.6 .5 1.1 .5-.9 .5 1.1 .5-.8 .5-1 .5 1.6 .5-1 .5 .3 .5 1 .5 0 .5-.1 .5 0 .5-.5 .5 .7 .5-1.4 .5 1.4 .5 .1 .5-.7 .5 .2 .5 .6 .5 .1 .5-.4 .5 .5 .5-.3 .5 .6 .5-1.3 .5 .7 .5-.3 .5 .3 .5-.5 .5 1.3 .5-.7 .5 .2 .5-.1 .5-.7 .5 .6 .5-.2 .5 1 .5-1.6 .5 .3 .5-.1 .5 .7 .5-.2 2 .4 2-1.1 2 1.7 2-1.1 2 .6 2-.1 2-1.3 2 .6 2 .8 2-.1 2-.1 2-.1 2 .2 2-.2 2-.7 2 .1 2 0 2 .3 2-.1 2-.1 2-.2 .5 .7 .5 .2 .5-.5 .5-.6 .5 0 .5 .2 .5 .5 .5 0 .5-.1 .5-.1 .5 .5 .5-.4 .5 0 .5 .6 .5-.7 .5 .1 .5 .4 .5-.5 .5 .9 .5-.8 .5 .3 .5 0 .5 .4 .5-.2 .5 .5 .5-.3 .5 .1 .5-.4 .5-.8 .5 1 .5-.4 .5 .5 .5-.6 .5-.2 .5 .9 .5-.3 .5-.4 .5 .5 .5-.5 .5 1.1 .5-1.3 .5-.2 .5-.3 .5-.3 .5 1.3 .5-.6 .5 1.3 .5-1 .5 .6 .5-.2 .5-1 .5 .7 .5-.2 .5-.7 .5 .6 .5 .4 .5-.8 .5 0 .5 .4 .5-.9 .5 .2 .5-.2 .5 .1 .5-.4 .5 .3 .5-.5 .5-.4 .5-.2 .5-.5 .5-.1 .5-1.2 .5 .1 .5-1.5 .5-1.2 .5 0 .5 0 .5-1 .5-.1 .5-.4 .5-.3 .5 .9 .5-.1 .5 1.2 .5-.1 .5 .7 .5 1.5 .5 .1 .5 1 .5 .1 .5 .7 .5-.2 .5 1.2 .5 .3 .5 .9 .5-.4 .5-.4 .5-.1 .5 .9 .5 .1 .5 0 .5-.6 .5 .7 .5 .2 .5-.3 .5-.5 .5 .3 .5 1.1 .5-.6 .5-.3 .5 .5 .5-.6 .5 .2 .5 .4 .5-.8 .5 .1 .5 .3 .5-.5 .5 1.3 .5-1 .5-.5 .5 .4 .5-.4 .5 1 .5-.6 .5 .2 .5 .4 .5 .4 .5-.1 .5-1.2 .5 1.3 .5-.5 .5 .7 .5-.6 .5-.1 .5 .6 .5-.1 .5-1.3 .5 .2 .5 1.4 .5-.4 .5-.7 .5 .6 .5-.4 .5 .2 .5 .2 .5 .1 .5-.1 .5-.6 .5-.3 .5 1 .5 0 .5-.3 .5 .2 .5-.3 .5-.1 .5 .3 .5-.1 1.5-.3 2 .6 2-.9 2 1 2-.3 2 .8 2-1.2 2-.3 2-.5 2 .6 2 1.7 2-1.3 2-.6 2 1 2 .4 2-.7 2 .5 2-1 2 .7 2 .3 2-.5 2 .2 2-.7 2 .5 2 .2 2-.1 2-.4 2 .5 2-1.3 2 .7 2-.1 2 .3 2 0 2 .1 2 .9 2-.6 2-.2 2 .2 2-.6 2 .3 2 .6 2-.8 2 .9 2-1.2 2 .5 2 0 2-.3 2-.3 2 1.1 2-.2 2-.5 2-.1 2 .1 2 .9 2-.4 2 .3 2-.1 2-.4 2-.2 2 .3 2 0 2 0 2-.6 2 .4 2-.4 2-.4 2 1 2-.5 1.5 .1 .5 .2 .5 .4 .5-1 .5-.1 .5-.2 .5 .7 .5 .9 .5-1 .5 .1 .5-.2 .5-.5 .5 .6 .5-.5 .5 1.5 .5-1.1 .5 0 .5-.5 .5 .9 .5 .3 .5-.3 .5 .6 .5-.4 .5-.7 .5 0 .5-.6 .5-.3 .5 1.6 .5-1.2 .5 .7 .5 0 .5-.3 .5 .2 .5 .6 .5 .1 .5-.1 .5-.6 .5 1.2 .5-1 .5-.2 .5 .7 .5-.4 .5-.7 .5 0 .5 .4 .5 .2 .5-.2 .5-.8 .5 1.4 .5-.6 .5 .3 .5-.6 .5 .6 .5-1.4 .5 .9 .5 .3 .5-1.1 .5 0 .5 .6 .5-.8 .5 1 .5-.9 .5 .2 .5 .3 .5-1.7 .5-.8 .5-.4 .5-1.1 .5-.6 .5-1.5 .5-1.3 .5-1 .5-.9 .5-1.5 .5-1.3 .5-2.4 .5 .7 .5-1.7 .5 .3 .5-.5 .5 1 .5-.4 .5 2.3 .5 .8 .5 2.2 .5 .6 .5 2.1 .5 .7 .5 1.4 .5 .6 .5 .9 .5 1.4 .5 .8 .5-.2 .5-.3 .5 1.8 .5-.6 .5-.2 .5 1 .5-1.1 .5 1 .5 .5 .5-.4 .5 .2 .5-.2 .5-.6 .5 .3 .5 .1 .5 .4 .4-.6 .1 .3 .4 .5 .1 .2 .4-.6 .1 1 .4-.2 .1-.4 .4-.7 .1 1 .4 .5 .1-.3 .4 .3 .1-.5 .4-.3 .1-.4 .4-.3 .1 1.3 .4-1 .1 .3 .4-.6 .1 .1 .4 0 .1 .3 .4-.1 .1 .6 .4-.7 .1 .2 .4-.5 .1 .9 .4-.1 .1-.6 .4 .7 .1 .3 .4 .2 .1-.3 .4-1 .1 .9 .4-.8 .1 .9 .4-1.4 .1 .5 .4 .4 .1 .5 .4 .1 .1 0 .4-.8 .1 0 .4 .5 .1 .3 .4-.6 .1-.1 .4-.6 .1-.1 .4 .7 .1-.9 .4 .8 .1-.5 .4 .2 .1 .2 .4 .1 .1 .3 .4-.8 .1 .6 .4 .6 .1 .2 .4-.7 .1 .2 .4-.7 .1 .8 .4 .1 .1-.1 .4-.3 .1 .5 .4-.5 .1-.6 .4 1 .1-.4 .4-.9 .1-.7 .4 1.2 .1-1.1 .4 .8 .1 .2 .4-.3 .1 .8 .4-.6 .1 .3 .4-.8 .1 .8 .4 .2 .1-.5 .4-.3 .1-.1 .4-.7 .1 .7 .4 .1 .1-.8 .4 .1 .5 .8 .5-.3 .5-.6 .1 1 .4-1.5 .5-.6 .5 .5 .5 .1 .1-.4 .4-.2 .5-.3 .5-.4 .5-1 .1 .6 .4-2.2 .5-.7 .5-.7 .5-1.7 .1-.4 .4-3.1 .5-1.7 .5-2.8 .5-3.5 .1-.9 .4-2.9 .5-5 .5-4.8 .5-5.3 .1-.9 .4-4.7 .5-5.6 .5-4.5 .5-3.4 .1-1.5 .4-1.4 .5-.2 .5 .3 .5 2.6 .1 1.1 .4 2.9 .5 5.6 .5 4.6 .5 4.9 .1 .8 .4 4.1 .5 4.9 .5 4.4 .5 4.2 .1 .5 .4 3.4 .5 3.7 .5 1.8 .5 2.2 .1 .3 .4 .4 .5 2.3 .5 .8 .5 1.1 .1 .6 .4 1.3 .5-.1 .5 0 .5 .7 .1 .2 .4-1 .5 .6 .5 1.5 .5-.8 .1-.4 .4 .2 .5 .5 .5-.4 .5 1.3 .1-1.1 .4 1.9 .5-.2 .5-.8 .5 .2 .1 0 .4 .7 .5-.7 .5-.1 .5-.1 .1 .4 .4-.1 .5 .2 .5 .4 .5-.5 .1 .4 .4-.3 .5 .4 .5-.4 .5 .2 .1-.6 .4 .2 .5-.3 .5 .5 .5 .1 .1 .6 .4-.3 .5-.2 .5-.1 .5 1.3 .1-1.2 .4 .6 .5-.2 .5 .6 .5-1.9 .1 .7 .4 1.4 .5-1.1 .5 .8 .5-.8 .1 .8 .4 .2 .5-1.5 .5 .1 .5 1 .1-.5 .4 1 .5-.8 .5 .6 .5-.3 .1 .2 .4-.8 .5 .5 .5-.5 .5 .4 .1 .7 .4-.7 .5 0 .5 .6 .5-.2 .1 .4 .5-.1"/>
<path stroke="#F53E42" d="M187.5 3147.4l 2-.6 2 0 2 .4 2 .2 2 .2 2-.2 2 1 2-.9 2 .2 2-.3 2-.2 2 .3 2 .5 2-1 2-.5 2 .6 2 .8 2-.9 2 .6 2 .6 2-.4 2-1.2 2 1 2-.4 2 .2 2-.5 2 .7 2 .3 2-.6 2-.4 2 0 2 1.4 2-.9 2-.2 2 .6 2-.7 2 .2 2-.3 2 .6 2-.1 2 .6 2-.7 2-.2 2-.2 2 .7 2-.6 2 .3 2-.2 2 1 2-1.2 2-.3 2 .8 2-.2 2 0 2 .5 2 0 2-.1 2 .6 2-1.1 2 .8 2-.8 2 .5 2-1.5 2 1 2 .5 2 .2 2-.5 2-.4 2 .9 2 .3 2-1.6 2 .9 2 .2 2 0 2-.9 2 .8 2-.1 2-.1 2 .5 2 0 2-.6 2 .9 2-1.2 2 1.4 2-1.4 2 1.2 2-1.2 2 .8 2 .1 2-.7 2 .7 2-.8 2 .2 2 .3 2 0 2 .1 2 .1 2 1 2-.9 2-.3 2-.1 2 0 2 .1 2-.4 2 1.1 2-.7 2-.5 2 0 2 .8 2-.2 2-.5 2-.1 2 0 2 .6 2-.4 2-.6 2 1 2-1.4 2 .9 2 1 2-.4 2-1.3 2 .6 2 0 2 .8 2-.3 2 .5 2-.3 2 0 2-.8 2 .2 2 0 2-.4 2 1.3 2-.5 2-1 2 1.3 2-.8 2 .7 2-.6 2-.2 2-.1 2-.2 2 .4 2-.5 2 1.1 2-.6 2 .2 2 .3 2-.7 2-.2 2 1.5 2-1.6 2 .4 2 .7 2-.1 2-.3 2-.4 2 1.1 2-.3 2-.3 2 0 2 .5 2 .2 2-.6 2 0 2 .3 2-1.4 2 1.8 2-1.3 2 .5 2 .3 2-.3 2 .6 2 .4 2-.9 2 .3 2-.1 2 .3 2-.5 2-.1 2 0 2 .1 2 .4 2-.9 2 .8 2-.4 2-.1 2-.7 2 .4 2 .9 2-.7 2 .9 2-1.1 2-.2 2 .8 2-.6 2 .7 2 .2 2-.2 2-.3 2-.4 2 .7 2 0 2-.4 2 .1 2-.2 2 .3 2 0 2-.2 2 .3 2 .1 2-.1 2-.1 2-.2 2 .5 2-.4 2 .5 2-.2 2 .5 2-.8 1.5 0 .5 .2 .5 0 1-.2 .5 .1 .5 .2 1-.3 .5-.6 .5 .2 1 1.1 .5-1 .5 .2 1-.1 .5 0 .5 .2 1 .4 .5-.4 .5-.3 1 .2 .5 .2 .5-1 1 1.4 .5-1.5 .5 .6 1 .3 .5-.5 .5-.1 1-.8 .5-.7 .5 .8 1 .3 .5-1.5 .5-.2 1 .1 .5 .2 .5 .2 1 1.1 .5-.5 .5 1.2 1-.6 .5-.1 .5 .5 1 .5 .5-.2 .5 .3 1-.2 .5-.1 .5 .1 1-.3 .5 .2 .5 .1 1-.7 .5 1.6 .5-1.6 1 .8 .5 .3 .5-.2 1 .5 .5-.4 .5-.3 1 .3 .5 .3 .5 .3 1-.8 .5 .5 .5-.4 1-.6 .5-.4 .5 .6 1-.2 .5-.6 .5 1.1 1 .2 .5-.2 .5-.9 1 .1 .5-.5 .5 .4 1-.5 .5-.1 .5-.5 1 .2 .5-.7 .5-.3 1-.1 .5 .8 .5-.7 1 .8 .5-.4 .5 1.2 1 .1 .5-.6 .5 1.5 1-.8 .5 .2 .5 .8 1 .2 .5-.3 .5 0 1-.1 .5 .1 .5-.2 1-.1 .5 .9 .5-.7 1 .7 .5 .1 .5-.3 1-.2 .5-.7 .5 .1 1-.1 .5 .1 .5 .6 1-.9 .5 .8 .5 .2 1.5-.3 2 .1 2-1.7 .5 1.1 .5 .2 .5-.2 .5 0 .5-.2 .5-.1 .5 0 .5 .5 .5-1 .5 .2 .5 .5 .5-.5 .5 0 .5-.6 .5 .1 .5 .4 .5-1.3 .5 .5 .5 .5 .5-.2 .5-.1 .5 0 .5-1.2 .5-.1 .5 .4 .5-.6 .5-.5 .5 .5 .5 0 .5-.2 .5-.5 .5-.6 .5 .5 .5-1.4 .5-.5 .5-.6 .5-.5 .5-.9 .5-.8 .5-1.7 .5-1 .5-1.9 .5-3 .5-4.3 .5-5.7 .5-6.8 .5-11.1 .5-12.8 .5-16.9 .5-22.3 .5-22.4 .5-25.9 .5-26.1 .5-21.8 .5-15.9 .5-5.9 .5 6 .5 15.4 .5 22.6 .5 26.3 .5 25.1 .5 23 .5 20 .5 17.8 .5 13.1 .5 10.6 .5 8.4 .5 5.1 .5 4 .5 3 .5 3.1 .5 1.4 .5 .6 .5 .7 .5 1.2 .5 0 .5 .5 .5 1.1 .5 .2 .5 .5 .5 .5 .5 .4 .5 .5 .5-.4 .5 .6 .5 .4 .5 .4 .5-.2 .5-.3 .5-.4 .5 1 .5-.5 .5 .7 .5 .2 .5-.3 .5 .6 .5 .2 .5-.6 .5 .4 .5 0 .5-.7 .5 .6 .5 .6 .5-.1 .5 .4 .5-.8 .5 .4 .5-.2 .5 .2 .5 0 .5 .4 .5 .2 2 .1 2-.3 2 .4 2-.4 2 .5 2 .6 2 .1 2-.5 2-.6 2 .7 2 .7 2-.4 2-.2 2-.1 2-.1 2-.5 2 .4 2-.2 2 .6 2 .2 2-.5 2-.2 2 0 2 .2 2 .4 2-.2 2-1.3 2 1 2 1.1 2-.8 2 0 2 .1 2-.5 2-.6 2 1.3 1.7-1.3 .3 1.1 .2-.3 .5 .1 .5-.7 .5 .8 .3-.6 .2 0 .5 .1 .5 .3 .5-.2 .3 .3 .2 .5 .5-.3 .5-.5 .5 .7 .3-.6 .2-.1 .5 1 .5-.6 .5-.6 .3 .9 .2-.2 .5 .2 .5-.2 .5-.8 .3 .4 .2 .8 .5-.9 .5 .1 .5-.1 .3-.1 .2 .5 .5 0 .5-.1 .5-.1 .3-.3 .2 .6 .5 .3 .5-.3 .5-.7 .3 .6 .2-.2 .5-.2 .5-.4 .5 .3 .3 .2 .2-.2 .5-.3 .5 .3 .5-.1 .3-.3 .2 .6 .5-.1 .5-.3 .5-.9 .3 .9 .2-.2 .5-1.5 .5 0 .5 0 .3-.5 .2-1.9 .5-.1 .5-1.1 .5-.8 .3-.4 .2 .2 .5-1 .5-.3 .5-.3 .3 1.1 .2 .1 .5 .6 .5 1.4 .5 .6 .3 .1 .2 .5 .5 1.9 .5 .2 .5 .5 .3 1.3 .2-1.4 .5 .6 .5 .1 .5-.1 .3 .6 .2-.1 .5 .3 .5-1.2 .5 1.4 .3 .1 .2 .1 .5-.5 .5 .3 .5-.5 .3-.5 .2 1.8 .5-.8 .5 0 .5 .3 .3-.9 .2 .2 .5 1.1 .5-.5 .5 .7 .3-.8 .2 .7 .5-.8 .5 .1 .5-.2 .3 .4 .2-.3 .5-.4 .5 0 .5 .8 .3-.8 .2 .3 .5-.3 .5 .6 .5-.3 .3 .7 .2-.5 .5 .3 .5-.8 .5 .8 .3-1.3 .2 1.4 .5-.4 .5 .4 .5-1.2 .3 .7 .2-.7 .5 .6 .5-.1 .5-.2 .3-.3 .2 1 .5 .1 1.3-.4 2 .5 2-.4 2-.1 2-.1 2 .7 2-.8 2 .4 2-.1 2-.4 2 .6 2-.8 2 .7 2-1.2 2 .5 2 .3 2 .3 2 .4 2-.8 2 .4 2-.3 2 .3 2 .4 2 .4 2-.5 2 0 2-.9 2 .7 2-.5 2 .2 2 .6 2-.6 2-.1 2-.3 2 .4 2 0 2 .7 2-1 2 .7 2 .3 2-.9 2-.8 2 .7 2 .9 2-.8 2 .1 2 .5 2-.6 2-1.1 2 1.6 2-1.3 2 .8 2-.1 2-.3 2-.9 2 .9 2-.7 .5-1.2 .5 .8 .5-.1 .5 .5 .5-.9 .5-.2 .5 .9 .5 .4 .5-.5 .5-.6 .5 0 .5 0 .5 0 .5 .3 .5-.9 .5 .8 .5 0 .5-.8 .5 .8 .5-1.1 .5-.2 .5 .5 .5-1.4 .5 .9 .5-1.5 .5 .1 .5 0 .5-.9 .5-.3 .5-1 .5 .1 .5-.2 .5-1.1 .5-.2 .5-1.4 .5-.7 .5-1.4 .5-.6 .5-2.6 .5-1.6 .5-2.3 .5-4.5 .5-3.4 .5-6.9 .5-9.1 .5-12.4 .5-16.7 .5-22.4 .5-27.4 .5-34 .5-38 .5-41.1 .5-41.8 .5-35.9 .5-26.6 .5-9.3 .5 9.6 .5 25.5 .5 37.6 .5 41.3 .5 39.9 .5 39.5 .5 33 .5 27.8 .5 21.6 .5 17.4 .5 12.2 .5 9.4 .5 5.7 .5 4.5 .5 3.8 .5 2.1 .5 2.4 .5 2.5 .5 .7 .5 1.2 .5 1.6 .5 1 .5-.2 .5 .6 .5 .7 .5 .2 .5 1.2 .5 0 .5 .4 .5 .3 .5 .1 .5 .8 .5-.7 .5 .6 .5-.4 .5 .5 .5 .3 .5 .6 .5 0 .5 1 .5-.4 .5 0 .5 0 .5-.2 .5 .7 .5 .5 .5 .3 .5 .2 .5-.9 .5-.2 .5 .8 .5-.1 .5 .2 .5 .4 .5-.1 .5-.1 2 0 2-.5 2 .9 2-.3 2 .4 2-.2 2 .7 2-.9 2 .6 2 0 2 .5 2 .1 2-.1 2-.8 2-.2 2 .9 2-.3 2 .5 2-.2 2-.2 2 0 2 .3 2-.4 2 .4 2-.7 2 .2 2 .7 2-.5 2 .2 2-.4 2-.1 2 .4 2-.2 2 .5 2-.5 2 .2 2 .4 2-.8 2 .8 2-.3 2-.2 2 .4 2 .5 2-.8 2 0 2 .1 2-.5 2 0 2 .2 2 .4 2 .5 2-.9 2-.1 2 .4 2-.3 2 .5 2-.2 2-.2 2 .1 2-.2 2-.5 2 .1 2 .3 2 .3 1.5-.2 .5 .7 .5-.3 .5-.2 .5-.3 .5-.2 .5-.4 .5-.6 .5 .2 .5 1.1 .5 .1 .5-1 .5 .1 .5 .9 .5-.9 .5 .7 .5-.8 .5-.8 .5 1.1 .5-.9 .5 .8 .5-.4 .5 .2 .5-.5 .5 .2 .5 0 .5-.8 .5 .7 .5-.3 .5 .7 .5-.5 .5-.2 .5-.2 .5-.3 .5 .3 .5-1 .5 .1 .5-.3 .5-.9 .5 .6 .5-.4 .5-1 .5 .2 .5-1.2 .5-.2 .5-1.1 .5-.2 .5-2.1 .5-2 .5-2.1 .5-3.4 .5-4.4 .5-5.3 .5-7.5 .5-8.8 .5-10.2 .5-12 .5-14.6 .5-12.6 .5-12.9 .5-11 .5-7 .5-2.7 .5 2.4 .5 7.1 .5 11.4 .5 12.3 .5 14.2 .5 12.2 .5 13.6 .5 9.1 .5 9.5 .5 6.7 .5 6.3 .5 3.6 .5 4.1 .5 2.4 .5 2.2 .5 1.4 .5-.3 .5 2.1 .5 .7 .5-.3 .5 .3 .5 1.4 .5-.5 .5 .1 .5 0 .5 .8 .5 .3 .5 1.1 .5-.4 .5 .7 .5-.6 .5-.1 .5 .6 .5 .1 .5-.3 .5 .3 .5 .1 .5 .4 .5-.2 .5 .2 .5-.5 .5 0 .5 .8 .5-.4 .5 .4 .5-.9 .5 1.4 .5-.2 .5-.8 .5 .9 .5-.8 .5 1.1 .5-.7 .5 1 .5-1.2 .5 .8 .5-.6 .5 .6 .5-.2 .5-.8 .5 .9 .5 .4 .5-.6 2 .2 2-.3 2 .4 2-.5 2-.3 2 .7 2-.5 1 .1 .5 .6 .5-.3 .5-.4 .5-.5 .5 .3 .5 .2 .5-.3 .5 .4 .5-.9 .5 1.2 .5-.6 .5 .3 .5-.2 .5 .4 .5-.7 .5 .5 .5-.8 .5 1.2 .5-.8 .5 .4 .5-.2 .5-.8 .5 .9 .5-.7 .5-.3 .5 .2 .5 .5 .5-1.2 .5 1.1 .5 .3 .5-1.3 .5 .3 .5-.2 .5-1 .5 .5 .5-.6 .5 0 .5-.8 .5 .2 .5 0 .5 0 .5-1 .5-.9 .5 .4 .5-1.5 .5-.8 .5-.5 .5-1.9 .5-2.6 .5-3.3 .5-4 .5-4.9 .5-7.2 .5-7.4 .5-9.7 .5-11.1 .5-12.1 .5-11.6 .5-12.5 .5-10.6 .5-6.8 .5-2.2 .5 2.8 .5 6.4 .5 10.5 .5 11.4 .5 12 .5 12.6 .5 11.2 .5 9.9 .5 7.2 .5 6.3 .5 6.4 .5 3.1 .5 3.5 .5 2.7 .5 1.3 .5 1.7 .5 .2 .5 1.1 .5 1 .5 .1 .5-.1 .5 1.3 .5-.2 .5 .7 .5 .2 .5-.2 .5 .8 .5-.1 .5 .8 .5-1.5 .5 .7 .5 .9 .5-.7 .5 1.1 .5-1.1 .5 .4 .5 .2 .5 .1 .5 .1 .5-.5 .5-.1 .5 .8 .5 .5 .5-.2 .5-.2 .5 .1 .5 0 .5-.7 .5 .8 .5-.5 .5 .6 .5-.7 .5 .8 .5-.7 .5 .4 .5 .1 .5-.2 .5 .7 .5-.2 .5 .2 .5 .2 .5 .1 1-.1 2-.2 2-.3 2 1 2-1.1 2 .1 2 .6 2 .4 2-.8 2 .6 2-.5 2 .4 2 .4 2-.1 2-.4 2 .1 2 .3 2-.5 2-.2 2-.1 2-.5 2 1.3 2-1 2 1.1 2-.9 2-.6 2 .7 2 .1 2 .4 2-.1 2-.3 2-.3 2 .5 2-.4 2 0 2 .4 2 .3 2 .7 2-1.3 2-.1 2-.1 2 0 2 .4 2 .4 2-.3 2 .7 2 0 2-1 2 0 2 .1 2 .4 2-.4 2-.2 2 .5 2 .6 2-.3 2-.6 2 .2 2 .2 2-.8 2 .4 2 .6 2 .1 2-.6 2 .1 2 0 2-.5 2 1.8 2-1.1 2 0 2 .9 2-.9 2 .5 2-.5 2-.8 2 .4 2 1.1 2-.8 2 .2 2-.8 2 .5 2 0 2 .6 2-.3 2-.8 2 1.1 2-.9 2 .6 2-.3 2 .4 2 .1 2-1.3 2 .2 2 .5 2 0 2-.3 2 .3 2 .1 2-.1 .5 0 .5 0 .5 .3 .5-.5 .5-.4 .5 .9 .5 0 .5 .1 .5 .2 .5-.4 .5-.4 .5-.1 .5-.9 .5 .6 .5 0 .5-.4 .5 1.6 .5-1.2 .5 .4 .5-.1 .5 0 .5 .4 .5-.7 .5-.1 .5 .5 .5-.4 .5-.7 .5 .6 .5 .2 .5-.4 .5 .5 .5-.2 .5 0 .5-.9 .5 .8 .5-.1 .5 .7 .5-1 .5 .4 .5-.2 .5-.2 .5 .1 .5-.3 .5-.9 .5 .8 .5 0 .5-.1 .5-1.2 .5 .2 .5 .6 .5-.3 .5-.7 .5-.8 .5-1.6 .5-.1 .5-1.3 .5-1 .5-2 .5-2.9 .5-2 .5-4 .5-4.6 .5-4.2 .5-5.3 .5-5.5 .5-4.3 .5-5.1 .5-3.3 .5-2.7 .5-.5 .5-.2 .5 2.5 .5 4.3 .5 5.7 .5 4 .5 5.5 .5 5.7 .5 4.2 .5 4 .5 2.7 .5 3.1 .5 2.5 .5 1.3 .5 2.1 .5 1.8 .5-.3 .5 2.1 .5-.2 .5 .6 .5 .4 .5-.5 .5 .3 .5 .6 .5 .3 .5-.4 .5 .6 .5 .5 .5-1.1 .5 1.3 .5 .4 .5-.5 .5-.3 .5 .9 .5-.2 .5-.2 .5 .5 .5 .1 .5-1.1 .5 .9 .5-.7 .5 .5 .5-.4 .5 .1 .5 .1 .5 .3 .5 .2 .5-.1 .5-.2 .5 .6 .5-.1 .5-.3 .5 .9 .5-.7 .5-.4 .5 .9 .5-.7 .5-.6 .5 .5 .5 .6 .5-.2 .5 .9 .5-1.6 .5 1.2 .5-1.5 .5 .4 .5 1.6 .5-.6 .5-.8 .5-.1 .5 .3 2-.3 2 .6 2-.2 2-.7 2 .6 2-.4 2 .9 2-.4 2-.3 2 .1 2-.6 2 1.3 2 0 2-.6 2 .3 2-.5 2 .2 2 .2 2-.1 2 .6 2 0 2-.8 2-.5 2 1.1 2 .7 2-1.1 2 .1 2-.3 2 1 2-.9 2 .1 2-.1 2 .2 2-.8 2 1.1 2 .3 2-.7 2 .1 2-.1 2 .1 2-.2 2 .3 2 1.1 2-1.1 2 .6 2 .6 2-.7 2-.2 2-.2 2-.2 2 0 2 0 2-.1 2 .5 2-.3 2-.5 2-.1 2 .6 2-.2 2 .7 2-.6 2 .3 2-.8 2 .5 2 0 2-.3 2 .2 2-.6 2 .6 2-.7 2 0 2 1.2 2 .6 2-1.2 2-.3 2 .6 2 0 2 .7 2-1.7 2 .8 2 .6 2-1.3 2 1 2 .5 2 0 2-.1 2-.6 2-.4 2 0 2 .1 2 .8 2-1.4 2 1.1 2 .2 2-1.1 2 .1 1 1.4 .5-1.2 .5-.4 .5 .6 .5 .2 .5-.3 .5-1.3 .5 1.4 .5-.1 .5-.5 .5-.1 .5-.4 .5 .6 .5 .7 .5 0 .5-.1 .5 0 .5 0 .5-.2 .5-.7 .5 .7 .5-.8 .5 .1 .5 .8 .5-1.3 .5 1.8 .5-.8 .5-.7 .5 .4 .5-.2 .5 .5 .5 .5 .5-.6 .5-.3 .5 .1 .5 .6 .5-.9 .5 .2 .5 .4 .5-1.1 .5 .7 .5 .3 .5 .1 .5-1 .5-.5 .5 .3 .5-.3 .5 .7 .5-.8 .5-.3 .5 .3 .5-.5 .5-.1 .5-.1 .5-.3 .5-.4 .5-.3 .5-.6 .5-1.5 .5 .7 .5-2.3 .5 1.1 .5-2.8 .5-.6 .5-2.3 .5-2.3 .5-3 .5-3.5 .5-4.2 .5-4.5 .5-5.6 .5-5.3 .5-6.6 .5-5.7 .5-6.3 .5-4.9 .5-4.6 .5-2.8 .5-.8 .5 1.2 .5 2.4 .5 5.4 .5 5 .5 4.6 .5 6.3 .5 6.9 .5 5.5 .5 4.9 .5 4.4 .5 5.5 .5 3.4 .5 2.3 .5 2.2 .5 2.9 .5 1.7 .5 1.6 .5-.2 .5 1 .5 .4 .5 1.1 .5-.8 .5 1.4 .5 1.3 .5-1 .5 0 .5 .3 .5-.3 .5 .2 .5 .7 .5 .5 .5-.5 .5 .2 .5 .3 .5-.4 .5-.7 .5 1.3 .5 0 .5-.3 .5 .1 .5 .8 .5 .1 .5 .2 .5-1.5 .5 .9 .5 .9 .5-.5 .5-.9 .5 .3 .5 .8 .5 .1 .5-.6 .5 .1 .5-.7 .5 1.8 .5-.9 .5 .3 .5 0 .5-.7 .5 1.7 .5-1 .5 .3 .5 0 .5 .1 .5-.2 .5 0 .5-.3 .5 .5 .5-.6 .5 .4 .5-.7 .5 .3 .5 .4 .5-.1 .5-.8 .5 .4 .5 .5 .5-.2 1 .5 2-.4 2 0 2-.3 2 0 2 .4 2-.5 2 .3 2 1.4 2-1.7 2 .6 2-.4 2 .8 2-.9 2 0 2 .3 2-.1 2 .7 2-.4 2-.1 2-.2 2-.4 .3 1.2 .5-.4 .5 0 .5 .5 .2 0 .3 .1 .5-.6 .5-.3 .5-.5 .2 .8 .3-.1 .5 .1 .5-.3 .5-.4 .2-.1 .3-.1 .5 .8 .5-.2 .5-.2 .2-.4 .3 .1 .5 .5 .5-.6 .5 1 .2-.4 .3 .2 .5-.3 .5 0 .5 .2 .2-.2 .3 .1 .5 0 .5 .3 .5-.5 .2 .9 .3-.9 .5-1.2 .5 1.2 .5-.2 .2 .6 .3 .4 .5 .1 .5-.5 .5 .5 .2-1.2 .3 .3 .5 .1 .5 .1 .5-.8 .2 .1 .3 .9 .5-.2 .5 .4 .5-1 .2 .7 .3-.6 .5 .5 .5 .1 .5-.7 .2 .9 .3-.2 .5 0 .5 0 .5-.2 .2 .5 .3-.8 .5 .6 .5-.7 .5 .3 .2-.2 .3 .6 .5-1.1 .5 0 .5 .2 .2 .2 .3 .4 .5-.1 .5-.4 .5-.1 .2-.1 .3-.5 .5 0 .5-.9 .5-.7 .2-.2 .3 .1 .5-.9 .5-.7 .5-.4 .2-.7 .3 .1 .5-.3 .5-1.6 .5-.4 .2-.8 .3 .7 .5-1.4 .5-.2 .5 .3 .2 .1 .3 .9 .5-.8 .5 2.1 .5 .4 .2 .7 .3-.1 .5 .8 .5 1.2 .5 .4 .2 .6 .3-.3 .5 1.1 .5 .2 .5 .2 .2 .2 .3 .2 .5 .5 .5-.1 .5 0 .2-.4 .3 .5 .5-.2 .5 0 .5 .7 .2-.6 .3 .1 .5 .7 .5-.1 .5-.8 .2 .6 .3-.3 .5 .5 .5-.6 .5 .5 .2 .4 .3 .4 .5-.9 .5-.4 .5 .9 .2 .2 .3-.8 .5 .7 .5 .6 .5-.3 .2 0 .3 .1 .5-1 .5-.1 .5-.2 .2 1.6 .3-2.1 .5 1.8 .5-.9 .5-.3 .2 .2 .3 .1 .5 .8 .5-.3 .5 0 .2-.7 .3 .2 .5 .8 .5-.3 .5 .3 .2-.8 .3 .1 .5 .8 .5-.4 .5 .1 .2-.1 .3 .2 .5-.2 .5 .1 .5 .3 .2 .3 .3-1.4 .5 1.5 .5-1.5 .5 1.4 .2-.7 .3-.4 .5 .6 .5-1.1 .5 1 .2-.2 .3 .4 .5-.3 .5 .1 .5-.2 .2 .8 .3-.1 .5-.7 .5 .6 .5-.3 .2 .4 .3 .3 1.7-.5 2-.5 2 .2 2 .1 2 .3 2-1 2 1.2 2-1.4 2 .5 2 .8 2 .3 2-1.2 2 1.1 2-.7 2-.5 2 .5 2-.2 2-.3 2 .8 2-.9 2 .8 2-.7 2 0 2 .4 2-.5 2 .3 2-.5 2 .8 2-.1 2-.3 2 .1 2 .6 2-.9 2 .8 2-.1 2 .4 2-.3 2-.9 2 .9 2-.5 2 .3 2-.2 2-.7 2 .2 2 .9 2-.1 2 .5 2-.9 2 0 2-.4 2 1.4 2-.9 2 .6 2-1.1 2 1.4 2-.6 2-.1 2 0 2-.3 2-.1 2-.2 2 1.1 2-.4 2 0 2 .1 2 .1 2-.2 2-.5 2 1 .4-.2 .5-.4 .5-.9 .5 .9 .1 .1 .4-.8 .5 .4 .5 .4 .5-.8 .1 .7 .4 .3 .5-.3 .5-1 .5 1.3 .1-1.1 .4 .2 .5 .8 .5-.3 .5-.2 .1-.3 .4 .2 .5-.4 .5 .5 .5 .2 .1-.3 .4 .2 .5-.3 .5 .1 .5 .3 .1-.6 .4 .6 .5-.1 .5 1.1 .5-1.2 .1 .2 .4-.6 .5 1.6 .5-1.2 .5-.4 .1 .5 .4 0 .5-.1 .5-.4 .5 .3 .1 .7 .4-1.1 .5 1.1 .5-.7 .5-.5 .1 .7 .4 .5 .5-.8 .5-.1 .5 .7 .1 .1 .4-.8 .5 0 .5-1 .5 1.1 .1-1.1 .4 .2 .5 .4 .5 0 .5 0 .1-.2 .4 .5 .5-.2 .5-.3 .5-.2 .1 .2 .4 .2 .5-.4 .5 .1 .5 0 .1 .5 .4-.9 .5-1 .5 0 .5 .4 .1-1.7 .4-.3 .5 .1 .5-.1 .5-.9 .1 0 .4-1.9 .5-.6 .5-1.5 .5-1.1 .1-.7 .4-1 .5-1.5 .5-1.6 .5-2.5 .1 .2 .4-1.1 .5-.5 .5-.2 .5 .9 .1-.3 .4-.1 .5 2 .5 1.5 .5 .2 .1 1.9 .4 1 .5 1 .5 1.7 .5 .9 .1 1 .4 .9 .5 1.2 .5 .5 .5 .6 .1 1.2 .4 .6 .5-1.1 .5 .6 .5 1.2 .1 0 .4 .6 .5-.5 .5 0 .5-.1 .1 .9 .4-.1 .5-.4 .5 .5 .5-.7 .1-.2 .4 1.1 .5 .2 .5-.2 .1-.3 .4 .4 .1-1.7 .4 1.5 .1-.9 .4 1 .1 .2 .4 .2 .1 0 .4 .1 .1-.3 .4 .1 .1-.6 .4 .7 .1-.2 .4-.2 .1-.3 .4-.1 .1-.1 .4 .5 .1 .4 .4-.4 .1 .6 .4-1 .1 1.6 .4-1.1 .1-.1 .4-.1 .1-.2 .4 .2 .1-.1 .4 .4 .1 .2 .4-.4 .1-.5 .4 1.5 .1-.6 .4 .1 .1-.1 .4 .3 .1-.3 .4-.5 .1 .5 .4-1.2 .1 1.5 .4-1.1 .1 .4 .4-.4 .1 .2 .4-.4 .1 .5 .4 .6 .1-.6 .4-.6 .1 1.3 .4-.8 .1 .6 .4-.5 .1 .3 .4-.2 .1 .3 .4-.6 .1 .7 .4-.1 .1-.9 .4 0 .1 .1 .4 .6 .1-.3 .4 .2 .1-.9 .4 .8 .1-.9 .4 .7 .1-.6 .4-.1 .1 .4 .4 .6 .1-1 .4 .1 .1 .9 .4-.7 .1 .2 .4-.1 .1 .6 .4-.4 .1 0 .4 0 .1-.3 .4-.6 .1 .2 .4 .2 .1-.4 .4 .2 .1 .1 .4-.8 .1 .8 .4-.2 .1-.5 .4 .1 .1 .3 .5-1.2 .5 .2 .5 .8 .5-1.1 .5 .5 .5-.7 .5-.4 .5-.4 .5-1.1 .5-1.2 .5-.3 .5-.5 .5-2.2 .5-1.4 .5-3.3 .5-1.7 .5-3.4 .5-3.1 .5-5.2 .5-5 .5-5.6 .5-4.7 .5-5.7 .5-4.8 .5-5.8 .5-3.7 .5-2.5 .5-.6 .5 .2 .5 2.7 .5 4.4 .5 4.3 .5 5.9 .5 5.6 .5 5.7 .5 4.8 .5 3.8 .5 5.7 .5 3.3 .5 4 .5 2.6 .5 1.4 .5 2.1 .5 1.6 .5 1.6 .5 .8 .5 .5 .5 0 .5 1.5 .5 .4 .5-.2 .5 1.1 .5 .4 .5-1.3 .5 1.3 .5-.2 .5 .2 .5-1.1 .5 1.2 .5 .1 .5-.8 .5 .7 .5 0 .5 .1 .5-.3 .5 1 .5-.3 .5-.1 .5 .6 .5-.7 .5 .6 .5 1.1 .5-1.5 .5 .4 .5 .3 .5-.1 .5-.8 .5 .7 .5-.5 .5 .8 .5 0 .5-.3 .5 .6 .5 .1 .5-.9 .5 .1 .5 .3 .5 .5 .5 .1 .5 .1 .5-.4 .5-.6 .5 .7 .5 0 .5-1.1 .5 .2 .5 .6 .5 .9 .5-.7 .5 .2 .5-.6 .5-.6 .5 1.5 .5-1 .5 .8 .5-.8 .5 1.1 2-.8 2-.2 2-.2 .5 1"/>
<path stroke="#1868E0" d="M187.5 3027.1l 2-.4 2-.4 2 .5 2 0 2-.4 2 .7 2 .3 2-.2 2 0 2 .1 2-.5 2-.1 2 .1 2 .1 2 .9 2-1.7 2 1.4 2-1.1 2 .5 2 .1 2-.6 2 .6 2 .6 2-.7 2 .7 2-1 2 .3 2 .5 2-.9 2 0 2 .8 2-.3 2 .6 2-1.1 2 .6 2 .3 2-.2 2 0 2-.4 2 .3 2-.4 2 .1 2 .6 2-1 2 .6 2 .1 2 0 2-.8 2 1.2 2 .1 2-.7 2 0 2 .1 2-.6 2 .8 2 0 2-.2 2 .2 2-.5 2 .9 2 .2 2-1.6 2 .7 2 .5 2-.5 2-.2 2 .4 2 .6 2-.7 2 0 2 .6 2-.7 2 .4 2-.4 2 .3 2-.5 2 1.2 2-.6 2 .5 2-.9 2-.1 2 .2 2-.4 2 .1 2-.1 2 .4 2 0 2 .1 2 .1 2 .1 2-.1 2-.3 2 .7 2-.7 2-.5 2 1.3 2-.2 2-.6 2 .7 2-.6 2-.2 2-.4 2 1 2-.8 2 .5 2-.7 2 .6 2-.7 2 .8 2-.1 2 0 2-.4 2 .7 2-.2 2-.5 2-.5 2 .9 2-.5 2-.6 2 .9 2 .3 2 .3 2-.1 2-.5 2-.2 2 .3 2 1 2-.9 2-.4 2 .1 2 .8 2-.2 2-.3 2-.4 2 .2 2 .4 2-.3 2 .9 2-.3 2-.5 2-.1 2 1.1 2-.8 2 .3 2-.7 2 .5 2-.3 2 .7 2-.4 2-.4 2 .5 2 .4 2-1.8 2 1.3 2-.2 2 .9 2-.7 2-1.6 2 1.9 2-.1 2-.5 2 .7 2-.4 2-.1 2-.2 2-.5 2 .4 2 .1 2-.6 2 .9 2 .5 2-1.2 2-.2 2 0 2 .5 2-.4 2 .2 2 .2 2 .4 2-.7 2 .6 2 .3 2-1.2 2-.1 2 .6 2-.1 2 1 2-.4 2 .2 2 0 2-.1 2-.6 2 .3 2 0 2-.5 2 .8 2-.6 2-.2 2 .7 2-.1 2 .9 2-1 2-.3 2 .6 2-.6 2 .6 2-.6 2 .3 2-.2 2-1.1 2 .2 2 1.1 2 0 2-.6 2 .5 2-.3 2 .3 2-.1 2-1.1 2 .8 2 .1 2 .3 2 .1 2 .2 2-.1 2-.9 2 1.3 2-.2 2-.3 2 .7 2-1.1 2 .1 2-.8 2 1.6 2-1 2 .9 2-.9 2 .2 2 .4 2-.9 2 .6 2-.6 2 1.6 2-.1 2-1.2 2 .6 2-.4 2 .4 2-.7 2 .7 2-.5 2 .5 2 .4 2-.9 2 .3 2-.2 2-.1 2 .2 2-1.2 2-.1 2 1.4 2-.2 2 0 2 .4 2-.9 .5 .4 .5-.4 .5-.1 .5-.2 .5 1.2 .5-.1 .5-.5 .5-.4 .5 .9 .5-.8 .5-.1 .5 0 .5 .3 .5-.2 .5 .5 .5-.9 .5 .9 .5-.7 .5-.1 .5 0 .5 .1 .5-.1 .5-.3 .5 .2 .5-.4 .5 .5 .5-.6 .5-.5 .5 1.2 .5-1.7 .5 .7 .5-.4 .5 .6 .5-.1 .5-.8 .5-.8 .5 .7 .5-1.6 .5 0 .5-1.2 .5 .1 .5-1.3 .5-1 .5-3.1 .5-2.7 .5-4.1 .5-5.7 .5-7.7 .5-7.4 .5-9 .5-10.4 .5-9.7 .5-9.3 .5-7.2 .5-1.5 .5 2.2 .5 7 .5 7.8 .5 10.9 .5 10.6 .5 8.4 .5 8.9 .5 6.6 .5 5.3 .5 4 .5 3.3 .5 2.6 .5 .1 .5 2.7 .5-1 .5 2.1 .5-.1 .5 1.1 .5-.2 .5 .2 .5 .3 .5 .8 .5-.5 .5 .2 .5-.4 .5 .7 .5 .7 .5-.6 .5-.1 .5 1.2 .5-1.1 .5 1.4 .5-.1 .5-.8 .5 .3 .5 .1 .5 0 .5-.5 .5 .4 .5 .1 .5 0 .5-.7 .5 .3 .5 1.4 .5-1 .5 .7 .5-.4 .5-.7 .5 1.1 .5-1.2 .5 .6 .5 .4 .5 .5 .5-.4 .5 0 1-.3 2-.1 2 0 2 .6 2-.6 2 .4 2 .2 2-.5 2 .4 2-.1 2 0 2-.4 2 .9 2-.5 2 .6 2 .4 2-.9 2-.2 2 .6 2-.5 2-.1 2 .4 2-.6 2 .8 2-.3 2-.8 2 .6 2-.2 2 .6 2 .3 2 0 2-1 2 .5 2 0 2-.1 2 .7 2-.1 2 0 2-.4 2-.4 2 .8 2-.5 2-.3 2 .4 2 .7 2-.3 2-.5 2 .1 2 .7 2-.8 2 .8 2-1.5 2 1.1 2-.3 2 .1 2-.3 2 1 2-.6 2 .2 2-.2 2-.3 2-.1 2 .1 2-.7 2 .8 2-.5 2 1 2-.4 2 .3 2-.7 2-.3 2 .8 2-.4 2-.2 2-.2 2-.3 2 .4 2 .6 2-.7 2 .9 2-.5 2 .4 2-.6 2-.2 2 .8 2 0 2 .2 2-.8 2 .6 2-.1 2-.2 2-.3 2 .3 2 .4 2-.4 2-.5 2 1.1 2-.4 2 .3 2-.7 2 .6 2-1.1 2 .8 2-.4 2 .1 2 .3 2 .1 2-.6 2 .9 2-.7 2-.4 2 .8 2-.5 2 0 2-.3 2 .2 2-.3 2 .7 2-1.5 2 .9 2-.2 2-.3 .5 .4 .5 0 .5-.2 .5-.2 .5-.4 .5 .9 .5-.4 .5 .4 .5 .2 .5-.5 .5 .3 .5-1.2 .5 .2 .5 .8 .5 0 .5-.1 .5-.1 .5-.8 .5 .9 .5-1.1 .5 .1 .5 .9 .5-1.5 .5 .2 .5-.6 .5 .4 .5 1.3 .5-1 .5-.3 .5 .4 .5-.5 .5-1.2 .5-.7 .5 .8 .5-.5 .5-.8 .5-.1 .5-.1 .5-2.1 .5-.5 .5-.7 .5-1.5 .5-2.7 .5-2 .5-3.7 .5-6.1 .5-7.8 .5-8.9 .5-11.4 .5-15.4 .5-17.7 .5-17.6 .5-17.7 .5-16 .5-11.2 .5-3.4 .5 3.5 .5 10.9 .5 16.1 .5 19 .5 17.5 .5 16.5 .5 14.5 .5 12.1 .5 9.1 .5 8.2 .5 4.9 .5 3.9 .5 3 .5 1.9 .5 2.2 .5 .9 .5 .1 .5 1.1 .5 .6 .5 .8 .5 0 .5 1.1 .5 .4 .5 .1 .5-.3 .5 .1 .5 .1 .5 .7 .5 .6 .5 .1 .5-.7 .5 .5 .5 .6 .5-1 .5 .7 .5 .9 .5-.4 .5-.4 .5 .3 .5-.5 .5 .6 .5 .1 .5 .1 .5-.2 .5 .3 .5 .9 .5-.7 .5 0 .5 .6 .5-.4 .5-.1 .5-.2 .5 0 .5-.3 .5 .6 .5-.2 2 .2 2 .8 2-.8 2 .2 2-.5 2 .5 2-.1 2 .1 2 .1 2 .3 2 .4 2-.4 2-.1 2 .3 2-.6 2 .3 2 .4 2 .3 2-.4 2-1.4 2 1.1 .5-.1 1 .7 .5 .1 .5-1.2 1-.3 .5 0 .5 1 1 .4 .5-.8 .5-.4 1 .5 .5 .6 .5-1 1 .8 .5-.4 .5-.4 1 .6 .5-.8 .5 1.2 1-.6 .5 .1 .5-.3 1-.2 .5-.5 .5 .6 1-.7 .5-.1 .5-.5 1-1.1 .5 .3 .5-1.5 1 1.2 .5-.3 .5 .1 1 .7 .5 .1 .5-.2 1 1.1 .5 .3 .5 .2 1-.2 .5 .8 .5-.6 1 1.9 .5-1.4 .5 .5 1-.4 .5 .9 .5-1.5 1 .5 .5-.4 .5 .8 1 .1 .5-.8 .5 1.2 1-.9 .5 .4 .5-.1 1 .4 .5 .1 .5-.9 1 .3 .5-.2 .5 .2 1.5-.6 2 1.3 2-.6 2 .5 2-.5 2-.1 2-.6 2 .6 2 .7 2-.5 2 .6 2-.6 2-.1 2-.2 2 0 1 .6 1-1.1 1 .3 1-.5 1 1.4 1-.6 1 .1 1-.4 1 .7 1-.1 1-.8 1 0 .5 .1 .5 .7 .5-.7 .5-.6 .5-.2 .5-.1 .5 .3 .5-.4 .5-.2 .5-.6 .5 0 .5-1.2 .5 .3 .5-.2 .5-.2 .5-.5 .5 .3 .5-.6 .5 0 .5 0 .5 0 .5 .6 .5 .4 .5 0 .5 .4 .5 .8 .5 0 .5 .1 .5 .5 .5-.3 .5-.6 .5 1 .5-.1 .5-.2 .5 .5 .5-.5 .5-.3 .5-.5 .5-.4 .5 .4 .5-.4 .5-.6 .5 .4 .5-.2 .5 .2 .5-1.7 .5-.5 .5-1.7 .5-.9 .5-2.2 .5-.9 .5-3.5 .5-4.8 .5-4.3 .5-6 .5-8 .5-7.6 .5-10.3 .5-8.8 .5-8.9 .5-8.2 .5-5.1 .5-2.5 .5 2 .5 5.4 .5 7.2 .5 10.6 .5 9 .5 8.1 .5 9.6 .5 6.8 .5 5.9 .5 5.1 .5 4.3 .5 2.3 .5 3.3 .5 1.5 .5 1.3 .5 1.5 .5 .2 .5 .6 .5 .1 .5 1 .5 .3 .5-.4 .5 1.2 .5 .4 .5-1 .5 1.1 .5 0 .5-.1 .5 .7 .5-1.2 .5 .9 .5-.1 .5 .6 .5-.3 .5-.4 .5 .4 .5-.2 .5 .2 .5 .5 .5 0 .5 .2 .5-.4 .5 .8 .5-.7 .5 .4 .5 .5 .5 0 .5-.9 .5-.5 .5 1.3 .5-.4 .5-.8 .5 .7 .5-.1 .5 .4 .5-.2 .5-.3 .5 .8 .5-.9 .5 1.2 .5-1.4 .5 .6 1.5 .2 2-.1 2 .1 2-.6 2-.2 2 .7 2-.3 2 .6 1.3-.7 .5 .7 .2-.9 .3-.1 .5 .3 .5 .4 .5-.1 .2 .1 .3-.3 .5-.1 .5 .3 .5 .4 .2-.8 .3-.2 .5 .4 .5-.1 .5 1.4 .2-1.2 .3 0 .5-.2 .5 .5 .5-.8 .2 0 .3 .6 .5 0 .5 .2 .5 .1 .2-1 .3 1 .5-.7 .5 .1 .5 .9 .2-.5 .3-.1 .5-.2 .5-.5 .5-.6 .2 1.2 .3-.2 .5-.4 .5 .1 .5-.5 .2-.1 .3-.2 .5 .3 .5 0 .5-.8 .2 1.2 .3-.5 .5-1.2 .5-.4 .5 .4 .2-.4 .3-.9 .5 .6 .5 0 .5-.5 .2-.5 .3 .1 .5-1.3 .5-.5 .5-1.8 .2-.6 .3-1.3 .5-2.1 .5-3.7 .5-3.1 .2-3 .3-2.4 .5-6.4 .5-6.4 .5-7.8 .2-2.8 .3-5.2 .5-7.3 .5-6.3 .5-3.9 .2-1.1 .3-1.2 .5 1.6 .5 4.8 .5 6.3 .2 3.3 .3 4.5 .5 7.6 .5 6.3 .5 7.8 .2 2.8 .3 3.2 .5 4.8 .5 3.7 .5 3.7 .2 1.5 .3 .6 .5 2.4 .5 2.1 .5-.5 .2 .6 .3 1.2 .5-.1 .5 1.5 .5 .3 .2-.1 .3 .5 .5-.4 .5 .2 .5-.3 .2 1.1 .3 .7 .5-.4 .5-.7 .5 .8 .2 .4 .3-.4 .5-.6 .5 1.5 .5-.7 .2 .3 .3-.6 .5 1.1 .5-.8 .5-.1 .2 .2 .3 .7 .5-.6 .5 0 .5-.7 .2 1 .3 .5 .5-1 .5 .5 .5-.6 .2 1.1 .3-.5 .5 .3 .5 .2 .5-1 .2 .6 .3 .3 .5-.1 .5-.4 .5 .1 .2-.2 .3 .1 .5 .6 .5-.4 .5-.4 .2 .9 .3-.7 .5 .3 .5 0 .5 1 .2-1.5 .3 1.2 .5-.6 .5 1.1 .7-1.9 2 1.4 2-.7 2-.5 2 .9 2-.3 2 .6 2-.5 2 .3 2 .4 2-1.4 2 .5 2-.1 2-.5 2 .8 2-.2 2 1 2-1.2 2 .6 2-.5 2 0 2 .3 2 .8 2-.7 2-.2 2 0 2 .9 2-.3 2-.5 2 .2 2 .6 2-.1 2-.1 2-.9 2 1.4 2-.7 2-.2 2 .3 2 .5 2 .2 2-.2 2 0 2-.8 2 .8 2-.8 2-.1 2 0 2 .1 2 .6 2-.4 2-.5 2 .8 2-.6 2 .9 2-1.3 2 .5 2 0 2 .1 2-1 2 1.2 2-.2 2 0 2-.4 2 .8 2 .2 2-.3 2 .3 2-.3 2 0 2-.9 2 1.1 2-1 2 .8 2 .3 2 .1 2-.5 2-1.3 2 .9 2 .2 2-.1 2-.3 2-.7 2 1.1 2 .6 2-.8 2 .4 2-.1 2-1.1 2 .9 2-.3 2 .9 2-1.1 2 .2 2 1 2-.6 2-.5 2 .1 2 .1 1.1-.3 .5 .8 .4-.6 .1-.3 .5-.2 .5 .4 .5-.1 .4 .6 .1-.3 .5 .5 .5 .1 .5-1.2 .4 .4 .1-.2 .5 .3 .5-.4 .5 .6 .4 .4 .1-.4 .5-.6 .5 .3 .5 0 .4 .9 .1-1 .5 .6 .5-.6 .5 .2 .4 0 .1 .1 .5-.5 .5 0 .5-.4 .4-.2 .1 1.3 .5-1 .5 .8 .5 .5 .4-.7 .1-.7 .5 1.7 .5-.3 .5-.6 .4 .2 .1-.8 .5 .5 .5-.5 .5-.8 .4 1.3 .1-.3 .5 .3 .5-.4 .5 .4 .4-.8 .1 .7 .5-.3 .5-.2 .5 0 .4 0 .1 .4 .5-.8 .5-.3 .5 0 .4 .2 .1 .1 .5-1.2 .5 .6 .5-1.4 .4 .7 .1-.4 .5 .1 .5-1.7 .5-.1 .4-1.3 .1-.9 .5-1.1 .5-3.1 .5-2.1 .4-2.1 .1-.5 .5-2.5 .5-3.3 .5-4.6 .4-2.3 .1-1.2 .5-2 .5-2.8 .5-2.3 .4-1 .1-.1 .5 .6 .5 2.3 .5 2.7 .4 3.1 .1-.6 .5 4.1 .5 4 .5 3 .4 2 .1 1 .5 2.9 .5 2.3 .5 2.7 .4 .6 .1 .2 .5 2.1 .5-.1 .5 1.2 .4 .8 .1-.8 .5 1.1 .5 0 .5 .5 .4 .6 .1 .2 .5 .1 .5-.8 .5 1.1 .4-.2 .1 .3 .5-.7 .5 .5 .5 .6 .4-.7 .1 .6 .5 0 .5-.3 .5 .3 .4 .2 .1-.4 .5 1.3 .5-.9 .5 .2 .4-.4 .1 .1 .5 .4 .5-.1 .5 .2 .4-1.2 .1 1.2 .5-.5 .5-.9 .5 .1 .4 1.3 .1 .1 .5 .7 .5-1.9 .5 1.3 .4-.2 .1-.4 .5 0 .5 .2 .5-.1 .4-.2 .1 0 .5 .8 .5 0 .5-.8 .4 .3 .1 .1 .5 .4 .5 0 .5-.6 .4 1 .1-.4 .5 .5 .5-.9 .5 0 .4 0 .1 .2 .5-.3 .5 .5 .5 .2 .4-.5 .1-.2 .5 .5 .5-.1 .9-.1 2-.3 2 .7 2-.3 2-.8 2 .6 2-.6 2 1.3 2-.5 2-.6 2 .3 2 .6 2-1.3 2 1.7 2-1.5 2 .5 2 .5 2 .5 2-1.1 2 .4 2-.4 2-.1 2 .9 2-.9 2 1.1 2 .1 2-.6 2 .2 2-.5 2 .1 2 .4 2-.4 2-.2 2 .1 2 .1 2-.1 2 .7 2-.6 2 .3 2-.4 2-.1 2-.4 2 .7 2-.1 2 0 2 .2 2-.6 2 .9 2 .2 2-.9 2 .2 2-.5 2 .9 2-.2 2 0 2-.2 2 1 2-1.1 2 0 2-.2 2-.1 2 .7 2-.3 2-1.1 2 1.6 2-.7 2-.2 2 .2 2 .1 2-.6 2 .9 2 .1 2-.4 2 .3 2 .2 2-.1 2 0 2-.1 2 .1 2-.5 2-.3 2 1.2 2-.6 2-.5 2-.1 2 .5 2 .1 2-.8 2 1.1 2 .1 2-1 2-.1 2 .1 2 .1 2 0 2 .1 .5 .2 .5-.3 .5 .5 .5-.6 .5 .3 .5 1.1 .5-.3 .5-1.2 .5 .5 .5-.8 .5 1.3 .5-.6 .5 .7 .5 .5 .5-.5 .5-.9 .5 .5 .5-.2 .5-.9 .5 .6 .5-.8 .5 .5 .5-.2 .5 .2 .5-.1 .5 .2 .5 0 .5 1.3 .5-1.7 .5 .1 .5 .4 .5-.4 .5-.4 .5 .8 .5 .3 .5-.7 .5 .6 .5-.1 .5-.4 .5 .1 .5 .1 .5-.4 .5 .6 .5 0 .5-.7 .5-.1 .5-.1 .5 1 .5-.5 .5-.4 .5-.3 .5 .1 .5 .7 .5-.9 .5 .1 .5-.4 .5-.1 .5-.1 .5-.8 .5-.6 .5-.2 .5-.4 .5-.3 .5-2.1 .5-.8 .5-1.3 .5-2.5 .5-.8 .5-2.9 .5-3.3 .5-3.6 .5-3.1 .5-4.4 .5-2.4 .5-4.1 .5-3.6 .5-2.8 .5-1.1 .5-1.2 .5 .8 .5 1.1 .5 3.7 .5 2.7 .5 3.2 .5 4 .5 4 .5 3.3 .5 3.7 .5 2 .5 2.4 .5 2.1 .5 2.3 .5 2 .5 .6 .5 1.5 .5 1.4 .5 .1 .5 1 .5-1.4 .5 1.5 .5 .2 .5 .1 .5 0 .5 .3 .5 .7 .5-.3 .5-.2 .5 0 .5 1.2 .5-.7 .5-.2 .5 .2 .5 0 .5 .2 .5 .6 .5-.1 .5-.2 .5-.8 .5 .8 .5-.2 .5 .3 .5-.1 .5-.4 .5 .7 .5 .3 .5-.4 .5 .2 .5 .4 .5-.5 .5 .1 .5-.6 .5-.1 .5 .8 .5-.5 .5 .2 .5 .3 .5-.6 .5 .3 .5 .5 .5-.8 .5 .6 .5-.4 .5-.1 .5 1.1 .5-.9 .5 .5 .5-.7 .5 .7 .5 .1 .5-.8 .5 .5 .5-.3 .5-.1 .5-.1 .5 .4 .5-.2 .5 .6 1.5-.7 2 .1 2 .7 2-.4 2-.1 2-.2 2-.4 2 1.3 2-.6 2 1.1 2-1.1 2-.4 2 .7 2-.4 2 .9 2-1.6 2 .9 2 .3 2-.6 2 .7 2-.8 2-.3 .5 .1 .5 .7 .5-.1 .5 0 .5 .2 .5-.4 .5 .9 .5-1.2 .5 .8 .5 0 .5-.6 .5 .4 .5 .5 .5-1 .5 .9 .5-1.7 .5 1.7 .5-1.3 .5 .6 .5 .4 .5 0 .5 .2 .5-.8 .5 0 .5 .5 .5-.6 .5 .1 .5-.4 .5 .7 .5 .6 .5 .4 .5-1.5 .5 .1 .5 .2 .5 .1 .5-.5 .5 .7 .5-.4 .5 .4 .5 .1 .5-.5 .5 .3 .5 .1 .5 .3 .5 .7 .5-1.2 .5-.7 .5 .3 .5-.2 .5 .8 .5 .1 .5-.1 .5 0 .5-.2 .5-.2 .5 .5 .5-.5 .5 1.3 .5-.9 .5-.3 .5 .9 .5-1 .5-.7 .5 1.1 .5-1.6 .5 1.1 .5-.2 .5-.7 .5-1 .5-.2 .5-1.3 .5 0 .5 0 .5-1.4 .5-.5 .5-.7 .5-.1 .5 .2 .5-1.2 .5 .3 .5 .2 .5 1 .5 .4 .5-.6 .5 1.1 .5 .8 .5 .7 .5 .7 .5 .2 .5 .7 .5 .7 .5-.1 .5 .5 .5-.2 .5-.5 .5 1.2 .5 .1 .5-.8 .5 1.2 .5-.3 .5-.1 .5 .1 .5 .3 .5-1 .5-.3 .5 .5 .5 0 .5 .7 .5-.2 .5-.2 .5 .4 .5 .3 .5-.4 .5-.3 .5 .2 .5 .3 .5-.2 .5 0 .5-.7 .5 1.1 .5-.5 .5-.1 .5 .4 .5 0 .5-.4 .5-.3 .5 .5 .5 .5 .5-1.2 .5 .8 .5 .2 .5-.6 .5 .8 .5-.9 .5 .5 .5-.9 .5 .3 .5 1.1 .5 .1 .5-1.1 .5 .5 .5-1.1 .5 .8 .5 .3 .5-1 .5 1.6 .5-.9 .5 1.3 .5-.4 .5-.8 .5 .1 .5 .3 .5-.1 .5-.2 .5 0 .5-.4 .5 .5 1.5-.5 2 .8 2-.1 2 .1 2 .6 2-.8 2-.6 2 .5 2 .7 2-1 2 .4 2-.5 2 1.4 2-.5 2-.4 2-.3 2-.7 2 .2 2 1.1 2 .1 2-.4 2 .2 2-.7 2 .7 2-.1 2-.2 2 .5 2-.5 2 0 2-.1 2 .6 2 0 2-.2 2-.4 2-.3 2-.2 2 .8 2-.1 2 .4 2-.6 2 .8 2-.3 2-.2 2-.2 2 .7 2-1 2 .5 2-.3 2 1 2-1.1 2 .3 2 .6 2-.5 2 .8 2-1.3 2-.4 2 .4 2 1.1 2-1.4 2 .4 2 .2 2 .2 2 .8 2-.2 2-.6 2 .9 2-.7 2-.1 2-.4 .5 .3 .5-.2 .5-.2 .5-.1 .5 .5 .5-.6 .5-.5 .5 1.4 .5-.4 .5 .3 .5-1.3 .5 2 .5-.7 .5-1.5 .5 1.6 .5-.1 .5 0 .5-.2 .5-.1 .5 .6 .5-.2 .5-.6 .5 .3 .5 0 .5-.5 .5 1.1 .5-.3 .5-.8 .5 .1 .5-.3 .5 0 .5 1 .5 .4 .5-1.9 .5 .1 .5 .3 .5 .3 .5-.2 .5 .3 .5-.3 .5 .1 .5 .2 .5-.1 .5-.3 .5 1.3 .5-1.3 .5 .5 .5 .2 .5-.5 .5-.2 .5-.2 .5 .1 .5 .7 .5-.2 .5 .1 .5-.2 .5-.6 .5 .3 .5-.1 .5 .1 .5 .2 .5-.9 .5 0 .5-.2 .5 .6 .5-.6 .5-.9 .5-.5 .5-1.5 .5-.6 .5-.5 .5-1.9 .5-.9 .5-.4 .5-1.4 .5-.4 .5-1.5 .5 .1 .5-.2 .5-.3 .5 .8 .5 1 .5 1 .5-.4 .5 1.5 .5 1.9 .5 .2 .5 1.6 .5 .6 .5 .1 .5 1.6 .5-.3 .5 .4 .5 1.1 .5-.2 .5 .5 .5-.6 .5-.1 .5 1.2 .5-.4 .5-.1 .5-.1 .5 1.2 .5-.4 .5-.3 .5-.1 .5 1.1 .5-1.1 .5 1.1 .5-1 .5-.4 .5 .7 .5 .7 .5-1.8 .5 1.3 .5-.3 .5-.5 .5 .9 .5-1.3 .5 .3 .5 .3 .5 .9 .5-.3 .5-.7 .5 1.2 .5-1.2 .5 .6 .5-.3 .5 .3 .5 .4 .5-.7 .5-.8 .5 .9 .5-.3 .5-.3 .5 1.1 .5-.4 .5-.6 .5 .9 .5-1.3 .5 .7 .5 .4 .5-.7 .5 .4 .5-.4 .5 .8 .5-.6 .5 .5 .5 .1 .5-.6 .5 0 .5-.5 .5 .5 .5-.2 .5 .1 .5-.8 .5 0 .5 .4 .5 .1 .5-1.2 .5 .3 .5-.6 .5-.1 .5 0 .5 .4 .5-.6 .5 .1 .5-.9 .5-1.7 .5-.8 .5-.3 .5-1.6 .5-1.8 .5-2.3 .5-2.3 .5-2.4 .5-3.9 .5-3.2 .5-3.4 .5-3.7 .5-2.8 .5-4.8 .5-1.2 .5-2.4 .5-.8 .5 1.1 .5 1.8 .5 2.7 .5 1.9 .5 5.2 .5 3 .5 2.9 .5 3.8 .5 3.2 .5 2.6 .5 3.3 .5 1.2 .5 2.5 .5 .9 .5 1.3 .5 1.1 .5 .5 .5 1 .5-.4 .5 1.2 .5-.2 .5 0 .5-.2 .5 .9 .5 .7 .5-.8 .5 .9 .5 .1 .5-.8 .5 .6 .5-.2 .5 .5 .5-.3 .5 .1 .5 .2 .5 .1 .5-.3 .5 .7 .5-.6 .5 .2 .5 .1 .5 0 .5 .4 .5 .1 .5-.2 .5 .2 .5-.2 .5 .6 .5 .1 .5-.4 .5-.3 .5-1.1 .5 .5 .5 1.1 .5-.9 .5 .1 .5 .3 .5-.4 .5 .2 .5 .4 .5-.3 .5 .2 .5-.7 .5 .7 .5 .4 .5-1.3 .5 1.3 .5 .1 .5-1 .5 .4 .5-.1 .5-.1 .5 .8 .5-1 .5 1 .5-.4 .5-.6 .5 .8 .5-.6 2 .2 2-.1 .5 .3"/>
<path stroke="#2EAA6A" d="M187.5 2907.1l 2 .7 2-.1 2-.1 2-.2 2 1 2 .1 2 0 2-.9 2 .7 2-.3 2-.5 2 .2 2 .2 2 .3 2-.1 2-.5 2 .4 2 0 2 .6 2-.1 2-.7 2 .2 2 .1 2-.3 2 .4 2-.8 2 1 2-.3 2-.8 2 .5 2-.2 2 .9 2-.3 2-.8 2 .3 2 .5 2 .4 2-.3 2-.3 2 .6 2-.1 2-.8 2 .1 2 .4 2-.5 2-1.1 2 1.8 2-.9 2 .4 2-.4 2 .9 2-.8 2 .5 2-1.2 2 1.9 2 0 2-1 2 .4 2-.3 2 1.1 2-1.2 2-.5 2 .1 2 1.2 2 .6 2-1 2 .1 2 .6 2-.5 2 0 2-.3 2-.6 2 .1 2 .4 2-1.1 2 .9 2 .2 2 .3 2-.3 2 .1 2-.1 2 .7 2-.5 2 0 2-.3 2 1 2-2 2 1.5 2-.6 2 .2 2 .1 2 .4 2 0 2-.7 2 1 2-1.1 2 .6 2 0 2-.3 2 .8 2-.3 2-.1 2-.8 2-.3 2 1.3 2-1.1 2 .3 2 .5 2-.6 2 .6 2-.4 2 .1 2 0 2-.2 2-.2 2 .7 2-.5 2 .7 2 .5 2-1 2-.4 2 1.1 2-1.2 2 .2 2 1.1 2-1.2 2 .7 2-.7 2 .8 2 0 2 .1 2 .1 2-.4 2-1.3 2 1.1 2 .3 2-.3 2 0 2 .2 2 .1 2-1 2 1.1 2-.2 2-.3 2-.5 2 .7 2-.1 2-.6 2 .1 2 .3 2-.2 2 0 2 1 2-.4 2 .2 2-.4 2-1.3 2 1.7 2-.3 2 .6 2-1.4 2 .3 2 0 2 .8 2-1.3 2 1.4 2-.5 2 0 2 1 2-.5 2-.8 2 .5 2 0 2-.3 2-.6 2 .4 2-.8 2 .8 2 .4 2 .5 2 .1 2-.5 2 .2 2 .9 2-2 2-.1 2 .8 2-.2 2 .4 2-.6 2 .3 2 .4 2-.1 2 0 2 .1 2-.4 2 0 2 .1 2-.1 2 .3 2 .2 2-.2 2-.9 2 .2 2 0 2 1.1 2-.9 2 .5 2-.9 2 1.2 2-.3 2-.2 2-.5 2 1.5 2-1.4 2 .1 2 .5 2 .2 2-1 2-.1 2 1.1 2-1 2 .4 2 .2 2 .1 2-.6 2 .9 2-.6 2 .3 2-1.1 2 .1 2 .3 2 0 2 1 2-.7 2 .1 2 .7 2 .2 2-.7 2-.3 2-.3 2 .7 2-.4 2 .2 2 .4 2-.8 2 .6 2 .2 2-1.1 2 .4 2 .1 2 0 2-.6 2 .7 2 .1 2-.5 2 0 2 .2 2-.1 2 .2 2-.1 2-.3 2 .7 2-1 2 .2 2 .8 1.7-.5 .3 .3 .2 .1 .5-.9 .5 0 .5-.2 .3 1 .2-.5 .5 0 .5 .6 .5-.7 .3-.4 .2 .6 .5 0 .5-.5 .5 1.3 .3-1.1 .2 0 .5 .3 .5-.5 .5 0 .3 .2 .2-.7 .5 1.6 .5-1.6 .5 .1 .3-.5 .2 .7 .5-1 .5 .5 .5 .2 .3 0 .2 0 .5-.4 .5 .5 .5-.8 .3-.2 .2-.9 .5 .9 .5-.3 .5 .5 .3-.8 .2-.2 .5-.8 .5 .4 .5-.2 .3-.8 .2-.4 .5-.2 .5-1.1 .5 .2 .3-.8 .2-1.9 .5-1.6 .5-2.7 .5-3 .3-2.7 .2-1.9 .5-6.1 .5-8.1 .5-10.8 .3-6.4 .2-5.7 .5-13.8 .5-15.8 .5-15.8 .3-8.5 .2-4.8 .5-9.3 .5-2.7 .5 3.4 .3 4.7 .2 4.5 .5 14.2 .5 14.4 .5 15.6 .3 8.8 .2 5.1 .5 13.3 .5 9.9 .5 7.7 .3 3.6 .2 3.2 .5 4.1 .5 3.1 .5 2.8 .3 .4 .2 1.9 .5 .3 .5 .8 .5 .7 .3 .7 .2-.4 .5 1.3 .5-.1 .5 1.1 .3-.1 .2-.1 .5 0 .5 .5 .5 .3 .3 .1 .2 0 .5 .3 .5 .1 .5 .1 .3 .4 .2 .3 .5-1.7 .5 1.1 .5 1.3 .3-.9 .2 .5 .5 .1 .5 0 .5 .4 .3 .6 .2-1.3 .5 .2 .5 .6 .5-.3 .3 0 .2-1.1 .5 1 .5 .4 .5 .1 .3-1.1 .2 .4 .5 0 .5 .9 .5-.5 .3 .9 .2-.8 .5-.1 .5 .9 .5-.9 .3-.2 .2 .4 .5 .5 1.3-.2 2-.4 2 0 2 .3 2-.1 2-.4 2-.1 2 .8 2 .3 2-.6 2-.4 2 .7 2-.8 2 1.3 2-.9 2-.4 2 .5 2-.3 2 .7 2 .1 2-1.1 2 .5 2 .6 2 .7 2-.7 2 .2 2-.2 2 .6 2-.7 2-.4 2 1 2-.3 2-.3 2-.5 2 .1 2 0 1 .4 .5 .2 .5 .3 .5-.7 .5-.4 .5 .7 .5 .6 .5-1.3 .5 1.1 .5 .1 .5-.2 .5-.1 .5 0 .5-.2 .5 .3 .5 .1 .5 .6 .5-.1 .5-.2 .5-.4 .5-.1 .5 .3 .5-.4 .5-.2 .5 .3 .5-.3 .5 .5 .5-.4 .5-.2 .5-.4 .5 .3 .5-.6 .5 .3 .5 0 .5 .6 .5-.2 .5 .2 .5-.1 .5 .2 .5-1.1 .5 .8 .5-.7 .5 .2 .5-.3 .5-.1 .5 .4 .5-1.8 .5 0 .5-.9 .5-1.1 .5-1.3 .5 .2 .5-1.9 .5 .5 .5-1.4 .5-.3 .5 .4 .5 .2 .5 1.2 .5 1.6 .5-.1 .5 1.5 .5 1 .5 .8 .5 .2 .5 .3 .5 .6 .5 1 .5-.9 .5 .8 .5-.1 .5-.4 .5 .1 .5-.7 .5 1.1 .5-.1 .5-.3 .5 .5 .5 .7 .5-1.7 .5 1.2 .5-.5 .5 .2 .5 .4 .5-.1 .5-.6 .5 .4 .5 .6 .5-.9 .5 .2 .5-.2 .5 .4 .5-.1 .5-.2 .5-.2 .5-.3 .5 .8 .5 .1 .5-1.2 .5 1.7 .5 0 .5-1.3 .5-.2 .5 1.3 .5-.6 .5-.3 .5 .3 .5-.6 .5 .7 .5-.5 .5 .5 2 .3 2 .2 2-1.1 2 .9 2-.7 2 1.2 2-1.1 2-.5 2 .7 2-.5 2 .8 2 .2 2-.8 2 0 2 .3 2-.4 2-.1 2 .6 2 .2 2-.3 2 .3 2 .6 2-.5 2-.8 2-.2 2 .2 2 .4 2 .1 2-.3 2-.4 2 .5 2-.4 2 .5 2-.4 2 .3 2-.6 2 0 2 .9 2-.1 2-.4 2-.6 2 1.3 2-.9 2 .1 2-.3 2 .8 2 .3 2-.3 2-.8 2 .8 2-.8 2 1.7 2-1.6 2 .3 2-.3 2 .4 2 0 2 .2 .4-.6 .5 .3 .5-.1 .5 .2 .1-.7 .4 1.9 .5-.9 .5-1.1 .5-.4 .1 .7 .4-.3 .5 .3 .5-.3 .5-.4 .1 1.2 .4-.5 .5-1.2 .5 .8 .5 .3 .1 .2 .4-1.9 .5 .8 .5 .5 .5-.7 .1 .6 .4-.9 .5 .6 .5-.7 .5-.2 .1 1.4 .4-.5 .5-.1 .5-.8 .5 .3 .1-.9 .4 1.2 .5-1.2 .5-.1 .5-1 .1 1.6 .4-1.4 .5 .1 .5-.5 .5-.6 .1-.2 .4-.7 .5 0 .5-.8 .5-1 .1-.5 .4-.8 .5-1.6 .5-1.6 .5-3 .1-.4 .4-4 .5-5.7 .5-7.7 .5-10.2 .1-1.6 .4-10.8 .5-15.2 .5-17.1 .5-20 .1-3.4 .4-15.6 .5-16.6 .5-11.8 .5-4.3 .1 1.1 .4 4.5 .5 10.8 .5 16.8 .5 18.4 .1 3.6 .4 16.5 .5 17.1 .5 15.3 .5 13 .1 2.3 .4 7.4 .5 7.3 .5 5.6 .5 3.5 .1 1.7 .4 2.2 .5 1.9 .5 1.6 .5 .8 .1 1.2 .4 1 .5-.9 .5 1.6 .5 1 .1-.9 .4 .4 .5 1.2 .5-1 .5 1.3 .1-.7 .4 .9 .5 .1 .5 .3 .5 .8 .1-.9 .4 .4 .5 .5 .5 .1 .5-.2 .1-.1 .4 .9 .5-.4 .5-.3 .5 .1 .1 .5 .4-.1 .5-.2 .5 .2 .5 .5 .1 .3 .4-.6 .5 .8 .5-.8 .5 .8 .1-.1 .4-.5 .5 .7 .5-.5 .5-.1 .1-.3 .4 0 .5-.3 .5 .8 .5 0 .1 .2 .4 0 .5 .4 .5-.6 .6 .8 2-1.2 2 .9 2 0 2-.6 2 .9 2-.4 2 .5 2-.5 2-.2 2 1.3 2-1 2 1.2 2-.8 2-.4 2 .3 2-.4 2 .2 2-.3 2 .7 2-.2 .5-.4 1 .5 .5-.2 .5-.2 1 .4 .5 0 .5 .1 1-.8 .5 .4 .5 .8 1 0 .5-.8 .5 .3 1-.2 .5 .4 .5-.6 1 .1 .5 .5 .5-1 1-.9 .5 1.7 .5-.2 1-.3 .5-1 .5 .9 1-1.1 .5-.2 .5-.5 1-1.3 .5 0 .5-.5 1-.6 .5 1.1 .5-.7 1 .6 .5 1 .5 .4 1 1.2 .5-.2 .5 1.1 1-1.2 .5 .9 .5-.7 1 .3 .5 .5 .5 .8 1-.2 .5-.2 .5-.4 1-.2 .5 .8 .5-.4 1 .5 .5-.8 .5 .4 1 .2 .5-.8 .5 .6 1-.8 .5 .8 .5-.3 1-.2 .5 .9 .5-.3 1.5-.4 2 .1 2 .5 2-.1 2-.1 2-.1 2-.2 2 .5 2-1.1 2 1.5 2-1 2 .2 2 .6 2 0 2-1 2 1 1.5-1 .5-.3 .5 1.6 1-1 .5-.1 .5 .1 1-.2 .5-.5 .5 .4 1-.9 .5 .5 .5 1 1-.7 .5 .8 .5-1 1 .9 .5-.2 .1-.1 .4-.2 .1-.4 .5 .2 .4-.3 .1 .4 .4-.1 .1 .4 .4-.6 .1 .1 .5 .1 .4-.4 .1 .8 .4-1.1 .1 .2 .4-.6 .1 .7 .5-.5 .4-.6 .1 .7 .4 0 .1-.4 .4-.8 .1 .4 .5 .2 .4-1.5 .1-1 .4 0 .1-.4 .4-.3 .1 .4 .5-.3 .4 .1 .1-.2 .4-.9 .1 .1 .4-.6 .1 .4 .5-.1 .4 .8 .1-.5 .4 1.3 .1-1 .4 1 .1-.9 .5 1.2 .4-.6 .1 .3 .4 1.5 .1 .1 .4-1.3 .1 .8 .5 .2 .4 .8 .1-.5 .4 .2 .1-.8 .4 .8 .1 1 .5-.1 .4-.7 .1-.7 .4 1.4 .1-1.2 .4 .1 .1-.2 .5 .9 .4-.9 .1 .3 .4-.7 .1-1 .4 .9 .1-.4 .5-.2 .4 .2 .1 .2 .4-.8 .1-.6 .4 .3 .1-.4 .5-1.9 .4-.5 .1-.6 .4-.3 .1-.9 .4-1.5 .1-1.1 .5-2.2 .4-3.2 .1-.2 .4-4 .1-.3 .4-5.8 .1-1.9 .5-6.6 .4-6.3 .1-2.9 .4-7.2 .1-2.6 .4-8.6 .1-2.2 .5-11.9 .4-8.5 .1-1.8 .4-8.6 .1-1 .4-6.3 .1-.4 .5-1.6 .4 .3 .1 1.9 .4 4.1 .1 1.5 .5 10 .5 10.9 .5 11.5 .4 8.5 .1 2.3 .5 10.5 .5 8.4 .5 8 .4 3.9 .1 1 .5 5.3 .5 3.3 .5 3.2 .4 1.7 .1-.3 .5 2.7 .5 .3 .5 1.4 .4 1.1 .1 .8 .5-1 .5 .9 .5 .4 .4-.2 .1-.4 .5 1.7 .5 .6 .5-.2 .4-.5 .1-.1 .5 .9 .5-.2 .5-.3 .4 .1 .1 .1 .5-.1 .5 .7 .5 .3 .4 .3 .1-.2 .5-.1 .5-.2 .5 .3 .4 .6 .1-1 .5 1.1 .5 .3 .5-.8 .4 .4 .1 0 .5-.2 .5-.4 .5 .9 .4-.8 .1 1.5 .5-.7 .5-.4 .5-.1 .4 .1 .1 0 .5-.3 .5 .6 .5 .4 .4-1 .1 .3 .5-.3 .5 .9 .5-.9 .4 .3 .1 .2 .5 .3 .5 .4 .5-.4 .4-.6 .1 .8 1.9-.6 2-.5 2 .4 2 .4 2-.7 2 .3 2 .1 2 .1 .5 .6 .5-.7 .5 .3 .5-.4 .5 .2 .5-.1 .5 .3 .5 .3 .5-.4 .5-.5 .5 .4 .5 .1 .5-.1 .5 .2 .5-.7 .5 .5 .5 .6 .5-.7 .5-.2 .5 .4 .5-.6 .5-.2 .5 .4 .5-.6 .5 .3 .5 .3 .5-.1 .5-.6 .5 .8 .5-.1 .5-.6 .5-.1 .5 .4 .5-1 .5 .5 .5-.3 .5-.9 .5 .6 .5-1.5 .5 1.9 .5-1 .5-.8 .5-.1 .5 0 .5-.9 .5 .3 .5-1.8 .5 0 .5-1.7 .5-1.9 .5-1.9 .5-3.8 .5-4.5 .5-4.4 .5-6.6 .5-7.7 .5-8.7 .5-9.2 .5-10.7 .5-8.6 .5-8 .5-5.3 .5-2.6 .5 1.9 .5 6.2 .5 8.3 .5 9.1 .5 10.3 .5 9.3 .5 7 .5 9.4 .5 5.2 .5 5.4 .5 4.4 .5 2.7 .5 2 .5 2.5 .5 1.1 .5 1.8 .5 0 .5 .7 .5 .7 .5 .1 .5 .8 .5 .3 .5 .1 .5-.1 .5 .7 .5-1.2 .5 1.6 .5-.7 .5 .8 .5 .1 .5-.6 .5 1.2 .5-1 .5 .6 .5-.3 .5 .3 .5 0 .5 .6 .5 .2 .5-.3 .5 .2 .5-.6 .5 .7 .5-.5 .5 .1 .5 0 .5 .6 .5-.9 .5 .8 .5-.7 .5 .6 .5-.3 .5 .1 .5-.1 .5 .2 .5-.2 .5 1 .5-.7 .5-.3 .5-.5 .5 .8 .5 .9 1.5-.1 2-1 2 .4 2 .1 2-.7 2-.3 2 1 2 .1 2-.1 2-.5 2 .4 2 .3 2-.3 2-.3 2-.4 2 .2 2 1.4 2-.2 2-.7 2 .8 2-.8 2 .2 2-.1 2 .5 2 .4 2-1.1 2 .7 2-1.1 2 .8 2 .4 2-1 2 1 2-.6 2 .6 2-.5 2 .4 2-.4 2 .8 2-1.5 2 .6 2-.4 2 .2 2 .6 2-.6 2-.6 2 .2 2 0 2 1.6 2-1.1 2 .4 2-.4 2 0 2-.2 2 .3 2 0 2 .7 2-.3 2-.4 2 .5 2-1.2 2 .7 2 .6 2-.6 2 .4 2 .4 2-1.5 2 .5 2 .6 2 .3 2-.8 2-.8 2 .9 2-.7 2 1.6 2-.3 2-1 2 1.2 2-.8 2 .4 2-1 2 .9 2-.5 2 1.2 2-.3 2 0 2-.2 2-.5 2-.2 2-.1 2 .5 2-.5 2 .6 2-.9 2 1.1 2-.6 2 .4 2 .6 2-1.1 1.5 .6 .5-.7 .5 .5 .5-.6 .5 .9 .5-.7 .5 .4 .5-.4 .5-.5 .5 1.3 .5-.6 .5 .1 .5 .3 .5-1.2 .5 .4 .5-.2 .5 .9 .5-.4 .5 0 .5-.6 .5 1 .5-.6 .5-.3 .5 .6 .5 .2 .5-.1 .5 .1 .5-.9 .5 .4 .5 .1 .5 .1 .5-.2 .5-.4 .5 .3 .5 .8 .5-.2 .5-1.1 .5-.1 .5 .7 .5-.3 .5-.9 .5 .1 .5-.2 .5 .8 .5-.2 .5-.3 .5 0 .5-.3 .5-.4 .5 .1 .5-.5 .5-.5 .5-.1 .5 0 .5-.1 .5-.9 .5-1.5 .5-.9 .5-1.6 .5-1.5 .5-3.6 .5-3.3 .5-3.1 .5-3 .5-4.9 .5-3.8 .5-3.9 .5-4.6 .5-3.2 .5-1.8 .5-.3 .5 0 .5 2.5 .5 3.5 .5 3 .5 4.3 .5 4.8 .5 4.1 .5 3.1 .5 4.5 .5 2.2 .5 3.4 .5 1.4 .5 .7 .5 1.6 .5 1.5 .5-.1 .5 1.2 .5 1.1 .5-.6 .5 1.3 .5 .3 .5-.8 .5 .4 .5 1.1 .5-.6 .5 0 .5-.3 .5 .9 .5 0 .5-.6 .5-.7 .5 .9 .5 .4 .5-.4 .5 .6 .5-.3 .5 .9 .5-.1 .5-1.2 .5 .4 .5 .5 .5-.6 .5 .1 .5 1 .5-.2 .5 0 .5-.8 .5 1 .5-.6 .5-.3 .5 .3 .5 .3 .5 .1 .5-.6 .5-.3 .5 .7 .5-.7 .5 .3 .5 .3 .5-.3 .5-.1 .5 .2 .5-.1 .5 0 .5-.2 .5 .6 .5 1.1 .5-1 .5-.3 .5 .1 .5 .4 2 .3 2-.2 2-.2 2-.4 2-.1 2 .2 2 .1 2-.3 2 0 2 1.1 2-.5 2-.4 2 .2 2-.5 2 .9 2-.2 2 .5 2-.7 .5-.1 1-.3 .5 .6 .5-.5 1 .1 .5-.2 .5 .8 1-.5 .5 .1 .5-.1 1-.5 .5 .5 .5-.5 1 .6 .5 0 .5 .2 1-.4 .5 .1 .5 .4 1-.4 .5 0 .5-.4 1 0 .5-.1 .5 0 1-.8 .5 1.3 .5-1.7 1-.5 .5-.7 .5 1 1-.9 .5 .6 .5 .5 1-.8 .5 .5 .5 .1 1 1.6 .5-.3 .5 .1 1 .7 .5-1 .5 1.4 1-.5 .5 .9 .5-1.8 1 1.4 .5-1.3 .5 .6 1 .8 .5-.2 .5-.3 1-.4 .5 .1 .5 .4 1 .2 .5 .2 .5-.7 1 .8 .5-.4 .5 0 1 0 .5 .2 .5 .2 1.5-.8 2 .6 2-.5 2 .1 2 .1 2 .2 2-.5 2-1.3 2 1.1 2 .6 2 .2 2-.2 2-.4 2-.1 2 .5 2-.1 2-.6 2-.1 2 .2 2 0 2 0 2 .2 2-.6 2 .6 2 .5 2 .3 2-.5 2 0 2 .7 2-.7 2 .2 2-.7 2-.2 2 .2 2 .6 2-.5 2-.6 2 .6 2 .4 2-.2 2-.3 2 0 2 .7 2 .6 2-1.9 2 .9 2-.2 2-.3 2 .9 2-.3 2-.5 2 .6 2-1 2 .9 2-.2 2-.1 .5 .4 .5-.9 .5 .8 .5-.9 .5 .9 .5 0 .5 .7 .5-.6 .5 .1 .5-.8 .5 1.1 .5-.1 .5-1.1 .5 .7 .5-.3 .5 .3 .5-.4 .5-.3 .5 .8 .5-.8 .5 .5 .5-.1 .5-.4 .5 .4 .5-.4 .5-.3 .5-.2 .5 .3 .5 .6 .5-1 .5 .6 .5 .7 .5-1.3 .5 .2 .5 .1 .5 .2 .5-.5 .5 .5 .5-.4 .5 .2 .5-.3 .5 .5 .5-.6 .5 .5 .5-.7 .5 .8 .5-.4 .5-.1 .5-.4 .5-.1 .5-.5 .5-.1 .5 .5 .5-1 .5 .8 .5-.4 .5-.2 .5-.9 .5 .2 .5-1.1 .5 .4 .5-1 .5-1.9 .5-1.4 .5-.7 .5-1.9 .5-1.5 .5-3.5 .5-3.5 .5-3.7 .5-3.4 .5-4.2 .5-4.9 .5-5 .5-3.4 .5-5 .5-3.4 .5-1.5 .5-1.1 .5 1.6 .5 1.6 .5 4 .5 2.7 .5 5.7 .5 4.2 .5 4.2 .5 4.8 .5 3.8 .5 3.5 .5 3.6 .5 1.7 .5 2.2 .5 2.8 .5 2.6 .5 .2 .5 .2 .5 1.1 .5 .7 .5 1.7 .5-1.7 .5 1.4 .5-.2 .5 .3 .5-.2 .5-.1 .5 .7 .5-.6 .5 .6 .5 .6 .5 .3 .5-.2 .5-.2 .5 .8 .5-1.1 .5 .4 .5-.1 .5 .4 .5-.2 .5 .3 .5 .5 .5-.2 .5 .3 .5-1.2 .5 1.1 .5-.4 .5 .1 .5 .2 .5-.3 .5 .9 .5 .3 .5-.5 .5-.6 .5 .8 .5-.3 .5 .8 .5-1.4 .5-.2 .5 1 .5-1 .5 1.3 .5-.7 .5 .2 .5 .1 .5-.1 .5 0 .5 .2 .5-.5 .5 .9 .5-.7 .5 .3 .5-.1 .5 .2 .5-.3 .5 .6 .5-.8 .5 .4 .5 .4 1.5-.8 2-.2 2-.6 2 .7 2 1.2 2-.4 2 0 2-.2 2 .1 2-.5 2 .5 2-.7 2 .5 2 1 2-1.5 2 1.3 2-.6 2-1.2 2 .7 2 1.3 2-1.3 .5 .3 .5 .2 .5-.5 .5 .7 .5-.8 .5 .3 .5-.2 .5-.2 .5 .8 .5 0 .5-.4 .5 .1 .5-.5 .5 .1 .5 1.1 .5-1.3 .5 .5 .5-.3 .5 .3 .5 0 .5 .1 .5-.6 .5 .8 .5 .7 .5-1.8 .5 1.1 .5 .1 .5-.1 .5-.9 .5 .5 .5 .6 .5-.4 .5-.2 .5 .6 .5 .5 .5-.6 .5-.8 .5 .4 .5-.3 .5 .4 .5-.1 .5-.1 .5 .3 .5-.1 .5 .4 .5-.4 .5-.1 .5 .2 .5-.3 .5 0 .5 .2 .5 .3 .5 0 .5-.1 .5 .2 .5-1.4 .5 1.1 .5-.1 .5-.2 .5 0 .5 .4 .5-1 .5-.9 .5 1.2 .5-.9 .5-.5 .5-.6 .5 .1 .5-1.1 .5-.6 .5-.8 .5-.5 .5-1.2 .5 0 .5-1.4 .5 0 .5-1 .5-1.2 .5 1.4 .5-.8 .5 .6 .5 .5 .5 1.3 .5 .3 .5 .5 .5 .6 .5 1 .5 1.4 .5 .5 .5-.1 .5 .9 .5 .6 .5-.6 .5 .4 .5 1.4 .5-1.1 .5 .5 .5 .6 .5-.7 .5 1.5 .5-.6 .5-.3 .5 .1 .5 .4 .5 .2 .5-1.1 .5 .2 .5 .5 .5-.5 .5 .3 .5-.3 .5 .4 .5 .6 .5-.9 .5-1 .5 1.3 .5 .2 .5-.9 .5 .9 .5-1.1 .5 2.3 .5-1.4 .5-.5 .5 .8 .5 1.2 .5-1.4 .5 .6 .5-.7 .5-.6 .5 .4 .5-.4 .5 .7 .5 .2 .5-.7 .5 .8 .5-.9 .5 .9 .5-.6 .5 .7 .5-.1 .5-.8 .5 2 .5-1.7 .5 .3 .5-.3 .5 1 .5-.8 .5 .3 .5-.1 .5-.5 .5 .5 .5-.5 .5 .1 .5 .2 .5 .1 .5 0 .5 .3 1.5-.8 2 .2 2 .7 2-.3 2-.5 2 0 2 1.8 2-1.4 2 .6 2-.1 2-.3 2 .3 2 .1 2-.9 2 .4 2-.2 2 .3 2 .2 2-1 2 1.2 2-.6 2 .5 2 .1 2-.7 2 .5 2 0 2-.8 2 .2 2-.5 2 1.2 2-.8 2 .5 2-.3 2-.2 2 .1 2-.1 2 0 2-.4 2 .2 2 .7 2 .9 2-.9 2-.7 2 1.2 2-.7 2-.2 2 .5 2 0 2-.6 2 .3 2 0 2 .8 2-1 2-.1 2 .4 1.5-.2 .5 .5 .5-.4 1 0 .5-.6 .5 .1 1 0 .5 .9 .5-.6 1-.2 .5 .3 .5 .6 1-1.1 .5 1.1 .5-.9 1 .1 .5-.2 .5 .6 1-.1 .5 .3 .5-1 1 .1 .5 .8 .5-1.1 1 .7 .5-.7 .5-.3 1-.4 .5 .2 .5-.4 1 .2 .5-.9 .5-.4 1 .7 .5-.2 .5 1.2 1-.1 .5-.1 .5 .2 1 .5 .5 .9 .5-.4 1-.7 .5 .9 .5-.3 .5-.2 .5 .5 .5-.1 .5 .6 .5-.4 .5 .1 .5-.5 .5-.3 .5-.1 .5 .9 .5-.9 .5 1.4 .5-1.3 .5 0 .5 .5 .5-.5 .5 1.1 .5-.3 .5-.3 .5 .8 .5-.4 .5-.7 .5 .1 .5-.3 .5-.1 .5 .5 .5-.7 .5 .6 .5 .4 .5-.2 .5-.5 .5 0 .5 .8 .5-.1 .5-.1 .5 .7 .5-1.1 .5-.1 .5 .2 .5-.5 .5 .5 .5 .6 .5-.4 .5-.2 .5 .5 .5-.5 .5-.4 .5-.5 .5 .2 .5 .6 .5 0 .5-.5 .5 .2 .5-.1 .5-.7 .5-.3 .5-.3 .5 1.9 .5-1 .5-.4 .5-.4 .5-1 .5-.5 .5-.3 .5 .4 .5-2 .5-.6 .5-.9 .5-2.4 .5-.5 .5-2 .5-.9 .5-1.2 .5-1 .5-.5 .5-.5 .5 1.7 .5-1.4 .5 1.9 .5 1.7 .5 .2 .5 1.8 .5 1 .5 1.8 .5 1.3 .5 .3 .5 .7 .5 1.6 .5-.1 .5 .7 .5 .9 .5-.6 .5 1.5 .5-.3 .5-.7 .5 .9 .5-.7 .5 .5 .5-.2 .5 .3 .5 .3 .5 .4 .5 0 .5 0 .5 .5 .1-1 .4 .1 .1 .3 .4 .2 .1-.9 .4 .4 .1 .6 .4 .1 .1-.2 .4-.4 .1 .9 .4-.4 .1-.9 .4 .4 .1-.1 .4 .1 .1-.2 .4 .9 .1-.5 .4 .7 .1-1.5 .4 1 .1-.3 .4 0 .1 .2 .4 .4 .1-.1 .4-.3 .1 .3 .4-.1 .1-.3 .4 .3 .1 .3 .4-.3 .1 0 .4-.3 .1 .3 .4-.4 .1 .6 .4-.8 .1 .1 .4 .8 .1 0 .4-.4 .1-.7 .4 1.2 .1-1.1 .4 .3 .1 .2 .4-1.8 .1 2.3 .4-.7 .1 .1 .4-.4 .1 .2 .4 1.1 .1-.2 .4-.8 .1-.7 .4 .5 .1 .2 .4-.1 .1-.7 .4 0 .1 1.2 .4-.1 .1 .6 .4-1.4 .1 .8 .4-.1 .1-.7 .4 1 .1-.8 .4 .8 .1-.7 .4-.4 .1 .3 .4-.1 .1 .4 .4-.8 .1 .3 .4 .3 .1-.1 .4-.4 .1 .8 .4-1.1 .1 1 .4 .1 .1-1.5 .4 .7 .1 .2 .4-.9 .1 .4 .4 .6 .1-.7 .4 .5 .1 .2 .4 .3 .1-.8 .4 0 .1 0 .5 .8 .5-1.1 .5-.6 .4 .4 .1 .1 .5-1 .5 .7 .5 0 .4-1.3 .1 .3 .5-.7 .5 .1 .5-1.4 .4 .8 .1-1.1 .5-1.9 .5-.7 .5-1.6 .4-1.1 .1-1.5 .5-1.3 .5-2.6 .5-3.6 .4-3.2 .1-.7 .5-3.2 .5-5.3 .5-3.9 .4-3.5 .1-.1 .5-2.6 .5-3.9 .5-1.4 .4-.6 .1-.1 .5 .1 .5 2 .5 2.5 .4 2.4 .1 1.8 .5 3.9 .5 3.8 .5 4.1 .4 3.1 .1 1.1 .5 3.8 .5 2.8 .5 3.6 .4 .6 .1 1 .5 2 .5 1.6 .5 1.4 .4 1 .1 .6 .5 .5 .5 .1 .5 1 .4 .8 .1-.1 .5 .3 .5-.4 .5-.1 .4 1 .1-1.2 .5 1.2 .5 .1 .5 .2 .4-.3 .1 1.7 .5-1.2 .5-.8 .5 1 .4-.6 .1 1.1 .5-.2 .5-.5 .5 .3 .4 .6 .1-.1 .5-.3 .5 .5 .5 .2 .4-.5 .1-.4 .5-.5 .5 1.9 .5-.3 .4-1 .1 0 .5 .2 .5 1.4 .5-1.2 .4-.1 .1 .2 .5 .5 .5-.6 .5 .3 .4-.2 .1 .3 .5-.5 .5 1.3 .5-1.1 .4-.5 .1 .8 .5-.7 .5 1.7 .5-1.9 .4 .7 .1 .5 .5 .1 .5-.2 .5-.6 .4 .2 .1 1.1 .5-2 .5 .3 .5 .6 .4-.1 .1 .6 .5-.2 .5-1 .5 1.1 .4-.8 .1 .7 .5-.1 .5 1 .5 .1 .4-.9 .1 .7 .5-.2 .5-.3 .9-.5 .5-.1"/>
<path stroke="#B274DC" d="M187.5 2763.8l 2 .4 2-.9 2 .7 2-.8 2 0 2 .1 2 .2 2-.6 2 .7 2-.4 2-.3 2-.1 2 .6 2-.6 2 .6 2-.2 2 1.2 2-1.7 2 1.2 2-.7 2 0 2 .5 2 .8 2-.9 2-.8 2 .5 2-.3 2-.5 2 .9 2-.4 2 1.3 2-1 2-.3 2 1.1 2-.6 2-.6 2-.3 2 .8 2 .2 2 .3 2 .1 2-.3 2-.3 2 .5 2 .1 2-.8 2 .2 2-.2 2 0 2 .5 2-.3 2-.1 2 .4 2 .3 2 .1 2-.8 2-.7 2 1.1 2-.1 2-.1 2 .8 2-.8 2 .1 2 .1 2-1 2 .7 2-.3 2-.2 2 .5 2 .1 2 .6 2-.7 2 .4 2 .8 2-.6 2-.2 2-.6 2 .1 2 .1 2-.4 2 .7 2 .2 2-.6 2 .3 2-.5 2 1.1 2 .1 2-1.6 2 .8 2-.4 2 .9 2-1 2 .4 2 .1 2-.7 2 1.4 2-1 2 .1 2 .4 2-.9 2 1.4 2-.2 2-.8 2 .8 2-.8 2 .6 2-.4 2 1.3 2-1.9 2 .5 2-.3 2 .5 2 .5 2-.8 2 .8 2-1.7 2 1.9 2-.2 2 .1 2-.7 2-.6 2 .5 2 0 2 .1 2-.7 2 1.6 2 0 2-.7 2 0 2 .3 2 .5 2-1.6 2 .3 2 1 2-.7 2 .1 2 0 2-.5 2 .2 2 1.2 2-1.2 2 .1 2 .2 2 .2 2 .1 2-.8 2 .6 2 .6 2-1.4 2 1.1 2-.7 2-.2 2-.2 2 1 2 .9 2-1.9 2 .9 2-.2 2-.4 2 .8 2-.6 2 .3 2 .1 2-.6 2 1.5 2-.9 2 .1 2-.4 2-.2 2 .2 2-.1 2 1 2-.1 2-.8 2-.4 2 .6 2-.7 2 .3 2 .8 2 .5 2-1.1 2 0 2 .3 2-.1 2 .1 2 .3 2-.9 2 .3 2 .4 2 .3 2-.7 2-.5 2 .2 2 .8 2-.6 2 .3 2 0 2-.3 2 .9 2-.1 2-.8 2-.1 2 .6 2-.3 2 .8 2-.1 2-.8 2 0 2-.7 2 .5 2-.7 2 .8 2 .3 2-.7 2 .3 2 .4 2-.6 2 .3 2 1.4 2-1.3 2 .1 2 .8 2-.7 2-.5 2 .7 2-.8 2 .7 2-.1 2-.7 2 .2 2-.3 2-.1 2 .7 2 .4 2-.5 2-.1 2 .4 2 .2 2-.9 2 .9 2-.9 2 .4 2 .6 2-1.2 2 1 2-.7 2-.3 2 .7 2-1 2 1.5 2-.3 2-.3 2-.5 2 .5 2-.9 2 1 2 .1 2-.3 2-.5 2 0 2 .5 2-1 2 1.1 2-.1 2-1.1 2 1.1 2-.7 1 .6 .5-.2 .5-.3 .5 .3 .5-.5 .5 .7 .5-.5 .5 0 .5 .2 .5-.3 .5-.8 .5 1.2 .5-.1 .5-.2 .5 .2 .5-.2 .5 0 .5-.4 .5-.5 .5 .5 .5-.3 .5 .1 .5-.2 .5-.5 .5 .3 .5-.4 .5 .7 .5-1.4 .5-.1 .5 .2 .5 0 .5-.7 .5 .6 .5-.5 .5-.3 .5-.4 .5-1.5 .5 .2 .5-1.1 .5-.2 .5-1.1 .5-.8 .5-2.4 .5-3.5 .5-2.6 .5-5.1 .5-7 .5-9 .5-11.5 .5-13.4 .5-15.3 .5-16.2 .5-17.1 .5-14.9 .5-10.6 .5-2.7 .5 3.5 .5 10.2 .5 14.7 .5 17.5 .5 16.6 .5 15 .5 12.7 .5 12.1 .5 8.1 .5 6.8 .5 5.2 .5 3.5 .5 1.8 .5 3.3 .5 1.2 .5 .8 .5 1.6 .5 0 .5 .1 .5 2 .5-1 .5-.4 .5 1.6 .5-.3 .5 .3 .5 .5 .5-.6 .5 .7 .5 .7 .5 .5 .5-.9 .5 .3 .5-.6 .5 1.1 .5-.5 .5 .1 .5 .6 .5-.3 .5 .2 .5 .2 .5 .1 .5-.3 .5 .2 .5-.6 .5 1 .5-.5 .5 0 .5 .2 .5 .1 .5 .5 .5-.1 .5 .3 .5 .4 .5 .4 .5-1.2 2 .1 2-.1 2 .2 2-.6 2 .9 2 .1 2-.1 2-.2 2-.1 2-.3 2 .1 2 .4 2 .2 2-.6 2 .7 2 .6 2-.5 2-.1 2-.2 2-.3 2 0 2 .5 2-.2 2-.6 2 .3 2 .3 2 .1 2 .6 2-1.2 2 .7 2 .2 2 0 2-.4 2-.4 2-.2 2-.2 1 .8 .5-.5 .5 1.2 .5-.7 .5 .3 .5-1.6 .5 1.4 .5 .2 .5-1 .5 .5 .5 .8 .5-.8 .5 .2 .5-1 .5 2 .5-2.1 .5 1.1 .5-1.1 .5 1.9 .5-.8 .5 .3 .5-.1 .5 .1 .5-.5 .5 .1 .5 .8 .5-.3 .5-.1 .5-.9 .5 .4 .5-.7 .5 .9 .5-.8 .5 .8 .5-.5 .5 .7 .5-.7 .5 1.1 .5-1.3 .5-.3 .5 .2 .5-.1 .5 .7 .5 .4 .5-1.8 .5 .4 .5-.7 .5 .7 .5-1.1 .5-.6 .5-1.6 .5 .4 .5-.6 .5-.1 .5-2 .5-.8 .5 .6 .5 .3 .5 1.4 .5 .1 .5 1.1 .5 1.2 .5 .4 .5 .4 .5 .9 .5-.4 .5 .1 .5 1.5 .5-.7 .5-.4 .5 1.1 .5-.1 .5 .7 .5-1.1 .5-.2 .5 0 .5 .9 .5-.6 .5 .1 .5 .3 .5-.7 .5 .3 .5 1.2 .5-.6 .5-.6 .5 1.2 .5-.7 .5-.4 .5-.1 .5 .6 .5-.2 .5 .2 .5-.5 .5 .1 .5-.3 .5 1 .5 0 .5-.9 .5 .8 .5 0 .5-.5 .5-.4 .5 1 .5-1.3 .5 1 .5-.7 .5-.2 .5 1 .5-.2 .5-1 .5 1 2-.6 2 .6 2 .5 2-1.8 2 1.5 2-.5 2 1.9 2-1 2 0 2-.8 2-.5 2 .8 2-.7 2 .7 2-.3 2 .1 2 .7 2-1 2 .2 2 .7 2-1.1 2 .3 2 .1 2 .4 2 0 2-.9 2 .9 2-.2 2 0 2-.1 2 .8 2-.9 2 .1 2-.4 2 .3 2 .3 2-.9 2 .7 2-.3 2 .7 2-.3 2-.8 2 0 2 .8 2-.7 2 1 2-.8 2 .7 2-1.2 2 .5 2-.6 2 1 2 .5 2-1.3 2 .1 2 .7 2-.9 .4 .7 .5-.4 .5 .5 .5-.9 .1-.3 .4 1.1 .5-1 .5 .3 .5-.5 .1 .8 .4 .6 .5-.1 .5-1 .5 .1 .1-.1 .4-.3 .5 .4 .5-.1 .5 .3 .1-.3 .4-.4 .5-.4 .5 .5 .5-.7 .1 1.8 .4-1.3 .5 0 .5-.1 .5 .6 .1 .1 .4-1.1 .5 0 .5-.7 .5 .4 .1-.1 .4 .6 .5-.7 .5 0 .5-.6 .1-.5 .4 .1 .5-.7 .5-.6 .5 .1 .1 .1 .4-.3 .5-1.3 .5-.7 .5 .5 .1-1.7 .4-.1 .5-1.2 .5-2.6 .5-3.2 .1 .2 .4-3.3 .5-5.9 .5-7.1 .5-10.6 .1-1.3 .4-10.4 .5-14.9 .5-17.5 .5-17.7 .1-3.4 .4-14.4 .5-17 .5-10.5 .5-4 .1 .6 .4 2.3 .5 13 .5 15.7 .5 18 .1 3.6 .4 15 .5 16.7 .5 15.3 .5 11.5 .1 2.1 .4 7.1 .5 8.1 .5 5.5 .5 3.5 .1 .2 .4 3.5 .5 1 .5 2.1 .5 1.4 .1-.2 .4 .4 .5 .5 .5 1.3 .5-.4 .1 .5 .4 1.1 .5-.5 .5-.3 .5 1 .1-.2 .4 .7 .5-.3 .5 1.5 .5-1.6 .1 .7 .4 .9 .5-.9 .5 1.2 .5-1.1 .1 .6 .4 .2 .5 .6 .5 .1 .5 .1 .1-.3 .4-.2 .5-.3 .5 .1 .5 .9 .1-1 .4 .1 .5 .3 .5 .6 .5 .7 .1-.5 .4-.2 .5 .9 .5-.1 .5-1 .1 .6 .4 .3 .5-.8 .5-.1 .5 0 .1 1.2 .4-.1 .5-.9 .5 .3 .6-.1 2-.3 2 .4 2 .2 2-.1 2 .1 2 .1 2 .1 2-.5 2 .7 2-.8 2 .9 2-.4 2 .1 2 0 2 .8 2-.3 2 0 2-.6 2 .1 2 0 2-.1 1.5 0 .5-.1 .5 .1 1-.1 .5 .6 .5-1 1 1.4 .5-1.4 .5 .3 1 .9 .5-.3 .5 .1 1 .3 .5-1.4 .5 .8 1-.4 .5 .3 .5-.5 1 .3 .5 .9 .5-1.3 1 .2 .5-.5 .5 .7 1-.1 .5-.1 .5-.2 1-1 .5-.3 .5 .2 1-.6 .5 .9 .5-.9 1-.2 .5 0 .5 1 1 .2 .5-.1 .5 0 1 .7 .5 .6 .5-.1 1 .4 .5-.3 .5 .3 1-.8 .5 .4 .5-.3 1 1.6 .5-1.1 .5 .3 1-.9 .5 0 .5 .4 1 .1 .5 .2 .5 .5 1-1.4 .5 .5 .5 .4 1 .1 .5-.5 .5 .3 1-.1 .5-.1 2 .1 2 .9 2-.4 2-.3 2 .3 2-1.1 2 1.1 2-.4 2 .6 2-.6 2 .3 2-.2 2 .9 2-1.6 2 1 2-.5 .5-.4 1 .8 .5-.5 .5 .2 1-.5 .5 .8 .5-1 1 .6 .5 .2 .5-.2 1-.7 .5 .5 .5-.3 1-.3 .5 .7 .3-.1 .2-.6 .3 .8 .5-.7 .2 .6 .3-.4 .2 0 .3 .1 .2-.1 .3-.1 .5 .3 .2-.5 .3 1 .2-.4 .3-.2 .2 0 .3-1 .5 .4 .2-.6 .3 .1 .2 .3 .3-.9 .2 .6 .3 .2 .5-1 .2-.1 .3 .8 .2-1 .3 .3 .2-1.2 .3 .9 .5-1.8 .2 1.1 .3-.4 .2 0 .3-.1 .2 .1 .3-.4 .5-1.7 .2 1.6 .3-.2 .2 0 .3-.6 .2 0 .3 1 .5 .6 .2-.5 .3 .1 .2-.2 .3 .7 .2 .9 .3-.5 .5 0 .2 .4 .3-.2 .2-.2 .3 .4 .2 .3 .3-.8 .5 .7 .2-.4 .3 .7 .2 .8 .3-.8 .2 .5 .3-.9 .5 .2 .2-.7 .3 .7 .2 .3 .3-1.2 .2 .8 .3-.6 .5-.9 .2 .9 .3-.9 .2 .5 .3-.6 .2 .4 .3-1 .5-.7 .2-.2 .3-1.1 .2 .5 .3-1.6 .2-.2 .3-1.9 .5-1.8 .2 .3 .3-2.2 .2-1.8 .3-2 .2-1 .3-3.7 .5-5.6 .2-2.3 .3-4 .2-2.9 .3-4.1 .2-3.7 .3-4.1 .5-9.6 .2-3.1 .3-5.3 .2-2.5 .3-3.7 .2-2.1 .3-2.8 .5-1.9 .2 .6 .3 1.2 .2 2.2 .3 1.9 .2 3.2 .3 3.8 .5 9 .5 9.5 .2 2 .3 4.2 .5 8.8 .5 6.6 .5 5 .2 1.8 .3 3.3 .5 3.5 .5 2.6 .5 3.4 .2-.5 .3 .4 .5 1.1 .5 .7 .5 .8 .2 1 .3 .2 .5-.3 .5 .8 .5 .3 .2 .2 .3-1 .5 .8 .5 .8 .5 .2 .2-.9 .3 .1 .5 .6 .5-.1 .5 .4 .2 .5 .3-.6 .5 .7 .5 .2 .5-1.1 .2 .8 .3-.7 .5 .9 .5 .1 .5-.4 .2 .2 .3-.4 .5 .1 .5 1.1 .5-1.2 .2 .1 .3 .2 .5 .3 .5 .7 .5-.3 .2-1.3 .3 1.7 .5-.7 .5-.5 .5 .8 .2 .1 .3-.3 .5-.3 .5 0 .5 .5 .2 .2 .3 .4 .5-1.4 .5 .5 .5-.3 .2-.4 .3 1.3 .5 0 .5 .1 .5 .1 .2-.7 .3 .7 1.7-1.8 2 1.5 2-.5 2 .7 2 .3 2-.9 2-.6 2 1.6 .5-1.2 .5 0 .5 .5 .5 .3 .5-.1 .5 .1 .5 0 .5 0 .5-.1 .5-.2 .5-1 .5 1.1 .5 .3 .5-.5 .5-.2 .5-.7 .5 .4 .5-.4 .5 .7 .5 .1 .5 .9 .5-1.6 .5 1 .5-.3 .5-.4 .5 0 .5 .8 .5 0 .5-1 .5 .3 .5-1 .5 .5 .5 .2 .5 .1 .5 .4 .5-1 .5 .5 .5-1 .5-.1 .5-.8 .5 .1 .5 .1 .5 .6 .5-.8 .5-.5 .5-.3 .5-.3 .5-1.2 .5-1 .5-1.7 .5-1.2 .5-2.4 .5-2.6 .5-3.9 .5-4.4 .5-6.7 .5-5 .5-6.8 .5-6.8 .5-7.1 .5-6.1 .5-4.5 .5-.4 .5 1 .5 4.4 .5 5.1 .5 6.8 .5 7.3 .5 5.9 .5 7.5 .5 5.5 .5 5.2 .5 3.5 .5 2.3 .5 2.8 .5 1.7 .5 .9 .5 .8 .5 1 .5 .4 .5 .8 .5-.1 .5 .5 .5 .1 .5 .9 .5-.9 .5 1.2 .5-.5 .5-.4 .5 .5 .5-.3 .5 .4 .5 .3 .5 .4 .5-.5 .5 .6 .5-.7 .5 1 .5-.9 .5 .3 .5 .2 .5 .2 .5 .4 .5 .2 .5-.7 .5 .9 .5 .1 .5-.6 .5 0 .5 .6 .5-.4 .5-.3 .5-.1 .5 .4 .5 .3 .5-1.1 .5 .7 .5-.6 .5 .6 .5 .1 .5-.1 .5 .3 .5-.7 .5 .8 .5-.6 1.5 .8 2-.5 2 0 2 .3 2-.4 2 .3 2-.1 2-.4 2-.4 2 .9 2-.1 2-.1 2 .3 2-.2 2 .2 2 .1 2-.4 2 .4 2-.4 2 .7 2-.1 2-1.2 2 1 2 .2 2 .2 2-.4 2-.5 2 .3 2 .2 2 .2 2-.4 2 .5 2 .2 2-.2 2-.8 2 .2 2 .5 2-.1 2-.1 2-.4 2 0 2 .4 2-.6 2 1.1 2-1.3 2 1.1 2-.3 2-.5 2 .9 2-.7 2 .1 2-.2 2 .3 2 .4 2 .4 2 .7 2-1.5 2-.4 2 .4 2-.2 2 .1 2 .1 2 .4 2-.2 2 .1 2 0 2 .4 2-.2 2 0 2 .1 2 0 2-.8 2-.1 2 0 2 0 2 0 2 .9 2-.7 2 .7 2-1 2 .8 2-.3 2-.5 2 .6 2-.9 2 0 2 .4 2 .8 2-.8 2 .3 2 .4 2-.7 2-.4 2 1 2-.6 2-.2 2 1.2 2 .4 1.5-1.4 .5 .6 .5-.3 .5 .3 .5-1.1 .5 .5 .5-.5 .5 .1 .5 .7 .5 .2 .5-.6 .5 .7 .5-.5 .5 .1 .5 .2 .5-.8 .5-.5 .5 1.7 .5-.4 .5 .3 .5-1 .5-.1 .5 .6 .5-.8 .5 .7 .5 .7 .5-.9 .5-.1 .5-.6 .5 .1 .5 1.1 .5-.3 .5 0 .5-.1 .5-.7 .5 1.2 .5-.8 .5 .1 .5-.6 .5 .5 .5 .1 .5-.8 .5 .5 .5 0 .5 0 .5-.5 .5 .8 .5-.8 .5 0 .5-.3 .5-.3 .5 .2 .5-.2 .5-.8 .5 .2 .5-.3 .5-1.5 .5-.2 .5-1.5 .5-1.1 .5-1.6 .5-1.9 .5-4 .5-1.5 .5-2 .5-3.5 .5-3.3 .5-2.6 .5-2.3 .5-1.8 .5-.2 .5-.6 .5 2.8 .5 2.7 .5 1.5 .5 2.7 .5 4.3 .5 2.3 .5 3.1 .5 2.5 .5 1.4 .5 .5 .5 2.8 .5 1.2 .5-.3 .5 2 .5 .2 .5 .8 .5 .2 .5-1.1 .5 1.4 .5-.7 .5 .6 .5 .3 .5-.2 .5 .6 .5 0 .5 .1 .5-.5 .5 .2 .5 .4 .5-.7 .5 .5 .5-.3 .5 .4 .5 .2 .5-.7 .5 1.4 .5-.6 .5 .3 .5-.3 .5-.6 .5 .9 .5-.2 .5-.3 .5-.1 .5 .8 .5-.6 .5-.4 .5 .5 .5 .5 .5-.4 .5-.5 .5 .7 .5 .1 .5-.6 .5 0 .5 .3 .5 .4 .5 .1 .5 .1 .5-.8 .5 .6 .5-.2 .5 .4 .5-.6 .5-.6 .5 .8 .5 .2 .5 0 .5-1 .5 .3 2 .9 2-.5 2 .2 2-.2 2 0 2-.1 2 .9 2-1.7 2 1.1 2 .2 2 .4 2-.1 2-1 2 .9 2-.3 2-.3 2-.2 2 1 2-1 2 .8 2 .3 2-1.1 2-.4 2 .4 2 .8 2-.1 2-1.6 2 2.3 2-1.9 2 .9 2 0 2-.3 2 .8 2-.2 2 0 2-.1 2 0 2-.2 2-.3 2 .2 2-.1 2 0 2-.4 2 .8 2-.4 2 .1 2-.5 2 .6 2-.2 2 .4 2-.2 2-.5 2 .7 2-.9 2 .3 2 1 2-.7 2 1.2 2-.6 2-.8 2 .4 2-.5 2 0 2-.2 2-.5 2 .9 2 .4 2-.1 1.1 .6 .9-.8 .1 .5 1-1.3 .9 .7 .1-.2 1 .1 .9 .1 .1-.3 1-.1 .9-.2 .1 .9 1 0 .9 .1 .1 0 1-.7 .9 .4 .1 .7 1-1 .9-.3 .1 .8 1-.4 .9 .3 .1-.9 1-1 .9 .6 .1 .1 1-.4 .9-1.2 .1 .5 1-1.3 .9 .8 .1-.8 1 .9 .9-.5 .1 .5 1 1 .9 .6 .1 .1 1 .2 .9 .8 .1-.6 1 .2 .9 1.2 .1-.1 1-.6 .9-.2 .1 .3 1 0 .9-.4 .1-.6 1 .2 .9 .1 .1 .3 1 .7 .9-.9 .1 .3 1-.3 .9 .7 .1-.9 1 .3 .9 .1 .1 0 1-.1 .9 .8 2-1.1 2 .3 2-.5 2 .8 2-.5 2 .4 1 .2 .5-.6 .5 .8 .5-1.2 .5 .5 .5 .3 .5-.3 .5 .5 .5-.8 .5-.6 .5 .7 .5 .3 .5 .5 .5-.4 .5 .4 .5-.6 .5-.1 .5 .4 .5-.3 .5 1 .5-1.3 .5 .6 .5-.9 .5 1.2 .5 .2 .5-.3 .5-.4 .5-.6 .5 1.3 .5-1.3 .5 1 .5-.6 .5 .6 .5 0 .5-1 .5-.2 .5 .6 .5-.5 .5 1.1 .5 .1 .5-1.2 .5 1.1 .5-.7 .5 .3 .5-.2 .5-1.6 .5 1.4 .5-.9 .5 1.1 .5-.1 .5-.5 .5 .7 .5-1.1 .5 .6 .5-.6 .5 .4 .5-.3 .5-.8 .5-.3 .5-.8 .5 .6 .5-.9 .5-.7 .5-.1 .5-1.7 .5-1.1 .5-1.6 .5-2 .5-1.7 .5-2.2 .5-3.6 .5-2.2 .5-3.3 .5-2.3 .5-3.6 .5-1.8 .5-2.5 .5-2.9 .5 .7 .5 .5 .5 1.7 .5 1.4 .5 2.4 .5 4.4 .5 1.8 .5 4.2 .5 1.8 .5 3.7 .5 1.9 .5 1.4 .5 2.1 .5 1.2 .5 2 .5 .2 .5 1.4 .5 1.1 .5 .2 .5-.1 .5-.7 .5 1.8 .5-.5 .5 1 .5-.4 .5 .1 .5 .8 .5-.8 .5 .6 .5-.2 .5 .9 .5-.6 .5 .3 .5-.4 .5-.4 .5 .1 .5 .1 .5-.5 .5 .5 .5-.2 .5 .2 .5 .9 .5-.9 .5 1.5 .5-.9 .5-.2 .5 .5 .5-.4 .5 1 .5-1.5 .5 1 .5 0 .5-.7 .5 .9 .5 .2 .5-1.2 .5 1.4 .5-.7 .5 .2 .5-.5 .5 .7 .5 .1 .5-.8 .5-.2 .5 .5 .5-.8 .5 .8 .5-1.1 .5 .5 .5-.3 .5 .9 .5-.3 .5 .4 .5 .8 .5-.3 .5 .4 .5-.7 .5-.7 .5 .3 1-.1 2 .4 2-.4 2 .2 2 0 2 .6 2-.8 2 .1 2-.1 2 0 2-.7 2 1.7 2-.9 2 1 2-2.1 2 1.1 2 .4 2 .2 2-.5 2-1 2 1.2 2 .7 .5-1.8 .5 .7 .5-.2 .5 .7 .5 .3 .5-.5 .5 .4 .5-.8 .5 .6 .5 .3 .5-.1 .5-.2 .5 .7 .5-.9 .5 .1 .5-.1 .5 .6 .5-.1 .5-.1 .5 0 .5 .2 .5-.3 .5 .7 .5-1.2 .5-.2 .5 1 .5-.5 .5-.5 .5 .4 .5 .3 .5-.6 .5 .9 .5 0 .5-.8 .5 .2 .5-.4 .5 .4 .5 .2 .5-.3 .5 .2 .5 .2 .5-.2 .5 .5 .5-1.1 .5 .7 .5-.8 .5 .6 .5 .1 .5 .3 .5-.2 .5 0 .5 .5 .5-.2 .5-.6 .5-.1 .5-.2 .5 .3 .5-.2 .5 .5 .5-.6 .5 0 .5 .3 .5-1 .5 .1 .5-.2 .5 .1 .5-.7 .5 .9 .5-1.4 .5 0 .5-.9 .5 .1 .5-1.3 .5-.4 .5 .6 .5-.7 .5-.2 .5-1.1 .5 .9 .5-.5 .5 0 .5 .7 .5 .1 .5 .1 .5 .8 .5 .3 .5 .9 .5 .1 .5 1 .5-.1 .5 .9 .5 .4 .5 .4 .5-.3 .5-.2 .5 .1 .5-.5 .5 1.2 .5-.5 .5 .1 .5 .1 .5 .3 .5-.2 .5 .3 .5 .1 .5 .3 .5-.4 .5-.8 .5 .7 .5-.3 .5 .8 .5-.4 .5 .1 .5 0 .5-1 .5 1.3 .5-.8 .5-.7 .5 .7 .5 .6 .5-.5 .5 .5 .5-.8 .5 .6 .5 .2 .5 .5 .5-.4 .5 .4 .5-.4 .5-.1 .5 .4 .5-.6 .5-.3 .5 .4 .5-.6 .5 1 .5-.3 .5-.1 .5-.5 .5 1 .5-.2 .5-.5 .5-.3 .5 .1 .5 .1 .5-.2 .5-.1 .5 .3 .5 .2 .5 .5 .5-1.1 .5 .4 .5 .9 .5-1.2 .5 .5 .5 .1 .5-.1 1.5 .4 2-.3 2-.1 2-.2 2 .5 2 .2 2 .3 2-1.1 2 .2 2 .7 2-.8 2 .3 2 0 2-.3 2-.3 2-.2 2 .6 2-.2 2 .9 2-.3 2 0 2 0 2-.4 2 .5 2 .4 2-1.6 2 1.1 2 .7 2-1.3 2 .5 2-.1 2 .1 2-1.1 2 1.2 2-.1 2-1 2 1 2-.4 2 .5 2-.2 2-.1 2 .2 2-.7 2 1.3 2-.5 2-.7 2 .3 2-.1 2 .4 2 .4 2-.7 2 .8 2-.5 2-.6 2 .1 2 .4 2-.2 2-.1 2-.6 2 1.1 2-.5 2 .2 2-.9 2 1.2 2-.2 2 .4 2-.5 2 .2 2-.2 2 .1 .1 0 .5 1 .5-1.1 .5-.4 .4 .2 .1-.1 .5 .9 .5-1 .5 .5 .4-.5 .1-.2 .5 .4 .5 .6 .5-.5 .4-.5 .1 .7 .5 .3 .5-.6 .5 .1 .4 .3 .1 .3 .5-.1 .5-.4 .5 .4 .4-.4 .1 .2 .5-.1 .5 .2 .5-1.3 .4 .9 .1 0 .5 .6 .5-.1 .5-.6 .4-.3 .1-.5 .5 .2 .5 1.2 .5-.1 .4-1 .1 .3 .5 .6 .5-1.1 .5 1.2 .4-.7 .1-1.2 .5 1.4 .5-.9 .5 .7 .4 .3 .1-.1 .5-.3 .5 .5 .5-.6 .4-.7 .1 .8 .5 .6 .5-.2 .5-.4 .4 .1 .1 .2 .5-.4 .5 .8 .5-1.1 .4 .6 .1-.5 .5-.1 .5 1 .5-.5 .4-.2 .1-.8 .5 .5 .5 .3 .5 .6 .4-1 .1-1 .5 .8 .5-.4 .5 .4 .4-1 .1-.2 .5-.4 .5 .7 .5-.7 .4-.4 .1-.1 .5-1 .5-.1 .5-1.4 .4-.7 .1-.7 .5-1.2 .5-.1 .5-.5 .4-.3 .1-.2 .5-.6 .5 .5 .5 0 .4-.4 .1 .4 .5 0 .5 1.1 .5 .6 .4 .1 .1 .7 .5 2.1 .5-.5 .5 1 .4 .8 .1 .3 .5 .7 .5 0 .5 .6 .4 0 .1 .6 .5-.6 .5 .6 .5 .1 .4 .1 .1 .9 .5-.1 .5 0 .5-.1 .4-.4 .1 .4 .5 .2 .5-.2 .5 1.2 .4-2 .1 .6 .2 .8 .3-.4 .2-.6 .3-.1 .2 1 .3-.7 .2 .2 .2 .5 .1-.2 .2-.9 .3 1.5 .2-1.1 .3 1.1 .2-.6 .3-.8 .2 1.1 .2-.5 .1-.5 .2-.3 .3 1 .2 .4 .3-.8 .2 1.1 .3-1.4 .2 1.8 .2-1.1 .1-.1 .2-.1 .3-.1 .2 .3 .3-.2 .2 .3 .3 .6 .2-1.2 .2 .1 .1 .3 .2 .1 .3 0 .2 .2 .3-.5 .2 .4 .3-.3 .2 .3 .2-.1 .1-.5 .2 .4 .3-.3 .2 .8 .3-.3 .2-.1 .3-.1 .2-.8 .2 1.6 .1-.8 .2-.3 .3 .7 .2-.1 .3-.4 .2-.3 .3-.4 .2 .7 .2-.5 .1 1.3 .2-.7 .3-.1 .2 .1 .3 .1 .2-.7 .3 .4 .2-.6 .2 .8 .1 1 .2-1.3 .3 .2 .2-.8 .3 .8 .2 .6 .3-.8 .2 0 .2-.6 .1 .5 .2 .2 .3 .6 .2-.7 .3 .4 .2-1.1 .3 .4 .2 .8 .2-.6 .1 .2 .2 .4 .3-.2 .2 .1 .3-1 .2 .6 .3 .4 .2-.3 .2-.8 .1 .2 .2 1.2 .3-1.4 .2 .4 .3-.4 .2 .3 .3 .8 .2-.7 .2-.2 .1-.2 .2 .6 .3-.3 .2 0 .3-.5 .2 .5 .3 .3 .2-1 .2 1.1 .1-.2 .2-.5 .5 .1 .5-.3 .5-.5 .2 .1 .3 0 .5-.3 .5 .7 .5-.4 .2-.1 .3 .2 .5-2.3 .5 1.1 .5-1.3 .2-.7 .3-.9 .5-.9 .5-.4 .5-2.1 .2-.1 .3-1.7 .5-2.1 .5-2.8 .5-2.1 .2-1.9 .3-.3 .5-3.5 .5-2.1 .5-2.6 .2-.2 .3-1.3 .5-1.1 .5-.1 .5-.1 .2 .4 .3 .8 .5 1.9 .5 2.4 .5 2 .2 2.1 .3 1.7 .5 2 .5 2.5 .5 2.3 .2 1.3 .3 1.1 .5 1.1 .5 2.8 .5 1.1 .2 .3 .3-.4 .5 2.3 .5-.7 .5 1.2 .2 .2 .3 .4 .5 .7 .5 .2 .5 .2 .2 .2 .3 .2 .5-.6 .5-.4 .5 1 .2-.4 .3 1 .5-.3 .5 .4 .5-.1 .2-.5 .3 .2 .5-.8 .5 1 .5 .9 .2-1 .3-.5 .5 0 .5 1.4 .5-.8 .2 .1 .3-.3 .5-.4 .5 .7 .5 .6 .2 .1 .3-.2 .5-.2 .5-.6 .5 .6 .2-.7 .3 1.2 .5-.8 .5-.3 .5 .4 .2-.4 .3 .7 .5-.1 .5 .9 .5-.7 .2-.2 .3-.8 .5 .8 .5 .1 .5-.4 .2 .2 .3-.7 .5 0 .5 0 .5 .2 .2 .6 .3 .1 .5-.4 .5 .5 .5-.1 .2 .8 .3-.9 .5-.3 .5 .4 .5 .3 .2-.7 .3-.3 .2 1.4"/>
<path stroke="#CC9A04" d="M187.5 2623.0l 2 .3 2-.1 2-.8 2 1.3 2-.3 2-.3 2-.3 2 .6 2-.8 2 .6 2 .4 2-.4 2-.2 2 0 2 0 2 .6 2 .3 2-.7 2-.1 2-.2 2-.3 2 .3 2-.8 2 .6 2 .6 2 .2 2-1.3 2 .6 2 .8 2-.6 2-.1 2 .3 2-1.1 2 .8 2 .8 2-1.1 2 1.2 2-.8 2 .2 2-.2 2 .2 2-.3 2-.8 2 1.7 2-1 2 .6 2-.2 2 .4 2-1.1 2-.1 2 .4 2 .2 2-.2 2-.6 2 1.5 2-.8 2 1 2-.9 2 .7 2-1.1 2 .2 2 .4 2-.2 2-.3 2 .8 2-.6 2 0 2-.4 2 .8 2-.2 2-.6 2 .1 2-.3 2 1.1 2 .6 2-1.8 2 .3 2 1.5 2-1.4 2 .8 2-.9 2 .2 2 .7 2-.1 2 .1 2-.2 2 .2 2-.5 2-.5 2 1.5 2-.9 2-.4 2 .4 2-.2 2 .2 2-.2 2 .4 2 .3 2-1.4 2 1.3 2 .1 2-.6 2 1.1 2-1.3 2 .6 2-.5 2-.1 2 .4 2 .2 2 .4 2-.6 2 .5 2-.6 2 0 2-.6 2 .3 2 .4 2 .7 2-1.2 2 .9 2-.9 2 1 2-.3 2-.3 2 .8 2-1.3 2 .1 2 1 2-.3 2-.3 2 .2 2 .2 2 0 2-.3 2-.3 2-.5 2 1.5 2-.3 2-1.1 2 0 2-.1 2 .2 2 .4 2-.1 2 0 2 .4 2-.9 2-.1 2 .3 2-.2 2 .3 2 1.1 2-1.1 2 .4 2 .2 2-.3 2 .2 2-.2 2-.3 2-.3 2 .3 2 .2 2 1 2-.5 2 .2 2-.2 2-.5 2-.3 2 .4 2 .1 2 .3 2 0 2-.3 2-1 2 1.1 2-.6 2-.4 2 1.2 2 .3 2-.9 2 .1 2-.1 2 .5 2-.4 2-.6 2 .8 2 .3 2 .1 2-.4 2 .3 2-.4 2 .2 2-.3 2-.3 2 1.3 2-.4 2-.5 2 0 2 .1 2-.8 2 .6 2 .1 2-.2 2 .5 2-.4 2-.7 2 1.2 2 .1 2-.2 2-.5 2-.1 2 .7 2-.9 2 .6 2 .4 2-.1 2 .2 2-.8 2-.4 2 .3 2 .3 2 .5 2-.8 2-.2 2 1.2 2-.6 2-.7 2 .5 2 .6 2-.4 2-.3 2 0 2-.2 2 .5 2-.1 2 .4 2-.2 2 0 2-.5 2 .5 2 0 2 0 2 .1 2 .1 2-.1 2-.6 2 0 2 .3 2 .2 2 .2 2-.1 2 .2 2-.9 2 0 2 .3 2 .7 2 .4 2-.9 2-.8 2 .6 2 .6 2-.4 2-.1 2-.3 2 .5 2 0 2-.2 1-.7 .5 1.1 .5-.4 .5-.3 .5 .1 .5 .2 .5-.3 .5 .1 .5 0 .5-.3 .5 .2 .5 0 .5 1.4 .5-1.3 .5-.3 .5 .7 .5 .4 .5-1.8 .5 1.2 .5-.3 .5-.4 .5 .1 .5-.1 .5 1.1 .5-1.1 .5 1 .5-1 .5 0 .5 0 .5 0 .5-.1 .5 .1 .5 .2 .5-.9 .5-.5 .5 .6 .5-.3 .5 0 .5-.1 .5-.3 .5 .1 .5 .1 .5-1 .5-.4 .5-.6 .5-2.7 .5-.7 .5-3 .5-2.4 .5-2.8 .5-3.9 .5-4.2 .5-3 .5-5 .5-1.9 .5-.6 .5 .2 .5 2.8 .5 3.6 .5 4.3 .5 5.1 .5 2.9 .5 3.1 .5 1.3 .5 3.6 .5 1.6 .5 .9 .5 1.4 .5 0 .5 .6 .5 .9 .5-.5 .5 .4 .5-.3 .5 1.8 .5-1 .5 .8 .5-.7 .5 1.5 .5-.7 .5-.7 .5 .7 .5 .4 .5-.6 .5 .2 .5 .1 .5 .4 .5 .2 .5-1 .5 .5 .5 .3 .5-.8 .5 1.1 .5-.3 .5 .1 .5-1.1 .5 .4 .5-.1 .5 .9 .5-.9 .5 .4 .5 .3 .5 .3 .5-1.2 .5 .4 .5 1 .5-.7 .5 0 .5 .6 .5-.2 .5 .3 2-.4 2 .5 2-.9 2 .3 2 .2 2 0 2-.7 2 .5 2 0 2 .3 2 0 2-.7 2-.8 2 1.8 2-.1 2-.5 2 .2 2 .3 2-1 2-.1 2 .5 2-.9 2 1.1 2-.3 2-.6 2 1.5 2-1.2 2 .7 2-.1 2-.1 2-.6 2 .6 2 0 2-.6 2 .8 2-.8 .5-.2 .5 1.7 .5-1.1 .5 .8 .5-1.3 .5 1.1 .5-.3 .5-.6 .5-.1 .5 .5 .5-.3 .5 .6 .5 0 .5-.2 .5 .3 .5 .1 .5-.7 .5 .7 .5-.1 .5-.1 .5-.2 .5-.1 .5-.7 .5 .6 .5 1.1 .5-1.4 .5 .8 .5-.5 .5 .4 .5-.2 .5 .1 .5-.2 .5-.5 .5 1.3 .5-.7 .5 .1 .5-.7 .5 .1 .5-.4 .5-.1 .5 .5 .5-.3 .5 1.2 .5-.1 .5-.7 .5-.6 .5-.5 .5-.5 .5 .4 .5-.8 .5-1.8 .5 1.1 .5-.6 .5-.4 .5 .3 .5 0 .5-.2 .5-.4 .5 1.6 .5 .8 .5 .7 .5-.8 .5 1 .5 .4 .5-.1 .5-.3 .5 1.1 .5-.5 .5 .3 .5 0 .5 .7 .5-.8 .5-.2 .5 .4 .5 .4 .5-.3 .5-.2 .5 .3 .5-.1 .5-.8 .5 .2 .5 0 .5 .7 .5-.1 .5 .3 .5-.9 .5 .8 .5-.1 .5-.1 .5 0 .5-.5 .5 .2 .5 1.1 .5-1.1 .5 .4 .5 .1 .5-.3 .5-.2 .5-.6 .5 .6 .5 .2 .5-.1 .5 .6 .5-.7 .5-.2 .5 .6 .5-.1 .5 .1 .5 .6 .5-1.3 1 .2 2-.2 2 .5 2-.7 2 .9 2 .2 2-.7 2 .3 2-.2 2-.2 2 0 2-.6 2 .6 2 1.2 2-.6 2 .2 2-.3 2-.2 2 .4 2-.4 2-.1 2 .1 2 .9 2-.8 2 .7 2-1.1 2 1 2-.4 2 0 2 0 2-.2 2-.2 2-.4 2 1.2 2-.9 2 .1 2-.2 2 .9 2 .2 2-1 2 .3 2-.7 2 .7 2 .1 2 0 2-.2 2 0 2 .9 2-1.7 2 1 2-.2 2-.4 2 .5 2-.4 2-.3 2 .5 2-.2 2-.1 1-.6 .5 1.5 .5-.6 .5-.1 .5-.5 .5 .4 .5-.7 .5 .4 .5 0 .5 .3 .5 .1 .5-.2 .5-.3 .5-.5 .5 .5 .5 .2 .5 .1 .5-.9 .5 .2 .5-.3 .5 .5 .5-.2 .5 .1 .5-.6 .5 .4 .5 .7 .5-.9 .5 .3 .5-.4 .5-.2 .5-.3 .5-.1 .5-1.1 .5 .6 .5 .4 .5-.1 .5-1.7 .5-.7 .5-.1 .5 .3 .5-.9 .5-1.4 .5-1.6 .5-3 .5-1.6 .5-2.9 .5-4.5 .5-7.6 .5-8.2 .5-8.4 .5-12 .5-12.6 .5-12.9 .5-9 .5-8.1 .5-2.8 .5 2.2 .5 7.3 .5 10.7 .5 13.1 .5 12.1 .5 11 .5 9.8 .5 7.9 .5 7.2 .5 4.8 .5 3.7 .5 2.1 .5 2.4 .5 1.5 .5 .6 .5 .5 .5 .9 .5 .4 .5 .5 .5 .2 .5 1.1 .5-.1 .5-.4 .5 .1 .5 .2 .5 .5 .5-.6 .5 .9 .5 .9 .5-.6 .5-.2 .5 .3 .5-.7 .5 .7 .5 .4 .5 .1 .5-.4 .5 .2 .5 .2 .5-.8 .5 .9 .5-.5 .5 .5 .5 .1 .5-.4 .5 .1 .5 .7 .5-.1 .5 .2 .5 .4 .5-1.1 .5 .9 .5-.7 .5 .2 .5-1.1 2 1.5 2-.1 2-.1 2-.1 2-.3 2-.8 2 1.3 2 .6 2-.9 2 .1 2-.2 2 .9 2-.3 2-1.1 2 .7 2 0 2 .2 2-.6 2 .1 2 .3 2 .5 2-.4 2 .6 2-.7 2 .3 2-.4 2 .8 2-1.4 2 1 2 .2 2-.5 2 .1 2 .6 2-.3 2 .4 2-.3 2-.6 2 1.3 2-1.3 2 .1 2-.1 2 .3 2 .2 2 .3 2-1.3 2 .7 2 .1 2-.5 2 .5 2-.3 2 .2 2-.2 2 .4 2 .1 2 .9 2-1.7 2 0 2 .2 2-.1 2-.1 2 .5 2-.2 2 0 .1-1 .5 .8 .5 .3 .5 .3 .4-.1 .1-.3 .5-.9 .5 .4 .5 .4 .4 .2 .1 0 .5-.2 .5-.2 .5 .4 .4-.2 .1 .1 .5-.1 .5 0 .5 .3 .4-.1 .1-.2 .5-.1 .5-.2 .5-.1 .4 .4 .1-.7 .5 1.3 .5-1.3 .5 .3 .4-.6 .1-.1 .5 .8 .5 .1 .5 .6 .4-.2 .1-.9 .5 0 .5-.4 .5 .2 .4 .4 .1-.2 .5 .7 .5-1.2 .5 .6 .4 .1 .1-.3 .5-.3 .5-.2 .5 .2 .4-.4 .1-.1 .5-.5 .5-.3 .5 .3 .4-.7 .1 .2 .5-.4 .5-.1 .5-.8 .4 0 .1-1 .5-.6 .5-.9 .5-2.1 .4-2.6 .1 0 .5-3.7 .5-4.1 .5-4.6 .4-3.6 .1-1.3 .5-6.8 .5-4.8 .5-6.2 .4-4.4 .1 .3 .5-4.6 .5-1.5 .5 1.2 .4 2.8 .1 1.6 .5 3.6 .5 6.7 .5 5.4 .4 5.3 .1 .3 .5 6.3 .5 3.8 .5 4.6 .4 1.8 .1 1.4 .5 2.6 .5 1.6 .5 2 .4 1.1 .1-.3 .5 1.5 .5 0 .5 .9 .4-.6 .1-.3 .5 .7 .5 .3 .5 .8 .4 .9 .1-.8 .5 .1 .5-.4 .5 0 .4 .3 .1-.2 .5 .7 .5-.3 .5 0 .4 .4 .1 .1 .5-.1 .5-.3 .5 .9 .4 .2 .1-1.3 .5 .2 .5 .9 .5-1.2 .4 1.3 .1-.9 .5 .9 .5 0 .5-.4 .4 .1 .1-.3 .5 1 .5-.3 .5-.4 .4-.1 .1 .7 .5-.3 .5-.1 .5 .1 .4-.6 .1 1.3 .5-.2 .5-.4 .5 0 .4 0 .1-.9 .5 .1 .5 .2 .5 .5 .4-.1 .1 .1 .5 .3 .5-.6 .5-.4 .4 1.1 .1-1 1.9 0 2 1.2 2-.7 2-.7 2 .5 2 .6 2-.8 2 .6 1.2-.4 .5 .5 .3 0 .2-1.1 .5 .7 .5 .2 .5-.6 .3 .6 .2 .2 .5-.3 .5-.5 .5 .1 .3 .8 .2-.6 .5-.3 .5 .8 .5 .1 .3-.5 .2-.4 .5 .3 .5 .2 .5-.3 .3 .1 .2-.6 .5 .7 .5 .4 .5-.1 .3 .2 .2-.2 .5-.8 .5 .2 .5 .6 .3-.8 .2 .3 .5-.7 .5-.8 .5 1.2 .3-.5 .2 1.5 .5-.7 .5 .2 .5-.9 .3 .2 .2-.3 .5 .3 .5-.3 .5-.1 .3 .7 .2-.6 .5 .5 .5-.3 .5-.3 .3 .4 .2-.6 .5-.1 .5-.6 .5-.5 .3 .1 .2-.4 .5-.9 .5-1.1 .5-.6 .3-.5 .2-.6 .5-2.4 .5-1.8 .5-2.8 .3-2.2 .2-1.4 .5-4.2 .5-5.1 .5-5.7 .3-2.5 .2-2.3 .5-5.2 .5-4.3 .5-2.7 .3-.6 .2-.5 .5 .6 .5 3.3 .5 4 .3 3.8 .2 2.1 .5 5.1 .5 4.9 .5 5 .3 3.1 .2 1 .5 4 .5 2.6 .5 2.8 .3 .2 .2 1.8 .5 .8 .5 1.1 .5 1.6 .3-.3 .2-1 .5 1.1 .5 .5 .5-.5 .3 1.3 .2 .2 .5-.8 .5 .7 .5-.2 .3 .5 .2 .1 .5-.5 .5 .4 .5 .2 .3 .4 .2-.7 .5 0 .5 1.6 .5-1.4 .3 .6 .2-.6 .5 .3 .5 .9 .5-.7 .3 .5 .2-.4 .5-.2 .5 .5 .5-.6 .3 .3 .2-.2 .5 0 .5-.1 .5 .4 .3-.5 .2 .8 .5 .2 .5 .2 .5 0 .3-.3 .2 .2 .5-.7 .5 .1 .5-.1 .3 .7 .2-.7 .5 .3 .5 1 .5-1 .3 0 .2 .6 .5 .1 .5-.5 .5-.3 .3 1.2 .2-1.6 .5 .1 .5 1.1 .8-.3 2 0 2 .4 2-.6 2-1.1 2 .7 2 .4 2-.1 2 .1 2-.8 2 1.5 2-.9 2 .3 2 0 2 0 2 0 2-.4 2 .8 2-1 2 .3 2-.4 2 .5 2 .3 2 .2 2-.1 2-.6 2 .5 2-.1 2-.7 2 .5 2 1.2 2-.5 2-.5 2 .8 2 .1 2-.6 2 .3 2-.1 2-.9 2 .5 2 .1 2-.5 2 .7 2-.9 2 .5 2-.2 2-.3 2 1.1 2-.1 2 0 2-1.3 2 .8 2-.1 2 .1 2 .3 2 .1 2 .5 2-.9 2-.8 2-.1 2 1.2 2 .5 2-.5 2 .4 2-.2 2-.6 2 .3 2-.3 2 .7 2-.2 2-.7 2 .2 2 .5 2-.4 2-.6 2 1.2 2-1.4 2 .5 2 1.5 2-1.1 2 .3 2 .4 2-1.4 2 .7 2-.7 2 .9 2-.3 2 0 2-.3 2 .9 2-1 2 1 2-1.6 2 1.9 2-.8 2-.4 2 .7 2-.6 .1-.4 .5 .7 .5-.3 .5-.4 .4 .7 .1-.5 .5 .5 .5-.8 .5 .6 .4-.7 .1 1 .5 .6 .5-.5 .5 0 .4-1 .1 .4 .5 0 .5 .1 .5 .7 .4-.1 .1 .1 .5-.7 .5-1.1 .5 1.4 .4-.1 .1-.4 .5-.4 .5 1 .5-.2 .4-.2 .1-.2 .5 .2 .5 1.1 .5-1.9 .4 .8 .1-.6 .5 .3 .5-.2 .5 1.1 .4-1.3 .1 .6 .5 .8 .5-1.1 .5 .1 .4 .2 .1-.5 .5 .4 .5-.4 .5 .4 .4-.3 .1-.1 .5-.3 .5 .5 .5-.7 .4 .2 .1 .9 .5-.6 .5-.3 .5 .3 .4 .4 .1-.1 .5-.9 .5-.2 .5-.2 .4-.3 .1 .8 .5-.2 .5-.1 .5-.8 .4-1.7 .1 .4 .5-.5 .5-.8 .5-1.8 .4-.9 .1-.3 .5-.7 .5-2.9 .5-2.1 .4-2.1 .1-.5 .5-2.8 .5-2.4 .5-3.4 .4-1.3 .1 .2 .5-1 .5-.9 .5 .1 .4 1.1 .1 .8 .5 1.1 .5 3.2 .5 2.4 .4 2.4 .1 .5 .5 2.3 .5 2.3 .5 1.4 .4 2.7 .1-.1 .5 1.4 .5 2.2 .5 .5 .4-.1 .1-.9 .5 1.2 .5 1.4 .5-.1 .4 .2 .1 .1 .5-.9 .5 1.3 .5 .2 .4 .1 .1 0 .5 .1 .5-.1 .5-.4 .4 1.1 .1-1.1 .5 .9 .5 .5 .5 0 .4-.7 .1 .1 .5 .4 .5-.2 .5-.1 .4 .5 .1-.2 .5-.7 .5 .5 .5 .2 .4 .1 .1-.5 .5 .8 .5 0 .5-.6 .4 .1 .1-.8 .5 .8 .5 .2 .5 .2 .4-.8 .1 .6 .5-.3 .5 1.7 .5-1.5 .4 0 .1 .4 .5-1.2 .5 .8 .5 .2 .4-.3 .1-.1 .5 .1 .5 1 .5-1.2 .4 .6 .1-.6 .5 .5 .5 .3 .5-.4 .4 .1 .1 .2 .5-.2 .5-.2 .5 .3 .4-.2 .1 .1 .5 0 .5-.7 .5 .9 .4 .2 .1-.9 1.9 .6 2 .3 2-.5 2 .7 2-1.2 2 1.1 2-.5 2-1 2 1.1 2-.1 2 .9 2-.9 2 1.1 2-1.3 2 .6 2-.8 2 1.1 2-.4 2 .9 2-1.5 2 .2 2-.1 2 1.5 2-2 2 0 2 1.9 2-1.1 2 .7 2-.3 2-.1 2-.5 2-.5 2 .9 2 .8 2-2.2 2 .9 2 .6 2 .3 2-.7 2 .6 2 .3 2-1.3 2 .6 2-.6 2 0 2 1.6 2-.4 2-.4 2-.7 2 1.3 2-.7 2 0 2 .2 2 .6 2-.1 2-.3 2-1.2 2 .4 2 0 2 .5 2-.2 2-.6 2 .6 2-.1 2 .7 2-.9 2 .3 2-.1 2-.3 2 1.8 2-1.8 2 .3 2-.1 2 0 2-.7 2 .6 2 .5 2-.2 2-.2 2 .6 2-.7 2-.8 2 1.1 2-.5 2 .7 2 .4 2-.7 2 .9 2-.7 2-.5 2 .7 2-.4 2 .2 2-.5 2 .6 1.3-.7 .5 .6 .2-.9 .3 .9 .5-.7 .5 .7 .5 .1 .2-.9 .3 .9 .5-1.2 .5 0 .5 1.3 .2-1 .3 .3 .5 .4 .5-.2 .5 0 .2-.1 .3 .3 .5 0 .5-.2 .5-.3 .2-.3 .3 1.2 .5-1.1 .5 0 .5 .7 .2 0 .3-.4 .5-.2 .5 .6 .5-.6 .2-.3 .3 0 .5 .8 .5-.3 .5 .6 .2-.5 .3 .1 .5 0 .5 .1 .5-.4 .2 0 .3 .6 .5-.1 .5-.2 .5 0 .2-.8 .3 1.5 .5-1.4 .5 .8 .5 .2 .2-.5 .3 .3 .5-.6 .5 .3 .5-.8 .2 .7 .3-.6 .5-.1 .5 1 .5-.8 .2 0 .3 .2 .5-.1 .5-.4 .5 .1 .2 .2 .3-1.2 .5 1.1 .5-1 .5-.2 .2-.5 .3-.1 .5-.5 .5 .6 .5-.2 .2-1.6 .3-.1 .5 0 .5-1.6 .5-1.1 .2-.3 .3-.9 .5-1.1 .5-2.1 .5-3.1 .2-.7 .3-1.7 .5-3.4 .5-3.2 .5-3 .2 .1 .3-2.6 .5-3.3 .5-2 .5-.4 .2-.6 .3 0 .5-.3 .5 1.2 .5 2.2 .2 2.2 .3 .8 .5 3 .5 3.8 .5 2.8 .2 .3 .3 2.4 .5 2.3 .5 2.5 .5 2.3 .2 1 .3 .4 .5 2 .5 1.9 .5-.1 .2 1 .3-.6 .5 .8 .5 .6 .5 0 .2 .7 .3-.2 .5 .6 .5-.5 .5 .4 .2 1.6 .3-1.5 .5 .7 .5-.1 .5 .3 .2-.2 .3 .8 .5-.2 .5-.2 .5 .3 .2 .4 .3-.9 .5 0 .5 1.1 .5-.9 .2 0 .3 .6 .5-.9 .5 .2 .5 0 .2 1.3 .3-.9 .5 .5 .5 0 .5-.4 .2-.4 .3 1.3 .5-.6 .5 .3 .5-.5 .2-.1 .3 .3 .5-.2 .5 .5 .5-.7 .2-.4 .3 .2 .5 .2 .5 .6 .5-.4 .2 .4 .3 .6 .5-.6 .5-.3 .5 .1 .2 1 .3-1.1 .5 .9 .5-1.1 .5-.5 .2 1.2 .3-.3 .5 .2 .5-.8 .5 1.7 .2-1.2 .3 0 .5 .2 .5-.1 .5 .1 .2 .4 .3-.1 .5-1.1 .5 .4 .5 1 .2-.5 .3 .2 .5-.7 .5 .5 .7-.3 2-.2 2 .5 2-.8 2 .7 2 .5 2 0 2-.9 2 .1 2-.1 2 .6 2-.3 2 .5 2-.7 2 .5 2 .1 2-.8 2 .6 2 .2 2-.2 2-.1 2 .1 .2 .1 .5 .5 .5-.8 .5-.2 .3-.4 .2 .6 .5 .4 .5-.8 .5-.2 .3 .2 .2 .6 .5-.5 .5 .1 .5 .5 .3-.1 .2-1.1 .5 1.3 .5-.3 .5 .1 .3 .5 .2-.5 .5-.5 .5 .4 .5 .1 .3 .3 .2-.6 .5 0 .5 .2 .5-.1 .3-.4 .2 1 .5-.6 .5 .5 .5-.7 .3-.6 .2 .1 .5 .6 .5 .1 .5 .4 .3-.8 .2 .5 .5 .6 .5-1.1 .5 .9 .3-.9 .2 .5 .5 .1 .5-.2 .5 .7 .3 0 .2-1.1 .5 .2 .5 .1 .5-.2 .3 .5 .2-.9 .5 .6 .5-.5 .5 1.4 .3-.5 .2-.4 .5 .5 .5 0 .5-.7 .3 .7 .2-1 .5 .2 .5-.3 .5 .3 .3 .3 .2 0 .5-.4 .5 .6 .5-.5 .3 .4 .2-.1 .5-.6 .5-.2 .5 .3 .3-.2 .2-.3 .5 .4 .5 .5 .5-.5 .3-1 .2-.1 .5-.1 .5-.7 .5 .1 .3 .6 .2-.7 .5-.8 .5-.7 .5 .5 .3 .4 .2-.4 .5-.5 .5-.6 .5 .7 .3-.6 .2-.6 .5 .8 .5 .9 .5 .2 .3 .8 .2-.3 .5 .7 .5-.5 .5 1 .3-.5 .2 .8 .5 .2 .5-.2 .5 .3 .3 .5 .2-.2 .5 0 .5 .2 .5 .9 .3-.6 .2 .5 .5-.5 .5 .2 .5 0 .3-.5 .2 1.1 .5-1.6 .5 1 .5 .1 .3-.2 .2 .5 .5-.8 .5-.1 .5 .3 .3-.3 .2 0 .5 0 .5 1.1 .5-.6 .3-.2 .2 .6 .5-1.1 .5 .7 .5 1 .3-1 .2-.4 .5 .5 .5 .4 .5-.1 .3-.4 .2 .2 .5-.3 .5 .3 .5 .4 .3-1 .2 1 .5-.2 .5-.5 .5 .3 .3 .2 .2 .2 .5-.6 .5 0 .5 .1 .3 .2 .2-.4 .5 .6 .5-.1 .5 1 .3-1 .2-.5 .5-.5 .5 1 .5 0 .3-.2 .2 .1 .5-.2 .5 .3 .5 .1 .3-.6 .2 .3 .5-.3 .5 .3 .5-.1 .3 .3 .2 .1 .5-.6 .5 .9 .5 .2 .3-.4 .2-.5 .5-.1 .5-.2 .5 .4 .3-.3 .2 .3 1.8 .1 2-.2 2 .6 2-.8 2 .2 2 0 2 0 2-.2 2 .6 2-.6 2 .7 2-.5 2-.6 2 .8 2-.5 2 0 2 .2 2 0 2 .6 2-.4 2 .2 2 0 2 0 2-.1 2-.4 2 .4 2 .6 2-1.1 2 .6 2-.7 2 .6 2-.5 2-.5 2 .5 2 .6 2 .1 2 .1 2-.3 2-.3 2-.1 2 .1 2 .4 2-.4 2 .4 2-.1 2-.1 2-.8 2 1.2 2 .3 2-.1 2-.8 2 .1 2-.8 2 .7 2 .4 2-1.1 2 .9 .1 .4 1-.7 .9 .1 .1 .3 1-.2 .9 .2 .1-.2 1 .6 .9-1.2 .1 .6 1 .5 .9 .1 .1-.4 1-.8 .9-.2 .1 .8 1-.2 .9 .2 .1-.2 1 .2 .9-.3 .1 .8 1-.9 .9-.5 .1 .1 1-.5 .9-.8 .1 1.2 1-2.9 .9 .8 .1 .1 1 .5 .9-.8 .1 .3 1 1.2 .9-.9 .1 .9 .2-.3 .5 .5 .3 .6 .2 0 .5 .1 .2 .4 .1-.7 .2 .7 .5 .1 .3-.7 .2 .2 .5-.2 .2 .1 .1-.5 .2 1.5 .5 0 .3-.4 .2-.9 .5 .8 .2 .2 .1 1.1 .2-1.5 .5 .5 .3 1.1 .2-1.7 .5 .3 .2-.1 .1 .6 .2-.3 .5-.5 .3 .5 .2 .3 .5 .5 .2-.1 .1-.4 .2-.2 .5-.5 .3 1.2 .2-.5 .5-.6 .2 .7 .1-.4 .2-.3 .5 .6 .3-.6 .2 .6 .5-.1 .2-.6 .1 .4 .2-.7 .5 1.1 .3 .2 .2-1.6 .5 1.2 .2 .2 .1 .7 .2-.2 .5-.1 .3-.8 .2-.1 .5 .4 .2 .2 .1-.2 .2-.3 .5 0 .5 .1 .5-.3 .2 .3 .3-.2 .5-.5 .5 .9 .5 .1 .2-.5 .3-.9 .5 1.8 .5-.5 .5-.5 .2 .1 .3 .1 .5 .1 .5 .2 .5-.2 .2-.6 .3 1.3 .5-.4 .5-.6 .5-.1 .2 0 .3 .4 .5-.7 .5 .8 .5-.1 .2 .1 .3-.7 .5-.2 .5 .6 .5-.4 .2-1 .3-.1 .5 .9 .5-.4 .5-1.4 .2 .2 .3 .4 .5-.7 .5-.5 .5-1.6 .2 .3 .3-.7 .5-.3 .5-.9 .5-.7 .2-.2 .3 .2 .5-.7 .5 .1 .5 .2 .2 .4 .3-.5 .5 .9 .5 .4 .5 1.2 .2-.6 .3 .7 .5 1.1 .5 .4 .5-.2 .2 .3 .3 .2 .5 1.2 .5 .3 .5-.2 .2 .2 .3 .4 .5 .9 .5-.1 .5-.9 .2 1 .3-.4 .5 1.1 .5-1.8 .5 1.6 .2-.5 .3 .1 .5 .4 .5 .1 .5-1 .2 .7 .3-.2 .5-.3 .5 .2 .2 .5 .3-.6 .2 .3 .3-.2 .2 .8 .3-.3 .2-.9 .3 .2 .2 .2 .3 .3 .2-.1 .3 0 .2 .4 .3-.3 .2 0 .3-.5 .2-.1 .3-.1 .2 1.4 .3-.8 .2 .2 .3 1 .2-.3 .3-.6 .2-.2 .3-.2 .2 .4 .3-.2 .2 .3 .3-.9 .2 .3 .3 .1 .2-.2 .3 .3 .2 .2 .3 .1 .2-.3 .3-.8 .2 .4 .3 1.1 .2-.9 .3 .1 .2 .6 .3-.6 .2 .5 .3 .1 .2-.5 .3-.1 .2 .1 .3-.1 .2 .3 .3 .5 .2-2.2 .3 1.4 .2-.5 .3 .5 .2-.2 .3-.6 .2 .3 .3 .2 .2 1.1 .3-1.5 .2 1 .3-.7 .2-.7 .3 1.2 .2 .1 .3-.3 .2 .5 .3 .1 .2-.6 .3 .3 .2-.3 .3-.6 .2 1 .3-.8 .2 .2 .3 .6 .2-.4 .3 1 .2-1.1 .3 .2 .2 .2 .3-.3 .2-.4 .3 .4 .2-1 .3 .6 .2 .3 .3-.1 .2-.1 .3 .4 .2 .1 .3-1 .2 .5 .3 .2 .2-.1 .3-.4 .2 .3 .3 .1 .2 .1 .5-1 .5 .2 .5 1 .5-.8 .5-.2 .5-1 .5 .1 .5 .3 .5-.2 .5 0 .5-.7 .5-.8 .5-1.1 .5-.7 .5-.3 .5-1 .5-1.5 .5-2 .5-2.7 .5-2.1 .5-2.6 .5-2.7 .5-2.3 .5-2.9 .5-2.4 .5-1.4 .5-1.2 .5-1.3 .5 .7 .5 1.1 .5 2 .5 2.3 .5 2.8 .5 3 .5 2.5 .5 2.2 .5 2.3 .5 2.3 .5 1.7 .5 1.4 .5 1.1 .5 .3 .5 1.6 .5 .9 .5 .7 .5 .8 .5 0 .5 .1 .5 .1 .5 .2 .5 0 .5 .2 .5 1.5 .5-.6 .5-.4 .5 .8 .5-.4 .5 .5 .5-1 .5 .6 .5-.1 .5-.2 .5 .4 .5-.3 .5 .2 .5 0 .5 .3 .5 .3 .5-.8 .5-.8 .5 .8 .5 .7 .5 .3 .5 .1 .5-.9 .5 .5 .5 0 .5 0 .5-.4 .5 .3 .5 .1 .5-.1 .5-.1 .5 .5 .5-.1 .5-.1 .5 .7 .5-.7 .5-.1 .5 0 .5-.2 .5 .6 .5-.6 .5-1 .5 .8 .5 .2 .5 .6 .5 .1 .5-1 .5 .7 .5-.6 .5 .2 .5 .3 .5-.3 .5 .5 .5-.3 .5-.3 2 0 .5 .3"/>
</g>
<g fill="#505050"><rect x="222.2" y="1474.0" width="2.4" height="48.5"/><rect x="270.8" y="1474.0" width="2.4" height="48.5"/><rect x="281.1" y="1474.0" width="2.4" height="48.5"/><rect x="320.3" y="1474.0" width="2.4" height="48.5"/><rect x="432.3" y="1474.0" width="3.7" height="48.5"/><rect x="438.2" y="1474.0" width="3.0" height="48.5"/><rect x="442.2" y="1474.0" width="2.7" height="48.5"/><rect x="469.0" y="1474.0" width="3.8" height="48.5"/><rect x="500.3" y="1474.0" width="6.6" height="48.5"/><rect x="532.1" y="1474.0" width="8.0" height="48.5"/><rect x="544.9" y="1474.0" width="4.1" height="48.5"/><rect x="565.1" y="1474.0" width="8.0" height="48.5"/><rect x="602.0" y="1474.0" width="3.8" height="48.5"/><rect x="621.2" y="1474.0" width="6.9" height="48.5"/><rect x="669.0" y="1474.0" width="4.1" height="48.5"/><rect x="688.1" y="1474.0" width="3.9" height="48.5"/><rect x="695.1" y="1474.0" width="3.9" height="48.5"/><rect x="702.0" y="1474.0" width="5.1" height="48.5"/><rect x="746.9" y="1474.0" width="10.3" height="48.5"/><rect x="761.0" y="1474.0" width="5.1" height="48.5"/><rect x="767.9" y="1474.0" width="5.1" height="48.5"/><rect x="781.0" y="1474.0" width="7.8" height="48.5"/><rect x="791.0" y="1474.0" width="5.0" height="48.5"/><rect x="852.2" y="1474.0" width="4.6" height="48.5"/><rect x="858.0" y="1474.0" width="5.0" height="48.5"/><rect x="865.0" y="1474.0" width="8.0" height="48.5"/><rect x="881.0" y="1474.0" width="4.0" height="48.5"/><rect x="890.0" y="1474.0" width="9.0" height="48.5"/><rect x="906.0" y="1474.0" width="11.2" height="48.5"/><rect x="918.0" y="1474.0" width="2.0" height="48.5"/><rect x="923.0" y="1474.0" width="6.0" height="48.5"/><rect x="935.0" y="1474.0" width="5.0" height="48.5"/><rect x="956.2" y="1474.0" width="4.7" height="48.5"/><rect x="962.3" y="1474.0" width="4.8" height="48.5"/><rect x="972.3" y="1474.0" width="7.5" height="48.5"/><rect x="1002.1" y="1474.0" width="4.9" height="48.5"/><rect x="1012.1" y="1474.0" width="2.1" height="48.5"/><rect x="1015.3" y="1474.0" width="2.6" height="48.5"/><rect x="1021.0" y="1474.0" width="4.9" height="48.5"/><rect x="1038.2" y="1474.0" width="4.5" height="48.5"/><rect x="1045.4" y="1474.0" width="7.5" height="48.5"/><rect x="1057.2" y="1474.0" width="1.6" height="48.5"/><rect x="1060.0" y="1474.0" width="3.0" height="48.5"/><rect x="1066.1" y="1474.0" width="8.5" height="48.5"/><rect x="1076.3" y="1474.0" width="19.6" height="48.5"/><rect x="1097.0" y="1474.0" width="1.7" height="48.5"/><rect x="1099.8" y="1474.0" width="2.0" height="48.5"/><rect x="1107.3" y="1474.0" width="1.9" height="48.5"/><rect x="1110.0" y="1474.0" width="3.0" height="48.5"/><rect x="1114.2" y="1474.0" width="2.8" height="48.5"/><rect x="1120.0" y="1474.0" width="2.0" height="48.5"/><rect x="1123.4" y="1474.0" width="2.7" height="48.5"/><rect x="1142.3" y="1474.0" width="2.4" height="48.5"/><rect x="1146.0" y="1474.0" width="2.0" height="48.5"/><rect x="1149.0" y="1474.0" width="6.0" height="48.5"/><rect x="1160.0" y="1474.0" width="12.0" height="48.5"/><rect x="1174.0" y="1474.0" width="2.0" height="48.5"/><rect x="1177.3" y="1474.0" width="2.7" height="48.5"/><rect x="1182.0" y="1474.0" width="2.0" height="48.5"/><rect x="1185.0" y="1474.0" width="2.7" height="48.5"/><rect x="1190.0" y="1474.0" width="10.0" height="48.5"/><rect x="1201.0" y="1474.0" width="2.8" height="48.5"/><rect x="1206.0" y="1474.0" width="6.7" height="48.5"/><rect x="1214.0" y="1474.0" width="8.7" height="48.5"/><rect x="1234.0" y="1474.0" width="2.0" height="48.5"/><rect x="1237.0" y="1474.0" width="8.7" height="48.5"/><rect x="1247.0" y="1474.0" width="3.0" height="48.5"/><rect x="1251.0" y="1474.0" width="3.0" height="48.5"/><rect x="1268.0" y="1474.0" width="8.0" height="48.5"/><rect x="1281.0" y="1474.0" width="2.5" height="48.5"/><rect x="1284.8" y="1474.0" width="3.2" height="48.5"/><rect x="1290.0" y="1474.0" width="11.0" height="48.5"/><rect x="1303.1" y="1474.0" width="1.9" height="48.5"/><rect x="1306.2" y="1474.0" width="1.7" height="48.5"/><rect x="1310.2" y="1474.0" width="3.5" height="48.5"/><rect x="1316.1" y="1474.0" width="17.7" height="48.5"/><rect x="1336.0" y="1474.0" width="15.9" height="48.5"/><rect x="1354.3" y="1474.0" width="7.5" height="48.5"/><rect x="1363.2" y="1474.0" width="3.6" height="48.5"/><rect x="1369.0" y="1474.0" width="2.0" height="48.5"/><rect x="1372.1" y="1474.0" width="2.8" height="48.5"/><rect x="1383.1" y="1474.0" width="2.8" height="48.5"/></g><g fill="#F00"><rect x="551.2" y="1543.5" width="2.8" height="38.5"/><rect x="588.3" y="1543.5" width="2.8" height="38.5"/><rect x="641.1" y="1543.5" width="2.8" height="38.5"/><rect x="795.5" y="1543.5" width="2.8" height="38.5"/><rect x="864.1" y="1543.5" width="2.8" height="38.5"/><rect x="877.9" y="1543.5" width="2.8" height="38.5"/><rect x="1041.3" y="1543.5" width="2.8" height="38.5"/><rect x="1050.4" y="1543.5" width="2.8" height="38.5"/><rect x="1069.6" y="1543.5" width="2.8" height="38.5"/><rect x="1116.9" y="1543.5" width="2.8" height="38.5"/><rect x="1158.4" y="1543.5" width="2.8" height="38.5"/><rect x="1206.0" y="1543.5" width="2.8" height="38.5"/><rect x="1253.2" y="1543.5" width="2.8" height="38.5"/><rect x="1303.6" y="1543.5" width="2.8" height="38.5"/><rect x="1313.1" y="1543.5" width="2.8" height="38.5"/><rect x="1332.3" y="1543.5" width="2.8" height="38.5"/><rect x="1370.6" y="1543.5" width="2.8" height="38.5"/><rect x="1412.0" y="1543.5" width="2.8" height="38.5"/><rect x="1448.6" y="1543.5" width="2.8" height="38.5"/><rect x="1482.6" y="1543.5" width="2.8" height="38.5"/><rect x="1500.6" y="1543.5" width="2.8" height="38.5"/><rect x="1526.1" y="1543.5" width="2.8" height="38.5"/><rect x="1552.9" y="1543.5" width="2.8" height="38.5"/><rect x="1632.2" y="1543.5" width="2.8" height="38.5"/><rect x="1659.3" y="1543.5" width="2.8" height="38.5"/><rect x="1681.5" y="1543.5" width="2.8" height="38.5"/><rect x="1764.3" y="1543.5" width="2.8" height="38.5"/><rect x="1795.0" y="1543.5" width="2.8" height="38.5"/><rect x="1827.9" y="1543.5" width="2.8" height="38.5"/><rect x="1859.3" y="1543.5" width="2.8" height="38.5"/><rect x="1876.8" y="1543.5" width="2.8" height="38.5"/><rect x="1947.2" y="1543.5" width="2.8" height="38.5"/></g>
<g fill="#505050"><rect x="227.1" y="3503.5" width="2.4" height="48.0"/><rect x="275.6" y="3503.5" width="2.4" height="48.0"/><rect x="285.9" y="3503.5" width="2.4" height="48.0"/><rect x="325.0" y="3503.5" width="2.4" height="48.0"/><rect x="473.3" y="3503.5" width="3.8" height="48.0"/><rect x="504.5" y="3503.5" width="6.6" height="48.0"/><rect x="536.3" y="3503.5" width="8.0" height="48.0"/><rect x="549.0" y="3503.5" width="4.1" height="48.0"/><rect x="569.2" y="3503.5" width="8.0" height="48.0"/><rect x="606.0" y="3503.5" width="3.8" height="48.0"/><rect x="625.2" y="3503.5" width="6.9" height="48.0"/><rect x="672.8" y="3503.5" width="4.1" height="48.0"/><rect x="691.9" y="3503.5" width="3.9" height="48.0"/><rect x="698.9" y="3503.5" width="3.9" height="48.0"/><rect x="705.8" y="3503.5" width="5.1" height="48.0"/><rect x="750.6" y="3503.5" width="10.3" height="48.0"/><rect x="764.6" y="3503.5" width="5.1" height="48.0"/><rect x="771.5" y="3503.5" width="5.1" height="48.0"/><rect x="784.6" y="3503.5" width="7.8" height="48.0"/><rect x="794.5" y="3503.5" width="5.0" height="48.0"/><rect x="855.6" y="3503.5" width="4.6" height="48.0"/><rect x="861.4" y="3503.5" width="5.0" height="48.0"/><rect x="868.4" y="3503.5" width="8.0" height="48.0"/><rect x="884.3" y="3503.5" width="4.0" height="48.0"/><rect x="893.3" y="3503.5" width="9.0" height="48.0"/><rect x="909.3" y="3503.5" width="11.2" height="48.0"/><rect x="921.2" y="3503.5" width="2.0" height="48.0"/><rect x="926.2" y="3503.5" width="6.0" height="48.0"/><rect x="938.2" y="3503.5" width="5.0" height="48.0"/><rect x="959.4" y="3503.5" width="4.7" height="48.0"/><rect x="965.4" y="3503.5" width="4.8" height="48.0"/><rect x="975.4" y="3503.5" width="7.5" height="48.0"/><rect x="1005.1" y="3503.5" width="4.9" height="48.0"/><rect x="1015.1" y="3503.5" width="2.1" height="48.0"/><rect x="1018.3" y="3503.5" width="2.6" height="48.0"/><rect x="1024.0" y="3503.5" width="4.9" height="48.0"/><rect x="1041.2" y="3503.5" width="4.5" height="48.0"/><rect x="1048.3" y="3503.5" width="7.5" height="48.0"/><rect x="1060.1" y="3503.5" width="1.6" height="48.0"/><rect x="1062.9" y="3503.5" width="3.0" height="48.0"/><rect x="1069.0" y="3503.5" width="8.5" height="48.0"/><rect x="1079.2" y="3503.5" width="19.6" height="48.0"/><rect x="1099.8" y="3503.5" width="1.7" height="48.0"/><rect x="1102.6" y="3503.5" width="2.0" height="48.0"/><rect x="1110.1" y="3503.5" width="1.9" height="48.0"/><rect x="1112.8" y="3503.5" width="3.0" height="48.0"/><rect x="1117.0" y="3503.5" width="2.8" height="48.0"/><rect x="1122.8" y="3503.5" width="2.0" height="48.0"/><rect x="1126.2" y="3503.5" width="2.7" height="48.0"/><rect x="1145.0" y="3503.5" width="2.4" height="48.0"/><rect x="1148.7" y="3503.5" width="2.0" height="48.0"/><rect x="1151.7" y="3503.5" width="6.0" height="48.0"/><rect x="1162.7" y="3503.5" width="12.0" height="48.0"/><rect x="1176.6" y="3503.5" width="2.0" height="48.0"/><rect x="1179.9" y="3503.5" width="2.7" height="48.0"/><rect x="1184.6" y="3503.5" width="2.0" height="48.0"/><rect x="1187.6" y="3503.5" width="2.7" height="48.0"/><rect x="1192.6" y="3503.5" width="10.0" height="48.0"/><rect x="1203.6" y="3503.5" width="2.8" height="48.0"/><rect x="1208.6" y="3503.5" width="6.7" height="48.0"/><rect x="1216.5" y="3503.5" width="8.7" height="48.0"/><rect x="1236.5" y="3503.5" width="2.0" height="48.0"/><rect x="1239.5" y="3503.5" width="8.7" height="48.0"/><rect x="1249.5" y="3503.5" width="3.0" height="48.0"/><rect x="1253.5" y="3503.5" width="3.0" height="48.0"/><rect x="1270.4" y="3503.5" width="8.0" height="48.0"/><rect x="1283.4" y="3503.5" width="2.5" height="48.0"/><rect x="1287.2" y="3503.5" width="3.2" height="48.0"/><rect x="1292.4" y="3503.5" width="11.0" height="48.0"/><rect x="1305.4" y="3503.5" width="1.9" height="48.0"/><rect x="1308.5" y="3503.5" width="1.7" height="48.0"/><rect x="1312.5" y="3503.5" width="3.5" height="48.0"/><rect x="1318.4" y="3503.5" width="17.7" height="48.0"/><rect x="1338.3" y="3503.5" width="15.9" height="48.0"/><rect x="1356.5" y="3503.5" width="7.5" height="48.0"/><rect x="1365.4" y="3503.5" width="3.6" height="48.0"/><rect x="1371.2" y="3503.5" width="2.0" height="48.0"/><rect x="1374.3" y="3503.5" width="2.8" height="48.0"/><rect x="1385.2" y="3503.5" width="2.8" height="48.0"/><rect x="436.7" y="3503.5" width="12.5" height="48.0"/></g><g fill="#F00"><rect x="555.3" y="3573.5" width="2.8" height="38.5"/><rect x="592.3" y="3573.5" width="2.8" height="38.5"/><rect x="645.0" y="3573.5" width="2.8" height="38.5"/><rect x="799.0" y="3573.5" width="2.8" height="38.5"/><rect x="867.5" y="3573.5" width="2.8" height="38.5"/><rect x="881.2" y="3573.5" width="2.8" height="38.5"/><rect x="1044.3" y="3573.5" width="2.8" height="38.5"/><rect x="1053.3" y="3573.5" width="2.8" height="38.5"/><rect x="1072.5" y="3573.5" width="2.8" height="38.5"/><rect x="1119.7" y="3573.5" width="2.8" height="38.5"/><rect x="1161.1" y="3573.5" width="2.8" height="38.5"/><rect x="1208.6" y="3573.5" width="2.8" height="38.5"/><rect x="1255.6" y="3573.5" width="2.8" height="38.5"/><rect x="1305.9" y="3573.5" width="2.8" height="38.5"/><rect x="1315.4" y="3573.5" width="2.8" height="38.5"/><rect x="1334.6" y="3573.5" width="2.8" height="38.5"/><rect x="1372.8" y="3573.5" width="2.8" height="38.5"/><rect x="1414.1" y="3573.5" width="2.8" height="38.5"/><rect x="1450.6" y="3573.5" width="2.8" height="38.5"/><rect x="1484.5" y="3573.5" width="2.8" height="38.5"/><rect x="1502.5" y="3573.5" width="2.8" height="38.5"/><rect x="1527.9" y="3573.5" width="2.8" height="38.5"/><rect x="1554.6" y="3573.5" width="2.8" height="38.5"/><rect x="1633.7" y="3573.5" width="2.8" height="38.5"/><rect x="1660.8" y="3573.5" width="2.8" height="38.5"/><rect x="1682.9" y="3573.5" width="2.8" height="38.5"/><rect x="1765.5" y="3573.5" width="2.8" height="38.5"/><rect x="1796.2" y="3573.5" width="2.8" height="38.5"/><rect x="1829.0" y="3573.5" width="2.8" height="38.5"/><rect x="1860.3" y="3573.5" width="2.8" height="38.5"/><rect x="1877.8" y="3573.5" width="2.8" height="38.5"/><rect x="1948.0" y="3573.5" width="2.8" height="38.5"/></g>
<g fill="#000"><rect x="176.0" y="39.0" width="2100.0" height="6"/><rect x="176.0" y="39.0" width="6" height="1547.5"/><rect x="2270.0" y="39.0" width="6" height="1547.5"/><rect x="176.0" y="1581.0" width="2100.0" height="5.5"/><rect x="176.3" y="1586.5" width="5.4" height="27.5"/><rect x="325.9" y="1586.5" width="5.4" height="12.5"/><rect x="475.4" y="1586.5" width="5.4" height="27.5"/><rect x="625.0" y="1586.5" width="5.4" height="12.5"/><rect x="774.6" y="1586.5" width="5.4" height="27.5"/><rect x="924.1" y="1586.5" width="5.4" height="12.5"/><rect x="1073.7" y="1586.5" width="5.4" height="27.5"/><rect x="1223.3" y="1586.5" width="5.4" height="12.5"/><rect x="1372.9" y="1586.5" width="5.4" height="27.5"/><rect x="1522.4" y="1586.5" width="5.4" height="12.5"/><rect x="1672.0" y="1586.5" width="5.4" height="27.5"/><rect x="1821.6" y="1586.5" width="5.4" height="12.5"/><rect x="1971.1" y="1586.5" width="5.4" height="27.5"/><rect x="2120.7" y="1586.5" width="5.4" height="12.5"/><rect x="2270.6" y="1586.5" width="5.4" height="27.5"/></g><g class="t" font-size="74" text-anchor="middle"><text x="179.0" y="1692.5">10</text><text x="478.1" y="1692.5">20</text><text x="777.3" y="1692.5">30</text><text x="1076.4" y="1692.5">40</text><text x="1375.6" y="1692.5">50</text><text x="1674.7" y="1692.5">60</text><text x="1973.8" y="1692.5">70</text><text x="2273.0" y="1692.5">80</text></g>
<g fill="#000"><rect x="181.0" y="2065.0" width="2095.0" height="6"/><rect x="181.0" y="2065.0" width="6" height="1551.5"/><rect x="2270.0" y="2065.0" width="6" height="1551.5"/><rect x="181.0" y="3611.0" width="2095.0" height="5.5"/><rect x="181.3" y="3616.5" width="5.4" height="27.5"/><rect x="330.5" y="3616.5" width="5.4" height="12.5"/><rect x="479.7" y="3616.5" width="5.4" height="27.5"/><rect x="628.9" y="3616.5" width="5.4" height="12.5"/><rect x="778.2" y="3616.5" width="5.4" height="27.5"/><rect x="927.4" y="3616.5" width="5.4" height="12.5"/><rect x="1076.6" y="3616.5" width="5.4" height="27.5"/><rect x="1225.8" y="3616.5" width="5.4" height="12.5"/><rect x="1375.0" y="3616.5" width="5.4" height="27.5"/><rect x="1524.2" y="3616.5" width="5.4" height="12.5"/><rect x="1673.5" y="3616.5" width="5.4" height="27.5"/><rect x="1822.7" y="3616.5" width="5.4" height="12.5"/><rect x="1971.9" y="3616.5" width="5.4" height="27.5"/><rect x="2121.1" y="3616.5" width="5.4" height="12.5"/><rect x="2270.6" y="3616.5" width="5.4" height="27.5"/></g><g class="t" font-size="74" text-anchor="middle"><text x="184.0" y="3722.5">10</text><text x="482.4" y="3722.5">20</text><text x="780.9" y="3722.5">30</text><text x="1079.3" y="3722.5">40</text><text x="1377.7" y="3722.5">50</text><text x="1676.2" y="3722.5">60</text><text x="1974.6" y="3722.5">70</text><text x="2273.0" y="3722.5">80</text></g>
<text class="t" font-size="97" x="1225" y="1793.5" text-anchor="middle">2θ(Degree)</text>
<text class="t" font-size="97" x="1227.4" y="3830" text-anchor="middle">2θ(Degree)</text>
<text class="t" font-size="96.2" text-anchor="middle" transform="translate(100 865.5) rotate(-90)">Intensity(a.u.)</text>
<text class="t" font-size="97" text-anchor="middle" transform="translate(112 2896) rotate(-90)">Intensity(a.u.)</text>
<text class="n" font-size="86" text-anchor="middle" transform="translate(1148 1978.5) scale(0.95 1)">(<tspan class="t">a</tspan>)</text>
<text class="n" font-size="86" text-anchor="middle" transform="translate(1147.3 4008.5) scale(0.97 1)">(<tspan class="t">b</tspan>)</text>
<text class="t" font-size="44.5" x="186.5" y="543.0">Sample C<tspan font-size="32" dy="11">6</tspan></text>
<text class="t" font-size="44.5" x="184.5" y="669.6">Sample C<tspan font-size="32" dy="11">5</tspan></text>
<text class="t" font-size="44.5" x="186.5" y="806.6">Sample C<tspan font-size="32" dy="11">4</tspan></text>
<text class="t" font-size="44.5" x="184.5" y="932.3">Sample C<tspan font-size="32" dy="11">3</tspan></text>
<text class="t" font-size="44.5" x="183.8" y="1055.6">Sample C<tspan font-size="32" dy="11">2</tspan></text>
<text class="t" font-size="44.5" x="188.9" y="1161.8">Sample C<tspan font-size="32" dy="11">1</tspan></text>
<text class="t" font-size="44.5" x="181.7" y="1285.0">Sample B<tspan font-size="32" dy="11">2</tspan></text>
<text class="t" font-size="44.5" x="180.3" y="1396.0">Sample B<tspan font-size="32" dy="11">1</tspan></text>
<text class="t" font-size="44.5" x="206.1" y="2583.4">Sample C<tspan font-size="32" dy="11">6</tspan></text>
<text class="t" font-size="44.5" x="204.7" y="2711.0">Sample C<tspan font-size="32" dy="11">5</tspan></text>
<text class="t" font-size="44.5" x="206.1" y="2846.8">Sample C<tspan font-size="32" dy="11">4</tspan></text>
<text class="t" font-size="44.5" x="204.7" y="2974.0">Sample C<tspan font-size="32" dy="11">3</tspan></text>
<text class="t" font-size="44.5" x="204.7" y="3097.4">Sample C<tspan font-size="32" dy="11">2</tspan></text>
<text class="t" font-size="44.5" x="209.5" y="3203.5">Sample C<tspan font-size="32" dy="11">1</tspan></text>
<text class="t" font-size="44.5" x="202.0" y="3325.8">Sample B<tspan font-size="32" dy="11">2</tspan></text>
<text class="t" font-size="44.5" x="200.3" y="3427.7">Sample B<tspan font-size="32" dy="11">1</tspan></text>
<text class="sym" font-size="100" text-anchor="middle" transform="translate(1568.5 117.8) scale(0.7120 0.6490)">♠</text><text class="t" font-size="81" x="1613.0" y="120.7">Al</text><text class="sym" font-size="100" text-anchor="middle" transform="translate(1568.2 211.4) scale(0.5875 0.6320)">♥</text><text class="t" font-size="81" x="1621.2" y="211.0">Si</text><rect x="1562.0" y="230.9" width="3.8" height="81.9" fill="#000"/><text class="t" font-size="80" x="1599.7" y="308.7">ZrMgMo<tspan font-size="56" dx="1" dy="22">3</tspan><tspan dx="2" dy="-22">O</tspan><tspan font-size="55" dx="2" dy="22">12</tspan></text><rect x="1562.0" y="361.8" width="3.8" height="83.1" fill="#FF0000"/><text class="t" font-size="80" x="1605.7" y="425.3">Sm<tspan font-size="57" dy="23">0.85</tspan><tspan dy="-23">Zn</tspan><tspan font-size="57" dy="23">0.15</tspan><tspan dy="-23">MnO</tspan><tspan font-size="57" dy="23">3</tspan></text>
<text class="sym" font-size="100" text-anchor="middle" transform="translate(1583.4 2154.0) scale(0.7120 0.6490)">♠</text><text class="t" font-size="81" x="1631.7" y="2156.8">Al</text><text class="sym" font-size="100" text-anchor="middle" transform="translate(1583.9 2250.3) scale(0.5875 0.6320)">♥</text><text class="t" font-size="81" x="1641.4" y="2250.7">Si</text><rect x="1577.8" y="2274.4" width="3.8" height="80.8" fill="#000"/><text class="t" font-size="80" x="1632.9" y="2344.1">ZrMgMo<tspan font-size="56" dx="1" dy="22">3</tspan><tspan dx="2" dy="-22">O</tspan><tspan font-size="55" dx="2" dy="22">12</tspan></text><rect x="1577.8" y="2392.2" width="3.8" height="81.8" fill="#FF0000"/><text class="t" font-size="80" x="1620.2" y="2466.7">Sm<tspan font-size="57" dy="23">0.85</tspan><tspan dy="-23">Zn</tspan><tspan font-size="57" dy="23">0.15</tspan><tspan dy="-23">MnO</tspan><tspan font-size="57" dy="23">3</tspan></text>
<text class="sym" font-size="100" text-anchor="middle" transform="translate(733.2 463.8) scale(0.5875 0.6320)">♥</text>
<text class="sym" font-size="100" text-anchor="middle" transform="translate(1031.7 419.9) scale(0.7120 0.6490)">♠</text>
<text class="sym" font-size="100" text-anchor="middle" transform="translate(1215.6 486.8) scale(0.7120 0.6490)">♠</text>
<text class="sym" font-size="100" text-anchor="middle" transform="translate(1300.0 500.0) scale(0.5875 0.6320)">♥</text>
<text class="sym" font-size="100" text-anchor="middle" transform="translate(1556.0 536.9) scale(0.5875 0.6320)">♥</text>
<text class="sym" font-size="100" text-anchor="middle" transform="translate(1823.6 521.3) scale(0.7120 0.6490)">♠</text>
<text class="sym" font-size="100" text-anchor="middle" transform="translate(1946.6 539.2) scale(0.5875 0.6320)">♥</text>
<text class="sym" font-size="100" text-anchor="middle" transform="translate(2162.0 544.7) scale(0.5875 0.6320)">♥</text>
<text class="sym" font-size="100" text-anchor="middle" transform="translate(2221.6 521.3) scale(0.7120 0.6490)">♠</text>
<text class="sym" font-size="100" text-anchor="middle" transform="translate(753.2 2572.1) scale(0.5875 0.6320)">♥</text>
<text class="sym" font-size="100" text-anchor="middle" transform="translate(1044.8 2508.1) scale(0.7120 0.6490)">♠</text>
<text class="sym" font-size="100" text-anchor="middle" transform="translate(1229.3 2551.1) scale(0.7120 0.6490)">♠</text>
<text class="sym" font-size="100" text-anchor="middle" transform="translate(1312.7 2565.2) scale(0.5875 0.6320)">♥</text>
<text class="sym" font-size="100" text-anchor="middle" transform="translate(1571.0 2588.0) scale(0.5875 0.6320)">♥</text>
<text class="sym" font-size="100" text-anchor="middle" transform="translate(1836.8 2578.4) scale(0.7120 0.6490)">♠</text>
<text class="sym" font-size="100" text-anchor="middle" transform="translate(1959.8 2606.0) scale(0.5875 0.6320)">♥</text>
<text class="sym" font-size="100" text-anchor="middle" transform="translate(2172.2 2602.8) scale(0.5875 0.6320)">♥</text>
<text class="sym" font-size="100" text-anchor="middle" transform="translate(2226.0 2581.0) scale(0.7120 0.6490)">♠</text>
</svg></body></html>
